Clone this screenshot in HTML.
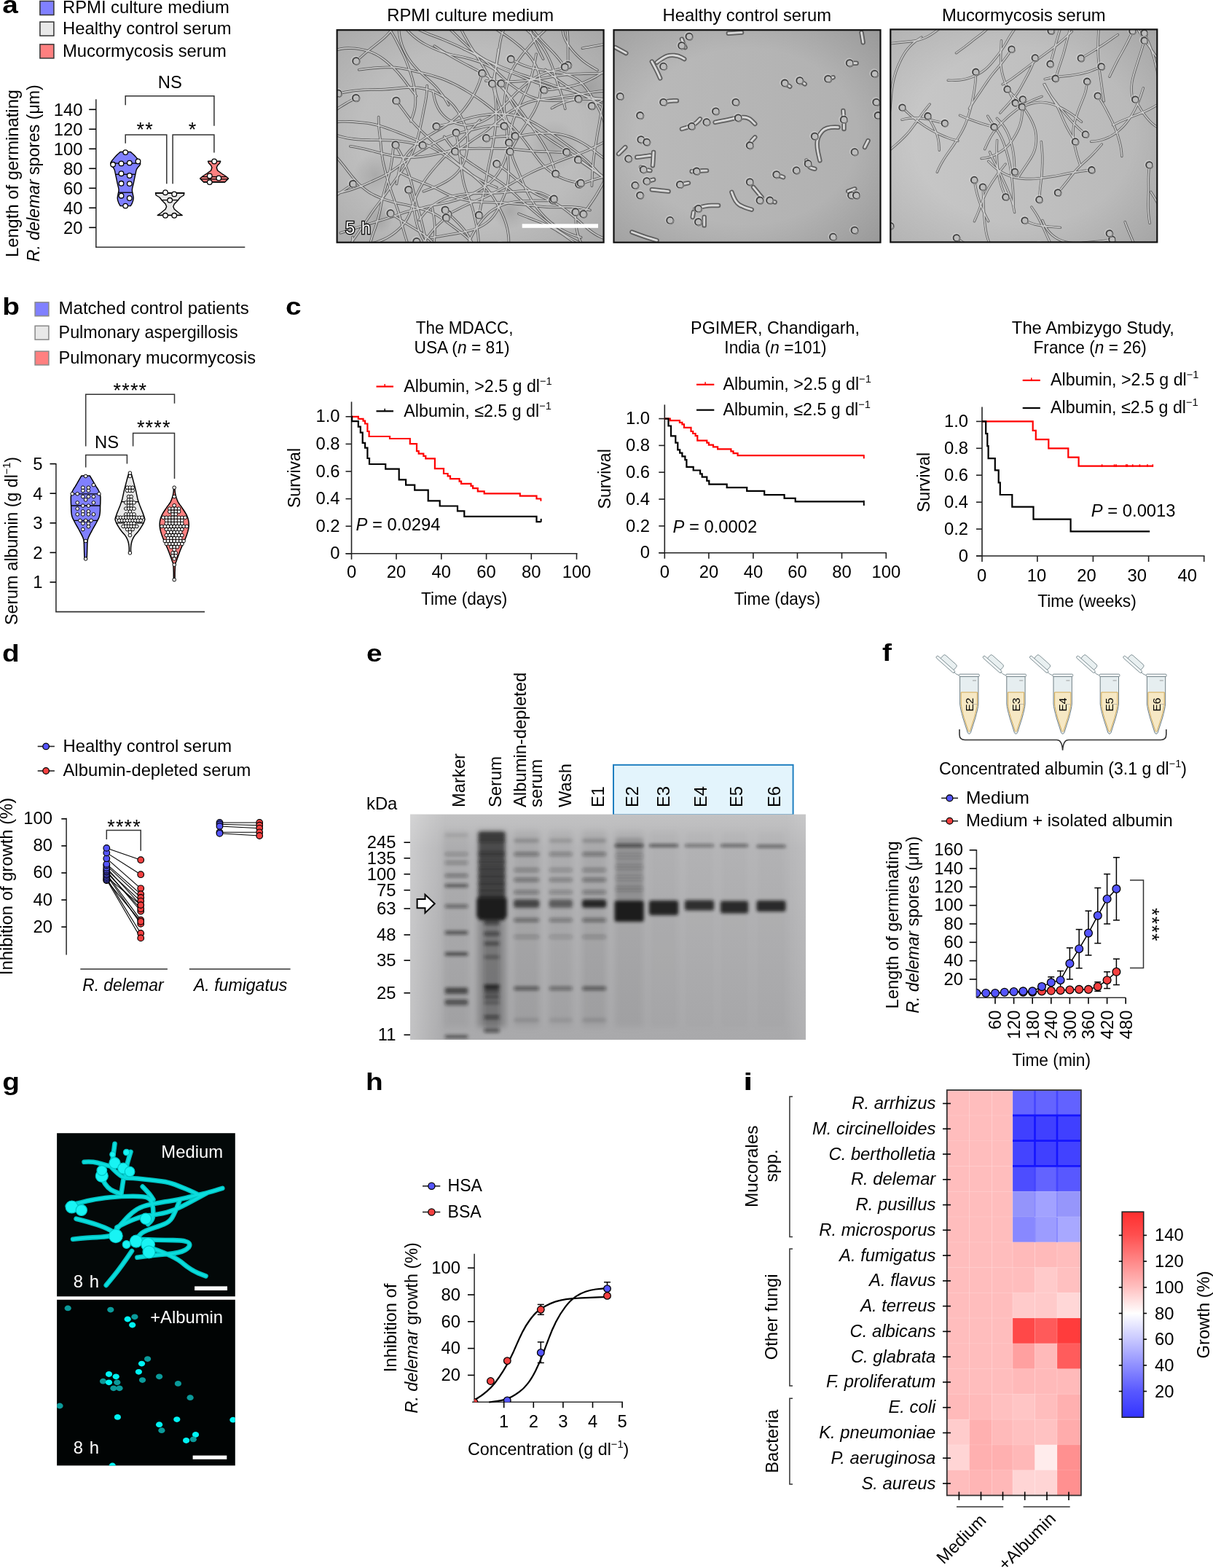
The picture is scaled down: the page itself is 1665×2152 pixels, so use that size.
<!DOCTYPE html>
<html><head><meta charset="utf-8"><title>Figure</title>
<style>
html,body{margin:0;padding:0;background:#fff;}
svg{display:block;}
</style></head><body>
<svg width="1665" height="2152" viewBox="0 0 1665 2152" font-family='"Liberation Sans", Arial, Helvetica, sans-serif' font-size="23.8">
<rect width="1665" height="2152" fill="#fff"/>
<text transform="translate(3.2 17.8) scale(1.14 1)" font-size="34" font-weight="bold">a</text>
<rect x="54.9" y="1.5" width="19.0" height="19.0" fill="#8080ff" stroke="#333" stroke-width="1.5"/>
<text x="86.0" y="17.9">RPMI culture medium</text>
<rect x="54.9" y="30.1" width="19.0" height="19.0" fill="#e8e8e8" stroke="#333" stroke-width="1.5"/>
<text x="86.0" y="47.2">Healthy control serum</text>
<rect x="54.9" y="60.9" width="19.0" height="19.0" fill="#ff8080" stroke="#333" stroke-width="1.5"/>
<text x="86.0" y="77.6">Mucormycosis serum</text>
<line x1="131.8" y1="136.2" x2="131.8" y2="339.3" stroke="#333" stroke-width="1.6"/>
<line x1="131.0" y1="339.3" x2="336.3" y2="339.3" stroke="#333" stroke-width="1.6"/>
<line x1="122.2" y1="150.3" x2="131.8" y2="150.3" stroke="#000" stroke-width="1.6"/>
<text x="113.5" y="158.6" text-anchor="end">140</text>
<line x1="122.2" y1="177.3" x2="131.8" y2="177.3" stroke="#000" stroke-width="1.6"/>
<text x="113.5" y="185.6" text-anchor="end">120</text>
<line x1="122.2" y1="204.3" x2="131.8" y2="204.3" stroke="#000" stroke-width="1.6"/>
<text x="113.5" y="212.6" text-anchor="end">100</text>
<line x1="122.2" y1="231.3" x2="131.8" y2="231.3" stroke="#000" stroke-width="1.6"/>
<text x="113.5" y="239.6" text-anchor="end">80</text>
<line x1="122.2" y1="258.3" x2="131.8" y2="258.3" stroke="#000" stroke-width="1.6"/>
<text x="113.5" y="266.6" text-anchor="end">60</text>
<line x1="122.2" y1="285.3" x2="131.8" y2="285.3" stroke="#000" stroke-width="1.6"/>
<text x="113.5" y="293.6" text-anchor="end">40</text>
<line x1="122.2" y1="312.3" x2="131.8" y2="312.3" stroke="#000" stroke-width="1.6"/>
<text x="113.5" y="320.6" text-anchor="end">20</text>
<text transform="translate(24.8 238.0) rotate(-90)" text-anchor="middle">Length of germinating</text>
<text transform="translate(53.5 237.8) rotate(-90) scale(0.971 1)" text-anchor="middle"><tspan font-style="italic">R. delemar</tspan> spores (μm)</text>
<path d="M179.2,208.5 L180.3,209.4 L181.8,210.8 L183.5,212.3 L185.2,214.0 L186.9,215.9 L188.8,218.1 L190.5,220.2 L191.7,222.0 L192.4,223.2 L192.6,224.1 L192.6,225.0 L192.2,226.0 L191.4,227.3 L190.1,228.8 L188.8,230.3 L187.7,232.0 L187.0,233.8 L186.6,235.6 L186.2,237.7 L185.7,240.0 L185.1,242.8 L184.4,246.0 L183.8,249.2 L183.2,252.0 L182.6,254.3 L182.1,256.4 L181.7,258.2 L181.4,260.0 L181.4,261.6 L181.6,263.1 L181.9,264.5 L182.2,266.0 L182.5,267.5 L182.8,269.0 L183.1,270.5 L183.2,272.0 L183.0,273.5 L182.7,275.1 L182.2,276.6 L181.7,278.0 L181.1,279.4 L180.4,280.7 L179.7,281.8 L179.2,282.6 L165.2,282.6 L164.7,281.8 L164.0,280.7 L163.3,279.4 L162.7,278.0 L162.2,276.6 L161.7,275.1 L161.4,273.5 L161.2,272.0 L161.3,270.5 L161.6,269.0 L161.9,267.5 L162.2,266.0 L162.5,264.5 L162.8,263.1 L163.0,261.6 L163.0,260.0 L162.7,258.2 L162.3,256.4 L161.8,254.3 L161.2,252.0 L160.6,249.2 L160.0,246.0 L159.3,242.8 L158.7,240.0 L158.2,237.7 L157.8,235.6 L157.4,233.8 L156.7,232.0 L155.6,230.3 L154.3,228.8 L153.0,227.3 L152.2,226.0 L151.8,225.0 L151.8,224.1 L152.0,223.2 L152.7,222.0 L153.9,220.2 L155.6,218.1 L157.5,215.9 L159.2,214.0 L160.9,212.3 L162.6,210.8 L164.1,209.4 L165.2,208.5Z" fill="#8080ff" stroke="#000" stroke-width="1.4" stroke-linejoin="round"/>
<line x1="151.8" y1="224.2" x2="192.6" y2="224.2" stroke="#000" stroke-width="1.3"/>
<line x1="158.6" y1="239.3" x2="185.8" y2="239.3" stroke="#000" stroke-width="1.3"/>
<line x1="162.5" y1="264.2" x2="181.9" y2="264.2" stroke="#000" stroke-width="1.3"/>
<path d="M252.9,264.7 L252.2,268.0 L247.2,271.0 L244.2,275.0 L239.2,280.0 L237.8,283.6 L239.2,287.0 L245.2,292.0 L250.2,295.5 L216.2,295.5 L221.2,292.0 L227.2,287.0 L228.6,283.6 L227.2,280.0 L222.2,275.0 L219.2,271.0 L214.2,268.0 L213.5,264.7Z" fill="#e8e8e8" stroke="#000" stroke-width="1.4" stroke-linejoin="round"/>
<line x1="213.6" y1="265.2" x2="252.8" y2="265.2" stroke="#000" stroke-width="1.3"/>
<line x1="221.9" y1="274.6" x2="244.5" y2="274.6" stroke="#000" stroke-width="1.3"/>
<line x1="216.5" y1="295.3" x2="249.9" y2="295.3" stroke="#000" stroke-width="1.3"/>
<path d="M302.7,221.3 L301.6,224.0 L298.6,227.0 L297.3,230.0 L298.6,234.0 L304.1,238.0 L310.1,242.0 L313.6,245.0 L311.1,247.5 L308.6,250.1 L279.6,250.1 L277.1,247.5 L274.6,245.0 L278.1,242.0 L284.1,238.0 L289.6,234.0 L290.9,230.0 L289.6,227.0 L286.6,224.0 L285.5,221.3Z" fill="#ff8080" stroke="#000" stroke-width="1.4" stroke-linejoin="round"/>
<line x1="277.4" y1="242.6" x2="310.8" y2="242.6" stroke="#000" stroke-width="1.3"/>
<line x1="275.4" y1="245.8" x2="312.8" y2="245.8" stroke="#000" stroke-width="1.3"/>
<line x1="279.1" y1="249.6" x2="309.1" y2="249.6" stroke="#000" stroke-width="1.3"/>
<circle cx="172.2" cy="209.1" r="3.3" fill="#fff" stroke="#000" stroke-width="1.3"/>
<circle cx="155.1" cy="225.8" r="3.3" fill="#fff" stroke="#000" stroke-width="1.3"/>
<circle cx="166.5" cy="224.4" r="3.3" fill="#fff" stroke="#000" stroke-width="1.3"/>
<circle cx="177.8" cy="223.6" r="3.3" fill="#fff" stroke="#000" stroke-width="1.3"/>
<circle cx="189.5" cy="221.5" r="3.3" fill="#fff" stroke="#000" stroke-width="1.3"/>
<circle cx="166.5" cy="238.2" r="3.3" fill="#fff" stroke="#000" stroke-width="1.3"/>
<circle cx="177.8" cy="241.0" r="3.3" fill="#fff" stroke="#000" stroke-width="1.3"/>
<circle cx="166.5" cy="251.8" r="3.3" fill="#fff" stroke="#000" stroke-width="1.3"/>
<circle cx="177.8" cy="252.1" r="3.3" fill="#fff" stroke="#000" stroke-width="1.3"/>
<circle cx="166.5" cy="268.7" r="3.3" fill="#fff" stroke="#000" stroke-width="1.3"/>
<circle cx="177.8" cy="272.0" r="3.3" fill="#fff" stroke="#000" stroke-width="1.3"/>
<circle cx="172.2" cy="282.6" r="3.3" fill="#fff" stroke="#000" stroke-width="1.3"/>
<circle cx="227.0" cy="264.2" r="3.3" fill="#fff" stroke="#000" stroke-width="1.3"/>
<circle cx="239.2" cy="266.4" r="3.3" fill="#fff" stroke="#000" stroke-width="1.3"/>
<circle cx="233.2" cy="274.8" r="3.3" fill="#fff" stroke="#000" stroke-width="1.3"/>
<circle cx="227.0" cy="295.8" r="3.3" fill="#fff" stroke="#000" stroke-width="1.3"/>
<circle cx="239.2" cy="295.8" r="3.3" fill="#fff" stroke="#000" stroke-width="1.3"/>
<circle cx="294.1" cy="221.5" r="3.3" fill="#fff" stroke="#000" stroke-width="1.3"/>
<circle cx="287.8" cy="241.5" r="3.3" fill="#fff" stroke="#000" stroke-width="1.3"/>
<circle cx="300.3" cy="244.4" r="3.3" fill="#fff" stroke="#000" stroke-width="1.3"/>
<circle cx="287.8" cy="250.1" r="3.3" fill="#fff" stroke="#000" stroke-width="1.3"/>
<polyline points="172.2,144.3 172.2,131.7 293.9,131.7 293.9,172.8" fill="none" stroke="#333" stroke-width="1.5"/>
<text x="233.3" y="120.6" text-anchor="middle">NS</text>
<polyline points="172.2,196.8 172.2,184.9 228.8,184.9 228.8,252.3" fill="none" stroke="#333" stroke-width="1.5"/>
<text x="199.3" y="186.5" font-size="27" text-anchor="middle" letter-spacing="1.2">**</text>
<polyline points="237.1,252.3 237.1,184.9 293.9,184.9 293.9,209.4" fill="none" stroke="#333" stroke-width="1.5"/>
<text x="263.9" y="186.5" font-size="27" text-anchor="middle">*</text>
<text x="645.6" y="29.0" text-anchor="middle">RPMI culture medium</text>
<text x="1025.3" y="29.0" text-anchor="middle">Healthy control serum</text>
<text x="1405.3" y="29.0" text-anchor="middle">Mucormycosis serum</text>
<defs><clipPath id="m1"><rect x="462.6" y="41.2" width="366" height="291.5"/></clipPath><linearGradient id="m1g" x1="0" y1="1" x2="1" y2="0"><stop offset="0" stop-color="#c0c0c0"/><stop offset="1" stop-color="#bababa"/></linearGradient><radialGradient id="m1v" cx="0.5" cy="0.5" r="0.75"><stop offset="0.55" stop-color="#000" stop-opacity="0"/><stop offset="1" stop-color="#000" stop-opacity="0.12"/></radialGradient></defs>
<g clip-path="url(#m1)">
<rect x="462.6" y="41.2" width="366.0" height="291.5" fill="url(#m1g)"/>
<rect x="462.6" y="41.2" width="366.0" height="291.5" fill="url(#m1v)"/>
<defs><radialGradient id="m1b"><stop offset="0" stop-color="#000" stop-opacity="0.11"/><stop offset="1" stop-color="#000" stop-opacity="0"/></radialGradient></defs>
<circle cx="515" cy="240" r="30" fill="url(#m1b)"/>
<circle cx="760" cy="200" r="35" fill="url(#m1b)"/>
<circle cx="700" cy="290" r="25" fill="url(#m1b)"/>
<circle cx="520" cy="300" r="20" fill="url(#m1b)"/>
<circle cx="810" cy="120" r="30" fill="url(#m1b)"/>
<path d="M624.7,207.9Q633.3,202.8 637.4,200Q641.6,197.2 645.7,194.4Q649.8,191.5 654,188.8Q658.2,186.1 662.4,183.3Q666.5,180.5 670.4,177.3Q674.3,174.2 678.1,170.9Q681.8,167.7 685.6,164.4Q689.4,161.1 693.4,158.1Q697.3,155 701.6,152.4Q705.9,149.8 710.3,147.5Q714.7,145.1 719.2,143Q723.8,140.9 728.6,139.5Q733.4,138.1 738.3,137.2Q743.2,136.4 748.2,135.8Q753.2,135.2 758.1,134.5Q763.1,133.8 768,133.1Q773,132.5 777.9,131.8Q782.9,131.1 787.8,130.4Q792.8,129.7 797.7,128.9Q802.7,128.1 807.6,127.3Q812.5,126.6 817.5,126Q822.5,125.3 827.5,125.1Q832.4,124.9 837.4,125Q842.4,125.1 847.4,125.1L852.4,125.1 M707.2,186.9Q702.3,178.2 699.8,173.8Q697.3,169.5 695.5,164.8Q693.7,160.2 692.9,155.2Q692.1,150.3 692.1,145.3Q692.1,140.3 692.7,135.3Q693.4,130.4 694.3,125.5Q695.2,120.6 696.4,115.7Q697.5,110.8 699.1,106.1Q700.6,101.3 702.8,96.8Q704.9,92.3 707.7,88.1Q710.4,84 713.4,79.9Q716.3,75.8 719.5,72Q722.8,68.2 726,64.4Q729.1,60.5 732.5,56.9Q735.9,53.2 739.5,49.7Q743.1,46.2 746.8,42.8Q750.5,39.5 754.4,36.3Q758.2,33.1 762.5,30.6Q766.8,28 771,25.3Q775.3,22.7 779.5,20.1Q783.8,17.5 788.1,14.9Q792.4,12.3 796.7,9.7Q800.9,7.2 805.1,4.4Q809.3,1.6 813.2,-1.5L817,-4.7 M464.3,128.4Q474.1,126.4 479,125.6Q483.9,124.8 488.9,124.3Q493.9,123.7 498.9,123.4Q503.9,123.1 508.9,123Q513.9,122.9 518.9,122.9Q523.9,122.8 528.9,122.6Q533.9,122.3 538.8,121.9Q543.8,121.4 548.8,120.9Q553.8,120.3 558.7,120.1Q563.7,119.9 568.7,120.1Q573.7,120.3 578.7,121.1Q583.6,121.9 588.4,123.4Q593.2,124.8 597.7,126.9Q602.3,129 606.5,131.6Q610.8,134.2 614.7,137.3Q618.6,140.4 621.9,144.2Q625.1,148 627.9,152.2Q630.6,156.3 633.1,160.7Q635.5,165.1 637.3,169.8Q639,174.4 640.2,179.3Q641.3,184.2 641.7,189.2Q642.2,194.1 641.8,199.1Q641.4,204.1 640.7,209.1Q640,214 638.4,218.8Q636.9,223.5 634.3,227.8Q631.8,232.1 628.6,235.9Q625.3,239.7 621.4,242.9Q617.5,246 613.2,248.6Q608.9,251.1 604.4,253.3Q599.9,255.5 595.3,257.5Q590.7,259.4 586,261L581.3,262.7 M681.9,97.1Q673.3,92 668.8,89.7Q664.4,87.5 659.7,85.6Q655.1,83.8 650.3,82.4Q645.5,80.9 640.7,79.7Q635.8,78.4 630.9,77.4Q626,76.4 621.1,75.4Q616.3,74.3 611.5,72.8Q606.7,71.3 602.1,69.4Q597.5,67.5 592.9,65.4Q588.4,63.3 584,61Q579.5,58.7 575.4,55.8Q571.3,53 567.5,49.7Q563.8,46.4 560.3,42.8Q556.9,39.2 554,35.1Q551.2,31 548.7,26.6Q546.3,22.2 544,17.8Q541.7,13.3 539.5,8.9Q537.2,4.4 535,-0.1Q532.8,-4.6 530.7,-9.1Q528.6,-13.6 526.7,-18.2Q524.7,-22.9 523,-27.5Q521.2,-32.2 519.5,-36.9L517.8,-41.6 M688,114.7Q692.8,123.5 695.2,127.9Q697.6,132.2 699.9,136.7Q702.2,141.1 704.8,145.4Q707.5,149.6 710.4,153.6Q713.4,157.6 716.8,161.3Q720.2,165 723.9,168.4Q727.6,171.7 731.5,174.8Q735.4,178 739.5,180.9Q743.6,183.7 747.7,186.6Q751.8,189.4 755.9,192.3Q760,195.1 764.2,197.8Q768.4,200.5 772.6,203.2Q776.8,205.9 781,208.7Q785.2,211.4 789.3,214.3Q793.3,217.3 797.3,220.3Q801.3,223.3 805.3,226.3Q809.3,229.3 813.4,232.1Q817.6,234.8 821.7,237.7Q825.8,240.6 829.6,243.8Q833.5,247 837.1,250.4Q840.7,253.9 844.3,257.4Q847.8,260.9 851.5,264.3Q855.1,267.7 858.9,271.1Q862.6,274.4 866.3,277.7Q870.1,281 873.5,284.7Q876.9,288.3 880.1,292.2Q883.2,296.1 886.1,300.2Q889.1,304.2 892.4,307.9Q895.7,311.7 899,315.4Q902.3,319.2 905.6,323L908.9,326.7 M746.8,123.6Q756.8,122.9 761.7,122.1Q766.7,121.3 771.6,120.6Q776.6,119.8 781.5,118.8Q786.4,117.8 791.2,116.6Q796,115.3 800.7,113.4Q805.3,111.5 809.8,109.4Q814.3,107.2 818.7,104.8Q823,102.3 827.1,99.4Q831.2,96.6 834.8,93.1Q838.4,89.5 841.6,85.7Q844.7,81.9 847.5,77.7Q850.2,73.5 852.7,69.1Q855.1,64.8 856.9,60.1Q858.7,55.4 859.7,50.5Q860.7,45.6 860.9,40.6L861.1,35.6 M681.9,225Q690.2,230.6 694.1,233.7Q698,236.8 701.8,240.1Q705.6,243.4 709.4,246.7Q713.2,249.9 717,253.2Q720.8,256.4 724.8,259.4Q728.8,262.4 733.2,264.8Q737.6,267.2 742.1,269.3Q746.7,271.4 751.2,273.5Q755.7,275.6 760.2,277.8Q764.6,280.1 768.8,282.8Q773,285.5 777,288.6Q781,291.6 784.8,294.8Q788.7,298 792.4,301.3Q796.2,304.6 799.9,308Q803.6,311.3 807.5,314.5Q811.3,317.7 815.5,320.4Q819.7,323.2 824.2,325.2Q828.8,327.3 833.5,328.8Q838.3,330.3 843.2,331.3Q848.1,332.4 853.1,332.9Q858,333.5 863,334Q868,334.5 873,335Q877.9,335.5 882.9,336.2Q887.9,336.8 892.8,337.8Q897.6,338.8 902.5,339.9Q907.4,341 912.3,341.8Q917.3,342.6 922.2,343.2Q927.2,343.9 932.2,344.3L937.2,344.7 M615.2,294Q624.1,289.4 628.6,287.1Q633,284.8 637.5,282.7Q642.1,280.6 646.6,278.6Q651.2,276.5 655.9,274.7Q660.5,272.9 665.1,270.9Q669.7,268.8 674.1,266.6Q678.6,264.3 683.1,262.1Q687.6,259.9 692,257.5Q696.3,255.1 700.7,252.6Q705,250.2 709.4,247.7Q713.7,245.1 718,242.7Q722.4,240.2 726.8,238Q731.3,235.7 735.9,233.6Q740.4,231.6 745.1,229.8Q749.7,228 754.4,226.1Q759.1,224.3 763.8,222.6Q768.5,220.9 773.1,219.1Q777.8,217.4 782.5,215.5Q787.1,213.7 791.9,212.1Q796.6,210.6 801.3,208.7Q805.9,206.9 810.4,204.7Q814.9,202.6 819.3,200.2Q823.7,197.8 828.3,195.7Q832.8,193.6 837.4,191.7Q842,189.8 846.9,188.5Q851.7,187.2 856.6,186.4Q861.6,185.6 866.5,185.1Q871.5,184.6 876.5,184.2Q881.5,183.8 886.5,183.6Q891.5,183.3 896.5,183.1Q901.5,182.9 906.5,182.8Q911.5,182.8 916.5,183.2Q921.4,183.5 926.3,184.5Q931.2,185.6 936,187.2L940.7,188.8 M487.9,28.5Q480.7,21.5 476.8,18.4Q472.9,15.2 469,12.2Q465,9.1 460.7,6.6Q456.3,4.1 451.8,2.1Q447.2,0.1 442.4,-1.4Q437.6,-2.8 432.7,-3.7Q427.8,-4.6 422.8,-4.9Q417.8,-5.3 412.8,-5.6Q407.8,-5.9 402.8,-6.1Q397.8,-6.2 392.8,-6.3Q387.8,-6.4 382.8,-6.3Q377.8,-6.2 372.8,-5.8Q367.9,-5.5 362.9,-5.2Q357.9,-5 352.9,-4.6Q347.9,-4.3 342.9,-3.7Q338,-3 333.1,-1.9Q328.2,-0.7 323.6,1.1Q318.9,2.8 314.6,5.4Q310.3,7.9 306.2,10.8Q302.2,13.8 298.3,16.9Q294.3,20 290.6,23.3Q286.9,26.6 283.1,29.9Q279.3,33.1 275.5,36.4Q271.7,39.7 267.8,42.9L264,46 M825.7,143.9Q816.7,139.3 812.4,136.8Q808.1,134.3 803.6,132Q799.2,129.7 794.5,128Q789.9,126.2 785.1,124.7Q780.3,123.3 775.4,122Q770.6,120.7 765.8,119.3Q761,117.8 756.4,116.1Q751.7,114.3 747,112.7Q742.2,111 737.5,109.4Q732.8,107.8 728,106.4Q723.2,105 718.5,103.3Q713.8,101.5 709.1,99.9Q704.3,98.3 699.7,96.5Q695,94.7 690.4,92.8Q685.8,90.8 681.2,88.8Q676.6,86.8 672.1,84.8Q667.5,82.8 663,80.5Q658.5,78.3 654.1,76Q649.6,73.7 645.2,71.5Q640.7,69.3 636.2,67Q631.8,64.7 627.2,62.6Q622.7,60.6 618.1,58.6Q613.5,56.6 608.9,54.7Q604.3,52.7 599.6,51Q594.9,49.3 590.2,47.5Q585.6,45.6 581,43.6Q576.5,41.6 572.1,39Q567.8,36.5 563.8,33.5Q559.8,30.5 556.2,27Q552.6,23.6 549.4,19.7Q546.3,15.8 543.6,11.7Q540.8,7.5 538.4,3.1Q535.9,-1.2 533.8,-5.8Q531.7,-10.3 530.1,-15.1L528.5,-19.8 M794.9,253.2Q804.4,250 809.2,248.5Q813.9,246.9 818.7,245.5Q823.5,244 828.3,242.9Q833.2,241.7 838.1,240.7Q843,239.8 848,239.3Q853,238.8 858,238.6Q863,238.3 868,238Q872.9,237.7 877.9,237.6Q882.9,237.4 887.9,237.1Q892.9,236.8 897.9,236.4Q902.9,235.9 907.9,235.5Q912.8,235 917.8,234.9Q922.8,234.8 927.8,234.5Q932.8,234.3 937.8,234Q942.8,233.8 947.8,233.9Q952.8,234.1 957.7,234.8Q962.7,235.6 967.5,236.8Q972.4,237.9 977.2,239.3Q982,240.7 986.8,242.2Q991.6,243.6 996.4,244.9Q1001.2,246.2 1006.1,247.4Q1011,248.5 1015.9,249.4Q1020.8,250.3 1025.8,251Q1030.7,251.7 1035.6,252.5Q1040.6,253.3 1045.5,254.2L1050.4,255.1 M777.8,208.9Q767.8,209 762.8,208.7Q757.8,208.4 752.8,208.3Q747.8,208.3 742.9,208.1Q737.9,207.9 732.9,207.5Q727.9,207.1 722.9,206.6Q717.9,206.1 713,205.6Q708,205.1 703,204.6Q698,204.1 693,203.9Q688,203.8 683,203.8Q678,203.8 673,203.8Q668,203.7 663,203.7Q658,203.6 653,203.7Q648.1,203.8 643.1,203.9Q638.1,204 633.1,204.4Q628.1,204.8 623.2,205.8Q618.3,206.8 613.5,208.1Q608.6,209.3 603.7,210.5Q598.9,211.6 594,212.5Q589,213.5 584.1,214.2Q579.2,214.9 574.2,215.4Q569.2,215.9 564.2,215.9Q559.2,215.9 554.2,215.6Q549.2,215.3 544.3,214.6Q539.3,213.8 534.4,212.8Q529.5,211.8 524.7,210.7Q519.8,209.5 515,208.2Q510.1,207 505.3,205.7Q500.5,204.5 495.6,203.5Q490.7,202.4 485.7,201.5L480.8,200.7 M658.9,164.8Q652,172.1 648.6,175.8Q645.3,179.5 641.9,183.2Q638.6,186.9 635,190.4Q631.4,193.9 627.8,197.3Q624.2,200.8 620.7,204.4Q617.2,208 613.7,211.5Q610.2,215 606.8,218.7Q603.4,222.4 600.1,226.1Q596.8,229.9 593.6,233.7Q590.4,237.6 587.3,241.5Q584.3,245.5 581.6,249.7Q579,254 576.6,258.4Q574.3,262.8 572.2,267.3Q570.1,271.9 568.5,276.6Q566.8,281.3 565.1,286Q563.3,290.7 561.4,295.3Q559.4,299.9 556.6,304Q553.8,308.2 550.3,311.8Q546.8,315.3 542.9,318.5Q539,321.6 534.8,324.3Q530.6,327 526,329Q521.5,331 516.7,332.5Q511.9,333.9 507,334.8L502,335.6 M611.2,288.4Q618.2,295.5 621.8,299Q625.4,302.5 628.9,306Q632.4,309.6 635.6,313.4Q638.9,317.2 641.5,321.5Q644.1,325.7 646.4,330.2Q648.7,334.6 650.6,339.2Q652.5,343.9 653.8,348.7Q655.2,353.5 656.2,358.4Q657.1,363.3 657.9,368.2Q658.8,373.2 659.6,378.1Q660.4,383 661.3,387.9Q662.3,392.9 663.2,397.8Q664.2,402.7 665,407.6Q665.9,412.5 666.5,417.5Q667.1,422.4 667.4,427.4Q667.6,432.4 667.9,437.4Q668.2,442.4 668.6,447.4Q668.9,452.4 669.2,457.4Q669.6,462.4 669.7,467.4Q669.9,472.4 669.8,477.4Q669.7,482.4 669,487.3Q668.4,492.3 666.7,497Q665.1,501.7 662.7,506.1L660.4,510.5 M453.2,344.9Q443.5,347.5 438.7,348.6Q433.8,349.8 429,351.1Q424.2,352.4 419.4,353.8Q414.6,355.2 409.8,356.8Q405.1,358.3 400.4,360Q395.6,361.7 391,363.6Q386.4,365.5 382,367.9Q377.7,370.3 373.5,373.1Q369.3,375.8 365.2,378.7Q361,381.5 357,384.4Q352.9,387.2 349,390.4Q345,393.5 341.3,396.7Q337.5,400 333.7,403.3Q329.9,406.5 326.2,409.8Q322.4,413.2 318.7,416.5Q315,419.9 311.1,423Q307.2,426.2 303.4,429.3Q299.5,432.5 295.7,435.8Q291.9,439 288.5,442.7Q285.1,446.4 282.2,450.4Q279.3,454.5 276.9,458.9Q274.5,463.3 272.8,468Q271.1,472.7 270,477.6Q269,482.5 268.2,487.4Q267.4,492.3 266.7,497.3Q266.1,502.2 265.7,507.2Q265.2,512.2 264.4,517.1Q263.6,522.1 262.5,526.9Q261.5,531.8 260.6,536.8Q259.7,541.7 258.9,546.6Q258,551.5 257.4,556.5L256.8,561.5 M812.4,255.1Q812.9,245.1 813.1,240.1Q813.3,235.1 813.7,230.1Q814,225.1 814.6,220.2Q815.2,215.2 815.9,210.3Q816.6,205.3 817.4,200.4Q818.3,195.4 819,190.5Q819.7,185.5 820.6,180.6Q821.5,175.7 822.4,170.8Q823.3,165.9 824.1,160.9Q824.9,156 825.9,151.1Q827,146.2 828.1,141.3Q829.2,136.5 830.2,131.6Q831.2,126.7 832.4,121.8Q833.6,117 834.7,112.1Q835.7,107.2 836.6,102.3Q837.5,97.4 837.5,92.4Q837.5,87.4 837.4,82.4Q837.3,77.4 836.9,72.4Q836.5,67.4 835.6,62.5Q834.7,57.6 833.4,52.7Q832.2,47.9 830,43.4Q827.9,38.8 825.4,34.5Q822.9,30.2 820.1,26Q817.4,21.9 814.4,17.8Q811.4,13.8 808.2,10Q804.9,6.2 801.4,2.7Q797.9,-0.9 794.2,-4.3Q790.5,-7.6 786.7,-10.9Q782.9,-14.2 779.2,-17.6Q775.5,-20.9 772,-24.4Q768.5,-28 765.1,-31.7L761.8,-35.4 M667.6,189.7Q677.5,188.3 682.5,187.8Q687.4,187.3 692.4,187.1Q697.4,186.9 702.4,186.7Q707.4,186.6 712.4,186.2Q717.4,185.9 722.3,185.1Q727.3,184.3 732.2,183.8Q737.2,183.2 742.2,182.9Q747.2,182.6 752.2,182.6Q757.2,182.7 762.2,183.2Q767.1,183.8 772,184.9Q776.9,186 781.6,187.7Q786.3,189.4 790.8,191.6Q795.3,193.7 799.7,196.2Q804,198.6 808.1,201.5Q812.3,204.3 816.2,207.4Q820.1,210.5 824.1,213.5Q828.1,216.6 832.1,219.5Q836.1,222.5 840.2,225.3Q844.4,228.1 848.5,230.9Q852.7,233.7 856.9,236.3Q861.2,239 865.6,241.3Q870.1,243.6 874.7,245.5Q879.3,247.5 883.8,249.5Q888.4,251.5 893,253.5Q897.6,255.5 902.1,257.6Q906.7,259.7 911.2,261.8Q915.7,263.9 920.2,266.2L924.7,268.4 M757.4,148.5Q766.1,143.5 770.8,141.7Q775.5,139.9 780.3,138.7Q785.2,137.5 790.1,136.8Q795.1,136.1 800.1,136Q805.1,135.9 810.1,136.2Q815.1,136.4 820.1,136.3Q825.1,136.2 830.1,136Q835,135.7 840,135.3Q845,135 850,134.7Q855,134.5 860,134.8Q865,135 870,135.5Q874.9,136 879.9,136.1Q884.9,136.1 889.9,136Q894.9,135.9 899.9,135.7Q904.9,135.5 909.9,134.9Q914.9,134.4 919.9,133.9Q924.8,133.4 929.8,133Q934.8,132.7 939.8,132.4Q944.8,132.1 949.8,131.8Q954.8,131.5 959.8,131.5Q964.8,131.5 969.8,131.9Q974.7,132.2 979.7,133Q984.6,133.8 989.4,135.1Q994.3,136.4 999,138Q1003.8,139.5 1008.5,141.1Q1013.3,142.7 1018,144.3Q1022.7,145.9 1027.4,147.7Q1032,149.6 1036.7,151.4Q1041.4,153.1 1046,155Q1050.7,156.8 1055.5,158Q1060.4,159.2 1065.4,159.7L1070.3,160.2 M748.5,95.4Q756,102.1 759.9,105.2Q763.7,108.4 767.8,111.3Q771.9,114.1 776.1,116.9Q780.2,119.7 784.5,122.3Q788.7,125 793.2,127.2Q797.7,129.4 802.4,131.1Q807.1,132.8 812,133.8Q816.9,134.9 821.9,135.4Q826.8,135.9 831.8,135.8Q836.8,135.8 841.8,135.3Q846.8,134.8 851.8,134.5Q856.8,134.3 861.8,134.7Q866.7,135.1 871.7,135.7Q876.7,136.3 881.6,137.2Q886.5,138.2 891.4,139.3Q896.2,140.5 901,141.8Q905.9,143.1 910.6,144.8Q915.3,146.4 919.9,148.3Q924.6,150.2 929.2,152.1Q933.8,154.1 938.4,156Q943,158 947.6,159.9Q952.2,161.9 956.7,164.1Q961.2,166.3 965.5,168.8Q969.8,171.3 974.1,173.8Q978.4,176.4 982.8,178.8Q987.1,181.3 991.6,183.5Q996.1,185.8 1000.6,188Q1005,190.2 1009.5,192.5Q1014,194.7 1018.3,197.2Q1022.7,199.6 1027,202.2Q1031.2,204.8 1035.6,207.2Q1040.1,209.5 1044.5,211.7Q1049,213.9 1053.5,216.1Q1058,218.3 1062.5,220.5L1067,222.8 M519.6,160.5Q519.7,170.5 520.2,175.5Q520.7,180.4 521.3,185.4Q521.9,190.4 522.5,195.3Q523,200.3 523.4,205.3Q523.9,210.3 524.7,215.2Q525.4,220.2 526.5,225Q527.6,229.9 528.8,234.8Q530,239.6 531.3,244.4Q532.7,249.3 534.2,254Q535.8,258.8 537.4,263.5Q539,268.2 540.7,272.9Q542.3,277.7 544,282.4Q545.7,287.1 547.2,291.8Q548.8,296.6 550,301.4Q551.2,306.3 552.6,311.1Q553.9,315.9 555.3,320.7Q556.7,325.5 558.2,330.3Q559.7,335 561,339.9Q562.3,344.7 563.3,349.6Q564.2,354.5 564.9,359.5Q565.5,364.4 565.9,369.4Q566.3,374.4 566.6,379.4Q566.9,384.4 567.3,389.4Q567.6,394.4 567.7,399.4Q567.7,404.4 567.6,409.4Q567.4,414.4 567.3,419.4Q567.2,424.4 567,429.4Q566.7,434.3 566.3,439.3Q565.8,444.3 565.1,449.3Q564.5,454.2 563.9,459.2Q563.3,464.1 562.5,469.1Q561.8,474 560.6,478.9L559.4,483.7 M829.4,340.8Q838,335.8 842.3,333.1Q846.5,330.5 850.7,327.7Q854.8,324.8 859,322.1Q863.1,319.3 867.5,316.9Q871.9,314.6 876.4,312.4Q880.9,310.2 885.5,308.1Q890,306.1 894.7,304.3Q899.4,302.6 904.1,301Q908.9,299.3 913.7,298Q918.5,296.6 923.3,295.2Q928.1,293.9 933,292.7Q937.8,291.5 942.7,290.6Q947.6,289.6 952.6,289.1Q957.6,288.6 962.6,288.5Q967.6,288.4 972.6,288.5Q977.6,288.5 982.6,288.7Q987.6,289 992.6,289.1Q997.6,289.3 1002.6,289.6Q1007.5,289.9 1012.5,290.6Q1017.4,291.3 1022.3,292.5Q1027.2,293.6 1032,295.1Q1036.8,296.5 1041.4,298.4Q1046,300.2 1050.5,302.5Q1055,304.7 1059.4,307L1063.8,309.3 M712,293.4Q721.3,297.2 725.9,299Q730.6,300.9 735.3,302.6Q739.9,304.3 744.6,306.3Q749.2,308.2 753.6,310.5Q758.1,312.7 762.4,315.3Q766.7,317.9 770.8,320.6Q775,323.4 779.1,326.3Q783.2,329.1 787.3,332Q791.4,334.8 795.5,337.7Q799.6,340.5 803.9,343Q808.2,345.6 812.7,347.9Q817.1,350.2 821.6,352.5Q826,354.8 830.5,357Q834.9,359.3 839.5,361.2Q844.1,363.2 848.8,365Q853.5,366.8 858.2,368.3Q863,369.7 868,370.5Q872.9,371.4 877.8,372.2Q882.8,373 887.7,373.7Q892.7,374.4 897.6,374.8Q902.6,375.2 907.6,375Q912.6,374.8 917.6,374Q922.5,373.2 927.3,371.8Q932.1,370.4 936.6,368.2Q941,365.9 944.9,362.8Q948.7,359.6 952.1,355.9L955.5,352.2 M800.9,294Q806.4,285.6 809.3,281.6Q812.2,277.5 815,273.3Q817.7,269.1 820.2,264.8Q822.8,260.5 825.2,256.2Q827.7,251.8 829.8,247.3Q832,242.8 833.9,238.1Q835.7,233.5 837.3,228.8Q839,224 840.4,219.2Q841.8,214.5 842.4,209.5Q843,204.5 842.8,199.5Q842.6,194.5 841.8,189.6Q841.1,184.6 840,179.8Q838.9,174.9 837.7,170Q836.6,165.2 835.2,160.3Q833.9,155.5 832.9,150.6Q832,145.7 831.5,140.7Q831.1,135.7 831.1,130.7Q831.2,125.7 831.8,120.8Q832.5,115.8 833.8,111Q835.2,106.2 837.1,101.6Q839,97 841.2,92.5Q843.4,88 846.1,83.8Q848.8,79.5 851.8,75.6Q854.9,71.6 857.9,67.7Q861,63.7 863.8,59.6Q866.6,55.4 869.3,51.2Q872.1,47.1 874.7,42.8Q877.4,38.6 880.1,34.4Q882.8,30.2 885.6,26Q888.4,21.9 891.3,17.8Q894.2,13.8 897.5,10Q900.9,6.3 904.3,2.7Q907.8,-0.9 911.4,-4.4Q915,-7.9 918.7,-11.2L922.3,-14.6 M758.7,121.1Q749.3,117.8 744.5,116.2Q739.8,114.6 735.1,113Q730.3,111.3 725.7,109.4Q721.1,107.4 716.5,105.5Q711.9,103.6 707.2,101.8Q702.5,100.1 697.9,98.2Q693.2,96.3 688.7,94.2Q684.2,92 679.8,89.7Q675.4,87.4 671,84.9Q666.7,82.4 662.4,79.8Q658.2,77.1 654.3,74.1Q650.3,71 646.6,67.6Q642.9,64.3 639.2,61Q635.5,57.6 631.9,54.1Q628.3,50.6 624.8,47.1Q621.2,43.6 617.6,40.1Q614,36.6 610.7,32.9Q607.3,29.2 604.1,25.3Q600.9,21.5 597.9,17.5Q594.8,13.6 591.9,9.5Q589,5.4 586.1,1.4Q583.1,-2.6 580.1,-6.6Q577.1,-10.7 574.2,-14.7Q571.3,-18.8 568.2,-22.7Q565.1,-26.6 561.7,-30.3Q558.4,-34 554.8,-37.5Q551.2,-41 547.5,-44.3Q543.7,-47.7 540.1,-51Q536.4,-54.4 532.7,-57.8Q529,-61.2 525.6,-64.9Q522.3,-68.6 518.9,-72.3Q515.6,-76 512.3,-79.8L509,-83.5 M543.1,199Q548.2,207.6 550.5,212.1Q552.8,216.5 554.6,221.2Q556.4,225.8 558.1,230.5Q559.9,235.2 561.5,239.9Q563,244.7 564.4,249.5Q565.7,254.3 566.8,259.2Q568,264.1 569.1,268.9Q570.2,273.8 571.5,278.7Q572.8,283.5 574.3,288.3Q575.7,293 577,297.9Q578.3,302.7 579.5,307.6Q580.7,312.4 581.8,317.3Q582.8,322.2 583.9,327.1Q585,331.9 586,336.8Q587.1,341.7 588.3,346.6Q589.5,351.4 590.8,356.3Q592.1,361.1 593.5,365.9Q594.9,370.7 596.3,375.5Q597.7,380.3 599.2,385Q600.8,389.8 602.7,394.4Q604.6,399.1 606.8,403.5Q609.1,408 611.4,412.4Q613.7,416.9 615.7,421.4Q617.7,426 619.6,430.6Q621.5,435.3 623.1,440Q624.7,444.7 625.9,449.6Q627.1,454.4 627.8,459.4Q628.6,464.3 629.4,469.3Q630.2,474.2 630.9,479.2Q631.6,484.1 632.5,489Q633.4,493.9 634.1,498.9L634.8,503.8 M599.1,173.6Q608.9,171.5 613.8,170.4Q618.7,169.3 623.5,167.9Q628.3,166.5 633.1,165.2Q637.9,163.8 642.7,162.5Q647.6,161.1 652.5,160.1Q657.3,159.1 662.3,158.3Q667.2,157.5 672.2,156.9Q677.1,156.3 682.1,156.2Q687.1,156.1 692.1,156.5Q697.1,156.8 702.1,157.6Q707,158.4 711.8,159.7Q716.6,161.1 721.3,163Q725.9,164.8 730.3,167.1Q734.8,169.5 739,172Q743.3,174.6 747.5,177.3Q751.7,180.1 755.9,182.8Q760.1,185.6 764.1,188.5Q768.2,191.4 772.2,194.4Q776.2,197.4 780.3,200.3Q784.3,203.2 788.4,206.1Q792.4,209.1 796.2,212.3Q800,215.6 803.8,218.9Q807.5,222.2 810.9,225.8Q814.4,229.5 817.7,233.2Q821.1,236.9 824.5,240.6Q827.9,244.2 831.5,247.7Q835.1,251.1 838.6,254.7Q842.1,258.3 845.4,262Q848.7,265.8 851.9,269.6Q855,273.5 857.8,277.7Q860.5,281.9 862.8,286.3Q865.1,290.8 866.9,295.4Q868.8,300.1 870.5,304.8L872.2,309.5 M793.6,219.4Q801.9,224.9 806,227.7Q810.2,230.6 814.2,233.5Q818.3,236.4 822.3,239.3Q826.4,242.3 830.2,245.5Q834.1,248.7 837.9,251.9Q841.7,255.2 845.6,258.3Q849.5,261.3 853.6,264.2Q857.7,267.2 861.8,270Q865.9,272.8 870.4,275.1Q874.8,277.5 879.4,279.3Q884,281.2 888.8,282.7Q893.6,284.3 898.4,285.6Q903.2,286.8 908.1,287.9Q913,289 918,289.6Q922.9,290.2 927.9,290.7Q932.9,291.1 937.8,291.8Q942.8,292.6 947.7,293.5Q952.6,294.4 957.5,295.2Q962.5,296.1 967.4,296.7L972.4,297.3 M571.4,131.8Q565.2,123.9 562.2,119.9Q559.1,116 556.2,111.9Q553.2,107.9 550,104Q546.9,100.2 543.4,96.6Q540,92.9 536.3,89.6Q532.6,86.2 528.7,83Q524.8,79.9 520.6,77.2Q516.3,74.6 511.7,72.6Q507.2,70.6 502.3,69.3Q497.5,67.9 492.6,67.2Q487.6,66.5 482.6,66.3Q477.6,66 472.7,66.4Q467.7,66.8 462.9,68.2Q458.1,69.6 453.8,72.2Q449.5,74.7 445.8,78.1Q442.1,81.5 439,85.4L435.8,89.3 M701.4,81.3Q710.2,86 714.8,88.1Q719.4,90.1 724.1,91.6Q728.9,93.2 733.8,94.1Q738.7,95.1 743.6,96Q748.5,96.9 753.5,97.5Q758.4,98.2 763.4,98.9Q768.3,99.6 773.2,100.8Q778.1,102 782.7,103.9Q787.3,105.8 791.5,108.5Q795.7,111.3 799.1,114.9Q802.6,118.5 805.6,122.5Q808.5,126.5 811.2,130.8Q813.8,135 816.3,139.4Q818.8,143.7 821.2,148.1Q823.6,152.4 825.4,157.1Q827.3,161.7 829,166.5Q830.7,171.2 832.2,175.9Q833.6,180.7 835.2,185.5Q836.7,190.2 838.1,195L839.4,199.8 M820,96.3Q811.3,91.3 807.1,88.5Q803,85.8 799.1,82.6Q795.3,79.3 791.8,75.8Q788.3,72.2 785.1,68.4Q781.9,64.5 779.2,60.3Q776.5,56.1 774.7,51.4Q773,46.8 772.4,41.8Q771.8,36.8 772,31.8Q772.2,26.8 773,21.9Q773.8,17 775.2,12.2Q776.7,7.4 778.7,2.8Q780.7,-1.8 783,-6.2Q785.2,-10.7 787.3,-15.2Q789.4,-19.8 791.2,-24.4Q793,-29.1 794.7,-33.8Q796.4,-38.5 798,-43.3Q799.6,-48 801,-52.8Q802.4,-57.6 803.7,-62.4Q805,-67.2 806,-72.1Q807,-77 807.9,-82Q808.9,-86.9 809.8,-91.8Q810.8,-96.7 812.1,-101.5Q813.4,-106.3 814.9,-111.1Q816.4,-115.9 818.3,-120.5Q820.3,-125.1 822.4,-129.6Q824.5,-134.2 827,-138.5Q829.6,-142.8 832.6,-146.7Q835.7,-150.7 839.3,-154.2Q842.8,-157.7 846.9,-160.6Q851,-163.4 855.7,-165.3Q860.3,-167.2 865.2,-168.4Q870,-169.6 874.9,-170.4Q879.9,-171.2 884.8,-171.9L889.8,-172.7 M758.9,275Q748.9,275.6 743.9,275.5Q738.9,275.4 733.9,275.4Q728.9,275.4 724,275.7Q719,275.9 714,276.3Q709,276.6 704.1,277.5Q699.1,278.3 694.4,279.8Q689.6,281.3 685.1,283.4Q680.5,285.6 676.4,288.3Q672.2,291 668.6,294.5Q665,298 661.8,301.9Q658.6,305.7 655.9,309.9Q653.1,314 650.6,318.4Q648.1,322.7 645.9,327.2Q643.7,331.7 642.1,336.4Q640.6,341.2 639.7,346.1Q638.8,351 638.7,356Q638.5,361 639.1,366Q639.6,371 640.8,375.8Q642,380.6 643.9,385.3Q645.7,390 648,394.4Q650.3,398.8 652.9,403.1Q655.5,407.4 658.1,411.7Q660.7,415.9 663.5,420.1Q666.3,424.2 669.3,428.2Q672.3,432.2 675.2,436.3Q678,440.4 680.7,444.6Q683.4,448.8 686,453.1Q688.7,457.3 691.3,461.6Q694,465.8 696.7,470Q699.4,474.2 702,478.5Q704.6,482.7 707.1,487.1Q709.6,491.4 711.9,495.8Q714.3,500.3 716,504.9Q717.8,509.6 719.3,514.4Q720.9,519.1 722.5,523.9Q724.1,528.6 726.1,533.2L728.1,537.7 M779.7,89.6Q779.6,79.6 779.6,74.6Q779.6,69.6 779.6,64.6Q779.6,59.6 779.6,54.6Q779.5,49.6 778.9,44.7Q778.2,39.7 777,34.9Q775.7,30 774.1,25.3Q772.6,20.5 770.8,15.9Q769,11.2 766.9,6.7Q764.9,2.1 762.8,-2.5Q760.7,-7 759,-11.7Q757.4,-16.4 756.2,-21.3Q755,-26.1 754.3,-31.1Q753.6,-36.1 753.2,-41Q752.7,-46 752.2,-51Q751.7,-56 751.4,-60.9Q751.1,-65.9 751,-70.9Q750.9,-75.9 751,-80.9Q751.2,-85.9 751.6,-90.9Q752,-95.9 752.6,-100.9Q753.2,-105.8 753.3,-110.8Q753.5,-115.8 753.3,-120.8Q753.1,-125.8 753,-130.8Q752.8,-135.8 752.5,-140.8Q752.3,-145.8 752.1,-150.8Q751.9,-155.8 751.9,-160.8Q751.8,-165.8 752.4,-170.8Q753,-175.7 753.8,-180.7L754.5,-185.6 M794,135.9Q784,136.6 779.1,137Q774.1,137.4 769.1,137.8Q764.1,138.1 759.1,138.2Q754.1,138.2 749.1,137.8Q744.1,137.4 739.3,136.3Q734.4,135.1 729.8,133.3Q725.1,131.4 720.7,129Q716.3,126.6 712.2,123.8Q708,121 704,118.1Q699.9,115.2 696.2,111.8Q692.5,108.5 688.9,105.1Q685.2,101.6 681.6,98.1Q678.1,94.6 674.5,91.2Q670.8,87.7 667.1,84.4Q663.3,81.1 659.2,78.4Q655,75.6 650.5,73.4Q646,71.1 641.4,69.3L636.7,67.6 M560.9,260.6Q564.1,270.1 565.4,274.9Q566.7,279.7 567.7,284.6Q568.6,289.5 569.5,294.5Q570.4,299.4 571.5,304.3Q572.6,309.1 574.2,313.9Q575.8,318.6 578,323.1Q580.1,327.6 582.8,331.9Q585.4,336.1 588.5,340Q591.7,343.9 594.8,347.8Q597.9,351.7 601.1,355.6Q604.3,359.4 607.7,363.1Q611,366.8 614.6,370.3Q618.1,373.9 621.8,377.2Q625.5,380.5 629.3,383.9Q633,387.3 636.7,390.6Q640.4,394 644.3,397.1Q648.2,400.2 652.2,403.2Q656.3,406.1 660.3,409.1L664.3,412.1 M536.2,293Q544.6,298.4 548.8,301.1Q553,303.8 557.3,306.5Q561.5,309.1 565.8,311.7Q570.1,314.2 574.3,316.9Q578.6,319.5 582.6,322.5Q586.7,325.4 590.3,328.9Q593.9,332.4 597,336.2Q600.2,340.1 602.9,344.3Q605.6,348.5 608.4,352.7Q611.1,356.9 613.7,361.1Q616.4,365.4 619.2,369.5Q622.1,373.5 624.9,377.7Q627.7,381.8 630.6,386Q633.4,390.1 636.3,394.2Q639.2,398.2 642.3,402.1Q645.5,406 648.9,409.6Q652.3,413.3 656.1,416.5Q659.9,419.8 663.8,422.9Q667.7,426 671.7,429.1Q675.6,432.2 679.8,435L683.9,437.8 M797.3,251.4Q787.4,249.8 782.6,248.5Q777.8,247.2 773.1,245.3Q768.5,243.5 764.1,241.1Q759.8,238.6 755.7,235.6Q751.7,232.7 748.1,229.2Q744.5,225.7 741.4,221.8Q738.3,217.9 735.3,213.9Q732.3,209.9 729.3,205.9Q726.4,201.8 723.4,197.8Q720.5,193.8 717.3,189.9Q714.2,186 711,182.2Q707.7,178.4 704.2,174.8Q700.7,171.2 696.9,168Q693.1,164.7 689.3,161.5Q685.5,158.2 681.7,155Q677.9,151.7 674.1,148.4Q670.3,145.2 666.3,142.2Q662.3,139.2 658.3,136.3Q654.2,133.4 650,130.7Q645.7,128 641.5,125.5Q637.2,122.9 632.8,120.4Q628.5,117.9 624,115.7Q619.5,113.5 614.9,111.5Q610.4,109.5 605.7,107.8Q600.9,106.2 596.2,104.7Q591.4,103.2 586.5,101.9Q581.7,100.6 576.8,99.5Q572,98.4 567.1,97.2Q562.2,96 557.4,95Q552.5,93.9 547.5,93.2Q542.6,92.6 537.6,92.4Q532.6,92.3 527.6,92.5Q522.6,92.7 517.6,93.1Q512.6,93.4 507.6,94Q502.7,94.5 497.7,95.1L492.7,95.7 M698.8,195.9Q697.2,205.7 695.9,210.5Q694.6,215.4 692.8,220.1Q691.1,224.7 688.8,229.2Q686.5,233.7 683.8,237.8Q681,241.9 677.6,245.6Q674.2,249.3 670.2,252.3Q666.2,255.4 662.1,258.2Q658,261 653.6,263.4Q649.2,265.8 644.6,267.8Q640,269.8 635.4,271.6Q630.7,273.3 625.9,274.8Q621.1,276.2 616.2,277.4Q611.4,278.5 606.4,279.4Q601.5,280.3 596.6,281.3Q591.7,282.4 586.9,283.6Q582,284.8 577.2,285.9Q572.3,287.1 567.4,288.2Q562.6,289.3 557.8,290.8Q553,292.3 548.3,293.9Q543.6,295.6 538.8,297.2Q534.1,298.8 529.3,300.4Q524.6,301.9 519.8,303.3Q515,304.8 510.2,306.2Q505.4,307.6 500.6,309.1Q495.9,310.6 491.1,312.1Q486.3,313.5 481.6,315.1Q476.8,316.6 472.1,318.2L467.3,319.7 M863.5,279Q862.5,269.1 862.3,264.1Q862,259.1 862,254.1Q862.1,249.1 862.5,244.1Q863,239.1 864,234.2Q864.9,229.3 866.3,224.5Q867.6,219.7 868.9,214.9Q870.2,210 871.9,205.4Q873.7,200.7 875.8,196.1Q877.9,191.6 880.2,187.2Q882.5,182.7 884.7,178.2Q886.9,173.8 889.3,169.4Q891.6,164.9 894.2,160.7Q896.8,156.4 899.7,152.3Q902.6,148.2 905.5,144.2Q908.4,140.1 911.1,135.9Q913.7,131.6 915.8,127.1Q917.9,122.5 919.2,117.7Q920.5,112.9 921,107.9Q921.4,102.9 921.3,97.9L921.1,92.9 M593.4,285.4Q595.3,295.2 595.9,300.1Q596.6,305.1 596.8,310.1Q597.1,315.1 596.9,320.1Q596.8,325.1 596.2,330.1Q595.7,335 594.6,339.9Q593.5,344.8 592,349.6Q590.6,354.4 588.7,359Q586.7,363.6 584.1,367.8Q581.5,372.1 578.5,376.1Q575.4,380 571.9,383.6Q568.4,387.1 564.6,390.4Q560.9,393.8 557,396.9Q553.1,400.1 549.1,403.1Q545.1,406 541,408.9Q537,411.8 533,414.8Q528.9,417.8 525,420.9Q521.1,424 517.1,427.1Q513.2,430.2 509.3,433.3Q505.3,436.3 501.3,439.3Q497.2,442.2 493.3,445.3Q489.4,448.4 485.4,451.4L481.4,454.4 M544,138.4Q550.1,146.3 553,150.3Q556,154.3 559,158.4Q561.9,162.4 565.3,166.1Q568.6,169.8 572.1,173.4Q575.6,177 579.1,180.5Q582.7,184 586.4,187.4Q590.1,190.8 593.8,194.1Q597.6,197.4 601.3,200.8Q604.9,204.2 608.7,207.5Q612.4,210.8 616.1,214.2Q619.9,217.5 623.8,220.6Q627.7,223.7 631.6,226.8Q635.5,229.9 639.4,233Q643.3,236.2 647.2,239.4Q651,242.6 654.8,245.8Q658.6,249.1 662.2,252.6Q665.8,256 669,259.8Q672.3,263.6 675.1,267.7Q678,271.9 680.4,276.2Q682.8,280.6 685.1,285.1Q687.4,289.5 689.5,294Q691.6,298.6 693.3,303.3Q694.9,308 696.1,312.9Q697.2,317.8 697.8,322.7Q698.5,327.7 698.4,332.7Q698.3,337.7 697.8,342.6Q697.2,347.6 696.3,352.5Q695.4,357.4 694.2,362.3Q693.1,367.2 691.5,371.9Q689.9,376.6 688.1,381.3Q686.2,386 684.4,390.6Q682.6,395.3 681.1,400Q679.6,404.8 678,409.6Q676.5,414.3 675,419.1Q673.4,423.8 671.6,428.5L669.8,433.2 M520.8,26.3Q530.7,27.1 535.7,27Q540.7,26.9 545.7,26.7Q550.7,26.4 555.7,26Q560.7,25.6 565.6,24.8Q570.5,24 575.3,22.4Q580.1,20.9 584.6,18.9Q589.2,16.8 593.7,14.7Q598.3,12.6 602.6,10.2Q607,7.8 611,4.7Q614.9,1.7 618.6,-1.8Q622.2,-5.2 625.5,-9Q628.7,-12.8 631.6,-16.9Q634.5,-21 637,-25.3Q639.4,-29.6 641.4,-34.2Q643.4,-38.8 645.1,-43.5Q646.7,-48.3 648.3,-53Q649.9,-57.8 651.4,-62.5Q653,-67.2 654.5,-72Q656,-76.8 657.6,-81.5Q659.3,-86.2 661,-90.9Q662.7,-95.6 664.6,-100.3Q666.5,-104.9 668.3,-109.5Q670.2,-114.2 672.1,-118.8Q674.1,-123.4 676.3,-127.9Q678.5,-132.4 681.1,-136.6Q683.7,-140.9 686.7,-144.9Q689.6,-149 692.9,-152.7Q696.2,-156.5 699.6,-160.2L703,-163.8 M681.9,257.4Q672.6,253.7 668.1,251.6Q663.6,249.4 659.2,246.9Q654.9,244.5 650.6,241.8Q646.4,239.1 642.3,236.3Q638.2,233.4 634.2,230.5Q630.1,227.5 626.2,224.5Q622.2,221.4 618.2,218.5Q614.1,215.6 610,212.8Q605.8,210 601.5,207.4Q597.2,204.9 592.8,202.5Q588.4,200.1 583.9,197.9Q579.4,195.7 574.9,193.6Q570.4,191.4 565.8,189.6Q561.1,187.8 556.5,185.8Q551.9,183.9 547.2,182Q542.6,180.1 537.9,178.4Q533.3,176.6 528.5,175Q523.8,173.4 519,172.1Q514.1,170.7 509.2,169.9Q504.3,169 499.3,168.5Q494.3,168 489.4,167.6Q484.4,167.2 479.4,166.9Q474.4,166.6 469.4,166.8Q464.4,167.1 459.5,168.1Q454.6,169.1 449.8,170.5Q445.1,172 440.5,174.2Q436,176.3 431.9,179.2Q427.8,182 424.1,185.4Q420.4,188.8 417.3,192.7Q414.2,196.6 411.6,200.9L408.9,205.1 M812.4,145.6Q821,140.6 825.5,138.3Q829.9,136.1 834.5,134Q839,132 843.7,130.2Q848.4,128.5 853.2,127.2Q858.1,125.8 863,124.8Q867.8,123.7 872.8,123Q877.7,122.3 882.7,121.9Q887.7,121.6 892.7,121.5Q897.7,121.4 902.7,121.4Q907.7,121.3 912.7,121.6Q917.7,121.9 922.7,122.4Q927.6,122.9 932.6,123.5Q937.6,124.1 942.5,124.9Q947.4,125.7 952.4,126.3L957.4,126.8 M700.2,208.2Q705.1,199.5 707.5,195.1Q709.9,190.7 712.3,186.3Q714.8,182 717.4,177.7Q720.1,173.5 722.8,169.3Q725.5,165.1 728.2,160.9Q730.9,156.7 733.3,152.3Q735.6,147.9 737.5,143.2Q739.4,138.6 740.5,133.7Q741.5,128.8 741.8,123.8Q742.1,118.8 741.7,113.9Q741.4,108.9 740.3,104Q739.2,99.1 737.4,94.4Q735.6,89.8 733,85.5Q730.5,81.2 727.3,77.3Q724.2,73.4 720.6,70Q716.9,66.5 713.2,63.2Q709.4,59.9 705.5,56.8Q701.6,53.7 697.5,50.9Q693.4,48 689.1,45.4Q684.9,42.7 680.7,40Q676.5,37.3 672.4,34.5Q668.2,31.7 664.3,28.6Q660.4,25.5 656.7,22.1Q653,18.7 649.5,15.1Q646,11.5 642.8,7.7Q639.6,3.9 636.7,-0.2Q633.7,-4.2 631,-8.4Q628.2,-12.5 625.5,-16.8Q622.8,-21 619.9,-25Q616.9,-29.1 613.9,-33Q610.9,-37 607.6,-40.8Q604.4,-44.6 601.1,-48.4Q597.7,-52.1 594.5,-55.9Q591.3,-59.7 587.9,-63.4Q584.5,-67.1 581.1,-70.7Q577.7,-74.4 574.4,-78.1L571,-81.9 M775.8,149.3Q773.6,139.5 772.3,134.7Q770.9,129.9 769.3,125.2Q767.6,120.5 765.9,115.7Q764.3,111 762.8,106.2Q761.4,101.4 759.9,96.7Q758.3,91.9 756.5,87.3Q754.6,82.7 752.4,78.2Q750.2,73.7 747.7,69.4Q745.1,65 742.1,61.1Q739.1,57.1 735.8,53.3Q732.6,49.5 728.9,46.1Q725.2,42.7 721.3,39.5Q717.5,36.4 713.5,33.3Q709.6,30.2 705.6,27.2Q701.6,24.3 697.4,21.5Q693.2,18.8 688.9,16.2Q684.6,13.6 680.3,11.1Q675.9,8.7 671.4,6.7Q666.8,4.7 661.9,3.4L657.1,2.1 M484.7,252.6Q476.4,258.1 472.3,260.9Q468.1,263.7 464,266.5Q459.8,269.2 455.6,272Q451.4,274.7 447.2,277.4Q443,280.1 438.9,282.9Q434.7,285.7 430.5,288.4Q426.3,291.1 422.1,293.7Q417.8,296.4 413.5,299Q409.3,301.6 405.4,304.7Q401.5,307.9 397.9,311.4Q394.3,314.9 390.9,318.5Q387.4,322.1 383.9,325.6Q380.3,329.1 376.7,332.6Q373,336 369.5,339.5Q365.9,343 362.3,346.5Q358.8,350 355.4,353.7Q352,357.4 348.5,360.9Q344.9,364.4 341.1,367.7Q337.4,371 333.6,374.3Q329.8,377.5 326.2,380.9Q322.5,384.3 318.8,387.7Q315.1,391.1 311.4,394.4Q307.6,397.7 304.2,401.4Q300.9,405.1 298,409.2Q295.2,413.3 292.7,417.6Q290.2,422 288.3,426.6Q286.3,431.2 285,436Q283.7,440.8 282.8,445.8L281.9,450.7 M836,100Q826,100.5 821,100.7Q816,100.9 811,101Q806,101.1 801,101.2Q796,101.3 791,101.5Q786,101.7 781.1,102.1Q776.1,102.6 771.1,103.2Q766.2,103.9 761.3,104.8Q756.3,105.7 751.4,106.4Q746.4,107.2 741.5,108Q736.6,108.8 731.6,109.5Q726.7,110.2 721.7,110.7Q716.7,111.3 711.7,111.6Q706.8,112 701.8,112.1Q696.8,112.2 691.8,112.2Q686.8,112.3 681.8,112.1Q676.8,111.9 671.8,111.4L666.8,111 M864,82.8Q870.1,74.9 873.2,70.9Q876.2,67 879.1,62.9Q882.1,58.9 885,54.8Q887.9,50.7 890.5,46.5Q893.1,42.2 895.4,37.8Q897.6,33.3 899.5,28.7Q901.4,24 902.8,19.2Q904.2,14.4 905.7,9.7Q907.2,4.9 908.5,0.1Q909.8,-4.8 911.3,-9.5Q912.7,-14.3 914.3,-19.1Q915.8,-23.8 917.6,-28.5Q919.4,-33.2 921.1,-37.9Q922.8,-42.6 924.4,-47.3Q926.1,-52 927.7,-56.8Q929.3,-61.5 931,-66.2Q932.7,-70.9 934.5,-75.6Q936.3,-80.2 938.4,-84.8Q940.5,-89.3 942.9,-93.7Q945.3,-98.1 947.9,-102.3Q950.6,-106.6 953.2,-110.8Q955.9,-115.1 958.5,-119.3Q961.2,-123.5 963.8,-127.8Q966.4,-132 969.2,-136.2Q971.9,-140.4 975.2,-144.2L978.5,-148 M657.6,295.4Q659.6,285.6 660.5,280.7Q661.5,275.8 662.6,270.9Q663.8,266.1 664.7,261.2Q665.6,256.3 666.5,251.3Q667.4,246.4 668.2,241.5Q669,236.5 669.9,231.6Q670.9,226.7 671.9,221.8Q673,216.9 674,212.1Q675.1,207.2 675.9,202.2Q676.8,197.3 677.6,192.4Q678.4,187.4 679.1,182.5Q679.8,177.5 680.3,172.6Q680.8,167.6 681,162.6Q681.3,157.6 681.1,152.6Q681,147.6 680.7,142.6Q680.4,137.6 679.8,132.7Q679.2,127.7 677.9,122.9Q676.7,118 674.8,113.4Q672.8,108.8 670.6,104.3Q668.4,99.8 665.9,95.5Q663.3,91.2 660.7,87Q658,82.7 655.4,78.5Q652.7,74.2 650,70Q647.3,65.8 644.7,61.6Q642.1,57.3 639.7,52.9Q637.2,48.6 634.9,44.1Q632.6,39.7 630.3,35.3Q627.9,30.8 625.6,26.4Q623.2,22 620.6,17.8Q617.9,13.6 615,9.5L612.1,5.4 M488.8,134.6Q479.8,139 475.5,141.6Q471.2,144.1 467,146.8Q462.8,149.6 458.8,152.6Q454.8,155.6 450.9,158.6Q446.9,161.6 442.8,164.6Q438.8,167.5 434.7,170.4Q430.6,173.2 426.4,175.9Q422.2,178.7 418,181.4Q413.8,184.1 409.5,186.7Q405.3,189.4 401.2,192.2Q397,194.9 392.7,197.6Q388.5,200.2 384.2,202.7Q379.8,205.2 375.4,207.6Q371,209.9 366.5,212L362,214.2 M736.1,74.2Q734.3,84.1 733.3,89Q732.3,93.9 731.1,98.7Q730,103.6 728.5,108.4Q727,113.2 725.2,117.8Q723.4,122.5 721.3,127Q719.2,131.6 717,136.1Q714.9,140.6 712.8,145.1Q710.7,149.7 708.7,154.3Q706.8,158.9 705.1,163.6Q703.4,168.3 702.3,173.1Q701.1,178 700.7,183Q700.3,188 700.2,193Q700.2,198 700.8,202.9Q701.4,207.9 702.7,212.7Q704,217.6 705.9,222.2Q707.8,226.8 709.8,231.4Q711.9,236 713.8,240.6Q715.7,245.2 717.5,249.8Q719.4,254.5 721.5,259Q723.5,263.6 725.9,268Q728.2,272.4 730.9,276.6Q733.6,280.9 736.7,284.8Q739.7,288.7 743,292.5Q746.3,296.3 749.9,299.8Q753.5,303.2 757.4,306.3Q761.4,309.3 765.6,312Q769.9,314.7 774.3,317Q778.7,319.3 783.3,321.2Q788,323.1 792.8,324.5L797.6,325.8 M687.1,337.9Q692.3,346.5 694.6,350.9Q697,355.3 699.2,359.8Q701.5,364.2 703.4,368.9Q705.3,373.5 706.7,378.3Q708.1,383.1 709.1,388Q710,392.9 710.6,397.9Q711.1,402.8 711.4,407.8Q711.7,412.8 711.6,417.8Q711.4,422.8 710.9,427.8Q710.4,432.8 709.6,437.7Q708.8,442.6 707.3,447.4Q705.8,452.2 704.1,456.9Q702.4,461.6 700.9,466.3Q699.4,471.1 697.9,475.9Q696.4,480.7 695.2,485.5Q694.1,490.4 693.9,495.4Q693.7,500.4 694.4,505.3Q695.1,510.3 696,515.2Q697,520.1 697.9,525Q698.9,529.9 699.9,534.8Q700.9,539.7 702.2,544.6Q703.4,549.4 704.7,554.2Q706.1,559 707.7,563.8Q709.3,568.5 711.5,573L713.8,577.5 M548.8,237.2Q557.8,241.5 562.4,243.6Q566.9,245.7 571.5,247.6Q576.2,249.5 580.9,251.2Q585.6,252.8 590.2,254.8Q594.8,256.7 599.3,259Q603.7,261.3 608.1,263.6Q612.5,266 617.1,267.9Q621.7,269.9 626.5,271.4Q631.3,272.9 636.1,274Q641,275.2 646,275.9Q650.9,276.7 655.9,277Q660.9,277.4 665.9,277.5Q670.9,277.6 675.9,277.7Q680.9,277.8 685.9,278Q690.9,278.2 695.8,278.7Q700.8,279.2 705.8,279.6Q710.8,280 715.8,280.5Q720.7,281 725.7,281.7Q730.6,282.3 735.6,282.7Q740.6,283.1 745.6,283.7Q750.6,284.2 755.6,284.4Q760.5,284.7 765.5,284.4Q770.5,284.1 775.5,283.9Q780.5,283.8 785.5,284.1Q790.5,284.4 795.5,285.1Q800.4,285.8 805.2,287.2L810,288.5 M745.6,81Q741,72.1 738.9,67.5Q736.8,63 734.7,58.5Q732.6,53.9 730.8,49.3Q729,44.6 727.4,39.9Q725.8,35.1 724.6,30.3Q723.4,25.4 722.5,20.5Q721.6,15.6 720.8,10.7Q720.1,5.7 719.6,0.7Q719.2,-4.2 719.3,-9.2Q719.3,-14.2 719.7,-19.2Q720.1,-24.2 720.7,-29.2Q721.4,-34.1 722.6,-39Q723.8,-43.8 725.9,-48.4Q727.9,-53 730.4,-57.3Q732.9,-61.6 735.6,-65.8Q738.3,-70 741.4,-73.9Q744.5,-77.9 748.4,-81Q752.3,-84.2 756.5,-86.8Q760.8,-89.4 765.2,-91.8Q769.6,-94.2 774,-96.6Q778.4,-98.9 782.9,-101.1Q787.4,-103.3 791.9,-105.4Q796.4,-107.6 801,-109.6L805.6,-111.6 M612.5,298.9Q604.8,305.2 601.2,308.7Q597.6,312.2 594.4,316Q591.2,319.9 588.2,323.8Q585.1,327.8 582.1,331.8Q579.1,335.8 576,339.7Q572.8,343.6 569.6,347.4Q566.4,351.3 562.9,354.8Q559.3,358.3 555.5,361.6Q551.7,364.8 547.6,367.6Q543.4,370.3 539,372.7Q534.6,375.1 530.1,377.3Q525.7,379.6 521.1,381.6Q516.5,383.6 511.8,385.4Q507.2,387.3 502.5,389Q497.8,390.8 493.2,392.8Q488.6,394.7 484.1,396.9Q479.6,399.1 475.2,401.4Q470.8,403.8 466.6,406.4Q462.3,409 458.1,411.7Q453.9,414.5 450.1,417.7Q446.3,421 442.7,424.5Q439.1,427.9 435.8,431.7Q432.5,435.4 429.1,439.1Q425.7,442.7 422.3,446.4L418.9,450.1 M484,325.3Q484.2,335.2 484.7,340.2Q485.1,345.2 485.5,350.2Q485.9,355.2 486,360.2Q486.1,365.2 486.3,370.2Q486.5,375.2 486.8,380.2Q487.2,385.1 487.6,390.1Q488.1,395.1 488.6,400.1Q489.1,405.1 489.7,410Q490.3,415 491.1,419.9Q492,424.8 492.8,429.8Q493.6,434.7 494.5,439.6Q495.3,444.6 496.6,449.4Q497.8,454.2 499.6,458.9Q501.4,463.6 503.2,468.2Q505.1,472.9 506.9,477.5Q508.8,482.2 510.6,486.8Q512.5,491.5 514.5,496Q516.5,500.6 518.8,505Q521.2,509.5 523.9,513.7Q526.6,517.9 529.4,522Q532.2,526.2 535.2,530.1Q538.2,534.1 541.2,538.2Q544.1,542.2 547.4,546L550.6,549.8 M862,150.3Q866,141.1 867.6,136.4Q869.1,131.6 869.5,126.6Q869.9,121.7 869.6,116.7Q869.3,111.7 868.6,106.7Q867.8,101.8 866.4,97Q865,92.2 863.3,87.5Q861.6,82.8 859.8,78.1Q858,73.5 856.8,68.6Q855.5,63.8 854.7,58.8Q854,53.9 853.8,48.9Q853.7,43.9 854.2,38.9Q854.7,34 855.8,29.1Q857,24.2 858.7,19.5Q860.4,14.8 862.3,10.2Q864.3,5.6 866.7,1.3Q869.1,-3.1 872.1,-7.2Q875,-11.3 878.1,-15.2Q881.2,-19.1 884.3,-23Q887.3,-27 890.3,-31Q893.3,-35 896.6,-38.7Q899.9,-42.5 903.4,-46.1Q906.9,-49.7 910.2,-53.4Q913.5,-57.2 916.9,-60.9Q920.2,-64.6 923.7,-68.2Q927.2,-71.8 931.1,-74.9Q935,-78 939.2,-80.7Q943.4,-83.4 948,-85.4Q952.6,-87.3 957.4,-88.7L962.2,-90.2 M580.2,199.5Q570.4,197.3 565.5,196.4Q560.6,195.4 555.7,194.7Q550.7,194 545.8,193.4Q540.8,192.9 535.8,192.6Q530.8,192.4 525.8,192.4Q520.8,192.4 515.8,192.3Q510.8,192.3 505.8,192.1Q500.8,191.9 495.8,191.7Q490.8,191.5 485.9,190.9Q480.9,190.3 476,189.4Q471.1,188.4 466.3,187.1Q461.5,185.7 456.8,183.8Q452.2,181.9 447.8,179.5Q443.4,177.2 439,174.7Q434.6,172.3 430.4,169.7Q426.1,167.1 421.7,164.8L417.3,162.4 M799.4,66.2Q809.2,64.6 814.1,63.6Q819,62.6 823.9,61.7Q828.9,60.7 833.8,60.2Q838.8,59.6 843.8,59Q848.7,58.3 853.7,57.6Q858.6,56.8 863.5,55.9Q868.4,55.1 873.4,54.4Q878.4,53.8 883.4,53.6Q888.4,53.4 893.3,53.5Q898.3,53.7 903.3,53.8Q908.3,53.9 913.3,54.1Q918.3,54.2 923.3,54.7Q928.3,55.2 933.2,56.1Q938.1,56.9 943,58Q947.9,59.2 952.7,60.4Q957.6,61.6 962.3,63.3Q967,65.1 971.6,67.1Q976.2,69 980.8,70.8Q985.5,72.6 990.1,74.5Q994.8,76.4 999.3,78.4Q1003.9,80.4 1008.4,82.6Q1012.9,84.8 1017.2,87.3Q1021.5,89.8 1025.5,92.9Q1029.5,95.9 1032.9,99.5Q1036.4,103.1 1039.4,107.1Q1042.5,111 1045,115.4L1047.5,119.7 M815.4,343.1Q806.5,338.6 802,336.4Q797.6,334.1 793.1,332Q788.6,329.8 784.2,327.4Q779.8,325 775.5,322.4Q771.2,319.8 767.2,316.9Q763.1,314 759.1,311Q755.1,308 751.2,304.9Q747.2,301.8 743.3,298.7Q739.4,295.6 735.6,292.4Q731.7,289.2 728,285.9Q724.2,282.6 720.5,279.3Q716.8,275.9 713.1,272.5Q709.5,269.1 705.8,265.7Q702.2,262.2 698.4,259Q694.5,255.8 690.6,252.7Q686.6,249.7 682.4,247Q678.2,244.2 673.9,241.6Q669.7,239.1 665.4,236.4Q661.2,233.8 657,231.1Q652.8,228.3 648.6,225.5Q644.5,222.8 640.5,219.8Q636.4,216.8 632.6,213.6Q628.7,210.5 625.3,206.9Q621.8,203.3 618.6,199.4Q615.5,195.5 612.6,191.4L609.7,187.3 M850.4,14.5Q841.9,9.3 837.6,6.7Q833.4,4 829.1,1.4Q824.8,-1.2 820.6,-3.8Q816.3,-6.5 812,-9Q807.7,-11.5 803.2,-13.7Q798.7,-15.9 794.1,-17.8Q789.5,-19.7 784.8,-21.5Q780.2,-23.4 775.4,-24.8Q770.6,-26.3 765.7,-27.4Q760.9,-28.5 755.9,-29.4Q751,-30.3 746.1,-31Q741.1,-31.8 736.2,-32.4Q731.2,-33.1 726.3,-33.9Q721.3,-34.6 716.4,-35.5Q711.5,-36.4 706.6,-37.2Q701.6,-38 696.7,-38.8Q691.8,-39.6 686.8,-40.3Q681.9,-41.1 676.9,-41.6Q671.9,-42.1 667,-42.8Q662,-43.5 657.2,-44.9Q652.4,-46.3 647.9,-48.6Q643.5,-50.8 639.4,-53.7Q635.4,-56.6 631.6,-59.9Q627.9,-63.2 624.2,-66.7Q620.6,-70.2 617.4,-74Q614.2,-77.8 611.4,-82Q608.6,-86.1 605.9,-90.3Q603.2,-94.5 600.8,-98.9Q598.5,-103.3 596.6,-108Q594.7,-112.6 593.4,-117.4Q592.1,-122.3 591.5,-127.2Q590.9,-132.2 590.3,-137.1Q589.7,-142.1 589,-147Q588.2,-152 587.3,-156.9Q586.5,-161.8 585.4,-166.7Q584.4,-171.6 583.6,-176.6L582.8,-181.5 M428.5,269.8Q419.9,275 415.4,277.2Q411,279.5 406.4,281.5Q401.8,283.6 397.1,285.1Q392.3,286.6 387.4,287.5Q382.5,288.4 377.5,289.2Q372.6,289.9 367.6,290.5Q362.6,291 357.7,291.5Q352.7,292 347.7,292.3Q342.7,292.6 337.7,292.8Q332.7,293.1 327.7,293.2Q322.7,293.4 317.7,293.7Q312.7,293.9 307.7,293.9Q302.7,293.9 297.7,293.6Q292.7,293.3 287.8,292.7Q282.8,292.1 277.9,291.1Q273,290.1 268.1,289Q263.2,288 258.3,287Q253.4,286.1 248.5,285.2Q243.6,284.3 238.7,283.4Q233.8,282.5 228.9,281.4Q224,280.2 219.2,278.7Q214.5,277.2 209.8,275.4Q205.1,273.7 200.6,271.6Q196,269.5 191.6,267.2Q187.1,265 182.6,262.8Q178.1,260.6 173.7,258.3Q169.2,256 164.8,253.7Q160.4,251.3 156,248.9Q151.6,246.5 147.3,244L143,241.5 M615.7,144.1Q610.8,135.4 608,131.3Q605.1,127.2 601.9,123.3Q598.8,119.4 595.2,116Q591.6,112.5 587.8,109.2Q584,105.9 580.4,102.5Q576.7,99.1 573.2,95.5Q569.8,91.9 566.6,88.1Q563.4,84.2 560.7,80Q558.1,75.8 555.8,71.3Q553.6,66.8 551.9,62.1Q550.3,57.4 549.2,52.5Q548.1,47.6 547.7,42.6Q547.2,37.6 547.1,32.7Q547,27.7 546.9,22.7Q546.9,17.7 546.7,12.7Q546.5,7.7 546.4,2.7Q546.3,-2.3 546.3,-7.3Q546.4,-12.3 546.4,-17.3Q546.4,-22.3 546.1,-27.3Q545.9,-32.3 545.3,-37.3Q544.7,-42.3 544.1,-47.2Q543.4,-52.2 542.7,-57.1Q542,-62.1 541.1,-67Q540.3,-71.9 539.2,-76.8Q538.1,-81.7 536.8,-86.5Q535.5,-91.3 534.4,-96.2Q533.3,-101.1 532.2,-106Q531,-110.8 529.8,-115.7Q528.6,-120.5 527.7,-125.5Q526.8,-130.4 526.3,-135.3Q525.8,-140.3 525.4,-145.3Q525,-150.3 524.9,-155.3Q524.8,-160.3 524.7,-165.3Q524.6,-170.3 524.5,-175.3Q524.5,-180.3 524,-185.3L523.5,-190.2 M626.2,182.3Q627.8,192.2 628.6,197.1Q629.5,202.1 630.2,207Q630.9,212 631.6,216.9Q632.2,221.9 632.8,226.8Q633.4,231.8 634,236.8Q634.7,241.7 635.6,246.6Q636.6,251.5 638,256.3Q639.4,261.1 641.3,265.8Q643.1,270.4 644.9,275.1Q646.7,279.7 648.2,284.5Q649.6,289.3 650.6,294.2Q651.7,299.1 652.8,304Q654,308.8 654.9,313.8Q655.8,318.7 656.3,323.6Q656.8,328.6 656.9,333.6Q657,338.6 656.7,343.6Q656.4,348.6 656,353.6Q655.7,358.6 655.3,363.6Q655,368.6 654.4,373.5Q653.8,378.5 652.7,383.4Q651.7,388.3 650.7,393.2Q649.7,398 648.9,403Q648.2,407.9 647.3,412.9Q646.5,417.8 645.8,422.7Q645,427.7 644.7,432.7Q644.4,437.7 644,442.7Q643.6,447.6 643.2,452.6Q642.8,457.6 642.6,462.6Q642.4,467.6 642,472.6Q641.7,477.6 641.6,482.6Q641.5,487.6 641.6,492.6L641.6,497.6 M661.9,100.7Q658.9,110.3 657.2,115Q655.4,119.6 653.2,124.1Q651,128.6 648.5,132.9Q646,137.3 643.1,141.4Q640.3,145.5 637.2,149.4Q634.1,153.3 630.6,156.9Q627.1,160.5 623.3,163.7Q619.4,166.9 615.4,169.9Q611.4,172.9 607.1,175.4Q602.8,177.9 598.4,180.4Q594.1,182.9 589.8,185.5Q585.5,188.1 581.4,190.9Q577.3,193.8 573.4,196.8Q569.4,199.9 565.8,203.4Q562.2,206.8 559,210.7Q555.9,214.6 553.6,219Q551.2,223.4 549.6,228.1Q547.9,232.9 547,237.8Q546.1,242.7 545.2,247.6L544.4,252.5 M771.8,93.7Q762.1,96.3 757.3,97.5Q752.4,98.7 747.7,100.4Q743,102.1 738.6,104.4Q734.1,106.7 729.9,109.4Q725.8,112.2 721.9,115.4Q718.1,118.6 714.4,122Q710.8,125.4 707.2,128.9Q703.7,132.5 700.2,136.1Q696.8,139.7 693.2,143.1Q689.6,146.6 685.9,150.1Q682.3,153.5 678.4,156.6Q674.5,159.7 670.2,162.3Q665.9,164.9 661.3,166.9Q656.8,168.9 651.9,170.2Q647.1,171.5 642.1,171.8Q637.1,172 632.2,170.9Q627.4,169.9 622.7,167.9Q618.1,166 614.1,163.1Q610,160.2 606.8,156.4Q603.5,152.6 601.2,148.1Q598.9,143.7 597.4,138.9Q596,134.1 595.2,129.2L594.5,124.2 M857.7,251.7Q863.7,243.7 866.6,239.7Q869.5,235.6 872.3,231.4Q875,227.3 877.6,223Q880.3,218.7 882.5,214.3Q884.8,209.8 886.8,205.3Q888.8,200.7 890.4,195.9Q892,191.2 893.4,186.4Q894.7,181.6 895.6,176.7Q896.6,171.8 897.1,166.8Q897.6,161.8 897.7,156.8Q897.7,151.8 897.4,146.8Q897,141.8 896.1,136.9Q895.2,132 893.8,127.2Q892.4,122.4 891,117.6Q889.6,112.8 888.1,108Q886.5,103.3 885,98.5Q883.5,93.7 882.2,88.9Q880.9,84.1 879.5,79.3Q878.2,74.5 877.1,69.6Q876,64.7 875.6,59.7Q875.3,54.7 875.4,49.7Q875.5,44.7 876.3,39.8Q877.2,34.9 878.5,30.1Q879.9,25.3 881.9,20.7Q883.9,16.1 886.1,11.6Q888.3,7.1 890.8,2.8Q893.3,-1.5 896.2,-5.6Q899,-9.8 901.8,-13.9Q904.6,-18.1 907.2,-22.3Q909.9,-26.5 912.2,-31Q914.5,-35.4 916.3,-40.1Q918.2,-44.7 919.7,-49.5L921.3,-54.2 M847.4,23.2Q855.1,29.6 858.9,32.8Q862.8,36 866.6,39.2Q870.4,42.4 874,46Q877.5,49.5 880.8,53.3Q884,57.1 887.1,61Q890.1,65 893.3,68.9Q896.4,72.8 899.8,76.4Q903.2,80.1 907,83.4Q910.7,86.7 914.7,89.7Q918.7,92.7 922.9,95.4Q927.1,98.2 931.2,101Q935.4,103.8 939.3,106.8Q943.3,109.9 946.9,113.4Q950.5,116.9 953.7,120.7Q957,124.5 960.1,128.4Q963.2,132.3 966.1,136.3Q969,140.4 971.8,144.6Q974.6,148.7 977.2,153Q979.8,157.2 982.3,161.6Q984.8,165.9 987.3,170.2Q989.8,174.5 992.6,178.7Q995.3,182.9 998.4,186.9Q1001.4,190.8 1004.8,194.5Q1008.2,198.2 1011.7,201.8Q1015.1,205.4 1018.7,208.9Q1022.3,212.3 1026,215.7Q1029.7,219.1 1033.4,222.4Q1037.1,225.8 1040.9,229.1Q1044.6,232.4 1048.4,235.7Q1052.1,239 1055.7,242.5Q1059.4,245.9 1063.2,249.2Q1067,252.4 1070.9,255.5Q1074.8,258.6 1078.8,261.6L1082.9,264.5 M540.3,194.9Q539.7,204.9 539.2,209.9Q538.7,214.8 538,219.8Q537.2,224.7 536.3,229.6Q535.3,234.5 534.1,239.4Q532.8,244.2 531.3,249Q529.9,253.8 528.6,258.6Q527.3,263.4 526,268.3Q524.8,273.1 523.8,278Q522.9,282.9 521.9,287.8Q520.9,292.7 519.6,297.6Q518.3,302.4 516.9,307.2Q515.4,312 513.7,316.7Q511.9,321.4 510.5,326.1Q509.1,330.9 507.5,335.7Q506,340.5 504.6,345.2Q503.1,350 501.6,354.8Q500,359.5 497.9,364.1Q495.8,368.6 493.5,373Q491.2,377.5 488.9,381.9Q486.5,386.3 484.1,390.7Q481.7,395.1 479.1,399.4Q476.6,403.7 474.2,408.1Q471.8,412.5 469.8,417Q467.8,421.6 465.8,426.2Q463.7,430.7 461.8,435.4Q459.9,440 457.9,444.6Q456,449.2 454.3,453.9Q452.6,458.6 451.3,463.4Q450,468.3 449.5,473.2Q448.9,478.2 448.9,483.2Q448.9,488.2 449.1,493.2Q449.3,498.2 449.6,503.2Q449.9,508.2 450.3,513.2Q450.7,518.1 451.2,523.1L451.7,528.1 M489,84Q496.5,77.3 500.2,74Q504,70.7 507.9,67.6Q511.8,64.4 515.7,61.3Q519.6,58.3 523.5,55.1Q527.4,52 530.9,48.4Q534.4,44.8 537.6,41Q540.8,37.2 543.9,33.2Q546.9,29.2 549.6,25Q552.3,20.8 554.4,16.3Q556.5,11.7 557.9,6.9Q559.4,2.1 559.8,-2.8Q560.2,-7.8 559.6,-12.8Q558.9,-17.7 557.5,-22.5Q556.1,-27.3 554.2,-32Q552.3,-36.6 550.2,-41.1Q548.1,-45.6 545.8,-50.1Q543.5,-54.5 541.1,-58.9Q538.7,-63.3 536.3,-67.7Q533.9,-72.1 531.6,-76.5Q529.3,-80.9 527.3,-85.5Q525.3,-90.1 523.6,-94.8Q521.9,-99.5 520.5,-104.3Q519,-109.1 517.9,-114Q516.8,-118.8 515.7,-123.7Q514.6,-128.6 513.5,-133.5Q512.3,-138.3 510.8,-143.1Q509.3,-147.9 507.3,-152.5Q505.3,-157.1 502.6,-161.2Q499.8,-165.4 496.4,-169Q493,-172.7 489.2,-176Q485.5,-179.3 481.5,-182.3Q477.5,-185.3 473.5,-188.3Q469.4,-191.2 465.4,-194.2Q461.4,-197.1 457.4,-200.1Q453.4,-203.1 449.1,-205.7Q444.8,-208.3 440.3,-210.5L435.8,-212.6 M675.7,115Q678.3,105.4 679.3,100.5Q680.4,95.6 681.3,90.7Q682.1,85.8 683,80.8Q683.9,75.9 684.6,71Q685.3,66 686,61.1Q686.8,56.1 688,51.3Q689.3,46.5 691,41.8Q692.7,37.1 694.7,32.5Q696.8,27.9 699.2,23.5Q701.5,19.1 703.9,14.7Q706.2,10.3 708.7,6Q711.2,1.6 713.9,-2.6Q716.5,-6.9 719.4,-10.9Q722.3,-15 725.6,-18.7Q728.9,-22.5 732.6,-25.9Q736.3,-29.3 740.2,-32.4Q744.1,-35.5 748.3,-38.2Q752.5,-41 757,-43.1Q761.5,-45.3 766.1,-47.2Q770.7,-49.1 775.4,-50.8Q780.1,-52.5 784.8,-54.2Q789.5,-55.9 794.3,-57.5Q799,-59.2 803.8,-60.6Q808.6,-62 813.4,-63.3Q818.3,-64.5 823.2,-65.4Q828.1,-66.3 833.1,-66.9Q838,-67.5 843,-68.1Q848,-68.6 852.9,-69.2Q857.9,-69.8 862.8,-70.7Q867.7,-71.7 872.6,-72.9Q877.4,-74.1 882.2,-75.5Q887,-77 891.7,-78.5Q896.5,-80 901.3,-81.3Q906.2,-82.6 911,-84Q915.8,-85.3 920.5,-86.9Q925.3,-88.6 930,-90.2L934.7,-91.9 M572,331.7Q572.5,341.7 572.9,346.6Q573.3,351.6 573.6,356.6Q574,361.6 574.1,366.6Q574.2,371.6 574,376.6Q573.7,381.6 573.2,386.5Q572.6,391.5 571.7,396.4Q570.7,401.3 569.2,406.1Q567.6,410.8 565.5,415.4Q563.5,419.9 560.8,424.1Q558.1,428.4 554.7,432Q551.3,435.7 547.1,438.5Q543,441.3 538.4,443.2Q533.8,445.2 528.9,446.4Q524.1,447.6 519.1,448.3Q514.2,448.9 509.2,449.3Q504.2,449.6 499.2,450Q494.2,450.4 489.2,450.9Q484.3,451.4 479.3,451.8Q474.3,452.2 469.3,452.6Q464.3,452.9 459.3,453.3Q454.3,453.7 449.4,454.1Q444.4,454.5 439.4,455.1Q434.4,455.7 429.5,456.4Q424.6,457.1 419.7,458.2Q414.8,459.3 410.1,460.9Q405.3,462.5 400.7,464.5Q396.1,466.4 391.7,468.7Q387.3,471.1 383.1,473.8Q378.9,476.6 375,479.7Q371.1,482.8 367.7,486.4Q364.2,490.1 361.6,494.4Q359,498.6 357.2,503.3Q355.4,507.9 354,512.7Q352.6,517.5 351.2,522.3Q349.8,527.1 348.3,531.9L346.7,536.7 M790.1,291.2Q790.3,301.2 790.6,306.2Q790.9,311.2 791.8,316.1Q792.8,321 794.4,325.7Q796.1,330.4 798.5,334.8Q800.9,339.2 803.8,343.2Q806.8,347.3 810.2,350.9Q813.6,354.5 817.1,358.1Q820.6,361.7 824.3,365.1Q828,368.4 831.8,371.7Q835.7,374.9 839.6,378Q843.5,381.1 847.4,384.2Q851.2,387.4 855,390.7Q858.7,394.1 862.5,397.3Q866.4,400.5 869.9,404Q873.5,407.5 876.9,411.1Q880.3,414.8 883.7,418.4Q887.1,422.1 890.8,425.5Q894.4,429 898.3,432.1Q902.2,435.2 906.5,437.8Q910.8,440.4 915.3,442.5Q919.9,444.6 924.6,446.2Q929.3,447.8 934.2,449Q939,450.3 944,451.1Q948.9,451.9 953.9,452.4Q958.8,452.8 963.8,453.5Q968.8,454.2 973.6,455.3Q978.5,456.4 983.3,457.9Q988,459.4 992.8,461Q997.5,462.6 1002.1,464.5Q1006.7,466.5 1011.3,468.4Q1016,470.3 1020.7,471.9Q1025.4,473.5 1030.2,475.1Q1034.9,476.7 1039.7,478.1Q1044.5,479.6 1049.2,481.3L1053.9,482.9 M857.4,316.8Q853.4,326 851.5,330.6Q849.5,335.2 847.9,340Q846.3,344.7 844.7,349.4Q843,354.2 841.5,358.9Q839.9,363.6 838,368.3Q836.2,372.9 834,377.4Q831.7,381.9 828.8,386Q825.9,390 822.4,393.6Q818.9,397.2 815,400.2Q811,403.3 807,406.2Q802.9,409.2 798.7,411.8Q794.5,414.5 790.2,417.1Q786,419.8 781.5,422.1Q777.1,424.4 772.6,426.6Q768.1,428.8 763.7,431.1Q759.2,433.4 754.8,435.7Q750.4,438 746,440.4Q741.6,442.8 737.2,445.2L732.8,447.6 M775.5,92.1Q769.6,83.9 766.4,80.1Q763.2,76.2 759.8,72.6Q756.4,69 752.9,65.4Q749.4,61.8 745.9,58.2Q742.4,54.6 739.2,50.8Q735.9,47 732.8,43.2Q729.6,39.3 726,35.8Q722.5,32.2 718.6,29.1Q714.7,26 710.7,22.9Q706.8,19.9 702.9,16.7Q699,13.5 695.2,10.4Q691.3,7.2 687.7,3.8Q684,0.4 680.4,-3.1Q676.9,-6.6 673.7,-10.5Q670.5,-14.3 667.5,-18.3Q664.6,-22.4 661.7,-26.5Q658.9,-30.6 656.3,-34.9Q653.7,-39.2 651.1,-43.4Q648.5,-47.7 645.8,-51.9Q643.1,-56.1 640.8,-60.6Q638.5,-65 636.5,-69.6Q634.5,-74.2 632.6,-78.8Q630.7,-83.4 628.8,-88.1Q626.9,-92.7 625,-97.3Q623.1,-101.9 621.1,-106.5Q619,-111.1 616.9,-115.6Q614.9,-120.1 613,-124.8Q611.1,-129.4 609.5,-134.1Q607.8,-138.8 606.5,-143.7Q605.2,-148.5 604.2,-153.4Q603.2,-158.3 602.6,-163.3L601.9,-168.2 M657.4,344Q650.8,336.5 647.5,332.7Q644.2,329 640.5,325.6Q636.7,322.3 632.8,319.3Q628.8,316.2 624.8,313.2Q620.8,310.3 616.8,307.3Q612.8,304.3 608.7,301.3Q604.7,298.4 600.4,295.8Q596.1,293.2 591.5,291.2Q587,289.2 582.2,287.8Q577.4,286.4 572.6,285Q567.8,283.6 562.9,282.5Q558,281.3 553.1,280.3Q548.2,279.4 543.3,278.2Q538.5,277.1 533.7,275.6Q528.9,274.2 524.2,272.4Q519.6,270.6 515,268.5Q510.5,266.4 506.3,263.7Q502.1,261 498.3,257.7Q494.5,254.5 491,250.9Q487.6,247.2 484.4,243.4Q481.2,239.6 478.1,235.6Q475,231.7 472,227.7Q468.9,223.8 465.7,220L462.4,216.2 M762.8,238.6Q759.9,229.1 758.4,224.3Q756.9,219.5 754.9,214.9Q752.9,210.4 750.5,206Q748.1,201.6 745.6,197.3Q743,193 740.2,188.9Q737.4,184.7 734.6,180.6Q731.8,176.4 729,172.3Q726.2,168.1 723.4,164Q720.6,159.8 717.6,155.9Q714.6,151.9 711.5,147.9Q708.5,144 705.5,139.9Q702.6,135.9 699.4,132Q696.3,128.1 692.9,124.4Q689.5,120.7 685.8,117.4Q682,114.1 678.1,111Q674.2,107.9 670,105.1Q665.9,102.3 661.5,99.9Q657.1,97.5 652.7,95.3Q648.2,93 643.8,90.7Q639.4,88.4 634.9,86Q630.5,83.6 626.2,81.2Q621.8,78.7 617.5,76.2Q613.2,73.7 608.9,71.1Q604.6,68.6 600.4,65.8L596.2,63.1 M472.4,345.7Q478.5,337.8 481.5,333.8Q484.5,329.8 487.4,325.7Q490.3,321.6 493.1,317.5Q495.9,313.3 498.7,309.2Q501.6,305.1 504.3,300.9Q507.1,296.7 509.9,292.6Q512.7,288.5 515.7,284.5Q518.7,280.5 521.8,276.5Q524.8,272.5 527.7,268.4Q530.5,264.3 533.4,260.2Q536.2,256.1 539.1,252Q542,248 544.9,243.9Q547.8,239.8 550.8,235.8Q553.7,231.8 556.5,227.6Q559.2,223.4 561.5,219Q563.9,214.5 565.9,210Q568,205.5 569.7,200.7Q571.4,196 572.8,191.2Q574.2,186.4 575.3,181.6Q576.4,176.7 577.5,171.8Q578.7,166.9 579.6,162Q580.6,157.1 581.5,152.2Q582.5,147.3 583.5,142.4Q584.4,137.5 585.2,132.6Q585.9,127.6 586,122.6L586.2,117.6 M591.1,326.2Q601,324.8 606,324Q610.9,323.1 615.8,322.2Q620.8,321.4 625.7,320.6Q630.6,319.7 635.5,318.7Q640.4,317.7 645.2,316.4Q650.1,315.2 654.7,313.3Q659.3,311.3 663.6,308.7Q667.8,306.1 671.5,302.8Q675.3,299.4 678.2,295.4Q681.2,291.4 683.6,287Q686,282.6 688,278Q689.9,273.4 691.9,268.8Q693.8,264.2 695.2,259.4Q696.6,254.6 697.3,249.6Q698,244.7 698.1,239.7Q698.1,234.7 697.9,229.7Q697.6,224.7 697.4,219.7Q697.2,214.7 697,209.7Q696.8,204.7 696.6,199.7Q696.5,194.7 696.2,189.7Q695.9,184.7 695.4,179.8Q694.9,174.8 694.1,169.8Q693.3,164.9 691.8,160.2Q690.2,155.4 688.4,150.7Q686.6,146.1 684.8,141.4Q683,136.7 681.7,131.9Q680.4,127.1 679.6,122.2Q678.9,117.2 678.8,112.2Q678.7,107.2 679.3,102.2Q679.9,97.3 680.7,92.3Q681.4,87.4 682.1,82.4Q682.7,77.5 683.5,72.5L684.2,67.6 M760.5,273.2Q751.7,268.6 747.1,266.6Q742.5,264.6 737.6,263.5Q732.8,262.3 727.8,262.1Q722.8,261.9 717.8,262.1Q712.8,262.3 707.8,262.7Q702.8,263 697.8,263.5Q692.9,264.1 687.9,264.5Q682.9,264.9 677.9,265Q672.9,265.2 667.9,265.1Q662.9,265.1 657.9,265.1Q652.9,265.2 647.9,265.5Q642.9,265.8 638,266.3Q633,266.9 628.1,267.7Q623.1,268.5 618.3,269.8Q613.5,271.1 608.9,273.2Q604.3,275.2 600.1,277.9Q595.9,280.5 592,283.7Q588.2,287 584.7,290.6Q581.3,294.2 578.3,298.2L575.3,302.1 M692.1,173.1Q682.1,172.2 677.1,172.4Q672.1,172.6 667.2,173.6Q662.3,174.5 657.5,175.7Q652.6,177 647.8,178.3Q643,179.5 638.1,180.8Q633.3,182 628.4,183.4Q623.6,184.7 618.9,186.4Q614.2,188.1 609.6,190Q605,192 600.5,194.2Q596.1,196.4 591.7,199Q587.4,201.5 583.1,204.1Q578.9,206.6 574.6,209.3Q570.4,211.9 566.2,214.6Q562,217.3 557.9,220.3Q553.9,223.3 549.9,226.2Q545.8,229.2 541.7,232Q537.6,234.9 533.4,237.6Q529.2,240.2 524.7,242.4Q520.2,244.6 515.6,246.7Q511.1,248.8 506.5,250.8Q502,252.9 497.4,254.8Q492.7,256.7 488,258.3Q483.3,260 478.5,261.5Q473.7,262.9 468.9,264.1Q464,265.2 459.2,266.5Q454.3,267.8 449.5,269.2Q444.7,270.6 439.9,271.8Q435,273 430.2,274.2Q425.3,275.3 420.4,276.4Q415.5,277.5 410.6,278.3Q405.7,279.2 400.8,280.3Q395.9,281.4 391.1,282.6Q386.2,283.8 381.3,284.7Q376.4,285.7 371.5,286.5Q366.5,287.3 361.6,288.1Q356.7,289 351.7,289.8L346.8,290.6 M563.8,166.6Q567.4,157.3 568.6,152.4Q569.9,147.6 570.2,142.6Q570.6,137.6 570.2,132.6Q569.9,127.6 569.1,122.7Q568.4,117.8 567.2,112.9Q566.1,108 564.5,103.3Q563,98.5 561.3,93.8Q559.6,89.1 557.8,84.4Q556,79.8 553.9,75.3Q551.7,70.7 549.4,66.3Q547.1,61.9 544.9,57.4Q542.7,52.9 540.1,48.6Q537.6,44.3 534.7,40.2Q531.9,36.1 528.7,32.2Q525.5,28.4 521.9,24.9Q518.3,21.4 514.6,18Q510.9,14.7 507.2,11.3Q503.5,8 500.1,4.3Q496.7,0.7 493.6,-3.3Q490.6,-7.2 487.7,-11.3Q484.9,-15.4 482.1,-19.6Q479.3,-23.7 476.7,-28Q474.1,-32.3 471.6,-36.6Q469.1,-40.9 466.6,-45.3Q464.2,-49.7 461.7,-54Q459.3,-58.4 456.8,-62.7Q454.3,-67 451.9,-71.4L449.4,-75.8" fill="none" stroke-linecap="round" stroke-linejoin="round" stroke="#404040" stroke-width="3.60" opacity="0.75"/>
<path d="M624.7,207.9Q633.3,202.8 637.4,200Q641.6,197.2 645.7,194.4Q649.8,191.5 654,188.8Q658.2,186.1 662.4,183.3Q666.5,180.5 670.4,177.3Q674.3,174.2 678.1,170.9Q681.8,167.7 685.6,164.4Q689.4,161.1 693.4,158.1Q697.3,155 701.6,152.4Q705.9,149.8 710.3,147.5Q714.7,145.1 719.2,143Q723.8,140.9 728.6,139.5Q733.4,138.1 738.3,137.2Q743.2,136.4 748.2,135.8Q753.2,135.2 758.1,134.5Q763.1,133.8 768,133.1Q773,132.5 777.9,131.8Q782.9,131.1 787.8,130.4Q792.8,129.7 797.7,128.9Q802.7,128.1 807.6,127.3Q812.5,126.6 817.5,126Q822.5,125.3 827.5,125.1Q832.4,124.9 837.4,125Q842.4,125.1 847.4,125.1L852.4,125.1 M707.2,186.9Q702.3,178.2 699.8,173.8Q697.3,169.5 695.5,164.8Q693.7,160.2 692.9,155.2Q692.1,150.3 692.1,145.3Q692.1,140.3 692.7,135.3Q693.4,130.4 694.3,125.5Q695.2,120.6 696.4,115.7Q697.5,110.8 699.1,106.1Q700.6,101.3 702.8,96.8Q704.9,92.3 707.7,88.1Q710.4,84 713.4,79.9Q716.3,75.8 719.5,72Q722.8,68.2 726,64.4Q729.1,60.5 732.5,56.9Q735.9,53.2 739.5,49.7Q743.1,46.2 746.8,42.8Q750.5,39.5 754.4,36.3Q758.2,33.1 762.5,30.6Q766.8,28 771,25.3Q775.3,22.7 779.5,20.1Q783.8,17.5 788.1,14.9Q792.4,12.3 796.7,9.7Q800.9,7.2 805.1,4.4Q809.3,1.6 813.2,-1.5L817,-4.7 M464.3,128.4Q474.1,126.4 479,125.6Q483.9,124.8 488.9,124.3Q493.9,123.7 498.9,123.4Q503.9,123.1 508.9,123Q513.9,122.9 518.9,122.9Q523.9,122.8 528.9,122.6Q533.9,122.3 538.8,121.9Q543.8,121.4 548.8,120.9Q553.8,120.3 558.7,120.1Q563.7,119.9 568.7,120.1Q573.7,120.3 578.7,121.1Q583.6,121.9 588.4,123.4Q593.2,124.8 597.7,126.9Q602.3,129 606.5,131.6Q610.8,134.2 614.7,137.3Q618.6,140.4 621.9,144.2Q625.1,148 627.9,152.2Q630.6,156.3 633.1,160.7Q635.5,165.1 637.3,169.8Q639,174.4 640.2,179.3Q641.3,184.2 641.7,189.2Q642.2,194.1 641.8,199.1Q641.4,204.1 640.7,209.1Q640,214 638.4,218.8Q636.9,223.5 634.3,227.8Q631.8,232.1 628.6,235.9Q625.3,239.7 621.4,242.9Q617.5,246 613.2,248.6Q608.9,251.1 604.4,253.3Q599.9,255.5 595.3,257.5Q590.7,259.4 586,261L581.3,262.7 M681.9,97.1Q673.3,92 668.8,89.7Q664.4,87.5 659.7,85.6Q655.1,83.8 650.3,82.4Q645.5,80.9 640.7,79.7Q635.8,78.4 630.9,77.4Q626,76.4 621.1,75.4Q616.3,74.3 611.5,72.8Q606.7,71.3 602.1,69.4Q597.5,67.5 592.9,65.4Q588.4,63.3 584,61Q579.5,58.7 575.4,55.8Q571.3,53 567.5,49.7Q563.8,46.4 560.3,42.8Q556.9,39.2 554,35.1Q551.2,31 548.7,26.6Q546.3,22.2 544,17.8Q541.7,13.3 539.5,8.9Q537.2,4.4 535,-0.1Q532.8,-4.6 530.7,-9.1Q528.6,-13.6 526.7,-18.2Q524.7,-22.9 523,-27.5Q521.2,-32.2 519.5,-36.9L517.8,-41.6 M688,114.7Q692.8,123.5 695.2,127.9Q697.6,132.2 699.9,136.7Q702.2,141.1 704.8,145.4Q707.5,149.6 710.4,153.6Q713.4,157.6 716.8,161.3Q720.2,165 723.9,168.4Q727.6,171.7 731.5,174.8Q735.4,178 739.5,180.9Q743.6,183.7 747.7,186.6Q751.8,189.4 755.9,192.3Q760,195.1 764.2,197.8Q768.4,200.5 772.6,203.2Q776.8,205.9 781,208.7Q785.2,211.4 789.3,214.3Q793.3,217.3 797.3,220.3Q801.3,223.3 805.3,226.3Q809.3,229.3 813.4,232.1Q817.6,234.8 821.7,237.7Q825.8,240.6 829.6,243.8Q833.5,247 837.1,250.4Q840.7,253.9 844.3,257.4Q847.8,260.9 851.5,264.3Q855.1,267.7 858.9,271.1Q862.6,274.4 866.3,277.7Q870.1,281 873.5,284.7Q876.9,288.3 880.1,292.2Q883.2,296.1 886.1,300.2Q889.1,304.2 892.4,307.9Q895.7,311.7 899,315.4Q902.3,319.2 905.6,323L908.9,326.7 M746.8,123.6Q756.8,122.9 761.7,122.1Q766.7,121.3 771.6,120.6Q776.6,119.8 781.5,118.8Q786.4,117.8 791.2,116.6Q796,115.3 800.7,113.4Q805.3,111.5 809.8,109.4Q814.3,107.2 818.7,104.8Q823,102.3 827.1,99.4Q831.2,96.6 834.8,93.1Q838.4,89.5 841.6,85.7Q844.7,81.9 847.5,77.7Q850.2,73.5 852.7,69.1Q855.1,64.8 856.9,60.1Q858.7,55.4 859.7,50.5Q860.7,45.6 860.9,40.6L861.1,35.6 M681.9,225Q690.2,230.6 694.1,233.7Q698,236.8 701.8,240.1Q705.6,243.4 709.4,246.7Q713.2,249.9 717,253.2Q720.8,256.4 724.8,259.4Q728.8,262.4 733.2,264.8Q737.6,267.2 742.1,269.3Q746.7,271.4 751.2,273.5Q755.7,275.6 760.2,277.8Q764.6,280.1 768.8,282.8Q773,285.5 777,288.6Q781,291.6 784.8,294.8Q788.7,298 792.4,301.3Q796.2,304.6 799.9,308Q803.6,311.3 807.5,314.5Q811.3,317.7 815.5,320.4Q819.7,323.2 824.2,325.2Q828.8,327.3 833.5,328.8Q838.3,330.3 843.2,331.3Q848.1,332.4 853.1,332.9Q858,333.5 863,334Q868,334.5 873,335Q877.9,335.5 882.9,336.2Q887.9,336.8 892.8,337.8Q897.6,338.8 902.5,339.9Q907.4,341 912.3,341.8Q917.3,342.6 922.2,343.2Q927.2,343.9 932.2,344.3L937.2,344.7 M615.2,294Q624.1,289.4 628.6,287.1Q633,284.8 637.5,282.7Q642.1,280.6 646.6,278.6Q651.2,276.5 655.9,274.7Q660.5,272.9 665.1,270.9Q669.7,268.8 674.1,266.6Q678.6,264.3 683.1,262.1Q687.6,259.9 692,257.5Q696.3,255.1 700.7,252.6Q705,250.2 709.4,247.7Q713.7,245.1 718,242.7Q722.4,240.2 726.8,238Q731.3,235.7 735.9,233.6Q740.4,231.6 745.1,229.8Q749.7,228 754.4,226.1Q759.1,224.3 763.8,222.6Q768.5,220.9 773.1,219.1Q777.8,217.4 782.5,215.5Q787.1,213.7 791.9,212.1Q796.6,210.6 801.3,208.7Q805.9,206.9 810.4,204.7Q814.9,202.6 819.3,200.2Q823.7,197.8 828.3,195.7Q832.8,193.6 837.4,191.7Q842,189.8 846.9,188.5Q851.7,187.2 856.6,186.4Q861.6,185.6 866.5,185.1Q871.5,184.6 876.5,184.2Q881.5,183.8 886.5,183.6Q891.5,183.3 896.5,183.1Q901.5,182.9 906.5,182.8Q911.5,182.8 916.5,183.2Q921.4,183.5 926.3,184.5Q931.2,185.6 936,187.2L940.7,188.8 M487.9,28.5Q480.7,21.5 476.8,18.4Q472.9,15.2 469,12.2Q465,9.1 460.7,6.6Q456.3,4.1 451.8,2.1Q447.2,0.1 442.4,-1.4Q437.6,-2.8 432.7,-3.7Q427.8,-4.6 422.8,-4.9Q417.8,-5.3 412.8,-5.6Q407.8,-5.9 402.8,-6.1Q397.8,-6.2 392.8,-6.3Q387.8,-6.4 382.8,-6.3Q377.8,-6.2 372.8,-5.8Q367.9,-5.5 362.9,-5.2Q357.9,-5 352.9,-4.6Q347.9,-4.3 342.9,-3.7Q338,-3 333.1,-1.9Q328.2,-0.7 323.6,1.1Q318.9,2.8 314.6,5.4Q310.3,7.9 306.2,10.8Q302.2,13.8 298.3,16.9Q294.3,20 290.6,23.3Q286.9,26.6 283.1,29.9Q279.3,33.1 275.5,36.4Q271.7,39.7 267.8,42.9L264,46 M825.7,143.9Q816.7,139.3 812.4,136.8Q808.1,134.3 803.6,132Q799.2,129.7 794.5,128Q789.9,126.2 785.1,124.7Q780.3,123.3 775.4,122Q770.6,120.7 765.8,119.3Q761,117.8 756.4,116.1Q751.7,114.3 747,112.7Q742.2,111 737.5,109.4Q732.8,107.8 728,106.4Q723.2,105 718.5,103.3Q713.8,101.5 709.1,99.9Q704.3,98.3 699.7,96.5Q695,94.7 690.4,92.8Q685.8,90.8 681.2,88.8Q676.6,86.8 672.1,84.8Q667.5,82.8 663,80.5Q658.5,78.3 654.1,76Q649.6,73.7 645.2,71.5Q640.7,69.3 636.2,67Q631.8,64.7 627.2,62.6Q622.7,60.6 618.1,58.6Q613.5,56.6 608.9,54.7Q604.3,52.7 599.6,51Q594.9,49.3 590.2,47.5Q585.6,45.6 581,43.6Q576.5,41.6 572.1,39Q567.8,36.5 563.8,33.5Q559.8,30.5 556.2,27Q552.6,23.6 549.4,19.7Q546.3,15.8 543.6,11.7Q540.8,7.5 538.4,3.1Q535.9,-1.2 533.8,-5.8Q531.7,-10.3 530.1,-15.1L528.5,-19.8 M794.9,253.2Q804.4,250 809.2,248.5Q813.9,246.9 818.7,245.5Q823.5,244 828.3,242.9Q833.2,241.7 838.1,240.7Q843,239.8 848,239.3Q853,238.8 858,238.6Q863,238.3 868,238Q872.9,237.7 877.9,237.6Q882.9,237.4 887.9,237.1Q892.9,236.8 897.9,236.4Q902.9,235.9 907.9,235.5Q912.8,235 917.8,234.9Q922.8,234.8 927.8,234.5Q932.8,234.3 937.8,234Q942.8,233.8 947.8,233.9Q952.8,234.1 957.7,234.8Q962.7,235.6 967.5,236.8Q972.4,237.9 977.2,239.3Q982,240.7 986.8,242.2Q991.6,243.6 996.4,244.9Q1001.2,246.2 1006.1,247.4Q1011,248.5 1015.9,249.4Q1020.8,250.3 1025.8,251Q1030.7,251.7 1035.6,252.5Q1040.6,253.3 1045.5,254.2L1050.4,255.1 M777.8,208.9Q767.8,209 762.8,208.7Q757.8,208.4 752.8,208.3Q747.8,208.3 742.9,208.1Q737.9,207.9 732.9,207.5Q727.9,207.1 722.9,206.6Q717.9,206.1 713,205.6Q708,205.1 703,204.6Q698,204.1 693,203.9Q688,203.8 683,203.8Q678,203.8 673,203.8Q668,203.7 663,203.7Q658,203.6 653,203.7Q648.1,203.8 643.1,203.9Q638.1,204 633.1,204.4Q628.1,204.8 623.2,205.8Q618.3,206.8 613.5,208.1Q608.6,209.3 603.7,210.5Q598.9,211.6 594,212.5Q589,213.5 584.1,214.2Q579.2,214.9 574.2,215.4Q569.2,215.9 564.2,215.9Q559.2,215.9 554.2,215.6Q549.2,215.3 544.3,214.6Q539.3,213.8 534.4,212.8Q529.5,211.8 524.7,210.7Q519.8,209.5 515,208.2Q510.1,207 505.3,205.7Q500.5,204.5 495.6,203.5Q490.7,202.4 485.7,201.5L480.8,200.7 M658.9,164.8Q652,172.1 648.6,175.8Q645.3,179.5 641.9,183.2Q638.6,186.9 635,190.4Q631.4,193.9 627.8,197.3Q624.2,200.8 620.7,204.4Q617.2,208 613.7,211.5Q610.2,215 606.8,218.7Q603.4,222.4 600.1,226.1Q596.8,229.9 593.6,233.7Q590.4,237.6 587.3,241.5Q584.3,245.5 581.6,249.7Q579,254 576.6,258.4Q574.3,262.8 572.2,267.3Q570.1,271.9 568.5,276.6Q566.8,281.3 565.1,286Q563.3,290.7 561.4,295.3Q559.4,299.9 556.6,304Q553.8,308.2 550.3,311.8Q546.8,315.3 542.9,318.5Q539,321.6 534.8,324.3Q530.6,327 526,329Q521.5,331 516.7,332.5Q511.9,333.9 507,334.8L502,335.6 M611.2,288.4Q618.2,295.5 621.8,299Q625.4,302.5 628.9,306Q632.4,309.6 635.6,313.4Q638.9,317.2 641.5,321.5Q644.1,325.7 646.4,330.2Q648.7,334.6 650.6,339.2Q652.5,343.9 653.8,348.7Q655.2,353.5 656.2,358.4Q657.1,363.3 657.9,368.2Q658.8,373.2 659.6,378.1Q660.4,383 661.3,387.9Q662.3,392.9 663.2,397.8Q664.2,402.7 665,407.6Q665.9,412.5 666.5,417.5Q667.1,422.4 667.4,427.4Q667.6,432.4 667.9,437.4Q668.2,442.4 668.6,447.4Q668.9,452.4 669.2,457.4Q669.6,462.4 669.7,467.4Q669.9,472.4 669.8,477.4Q669.7,482.4 669,487.3Q668.4,492.3 666.7,497Q665.1,501.7 662.7,506.1L660.4,510.5 M453.2,344.9Q443.5,347.5 438.7,348.6Q433.8,349.8 429,351.1Q424.2,352.4 419.4,353.8Q414.6,355.2 409.8,356.8Q405.1,358.3 400.4,360Q395.6,361.7 391,363.6Q386.4,365.5 382,367.9Q377.7,370.3 373.5,373.1Q369.3,375.8 365.2,378.7Q361,381.5 357,384.4Q352.9,387.2 349,390.4Q345,393.5 341.3,396.7Q337.5,400 333.7,403.3Q329.9,406.5 326.2,409.8Q322.4,413.2 318.7,416.5Q315,419.9 311.1,423Q307.2,426.2 303.4,429.3Q299.5,432.5 295.7,435.8Q291.9,439 288.5,442.7Q285.1,446.4 282.2,450.4Q279.3,454.5 276.9,458.9Q274.5,463.3 272.8,468Q271.1,472.7 270,477.6Q269,482.5 268.2,487.4Q267.4,492.3 266.7,497.3Q266.1,502.2 265.7,507.2Q265.2,512.2 264.4,517.1Q263.6,522.1 262.5,526.9Q261.5,531.8 260.6,536.8Q259.7,541.7 258.9,546.6Q258,551.5 257.4,556.5L256.8,561.5 M812.4,255.1Q812.9,245.1 813.1,240.1Q813.3,235.1 813.7,230.1Q814,225.1 814.6,220.2Q815.2,215.2 815.9,210.3Q816.6,205.3 817.4,200.4Q818.3,195.4 819,190.5Q819.7,185.5 820.6,180.6Q821.5,175.7 822.4,170.8Q823.3,165.9 824.1,160.9Q824.9,156 825.9,151.1Q827,146.2 828.1,141.3Q829.2,136.5 830.2,131.6Q831.2,126.7 832.4,121.8Q833.6,117 834.7,112.1Q835.7,107.2 836.6,102.3Q837.5,97.4 837.5,92.4Q837.5,87.4 837.4,82.4Q837.3,77.4 836.9,72.4Q836.5,67.4 835.6,62.5Q834.7,57.6 833.4,52.7Q832.2,47.9 830,43.4Q827.9,38.8 825.4,34.5Q822.9,30.2 820.1,26Q817.4,21.9 814.4,17.8Q811.4,13.8 808.2,10Q804.9,6.2 801.4,2.7Q797.9,-0.9 794.2,-4.3Q790.5,-7.6 786.7,-10.9Q782.9,-14.2 779.2,-17.6Q775.5,-20.9 772,-24.4Q768.5,-28 765.1,-31.7L761.8,-35.4 M667.6,189.7Q677.5,188.3 682.5,187.8Q687.4,187.3 692.4,187.1Q697.4,186.9 702.4,186.7Q707.4,186.6 712.4,186.2Q717.4,185.9 722.3,185.1Q727.3,184.3 732.2,183.8Q737.2,183.2 742.2,182.9Q747.2,182.6 752.2,182.6Q757.2,182.7 762.2,183.2Q767.1,183.8 772,184.9Q776.9,186 781.6,187.7Q786.3,189.4 790.8,191.6Q795.3,193.7 799.7,196.2Q804,198.6 808.1,201.5Q812.3,204.3 816.2,207.4Q820.1,210.5 824.1,213.5Q828.1,216.6 832.1,219.5Q836.1,222.5 840.2,225.3Q844.4,228.1 848.5,230.9Q852.7,233.7 856.9,236.3Q861.2,239 865.6,241.3Q870.1,243.6 874.7,245.5Q879.3,247.5 883.8,249.5Q888.4,251.5 893,253.5Q897.6,255.5 902.1,257.6Q906.7,259.7 911.2,261.8Q915.7,263.9 920.2,266.2L924.7,268.4 M757.4,148.5Q766.1,143.5 770.8,141.7Q775.5,139.9 780.3,138.7Q785.2,137.5 790.1,136.8Q795.1,136.1 800.1,136Q805.1,135.9 810.1,136.2Q815.1,136.4 820.1,136.3Q825.1,136.2 830.1,136Q835,135.7 840,135.3Q845,135 850,134.7Q855,134.5 860,134.8Q865,135 870,135.5Q874.9,136 879.9,136.1Q884.9,136.1 889.9,136Q894.9,135.9 899.9,135.7Q904.9,135.5 909.9,134.9Q914.9,134.4 919.9,133.9Q924.8,133.4 929.8,133Q934.8,132.7 939.8,132.4Q944.8,132.1 949.8,131.8Q954.8,131.5 959.8,131.5Q964.8,131.5 969.8,131.9Q974.7,132.2 979.7,133Q984.6,133.8 989.4,135.1Q994.3,136.4 999,138Q1003.8,139.5 1008.5,141.1Q1013.3,142.7 1018,144.3Q1022.7,145.9 1027.4,147.7Q1032,149.6 1036.7,151.4Q1041.4,153.1 1046,155Q1050.7,156.8 1055.5,158Q1060.4,159.2 1065.4,159.7L1070.3,160.2 M748.5,95.4Q756,102.1 759.9,105.2Q763.7,108.4 767.8,111.3Q771.9,114.1 776.1,116.9Q780.2,119.7 784.5,122.3Q788.7,125 793.2,127.2Q797.7,129.4 802.4,131.1Q807.1,132.8 812,133.8Q816.9,134.9 821.9,135.4Q826.8,135.9 831.8,135.8Q836.8,135.8 841.8,135.3Q846.8,134.8 851.8,134.5Q856.8,134.3 861.8,134.7Q866.7,135.1 871.7,135.7Q876.7,136.3 881.6,137.2Q886.5,138.2 891.4,139.3Q896.2,140.5 901,141.8Q905.9,143.1 910.6,144.8Q915.3,146.4 919.9,148.3Q924.6,150.2 929.2,152.1Q933.8,154.1 938.4,156Q943,158 947.6,159.9Q952.2,161.9 956.7,164.1Q961.2,166.3 965.5,168.8Q969.8,171.3 974.1,173.8Q978.4,176.4 982.8,178.8Q987.1,181.3 991.6,183.5Q996.1,185.8 1000.6,188Q1005,190.2 1009.5,192.5Q1014,194.7 1018.3,197.2Q1022.7,199.6 1027,202.2Q1031.2,204.8 1035.6,207.2Q1040.1,209.5 1044.5,211.7Q1049,213.9 1053.5,216.1Q1058,218.3 1062.5,220.5L1067,222.8 M519.6,160.5Q519.7,170.5 520.2,175.5Q520.7,180.4 521.3,185.4Q521.9,190.4 522.5,195.3Q523,200.3 523.4,205.3Q523.9,210.3 524.7,215.2Q525.4,220.2 526.5,225Q527.6,229.9 528.8,234.8Q530,239.6 531.3,244.4Q532.7,249.3 534.2,254Q535.8,258.8 537.4,263.5Q539,268.2 540.7,272.9Q542.3,277.7 544,282.4Q545.7,287.1 547.2,291.8Q548.8,296.6 550,301.4Q551.2,306.3 552.6,311.1Q553.9,315.9 555.3,320.7Q556.7,325.5 558.2,330.3Q559.7,335 561,339.9Q562.3,344.7 563.3,349.6Q564.2,354.5 564.9,359.5Q565.5,364.4 565.9,369.4Q566.3,374.4 566.6,379.4Q566.9,384.4 567.3,389.4Q567.6,394.4 567.7,399.4Q567.7,404.4 567.6,409.4Q567.4,414.4 567.3,419.4Q567.2,424.4 567,429.4Q566.7,434.3 566.3,439.3Q565.8,444.3 565.1,449.3Q564.5,454.2 563.9,459.2Q563.3,464.1 562.5,469.1Q561.8,474 560.6,478.9L559.4,483.7 M829.4,340.8Q838,335.8 842.3,333.1Q846.5,330.5 850.7,327.7Q854.8,324.8 859,322.1Q863.1,319.3 867.5,316.9Q871.9,314.6 876.4,312.4Q880.9,310.2 885.5,308.1Q890,306.1 894.7,304.3Q899.4,302.6 904.1,301Q908.9,299.3 913.7,298Q918.5,296.6 923.3,295.2Q928.1,293.9 933,292.7Q937.8,291.5 942.7,290.6Q947.6,289.6 952.6,289.1Q957.6,288.6 962.6,288.5Q967.6,288.4 972.6,288.5Q977.6,288.5 982.6,288.7Q987.6,289 992.6,289.1Q997.6,289.3 1002.6,289.6Q1007.5,289.9 1012.5,290.6Q1017.4,291.3 1022.3,292.5Q1027.2,293.6 1032,295.1Q1036.8,296.5 1041.4,298.4Q1046,300.2 1050.5,302.5Q1055,304.7 1059.4,307L1063.8,309.3 M712,293.4Q721.3,297.2 725.9,299Q730.6,300.9 735.3,302.6Q739.9,304.3 744.6,306.3Q749.2,308.2 753.6,310.5Q758.1,312.7 762.4,315.3Q766.7,317.9 770.8,320.6Q775,323.4 779.1,326.3Q783.2,329.1 787.3,332Q791.4,334.8 795.5,337.7Q799.6,340.5 803.9,343Q808.2,345.6 812.7,347.9Q817.1,350.2 821.6,352.5Q826,354.8 830.5,357Q834.9,359.3 839.5,361.2Q844.1,363.2 848.8,365Q853.5,366.8 858.2,368.3Q863,369.7 868,370.5Q872.9,371.4 877.8,372.2Q882.8,373 887.7,373.7Q892.7,374.4 897.6,374.8Q902.6,375.2 907.6,375Q912.6,374.8 917.6,374Q922.5,373.2 927.3,371.8Q932.1,370.4 936.6,368.2Q941,365.9 944.9,362.8Q948.7,359.6 952.1,355.9L955.5,352.2 M800.9,294Q806.4,285.6 809.3,281.6Q812.2,277.5 815,273.3Q817.7,269.1 820.2,264.8Q822.8,260.5 825.2,256.2Q827.7,251.8 829.8,247.3Q832,242.8 833.9,238.1Q835.7,233.5 837.3,228.8Q839,224 840.4,219.2Q841.8,214.5 842.4,209.5Q843,204.5 842.8,199.5Q842.6,194.5 841.8,189.6Q841.1,184.6 840,179.8Q838.9,174.9 837.7,170Q836.6,165.2 835.2,160.3Q833.9,155.5 832.9,150.6Q832,145.7 831.5,140.7Q831.1,135.7 831.1,130.7Q831.2,125.7 831.8,120.8Q832.5,115.8 833.8,111Q835.2,106.2 837.1,101.6Q839,97 841.2,92.5Q843.4,88 846.1,83.8Q848.8,79.5 851.8,75.6Q854.9,71.6 857.9,67.7Q861,63.7 863.8,59.6Q866.6,55.4 869.3,51.2Q872.1,47.1 874.7,42.8Q877.4,38.6 880.1,34.4Q882.8,30.2 885.6,26Q888.4,21.9 891.3,17.8Q894.2,13.8 897.5,10Q900.9,6.3 904.3,2.7Q907.8,-0.9 911.4,-4.4Q915,-7.9 918.7,-11.2L922.3,-14.6 M758.7,121.1Q749.3,117.8 744.5,116.2Q739.8,114.6 735.1,113Q730.3,111.3 725.7,109.4Q721.1,107.4 716.5,105.5Q711.9,103.6 707.2,101.8Q702.5,100.1 697.9,98.2Q693.2,96.3 688.7,94.2Q684.2,92 679.8,89.7Q675.4,87.4 671,84.9Q666.7,82.4 662.4,79.8Q658.2,77.1 654.3,74.1Q650.3,71 646.6,67.6Q642.9,64.3 639.2,61Q635.5,57.6 631.9,54.1Q628.3,50.6 624.8,47.1Q621.2,43.6 617.6,40.1Q614,36.6 610.7,32.9Q607.3,29.2 604.1,25.3Q600.9,21.5 597.9,17.5Q594.8,13.6 591.9,9.5Q589,5.4 586.1,1.4Q583.1,-2.6 580.1,-6.6Q577.1,-10.7 574.2,-14.7Q571.3,-18.8 568.2,-22.7Q565.1,-26.6 561.7,-30.3Q558.4,-34 554.8,-37.5Q551.2,-41 547.5,-44.3Q543.7,-47.7 540.1,-51Q536.4,-54.4 532.7,-57.8Q529,-61.2 525.6,-64.9Q522.3,-68.6 518.9,-72.3Q515.6,-76 512.3,-79.8L509,-83.5 M543.1,199Q548.2,207.6 550.5,212.1Q552.8,216.5 554.6,221.2Q556.4,225.8 558.1,230.5Q559.9,235.2 561.5,239.9Q563,244.7 564.4,249.5Q565.7,254.3 566.8,259.2Q568,264.1 569.1,268.9Q570.2,273.8 571.5,278.7Q572.8,283.5 574.3,288.3Q575.7,293 577,297.9Q578.3,302.7 579.5,307.6Q580.7,312.4 581.8,317.3Q582.8,322.2 583.9,327.1Q585,331.9 586,336.8Q587.1,341.7 588.3,346.6Q589.5,351.4 590.8,356.3Q592.1,361.1 593.5,365.9Q594.9,370.7 596.3,375.5Q597.7,380.3 599.2,385Q600.8,389.8 602.7,394.4Q604.6,399.1 606.8,403.5Q609.1,408 611.4,412.4Q613.7,416.9 615.7,421.4Q617.7,426 619.6,430.6Q621.5,435.3 623.1,440Q624.7,444.7 625.9,449.6Q627.1,454.4 627.8,459.4Q628.6,464.3 629.4,469.3Q630.2,474.2 630.9,479.2Q631.6,484.1 632.5,489Q633.4,493.9 634.1,498.9L634.8,503.8 M599.1,173.6Q608.9,171.5 613.8,170.4Q618.7,169.3 623.5,167.9Q628.3,166.5 633.1,165.2Q637.9,163.8 642.7,162.5Q647.6,161.1 652.5,160.1Q657.3,159.1 662.3,158.3Q667.2,157.5 672.2,156.9Q677.1,156.3 682.1,156.2Q687.1,156.1 692.1,156.5Q697.1,156.8 702.1,157.6Q707,158.4 711.8,159.7Q716.6,161.1 721.3,163Q725.9,164.8 730.3,167.1Q734.8,169.5 739,172Q743.3,174.6 747.5,177.3Q751.7,180.1 755.9,182.8Q760.1,185.6 764.1,188.5Q768.2,191.4 772.2,194.4Q776.2,197.4 780.3,200.3Q784.3,203.2 788.4,206.1Q792.4,209.1 796.2,212.3Q800,215.6 803.8,218.9Q807.5,222.2 810.9,225.8Q814.4,229.5 817.7,233.2Q821.1,236.9 824.5,240.6Q827.9,244.2 831.5,247.7Q835.1,251.1 838.6,254.7Q842.1,258.3 845.4,262Q848.7,265.8 851.9,269.6Q855,273.5 857.8,277.7Q860.5,281.9 862.8,286.3Q865.1,290.8 866.9,295.4Q868.8,300.1 870.5,304.8L872.2,309.5 M793.6,219.4Q801.9,224.9 806,227.7Q810.2,230.6 814.2,233.5Q818.3,236.4 822.3,239.3Q826.4,242.3 830.2,245.5Q834.1,248.7 837.9,251.9Q841.7,255.2 845.6,258.3Q849.5,261.3 853.6,264.2Q857.7,267.2 861.8,270Q865.9,272.8 870.4,275.1Q874.8,277.5 879.4,279.3Q884,281.2 888.8,282.7Q893.6,284.3 898.4,285.6Q903.2,286.8 908.1,287.9Q913,289 918,289.6Q922.9,290.2 927.9,290.7Q932.9,291.1 937.8,291.8Q942.8,292.6 947.7,293.5Q952.6,294.4 957.5,295.2Q962.5,296.1 967.4,296.7L972.4,297.3 M571.4,131.8Q565.2,123.9 562.2,119.9Q559.1,116 556.2,111.9Q553.2,107.9 550,104Q546.9,100.2 543.4,96.6Q540,92.9 536.3,89.6Q532.6,86.2 528.7,83Q524.8,79.9 520.6,77.2Q516.3,74.6 511.7,72.6Q507.2,70.6 502.3,69.3Q497.5,67.9 492.6,67.2Q487.6,66.5 482.6,66.3Q477.6,66 472.7,66.4Q467.7,66.8 462.9,68.2Q458.1,69.6 453.8,72.2Q449.5,74.7 445.8,78.1Q442.1,81.5 439,85.4L435.8,89.3 M701.4,81.3Q710.2,86 714.8,88.1Q719.4,90.1 724.1,91.6Q728.9,93.2 733.8,94.1Q738.7,95.1 743.6,96Q748.5,96.9 753.5,97.5Q758.4,98.2 763.4,98.9Q768.3,99.6 773.2,100.8Q778.1,102 782.7,103.9Q787.3,105.8 791.5,108.5Q795.7,111.3 799.1,114.9Q802.6,118.5 805.6,122.5Q808.5,126.5 811.2,130.8Q813.8,135 816.3,139.4Q818.8,143.7 821.2,148.1Q823.6,152.4 825.4,157.1Q827.3,161.7 829,166.5Q830.7,171.2 832.2,175.9Q833.6,180.7 835.2,185.5Q836.7,190.2 838.1,195L839.4,199.8 M820,96.3Q811.3,91.3 807.1,88.5Q803,85.8 799.1,82.6Q795.3,79.3 791.8,75.8Q788.3,72.2 785.1,68.4Q781.9,64.5 779.2,60.3Q776.5,56.1 774.7,51.4Q773,46.8 772.4,41.8Q771.8,36.8 772,31.8Q772.2,26.8 773,21.9Q773.8,17 775.2,12.2Q776.7,7.4 778.7,2.8Q780.7,-1.8 783,-6.2Q785.2,-10.7 787.3,-15.2Q789.4,-19.8 791.2,-24.4Q793,-29.1 794.7,-33.8Q796.4,-38.5 798,-43.3Q799.6,-48 801,-52.8Q802.4,-57.6 803.7,-62.4Q805,-67.2 806,-72.1Q807,-77 807.9,-82Q808.9,-86.9 809.8,-91.8Q810.8,-96.7 812.1,-101.5Q813.4,-106.3 814.9,-111.1Q816.4,-115.9 818.3,-120.5Q820.3,-125.1 822.4,-129.6Q824.5,-134.2 827,-138.5Q829.6,-142.8 832.6,-146.7Q835.7,-150.7 839.3,-154.2Q842.8,-157.7 846.9,-160.6Q851,-163.4 855.7,-165.3Q860.3,-167.2 865.2,-168.4Q870,-169.6 874.9,-170.4Q879.9,-171.2 884.8,-171.9L889.8,-172.7 M758.9,275Q748.9,275.6 743.9,275.5Q738.9,275.4 733.9,275.4Q728.9,275.4 724,275.7Q719,275.9 714,276.3Q709,276.6 704.1,277.5Q699.1,278.3 694.4,279.8Q689.6,281.3 685.1,283.4Q680.5,285.6 676.4,288.3Q672.2,291 668.6,294.5Q665,298 661.8,301.9Q658.6,305.7 655.9,309.9Q653.1,314 650.6,318.4Q648.1,322.7 645.9,327.2Q643.7,331.7 642.1,336.4Q640.6,341.2 639.7,346.1Q638.8,351 638.7,356Q638.5,361 639.1,366Q639.6,371 640.8,375.8Q642,380.6 643.9,385.3Q645.7,390 648,394.4Q650.3,398.8 652.9,403.1Q655.5,407.4 658.1,411.7Q660.7,415.9 663.5,420.1Q666.3,424.2 669.3,428.2Q672.3,432.2 675.2,436.3Q678,440.4 680.7,444.6Q683.4,448.8 686,453.1Q688.7,457.3 691.3,461.6Q694,465.8 696.7,470Q699.4,474.2 702,478.5Q704.6,482.7 707.1,487.1Q709.6,491.4 711.9,495.8Q714.3,500.3 716,504.9Q717.8,509.6 719.3,514.4Q720.9,519.1 722.5,523.9Q724.1,528.6 726.1,533.2L728.1,537.7 M779.7,89.6Q779.6,79.6 779.6,74.6Q779.6,69.6 779.6,64.6Q779.6,59.6 779.6,54.6Q779.5,49.6 778.9,44.7Q778.2,39.7 777,34.9Q775.7,30 774.1,25.3Q772.6,20.5 770.8,15.9Q769,11.2 766.9,6.7Q764.9,2.1 762.8,-2.5Q760.7,-7 759,-11.7Q757.4,-16.4 756.2,-21.3Q755,-26.1 754.3,-31.1Q753.6,-36.1 753.2,-41Q752.7,-46 752.2,-51Q751.7,-56 751.4,-60.9Q751.1,-65.9 751,-70.9Q750.9,-75.9 751,-80.9Q751.2,-85.9 751.6,-90.9Q752,-95.9 752.6,-100.9Q753.2,-105.8 753.3,-110.8Q753.5,-115.8 753.3,-120.8Q753.1,-125.8 753,-130.8Q752.8,-135.8 752.5,-140.8Q752.3,-145.8 752.1,-150.8Q751.9,-155.8 751.9,-160.8Q751.8,-165.8 752.4,-170.8Q753,-175.7 753.8,-180.7L754.5,-185.6 M794,135.9Q784,136.6 779.1,137Q774.1,137.4 769.1,137.8Q764.1,138.1 759.1,138.2Q754.1,138.2 749.1,137.8Q744.1,137.4 739.3,136.3Q734.4,135.1 729.8,133.3Q725.1,131.4 720.7,129Q716.3,126.6 712.2,123.8Q708,121 704,118.1Q699.9,115.2 696.2,111.8Q692.5,108.5 688.9,105.1Q685.2,101.6 681.6,98.1Q678.1,94.6 674.5,91.2Q670.8,87.7 667.1,84.4Q663.3,81.1 659.2,78.4Q655,75.6 650.5,73.4Q646,71.1 641.4,69.3L636.7,67.6 M560.9,260.6Q564.1,270.1 565.4,274.9Q566.7,279.7 567.7,284.6Q568.6,289.5 569.5,294.5Q570.4,299.4 571.5,304.3Q572.6,309.1 574.2,313.9Q575.8,318.6 578,323.1Q580.1,327.6 582.8,331.9Q585.4,336.1 588.5,340Q591.7,343.9 594.8,347.8Q597.9,351.7 601.1,355.6Q604.3,359.4 607.7,363.1Q611,366.8 614.6,370.3Q618.1,373.9 621.8,377.2Q625.5,380.5 629.3,383.9Q633,387.3 636.7,390.6Q640.4,394 644.3,397.1Q648.2,400.2 652.2,403.2Q656.3,406.1 660.3,409.1L664.3,412.1 M536.2,293Q544.6,298.4 548.8,301.1Q553,303.8 557.3,306.5Q561.5,309.1 565.8,311.7Q570.1,314.2 574.3,316.9Q578.6,319.5 582.6,322.5Q586.7,325.4 590.3,328.9Q593.9,332.4 597,336.2Q600.2,340.1 602.9,344.3Q605.6,348.5 608.4,352.7Q611.1,356.9 613.7,361.1Q616.4,365.4 619.2,369.5Q622.1,373.5 624.9,377.7Q627.7,381.8 630.6,386Q633.4,390.1 636.3,394.2Q639.2,398.2 642.3,402.1Q645.5,406 648.9,409.6Q652.3,413.3 656.1,416.5Q659.9,419.8 663.8,422.9Q667.7,426 671.7,429.1Q675.6,432.2 679.8,435L683.9,437.8 M797.3,251.4Q787.4,249.8 782.6,248.5Q777.8,247.2 773.1,245.3Q768.5,243.5 764.1,241.1Q759.8,238.6 755.7,235.6Q751.7,232.7 748.1,229.2Q744.5,225.7 741.4,221.8Q738.3,217.9 735.3,213.9Q732.3,209.9 729.3,205.9Q726.4,201.8 723.4,197.8Q720.5,193.8 717.3,189.9Q714.2,186 711,182.2Q707.7,178.4 704.2,174.8Q700.7,171.2 696.9,168Q693.1,164.7 689.3,161.5Q685.5,158.2 681.7,155Q677.9,151.7 674.1,148.4Q670.3,145.2 666.3,142.2Q662.3,139.2 658.3,136.3Q654.2,133.4 650,130.7Q645.7,128 641.5,125.5Q637.2,122.9 632.8,120.4Q628.5,117.9 624,115.7Q619.5,113.5 614.9,111.5Q610.4,109.5 605.7,107.8Q600.9,106.2 596.2,104.7Q591.4,103.2 586.5,101.9Q581.7,100.6 576.8,99.5Q572,98.4 567.1,97.2Q562.2,96 557.4,95Q552.5,93.9 547.5,93.2Q542.6,92.6 537.6,92.4Q532.6,92.3 527.6,92.5Q522.6,92.7 517.6,93.1Q512.6,93.4 507.6,94Q502.7,94.5 497.7,95.1L492.7,95.7 M698.8,195.9Q697.2,205.7 695.9,210.5Q694.6,215.4 692.8,220.1Q691.1,224.7 688.8,229.2Q686.5,233.7 683.8,237.8Q681,241.9 677.6,245.6Q674.2,249.3 670.2,252.3Q666.2,255.4 662.1,258.2Q658,261 653.6,263.4Q649.2,265.8 644.6,267.8Q640,269.8 635.4,271.6Q630.7,273.3 625.9,274.8Q621.1,276.2 616.2,277.4Q611.4,278.5 606.4,279.4Q601.5,280.3 596.6,281.3Q591.7,282.4 586.9,283.6Q582,284.8 577.2,285.9Q572.3,287.1 567.4,288.2Q562.6,289.3 557.8,290.8Q553,292.3 548.3,293.9Q543.6,295.6 538.8,297.2Q534.1,298.8 529.3,300.4Q524.6,301.9 519.8,303.3Q515,304.8 510.2,306.2Q505.4,307.6 500.6,309.1Q495.9,310.6 491.1,312.1Q486.3,313.5 481.6,315.1Q476.8,316.6 472.1,318.2L467.3,319.7 M863.5,279Q862.5,269.1 862.3,264.1Q862,259.1 862,254.1Q862.1,249.1 862.5,244.1Q863,239.1 864,234.2Q864.9,229.3 866.3,224.5Q867.6,219.7 868.9,214.9Q870.2,210 871.9,205.4Q873.7,200.7 875.8,196.1Q877.9,191.6 880.2,187.2Q882.5,182.7 884.7,178.2Q886.9,173.8 889.3,169.4Q891.6,164.9 894.2,160.7Q896.8,156.4 899.7,152.3Q902.6,148.2 905.5,144.2Q908.4,140.1 911.1,135.9Q913.7,131.6 915.8,127.1Q917.9,122.5 919.2,117.7Q920.5,112.9 921,107.9Q921.4,102.9 921.3,97.9L921.1,92.9 M593.4,285.4Q595.3,295.2 595.9,300.1Q596.6,305.1 596.8,310.1Q597.1,315.1 596.9,320.1Q596.8,325.1 596.2,330.1Q595.7,335 594.6,339.9Q593.5,344.8 592,349.6Q590.6,354.4 588.7,359Q586.7,363.6 584.1,367.8Q581.5,372.1 578.5,376.1Q575.4,380 571.9,383.6Q568.4,387.1 564.6,390.4Q560.9,393.8 557,396.9Q553.1,400.1 549.1,403.1Q545.1,406 541,408.9Q537,411.8 533,414.8Q528.9,417.8 525,420.9Q521.1,424 517.1,427.1Q513.2,430.2 509.3,433.3Q505.3,436.3 501.3,439.3Q497.2,442.2 493.3,445.3Q489.4,448.4 485.4,451.4L481.4,454.4 M544,138.4Q550.1,146.3 553,150.3Q556,154.3 559,158.4Q561.9,162.4 565.3,166.1Q568.6,169.8 572.1,173.4Q575.6,177 579.1,180.5Q582.7,184 586.4,187.4Q590.1,190.8 593.8,194.1Q597.6,197.4 601.3,200.8Q604.9,204.2 608.7,207.5Q612.4,210.8 616.1,214.2Q619.9,217.5 623.8,220.6Q627.7,223.7 631.6,226.8Q635.5,229.9 639.4,233Q643.3,236.2 647.2,239.4Q651,242.6 654.8,245.8Q658.6,249.1 662.2,252.6Q665.8,256 669,259.8Q672.3,263.6 675.1,267.7Q678,271.9 680.4,276.2Q682.8,280.6 685.1,285.1Q687.4,289.5 689.5,294Q691.6,298.6 693.3,303.3Q694.9,308 696.1,312.9Q697.2,317.8 697.8,322.7Q698.5,327.7 698.4,332.7Q698.3,337.7 697.8,342.6Q697.2,347.6 696.3,352.5Q695.4,357.4 694.2,362.3Q693.1,367.2 691.5,371.9Q689.9,376.6 688.1,381.3Q686.2,386 684.4,390.6Q682.6,395.3 681.1,400Q679.6,404.8 678,409.6Q676.5,414.3 675,419.1Q673.4,423.8 671.6,428.5L669.8,433.2 M520.8,26.3Q530.7,27.1 535.7,27Q540.7,26.9 545.7,26.7Q550.7,26.4 555.7,26Q560.7,25.6 565.6,24.8Q570.5,24 575.3,22.4Q580.1,20.9 584.6,18.9Q589.2,16.8 593.7,14.7Q598.3,12.6 602.6,10.2Q607,7.8 611,4.7Q614.9,1.7 618.6,-1.8Q622.2,-5.2 625.5,-9Q628.7,-12.8 631.6,-16.9Q634.5,-21 637,-25.3Q639.4,-29.6 641.4,-34.2Q643.4,-38.8 645.1,-43.5Q646.7,-48.3 648.3,-53Q649.9,-57.8 651.4,-62.5Q653,-67.2 654.5,-72Q656,-76.8 657.6,-81.5Q659.3,-86.2 661,-90.9Q662.7,-95.6 664.6,-100.3Q666.5,-104.9 668.3,-109.5Q670.2,-114.2 672.1,-118.8Q674.1,-123.4 676.3,-127.9Q678.5,-132.4 681.1,-136.6Q683.7,-140.9 686.7,-144.9Q689.6,-149 692.9,-152.7Q696.2,-156.5 699.6,-160.2L703,-163.8 M681.9,257.4Q672.6,253.7 668.1,251.6Q663.6,249.4 659.2,246.9Q654.9,244.5 650.6,241.8Q646.4,239.1 642.3,236.3Q638.2,233.4 634.2,230.5Q630.1,227.5 626.2,224.5Q622.2,221.4 618.2,218.5Q614.1,215.6 610,212.8Q605.8,210 601.5,207.4Q597.2,204.9 592.8,202.5Q588.4,200.1 583.9,197.9Q579.4,195.7 574.9,193.6Q570.4,191.4 565.8,189.6Q561.1,187.8 556.5,185.8Q551.9,183.9 547.2,182Q542.6,180.1 537.9,178.4Q533.3,176.6 528.5,175Q523.8,173.4 519,172.1Q514.1,170.7 509.2,169.9Q504.3,169 499.3,168.5Q494.3,168 489.4,167.6Q484.4,167.2 479.4,166.9Q474.4,166.6 469.4,166.8Q464.4,167.1 459.5,168.1Q454.6,169.1 449.8,170.5Q445.1,172 440.5,174.2Q436,176.3 431.9,179.2Q427.8,182 424.1,185.4Q420.4,188.8 417.3,192.7Q414.2,196.6 411.6,200.9L408.9,205.1 M812.4,145.6Q821,140.6 825.5,138.3Q829.9,136.1 834.5,134Q839,132 843.7,130.2Q848.4,128.5 853.2,127.2Q858.1,125.8 863,124.8Q867.8,123.7 872.8,123Q877.7,122.3 882.7,121.9Q887.7,121.6 892.7,121.5Q897.7,121.4 902.7,121.4Q907.7,121.3 912.7,121.6Q917.7,121.9 922.7,122.4Q927.6,122.9 932.6,123.5Q937.6,124.1 942.5,124.9Q947.4,125.7 952.4,126.3L957.4,126.8 M700.2,208.2Q705.1,199.5 707.5,195.1Q709.9,190.7 712.3,186.3Q714.8,182 717.4,177.7Q720.1,173.5 722.8,169.3Q725.5,165.1 728.2,160.9Q730.9,156.7 733.3,152.3Q735.6,147.9 737.5,143.2Q739.4,138.6 740.5,133.7Q741.5,128.8 741.8,123.8Q742.1,118.8 741.7,113.9Q741.4,108.9 740.3,104Q739.2,99.1 737.4,94.4Q735.6,89.8 733,85.5Q730.5,81.2 727.3,77.3Q724.2,73.4 720.6,70Q716.9,66.5 713.2,63.2Q709.4,59.9 705.5,56.8Q701.6,53.7 697.5,50.9Q693.4,48 689.1,45.4Q684.9,42.7 680.7,40Q676.5,37.3 672.4,34.5Q668.2,31.7 664.3,28.6Q660.4,25.5 656.7,22.1Q653,18.7 649.5,15.1Q646,11.5 642.8,7.7Q639.6,3.9 636.7,-0.2Q633.7,-4.2 631,-8.4Q628.2,-12.5 625.5,-16.8Q622.8,-21 619.9,-25Q616.9,-29.1 613.9,-33Q610.9,-37 607.6,-40.8Q604.4,-44.6 601.1,-48.4Q597.7,-52.1 594.5,-55.9Q591.3,-59.7 587.9,-63.4Q584.5,-67.1 581.1,-70.7Q577.7,-74.4 574.4,-78.1L571,-81.9 M775.8,149.3Q773.6,139.5 772.3,134.7Q770.9,129.9 769.3,125.2Q767.6,120.5 765.9,115.7Q764.3,111 762.8,106.2Q761.4,101.4 759.9,96.7Q758.3,91.9 756.5,87.3Q754.6,82.7 752.4,78.2Q750.2,73.7 747.7,69.4Q745.1,65 742.1,61.1Q739.1,57.1 735.8,53.3Q732.6,49.5 728.9,46.1Q725.2,42.7 721.3,39.5Q717.5,36.4 713.5,33.3Q709.6,30.2 705.6,27.2Q701.6,24.3 697.4,21.5Q693.2,18.8 688.9,16.2Q684.6,13.6 680.3,11.1Q675.9,8.7 671.4,6.7Q666.8,4.7 661.9,3.4L657.1,2.1 M484.7,252.6Q476.4,258.1 472.3,260.9Q468.1,263.7 464,266.5Q459.8,269.2 455.6,272Q451.4,274.7 447.2,277.4Q443,280.1 438.9,282.9Q434.7,285.7 430.5,288.4Q426.3,291.1 422.1,293.7Q417.8,296.4 413.5,299Q409.3,301.6 405.4,304.7Q401.5,307.9 397.9,311.4Q394.3,314.9 390.9,318.5Q387.4,322.1 383.9,325.6Q380.3,329.1 376.7,332.6Q373,336 369.5,339.5Q365.9,343 362.3,346.5Q358.8,350 355.4,353.7Q352,357.4 348.5,360.9Q344.9,364.4 341.1,367.7Q337.4,371 333.6,374.3Q329.8,377.5 326.2,380.9Q322.5,384.3 318.8,387.7Q315.1,391.1 311.4,394.4Q307.6,397.7 304.2,401.4Q300.9,405.1 298,409.2Q295.2,413.3 292.7,417.6Q290.2,422 288.3,426.6Q286.3,431.2 285,436Q283.7,440.8 282.8,445.8L281.9,450.7 M836,100Q826,100.5 821,100.7Q816,100.9 811,101Q806,101.1 801,101.2Q796,101.3 791,101.5Q786,101.7 781.1,102.1Q776.1,102.6 771.1,103.2Q766.2,103.9 761.3,104.8Q756.3,105.7 751.4,106.4Q746.4,107.2 741.5,108Q736.6,108.8 731.6,109.5Q726.7,110.2 721.7,110.7Q716.7,111.3 711.7,111.6Q706.8,112 701.8,112.1Q696.8,112.2 691.8,112.2Q686.8,112.3 681.8,112.1Q676.8,111.9 671.8,111.4L666.8,111 M864,82.8Q870.1,74.9 873.2,70.9Q876.2,67 879.1,62.9Q882.1,58.9 885,54.8Q887.9,50.7 890.5,46.5Q893.1,42.2 895.4,37.8Q897.6,33.3 899.5,28.7Q901.4,24 902.8,19.2Q904.2,14.4 905.7,9.7Q907.2,4.9 908.5,0.1Q909.8,-4.8 911.3,-9.5Q912.7,-14.3 914.3,-19.1Q915.8,-23.8 917.6,-28.5Q919.4,-33.2 921.1,-37.9Q922.8,-42.6 924.4,-47.3Q926.1,-52 927.7,-56.8Q929.3,-61.5 931,-66.2Q932.7,-70.9 934.5,-75.6Q936.3,-80.2 938.4,-84.8Q940.5,-89.3 942.9,-93.7Q945.3,-98.1 947.9,-102.3Q950.6,-106.6 953.2,-110.8Q955.9,-115.1 958.5,-119.3Q961.2,-123.5 963.8,-127.8Q966.4,-132 969.2,-136.2Q971.9,-140.4 975.2,-144.2L978.5,-148 M657.6,295.4Q659.6,285.6 660.5,280.7Q661.5,275.8 662.6,270.9Q663.8,266.1 664.7,261.2Q665.6,256.3 666.5,251.3Q667.4,246.4 668.2,241.5Q669,236.5 669.9,231.6Q670.9,226.7 671.9,221.8Q673,216.9 674,212.1Q675.1,207.2 675.9,202.2Q676.8,197.3 677.6,192.4Q678.4,187.4 679.1,182.5Q679.8,177.5 680.3,172.6Q680.8,167.6 681,162.6Q681.3,157.6 681.1,152.6Q681,147.6 680.7,142.6Q680.4,137.6 679.8,132.7Q679.2,127.7 677.9,122.9Q676.7,118 674.8,113.4Q672.8,108.8 670.6,104.3Q668.4,99.8 665.9,95.5Q663.3,91.2 660.7,87Q658,82.7 655.4,78.5Q652.7,74.2 650,70Q647.3,65.8 644.7,61.6Q642.1,57.3 639.7,52.9Q637.2,48.6 634.9,44.1Q632.6,39.7 630.3,35.3Q627.9,30.8 625.6,26.4Q623.2,22 620.6,17.8Q617.9,13.6 615,9.5L612.1,5.4 M488.8,134.6Q479.8,139 475.5,141.6Q471.2,144.1 467,146.8Q462.8,149.6 458.8,152.6Q454.8,155.6 450.9,158.6Q446.9,161.6 442.8,164.6Q438.8,167.5 434.7,170.4Q430.6,173.2 426.4,175.9Q422.2,178.7 418,181.4Q413.8,184.1 409.5,186.7Q405.3,189.4 401.2,192.2Q397,194.9 392.7,197.6Q388.5,200.2 384.2,202.7Q379.8,205.2 375.4,207.6Q371,209.9 366.5,212L362,214.2 M736.1,74.2Q734.3,84.1 733.3,89Q732.3,93.9 731.1,98.7Q730,103.6 728.5,108.4Q727,113.2 725.2,117.8Q723.4,122.5 721.3,127Q719.2,131.6 717,136.1Q714.9,140.6 712.8,145.1Q710.7,149.7 708.7,154.3Q706.8,158.9 705.1,163.6Q703.4,168.3 702.3,173.1Q701.1,178 700.7,183Q700.3,188 700.2,193Q700.2,198 700.8,202.9Q701.4,207.9 702.7,212.7Q704,217.6 705.9,222.2Q707.8,226.8 709.8,231.4Q711.9,236 713.8,240.6Q715.7,245.2 717.5,249.8Q719.4,254.5 721.5,259Q723.5,263.6 725.9,268Q728.2,272.4 730.9,276.6Q733.6,280.9 736.7,284.8Q739.7,288.7 743,292.5Q746.3,296.3 749.9,299.8Q753.5,303.2 757.4,306.3Q761.4,309.3 765.6,312Q769.9,314.7 774.3,317Q778.7,319.3 783.3,321.2Q788,323.1 792.8,324.5L797.6,325.8 M687.1,337.9Q692.3,346.5 694.6,350.9Q697,355.3 699.2,359.8Q701.5,364.2 703.4,368.9Q705.3,373.5 706.7,378.3Q708.1,383.1 709.1,388Q710,392.9 710.6,397.9Q711.1,402.8 711.4,407.8Q711.7,412.8 711.6,417.8Q711.4,422.8 710.9,427.8Q710.4,432.8 709.6,437.7Q708.8,442.6 707.3,447.4Q705.8,452.2 704.1,456.9Q702.4,461.6 700.9,466.3Q699.4,471.1 697.9,475.9Q696.4,480.7 695.2,485.5Q694.1,490.4 693.9,495.4Q693.7,500.4 694.4,505.3Q695.1,510.3 696,515.2Q697,520.1 697.9,525Q698.9,529.9 699.9,534.8Q700.9,539.7 702.2,544.6Q703.4,549.4 704.7,554.2Q706.1,559 707.7,563.8Q709.3,568.5 711.5,573L713.8,577.5 M548.8,237.2Q557.8,241.5 562.4,243.6Q566.9,245.7 571.5,247.6Q576.2,249.5 580.9,251.2Q585.6,252.8 590.2,254.8Q594.8,256.7 599.3,259Q603.7,261.3 608.1,263.6Q612.5,266 617.1,267.9Q621.7,269.9 626.5,271.4Q631.3,272.9 636.1,274Q641,275.2 646,275.9Q650.9,276.7 655.9,277Q660.9,277.4 665.9,277.5Q670.9,277.6 675.9,277.7Q680.9,277.8 685.9,278Q690.9,278.2 695.8,278.7Q700.8,279.2 705.8,279.6Q710.8,280 715.8,280.5Q720.7,281 725.7,281.7Q730.6,282.3 735.6,282.7Q740.6,283.1 745.6,283.7Q750.6,284.2 755.6,284.4Q760.5,284.7 765.5,284.4Q770.5,284.1 775.5,283.9Q780.5,283.8 785.5,284.1Q790.5,284.4 795.5,285.1Q800.4,285.8 805.2,287.2L810,288.5 M745.6,81Q741,72.1 738.9,67.5Q736.8,63 734.7,58.5Q732.6,53.9 730.8,49.3Q729,44.6 727.4,39.9Q725.8,35.1 724.6,30.3Q723.4,25.4 722.5,20.5Q721.6,15.6 720.8,10.7Q720.1,5.7 719.6,0.7Q719.2,-4.2 719.3,-9.2Q719.3,-14.2 719.7,-19.2Q720.1,-24.2 720.7,-29.2Q721.4,-34.1 722.6,-39Q723.8,-43.8 725.9,-48.4Q727.9,-53 730.4,-57.3Q732.9,-61.6 735.6,-65.8Q738.3,-70 741.4,-73.9Q744.5,-77.9 748.4,-81Q752.3,-84.2 756.5,-86.8Q760.8,-89.4 765.2,-91.8Q769.6,-94.2 774,-96.6Q778.4,-98.9 782.9,-101.1Q787.4,-103.3 791.9,-105.4Q796.4,-107.6 801,-109.6L805.6,-111.6 M612.5,298.9Q604.8,305.2 601.2,308.7Q597.6,312.2 594.4,316Q591.2,319.9 588.2,323.8Q585.1,327.8 582.1,331.8Q579.1,335.8 576,339.7Q572.8,343.6 569.6,347.4Q566.4,351.3 562.9,354.8Q559.3,358.3 555.5,361.6Q551.7,364.8 547.6,367.6Q543.4,370.3 539,372.7Q534.6,375.1 530.1,377.3Q525.7,379.6 521.1,381.6Q516.5,383.6 511.8,385.4Q507.2,387.3 502.5,389Q497.8,390.8 493.2,392.8Q488.6,394.7 484.1,396.9Q479.6,399.1 475.2,401.4Q470.8,403.8 466.6,406.4Q462.3,409 458.1,411.7Q453.9,414.5 450.1,417.7Q446.3,421 442.7,424.5Q439.1,427.9 435.8,431.7Q432.5,435.4 429.1,439.1Q425.7,442.7 422.3,446.4L418.9,450.1 M484,325.3Q484.2,335.2 484.7,340.2Q485.1,345.2 485.5,350.2Q485.9,355.2 486,360.2Q486.1,365.2 486.3,370.2Q486.5,375.2 486.8,380.2Q487.2,385.1 487.6,390.1Q488.1,395.1 488.6,400.1Q489.1,405.1 489.7,410Q490.3,415 491.1,419.9Q492,424.8 492.8,429.8Q493.6,434.7 494.5,439.6Q495.3,444.6 496.6,449.4Q497.8,454.2 499.6,458.9Q501.4,463.6 503.2,468.2Q505.1,472.9 506.9,477.5Q508.8,482.2 510.6,486.8Q512.5,491.5 514.5,496Q516.5,500.6 518.8,505Q521.2,509.5 523.9,513.7Q526.6,517.9 529.4,522Q532.2,526.2 535.2,530.1Q538.2,534.1 541.2,538.2Q544.1,542.2 547.4,546L550.6,549.8 M862,150.3Q866,141.1 867.6,136.4Q869.1,131.6 869.5,126.6Q869.9,121.7 869.6,116.7Q869.3,111.7 868.6,106.7Q867.8,101.8 866.4,97Q865,92.2 863.3,87.5Q861.6,82.8 859.8,78.1Q858,73.5 856.8,68.6Q855.5,63.8 854.7,58.8Q854,53.9 853.8,48.9Q853.7,43.9 854.2,38.9Q854.7,34 855.8,29.1Q857,24.2 858.7,19.5Q860.4,14.8 862.3,10.2Q864.3,5.6 866.7,1.3Q869.1,-3.1 872.1,-7.2Q875,-11.3 878.1,-15.2Q881.2,-19.1 884.3,-23Q887.3,-27 890.3,-31Q893.3,-35 896.6,-38.7Q899.9,-42.5 903.4,-46.1Q906.9,-49.7 910.2,-53.4Q913.5,-57.2 916.9,-60.9Q920.2,-64.6 923.7,-68.2Q927.2,-71.8 931.1,-74.9Q935,-78 939.2,-80.7Q943.4,-83.4 948,-85.4Q952.6,-87.3 957.4,-88.7L962.2,-90.2 M580.2,199.5Q570.4,197.3 565.5,196.4Q560.6,195.4 555.7,194.7Q550.7,194 545.8,193.4Q540.8,192.9 535.8,192.6Q530.8,192.4 525.8,192.4Q520.8,192.4 515.8,192.3Q510.8,192.3 505.8,192.1Q500.8,191.9 495.8,191.7Q490.8,191.5 485.9,190.9Q480.9,190.3 476,189.4Q471.1,188.4 466.3,187.1Q461.5,185.7 456.8,183.8Q452.2,181.9 447.8,179.5Q443.4,177.2 439,174.7Q434.6,172.3 430.4,169.7Q426.1,167.1 421.7,164.8L417.3,162.4 M799.4,66.2Q809.2,64.6 814.1,63.6Q819,62.6 823.9,61.7Q828.9,60.7 833.8,60.2Q838.8,59.6 843.8,59Q848.7,58.3 853.7,57.6Q858.6,56.8 863.5,55.9Q868.4,55.1 873.4,54.4Q878.4,53.8 883.4,53.6Q888.4,53.4 893.3,53.5Q898.3,53.7 903.3,53.8Q908.3,53.9 913.3,54.1Q918.3,54.2 923.3,54.7Q928.3,55.2 933.2,56.1Q938.1,56.9 943,58Q947.9,59.2 952.7,60.4Q957.6,61.6 962.3,63.3Q967,65.1 971.6,67.1Q976.2,69 980.8,70.8Q985.5,72.6 990.1,74.5Q994.8,76.4 999.3,78.4Q1003.9,80.4 1008.4,82.6Q1012.9,84.8 1017.2,87.3Q1021.5,89.8 1025.5,92.9Q1029.5,95.9 1032.9,99.5Q1036.4,103.1 1039.4,107.1Q1042.5,111 1045,115.4L1047.5,119.7 M815.4,343.1Q806.5,338.6 802,336.4Q797.6,334.1 793.1,332Q788.6,329.8 784.2,327.4Q779.8,325 775.5,322.4Q771.2,319.8 767.2,316.9Q763.1,314 759.1,311Q755.1,308 751.2,304.9Q747.2,301.8 743.3,298.7Q739.4,295.6 735.6,292.4Q731.7,289.2 728,285.9Q724.2,282.6 720.5,279.3Q716.8,275.9 713.1,272.5Q709.5,269.1 705.8,265.7Q702.2,262.2 698.4,259Q694.5,255.8 690.6,252.7Q686.6,249.7 682.4,247Q678.2,244.2 673.9,241.6Q669.7,239.1 665.4,236.4Q661.2,233.8 657,231.1Q652.8,228.3 648.6,225.5Q644.5,222.8 640.5,219.8Q636.4,216.8 632.6,213.6Q628.7,210.5 625.3,206.9Q621.8,203.3 618.6,199.4Q615.5,195.5 612.6,191.4L609.7,187.3 M850.4,14.5Q841.9,9.3 837.6,6.7Q833.4,4 829.1,1.4Q824.8,-1.2 820.6,-3.8Q816.3,-6.5 812,-9Q807.7,-11.5 803.2,-13.7Q798.7,-15.9 794.1,-17.8Q789.5,-19.7 784.8,-21.5Q780.2,-23.4 775.4,-24.8Q770.6,-26.3 765.7,-27.4Q760.9,-28.5 755.9,-29.4Q751,-30.3 746.1,-31Q741.1,-31.8 736.2,-32.4Q731.2,-33.1 726.3,-33.9Q721.3,-34.6 716.4,-35.5Q711.5,-36.4 706.6,-37.2Q701.6,-38 696.7,-38.8Q691.8,-39.6 686.8,-40.3Q681.9,-41.1 676.9,-41.6Q671.9,-42.1 667,-42.8Q662,-43.5 657.2,-44.9Q652.4,-46.3 647.9,-48.6Q643.5,-50.8 639.4,-53.7Q635.4,-56.6 631.6,-59.9Q627.9,-63.2 624.2,-66.7Q620.6,-70.2 617.4,-74Q614.2,-77.8 611.4,-82Q608.6,-86.1 605.9,-90.3Q603.2,-94.5 600.8,-98.9Q598.5,-103.3 596.6,-108Q594.7,-112.6 593.4,-117.4Q592.1,-122.3 591.5,-127.2Q590.9,-132.2 590.3,-137.1Q589.7,-142.1 589,-147Q588.2,-152 587.3,-156.9Q586.5,-161.8 585.4,-166.7Q584.4,-171.6 583.6,-176.6L582.8,-181.5 M428.5,269.8Q419.9,275 415.4,277.2Q411,279.5 406.4,281.5Q401.8,283.6 397.1,285.1Q392.3,286.6 387.4,287.5Q382.5,288.4 377.5,289.2Q372.6,289.9 367.6,290.5Q362.6,291 357.7,291.5Q352.7,292 347.7,292.3Q342.7,292.6 337.7,292.8Q332.7,293.1 327.7,293.2Q322.7,293.4 317.7,293.7Q312.7,293.9 307.7,293.9Q302.7,293.9 297.7,293.6Q292.7,293.3 287.8,292.7Q282.8,292.1 277.9,291.1Q273,290.1 268.1,289Q263.2,288 258.3,287Q253.4,286.1 248.5,285.2Q243.6,284.3 238.7,283.4Q233.8,282.5 228.9,281.4Q224,280.2 219.2,278.7Q214.5,277.2 209.8,275.4Q205.1,273.7 200.6,271.6Q196,269.5 191.6,267.2Q187.1,265 182.6,262.8Q178.1,260.6 173.7,258.3Q169.2,256 164.8,253.7Q160.4,251.3 156,248.9Q151.6,246.5 147.3,244L143,241.5 M615.7,144.1Q610.8,135.4 608,131.3Q605.1,127.2 601.9,123.3Q598.8,119.4 595.2,116Q591.6,112.5 587.8,109.2Q584,105.9 580.4,102.5Q576.7,99.1 573.2,95.5Q569.8,91.9 566.6,88.1Q563.4,84.2 560.7,80Q558.1,75.8 555.8,71.3Q553.6,66.8 551.9,62.1Q550.3,57.4 549.2,52.5Q548.1,47.6 547.7,42.6Q547.2,37.6 547.1,32.7Q547,27.7 546.9,22.7Q546.9,17.7 546.7,12.7Q546.5,7.7 546.4,2.7Q546.3,-2.3 546.3,-7.3Q546.4,-12.3 546.4,-17.3Q546.4,-22.3 546.1,-27.3Q545.9,-32.3 545.3,-37.3Q544.7,-42.3 544.1,-47.2Q543.4,-52.2 542.7,-57.1Q542,-62.1 541.1,-67Q540.3,-71.9 539.2,-76.8Q538.1,-81.7 536.8,-86.5Q535.5,-91.3 534.4,-96.2Q533.3,-101.1 532.2,-106Q531,-110.8 529.8,-115.7Q528.6,-120.5 527.7,-125.5Q526.8,-130.4 526.3,-135.3Q525.8,-140.3 525.4,-145.3Q525,-150.3 524.9,-155.3Q524.8,-160.3 524.7,-165.3Q524.6,-170.3 524.5,-175.3Q524.5,-180.3 524,-185.3L523.5,-190.2 M626.2,182.3Q627.8,192.2 628.6,197.1Q629.5,202.1 630.2,207Q630.9,212 631.6,216.9Q632.2,221.9 632.8,226.8Q633.4,231.8 634,236.8Q634.7,241.7 635.6,246.6Q636.6,251.5 638,256.3Q639.4,261.1 641.3,265.8Q643.1,270.4 644.9,275.1Q646.7,279.7 648.2,284.5Q649.6,289.3 650.6,294.2Q651.7,299.1 652.8,304Q654,308.8 654.9,313.8Q655.8,318.7 656.3,323.6Q656.8,328.6 656.9,333.6Q657,338.6 656.7,343.6Q656.4,348.6 656,353.6Q655.7,358.6 655.3,363.6Q655,368.6 654.4,373.5Q653.8,378.5 652.7,383.4Q651.7,388.3 650.7,393.2Q649.7,398 648.9,403Q648.2,407.9 647.3,412.9Q646.5,417.8 645.8,422.7Q645,427.7 644.7,432.7Q644.4,437.7 644,442.7Q643.6,447.6 643.2,452.6Q642.8,457.6 642.6,462.6Q642.4,467.6 642,472.6Q641.7,477.6 641.6,482.6Q641.5,487.6 641.6,492.6L641.6,497.6 M661.9,100.7Q658.9,110.3 657.2,115Q655.4,119.6 653.2,124.1Q651,128.6 648.5,132.9Q646,137.3 643.1,141.4Q640.3,145.5 637.2,149.4Q634.1,153.3 630.6,156.9Q627.1,160.5 623.3,163.7Q619.4,166.9 615.4,169.9Q611.4,172.9 607.1,175.4Q602.8,177.9 598.4,180.4Q594.1,182.9 589.8,185.5Q585.5,188.1 581.4,190.9Q577.3,193.8 573.4,196.8Q569.4,199.9 565.8,203.4Q562.2,206.8 559,210.7Q555.9,214.6 553.6,219Q551.2,223.4 549.6,228.1Q547.9,232.9 547,237.8Q546.1,242.7 545.2,247.6L544.4,252.5 M771.8,93.7Q762.1,96.3 757.3,97.5Q752.4,98.7 747.7,100.4Q743,102.1 738.6,104.4Q734.1,106.7 729.9,109.4Q725.8,112.2 721.9,115.4Q718.1,118.6 714.4,122Q710.8,125.4 707.2,128.9Q703.7,132.5 700.2,136.1Q696.8,139.7 693.2,143.1Q689.6,146.6 685.9,150.1Q682.3,153.5 678.4,156.6Q674.5,159.7 670.2,162.3Q665.9,164.9 661.3,166.9Q656.8,168.9 651.9,170.2Q647.1,171.5 642.1,171.8Q637.1,172 632.2,170.9Q627.4,169.9 622.7,167.9Q618.1,166 614.1,163.1Q610,160.2 606.8,156.4Q603.5,152.6 601.2,148.1Q598.9,143.7 597.4,138.9Q596,134.1 595.2,129.2L594.5,124.2 M857.7,251.7Q863.7,243.7 866.6,239.7Q869.5,235.6 872.3,231.4Q875,227.3 877.6,223Q880.3,218.7 882.5,214.3Q884.8,209.8 886.8,205.3Q888.8,200.7 890.4,195.9Q892,191.2 893.4,186.4Q894.7,181.6 895.6,176.7Q896.6,171.8 897.1,166.8Q897.6,161.8 897.7,156.8Q897.7,151.8 897.4,146.8Q897,141.8 896.1,136.9Q895.2,132 893.8,127.2Q892.4,122.4 891,117.6Q889.6,112.8 888.1,108Q886.5,103.3 885,98.5Q883.5,93.7 882.2,88.9Q880.9,84.1 879.5,79.3Q878.2,74.5 877.1,69.6Q876,64.7 875.6,59.7Q875.3,54.7 875.4,49.7Q875.5,44.7 876.3,39.8Q877.2,34.9 878.5,30.1Q879.9,25.3 881.9,20.7Q883.9,16.1 886.1,11.6Q888.3,7.1 890.8,2.8Q893.3,-1.5 896.2,-5.6Q899,-9.8 901.8,-13.9Q904.6,-18.1 907.2,-22.3Q909.9,-26.5 912.2,-31Q914.5,-35.4 916.3,-40.1Q918.2,-44.7 919.7,-49.5L921.3,-54.2 M847.4,23.2Q855.1,29.6 858.9,32.8Q862.8,36 866.6,39.2Q870.4,42.4 874,46Q877.5,49.5 880.8,53.3Q884,57.1 887.1,61Q890.1,65 893.3,68.9Q896.4,72.8 899.8,76.4Q903.2,80.1 907,83.4Q910.7,86.7 914.7,89.7Q918.7,92.7 922.9,95.4Q927.1,98.2 931.2,101Q935.4,103.8 939.3,106.8Q943.3,109.9 946.9,113.4Q950.5,116.9 953.7,120.7Q957,124.5 960.1,128.4Q963.2,132.3 966.1,136.3Q969,140.4 971.8,144.6Q974.6,148.7 977.2,153Q979.8,157.2 982.3,161.6Q984.8,165.9 987.3,170.2Q989.8,174.5 992.6,178.7Q995.3,182.9 998.4,186.9Q1001.4,190.8 1004.8,194.5Q1008.2,198.2 1011.7,201.8Q1015.1,205.4 1018.7,208.9Q1022.3,212.3 1026,215.7Q1029.7,219.1 1033.4,222.4Q1037.1,225.8 1040.9,229.1Q1044.6,232.4 1048.4,235.7Q1052.1,239 1055.7,242.5Q1059.4,245.9 1063.2,249.2Q1067,252.4 1070.9,255.5Q1074.8,258.6 1078.8,261.6L1082.9,264.5 M540.3,194.9Q539.7,204.9 539.2,209.9Q538.7,214.8 538,219.8Q537.2,224.7 536.3,229.6Q535.3,234.5 534.1,239.4Q532.8,244.2 531.3,249Q529.9,253.8 528.6,258.6Q527.3,263.4 526,268.3Q524.8,273.1 523.8,278Q522.9,282.9 521.9,287.8Q520.9,292.7 519.6,297.6Q518.3,302.4 516.9,307.2Q515.4,312 513.7,316.7Q511.9,321.4 510.5,326.1Q509.1,330.9 507.5,335.7Q506,340.5 504.6,345.2Q503.1,350 501.6,354.8Q500,359.5 497.9,364.1Q495.8,368.6 493.5,373Q491.2,377.5 488.9,381.9Q486.5,386.3 484.1,390.7Q481.7,395.1 479.1,399.4Q476.6,403.7 474.2,408.1Q471.8,412.5 469.8,417Q467.8,421.6 465.8,426.2Q463.7,430.7 461.8,435.4Q459.9,440 457.9,444.6Q456,449.2 454.3,453.9Q452.6,458.6 451.3,463.4Q450,468.3 449.5,473.2Q448.9,478.2 448.9,483.2Q448.9,488.2 449.1,493.2Q449.3,498.2 449.6,503.2Q449.9,508.2 450.3,513.2Q450.7,518.1 451.2,523.1L451.7,528.1 M489,84Q496.5,77.3 500.2,74Q504,70.7 507.9,67.6Q511.8,64.4 515.7,61.3Q519.6,58.3 523.5,55.1Q527.4,52 530.9,48.4Q534.4,44.8 537.6,41Q540.8,37.2 543.9,33.2Q546.9,29.2 549.6,25Q552.3,20.8 554.4,16.3Q556.5,11.7 557.9,6.9Q559.4,2.1 559.8,-2.8Q560.2,-7.8 559.6,-12.8Q558.9,-17.7 557.5,-22.5Q556.1,-27.3 554.2,-32Q552.3,-36.6 550.2,-41.1Q548.1,-45.6 545.8,-50.1Q543.5,-54.5 541.1,-58.9Q538.7,-63.3 536.3,-67.7Q533.9,-72.1 531.6,-76.5Q529.3,-80.9 527.3,-85.5Q525.3,-90.1 523.6,-94.8Q521.9,-99.5 520.5,-104.3Q519,-109.1 517.9,-114Q516.8,-118.8 515.7,-123.7Q514.6,-128.6 513.5,-133.5Q512.3,-138.3 510.8,-143.1Q509.3,-147.9 507.3,-152.5Q505.3,-157.1 502.6,-161.2Q499.8,-165.4 496.4,-169Q493,-172.7 489.2,-176Q485.5,-179.3 481.5,-182.3Q477.5,-185.3 473.5,-188.3Q469.4,-191.2 465.4,-194.2Q461.4,-197.1 457.4,-200.1Q453.4,-203.1 449.1,-205.7Q444.8,-208.3 440.3,-210.5L435.8,-212.6 M675.7,115Q678.3,105.4 679.3,100.5Q680.4,95.6 681.3,90.7Q682.1,85.8 683,80.8Q683.9,75.9 684.6,71Q685.3,66 686,61.1Q686.8,56.1 688,51.3Q689.3,46.5 691,41.8Q692.7,37.1 694.7,32.5Q696.8,27.9 699.2,23.5Q701.5,19.1 703.9,14.7Q706.2,10.3 708.7,6Q711.2,1.6 713.9,-2.6Q716.5,-6.9 719.4,-10.9Q722.3,-15 725.6,-18.7Q728.9,-22.5 732.6,-25.9Q736.3,-29.3 740.2,-32.4Q744.1,-35.5 748.3,-38.2Q752.5,-41 757,-43.1Q761.5,-45.3 766.1,-47.2Q770.7,-49.1 775.4,-50.8Q780.1,-52.5 784.8,-54.2Q789.5,-55.9 794.3,-57.5Q799,-59.2 803.8,-60.6Q808.6,-62 813.4,-63.3Q818.3,-64.5 823.2,-65.4Q828.1,-66.3 833.1,-66.9Q838,-67.5 843,-68.1Q848,-68.6 852.9,-69.2Q857.9,-69.8 862.8,-70.7Q867.7,-71.7 872.6,-72.9Q877.4,-74.1 882.2,-75.5Q887,-77 891.7,-78.5Q896.5,-80 901.3,-81.3Q906.2,-82.6 911,-84Q915.8,-85.3 920.5,-86.9Q925.3,-88.6 930,-90.2L934.7,-91.9 M572,331.7Q572.5,341.7 572.9,346.6Q573.3,351.6 573.6,356.6Q574,361.6 574.1,366.6Q574.2,371.6 574,376.6Q573.7,381.6 573.2,386.5Q572.6,391.5 571.7,396.4Q570.7,401.3 569.2,406.1Q567.6,410.8 565.5,415.4Q563.5,419.9 560.8,424.1Q558.1,428.4 554.7,432Q551.3,435.7 547.1,438.5Q543,441.3 538.4,443.2Q533.8,445.2 528.9,446.4Q524.1,447.6 519.1,448.3Q514.2,448.9 509.2,449.3Q504.2,449.6 499.2,450Q494.2,450.4 489.2,450.9Q484.3,451.4 479.3,451.8Q474.3,452.2 469.3,452.6Q464.3,452.9 459.3,453.3Q454.3,453.7 449.4,454.1Q444.4,454.5 439.4,455.1Q434.4,455.7 429.5,456.4Q424.6,457.1 419.7,458.2Q414.8,459.3 410.1,460.9Q405.3,462.5 400.7,464.5Q396.1,466.4 391.7,468.7Q387.3,471.1 383.1,473.8Q378.9,476.6 375,479.7Q371.1,482.8 367.7,486.4Q364.2,490.1 361.6,494.4Q359,498.6 357.2,503.3Q355.4,507.9 354,512.7Q352.6,517.5 351.2,522.3Q349.8,527.1 348.3,531.9L346.7,536.7 M790.1,291.2Q790.3,301.2 790.6,306.2Q790.9,311.2 791.8,316.1Q792.8,321 794.4,325.7Q796.1,330.4 798.5,334.8Q800.9,339.2 803.8,343.2Q806.8,347.3 810.2,350.9Q813.6,354.5 817.1,358.1Q820.6,361.7 824.3,365.1Q828,368.4 831.8,371.7Q835.7,374.9 839.6,378Q843.5,381.1 847.4,384.2Q851.2,387.4 855,390.7Q858.7,394.1 862.5,397.3Q866.4,400.5 869.9,404Q873.5,407.5 876.9,411.1Q880.3,414.8 883.7,418.4Q887.1,422.1 890.8,425.5Q894.4,429 898.3,432.1Q902.2,435.2 906.5,437.8Q910.8,440.4 915.3,442.5Q919.9,444.6 924.6,446.2Q929.3,447.8 934.2,449Q939,450.3 944,451.1Q948.9,451.9 953.9,452.4Q958.8,452.8 963.8,453.5Q968.8,454.2 973.6,455.3Q978.5,456.4 983.3,457.9Q988,459.4 992.8,461Q997.5,462.6 1002.1,464.5Q1006.7,466.5 1011.3,468.4Q1016,470.3 1020.7,471.9Q1025.4,473.5 1030.2,475.1Q1034.9,476.7 1039.7,478.1Q1044.5,479.6 1049.2,481.3L1053.9,482.9 M857.4,316.8Q853.4,326 851.5,330.6Q849.5,335.2 847.9,340Q846.3,344.7 844.7,349.4Q843,354.2 841.5,358.9Q839.9,363.6 838,368.3Q836.2,372.9 834,377.4Q831.7,381.9 828.8,386Q825.9,390 822.4,393.6Q818.9,397.2 815,400.2Q811,403.3 807,406.2Q802.9,409.2 798.7,411.8Q794.5,414.5 790.2,417.1Q786,419.8 781.5,422.1Q777.1,424.4 772.6,426.6Q768.1,428.8 763.7,431.1Q759.2,433.4 754.8,435.7Q750.4,438 746,440.4Q741.6,442.8 737.2,445.2L732.8,447.6 M775.5,92.1Q769.6,83.9 766.4,80.1Q763.2,76.2 759.8,72.6Q756.4,69 752.9,65.4Q749.4,61.8 745.9,58.2Q742.4,54.6 739.2,50.8Q735.9,47 732.8,43.2Q729.6,39.3 726,35.8Q722.5,32.2 718.6,29.1Q714.7,26 710.7,22.9Q706.8,19.9 702.9,16.7Q699,13.5 695.2,10.4Q691.3,7.2 687.7,3.8Q684,0.4 680.4,-3.1Q676.9,-6.6 673.7,-10.5Q670.5,-14.3 667.5,-18.3Q664.6,-22.4 661.7,-26.5Q658.9,-30.6 656.3,-34.9Q653.7,-39.2 651.1,-43.4Q648.5,-47.7 645.8,-51.9Q643.1,-56.1 640.8,-60.6Q638.5,-65 636.5,-69.6Q634.5,-74.2 632.6,-78.8Q630.7,-83.4 628.8,-88.1Q626.9,-92.7 625,-97.3Q623.1,-101.9 621.1,-106.5Q619,-111.1 616.9,-115.6Q614.9,-120.1 613,-124.8Q611.1,-129.4 609.5,-134.1Q607.8,-138.8 606.5,-143.7Q605.2,-148.5 604.2,-153.4Q603.2,-158.3 602.6,-163.3L601.9,-168.2 M657.4,344Q650.8,336.5 647.5,332.7Q644.2,329 640.5,325.6Q636.7,322.3 632.8,319.3Q628.8,316.2 624.8,313.2Q620.8,310.3 616.8,307.3Q612.8,304.3 608.7,301.3Q604.7,298.4 600.4,295.8Q596.1,293.2 591.5,291.2Q587,289.2 582.2,287.8Q577.4,286.4 572.6,285Q567.8,283.6 562.9,282.5Q558,281.3 553.1,280.3Q548.2,279.4 543.3,278.2Q538.5,277.1 533.7,275.6Q528.9,274.2 524.2,272.4Q519.6,270.6 515,268.5Q510.5,266.4 506.3,263.7Q502.1,261 498.3,257.7Q494.5,254.5 491,250.9Q487.6,247.2 484.4,243.4Q481.2,239.6 478.1,235.6Q475,231.7 472,227.7Q468.9,223.8 465.7,220L462.4,216.2 M762.8,238.6Q759.9,229.1 758.4,224.3Q756.9,219.5 754.9,214.9Q752.9,210.4 750.5,206Q748.1,201.6 745.6,197.3Q743,193 740.2,188.9Q737.4,184.7 734.6,180.6Q731.8,176.4 729,172.3Q726.2,168.1 723.4,164Q720.6,159.8 717.6,155.9Q714.6,151.9 711.5,147.9Q708.5,144 705.5,139.9Q702.6,135.9 699.4,132Q696.3,128.1 692.9,124.4Q689.5,120.7 685.8,117.4Q682,114.1 678.1,111Q674.2,107.9 670,105.1Q665.9,102.3 661.5,99.9Q657.1,97.5 652.7,95.3Q648.2,93 643.8,90.7Q639.4,88.4 634.9,86Q630.5,83.6 626.2,81.2Q621.8,78.7 617.5,76.2Q613.2,73.7 608.9,71.1Q604.6,68.6 600.4,65.8L596.2,63.1 M472.4,345.7Q478.5,337.8 481.5,333.8Q484.5,329.8 487.4,325.7Q490.3,321.6 493.1,317.5Q495.9,313.3 498.7,309.2Q501.6,305.1 504.3,300.9Q507.1,296.7 509.9,292.6Q512.7,288.5 515.7,284.5Q518.7,280.5 521.8,276.5Q524.8,272.5 527.7,268.4Q530.5,264.3 533.4,260.2Q536.2,256.1 539.1,252Q542,248 544.9,243.9Q547.8,239.8 550.8,235.8Q553.7,231.8 556.5,227.6Q559.2,223.4 561.5,219Q563.9,214.5 565.9,210Q568,205.5 569.7,200.7Q571.4,196 572.8,191.2Q574.2,186.4 575.3,181.6Q576.4,176.7 577.5,171.8Q578.7,166.9 579.6,162Q580.6,157.1 581.5,152.2Q582.5,147.3 583.5,142.4Q584.4,137.5 585.2,132.6Q585.9,127.6 586,122.6L586.2,117.6 M591.1,326.2Q601,324.8 606,324Q610.9,323.1 615.8,322.2Q620.8,321.4 625.7,320.6Q630.6,319.7 635.5,318.7Q640.4,317.7 645.2,316.4Q650.1,315.2 654.7,313.3Q659.3,311.3 663.6,308.7Q667.8,306.1 671.5,302.8Q675.3,299.4 678.2,295.4Q681.2,291.4 683.6,287Q686,282.6 688,278Q689.9,273.4 691.9,268.8Q693.8,264.2 695.2,259.4Q696.6,254.6 697.3,249.6Q698,244.7 698.1,239.7Q698.1,234.7 697.9,229.7Q697.6,224.7 697.4,219.7Q697.2,214.7 697,209.7Q696.8,204.7 696.6,199.7Q696.5,194.7 696.2,189.7Q695.9,184.7 695.4,179.8Q694.9,174.8 694.1,169.8Q693.3,164.9 691.8,160.2Q690.2,155.4 688.4,150.7Q686.6,146.1 684.8,141.4Q683,136.7 681.7,131.9Q680.4,127.1 679.6,122.2Q678.9,117.2 678.8,112.2Q678.7,107.2 679.3,102.2Q679.9,97.3 680.7,92.3Q681.4,87.4 682.1,82.4Q682.7,77.5 683.5,72.5L684.2,67.6 M760.5,273.2Q751.7,268.6 747.1,266.6Q742.5,264.6 737.6,263.5Q732.8,262.3 727.8,262.1Q722.8,261.9 717.8,262.1Q712.8,262.3 707.8,262.7Q702.8,263 697.8,263.5Q692.9,264.1 687.9,264.5Q682.9,264.9 677.9,265Q672.9,265.2 667.9,265.1Q662.9,265.1 657.9,265.1Q652.9,265.2 647.9,265.5Q642.9,265.8 638,266.3Q633,266.9 628.1,267.7Q623.1,268.5 618.3,269.8Q613.5,271.1 608.9,273.2Q604.3,275.2 600.1,277.9Q595.9,280.5 592,283.7Q588.2,287 584.7,290.6Q581.3,294.2 578.3,298.2L575.3,302.1 M692.1,173.1Q682.1,172.2 677.1,172.4Q672.1,172.6 667.2,173.6Q662.3,174.5 657.5,175.7Q652.6,177 647.8,178.3Q643,179.5 638.1,180.8Q633.3,182 628.4,183.4Q623.6,184.7 618.9,186.4Q614.2,188.1 609.6,190Q605,192 600.5,194.2Q596.1,196.4 591.7,199Q587.4,201.5 583.1,204.1Q578.9,206.6 574.6,209.3Q570.4,211.9 566.2,214.6Q562,217.3 557.9,220.3Q553.9,223.3 549.9,226.2Q545.8,229.2 541.7,232Q537.6,234.9 533.4,237.6Q529.2,240.2 524.7,242.4Q520.2,244.6 515.6,246.7Q511.1,248.8 506.5,250.8Q502,252.9 497.4,254.8Q492.7,256.7 488,258.3Q483.3,260 478.5,261.5Q473.7,262.9 468.9,264.1Q464,265.2 459.2,266.5Q454.3,267.8 449.5,269.2Q444.7,270.6 439.9,271.8Q435,273 430.2,274.2Q425.3,275.3 420.4,276.4Q415.5,277.5 410.6,278.3Q405.7,279.2 400.8,280.3Q395.9,281.4 391.1,282.6Q386.2,283.8 381.3,284.7Q376.4,285.7 371.5,286.5Q366.5,287.3 361.6,288.1Q356.7,289 351.7,289.8L346.8,290.6 M563.8,166.6Q567.4,157.3 568.6,152.4Q569.9,147.6 570.2,142.6Q570.6,137.6 570.2,132.6Q569.9,127.6 569.1,122.7Q568.4,117.8 567.2,112.9Q566.1,108 564.5,103.3Q563,98.5 561.3,93.8Q559.6,89.1 557.8,84.4Q556,79.8 553.9,75.3Q551.7,70.7 549.4,66.3Q547.1,61.9 544.9,57.4Q542.7,52.9 540.1,48.6Q537.6,44.3 534.7,40.2Q531.9,36.1 528.7,32.2Q525.5,28.4 521.9,24.9Q518.3,21.4 514.6,18Q510.9,14.7 507.2,11.3Q503.5,8 500.1,4.3Q496.7,0.7 493.6,-3.3Q490.6,-7.2 487.7,-11.3Q484.9,-15.4 482.1,-19.6Q479.3,-23.7 476.7,-28Q474.1,-32.3 471.6,-36.6Q469.1,-40.9 466.6,-45.3Q464.2,-49.7 461.7,-54Q459.3,-58.4 456.8,-62.7Q454.3,-67 451.9,-71.4L449.4,-75.8" fill="none" stroke-linecap="round" stroke-linejoin="round" stroke="#c2c2c2" stroke-width="1.62" opacity="0.95"/>
<path d="M624.7,207.9Q633.3,202.8 637.4,200Q641.6,197.2 645.7,194.4Q649.8,191.5 654,188.8Q658.2,186.1 662.4,183.3Q666.5,180.5 670.4,177.3Q674.3,174.2 678.1,170.9Q681.8,167.7 685.6,164.4Q689.4,161.1 693.4,158.1Q697.3,155 701.6,152.4Q705.9,149.8 710.3,147.5Q714.7,145.1 719.2,143Q723.8,140.9 728.6,139.5Q733.4,138.1 738.3,137.2Q743.2,136.4 748.2,135.8Q753.2,135.2 758.1,134.5Q763.1,133.8 768,133.1Q773,132.5 777.9,131.8Q782.9,131.1 787.8,130.4Q792.8,129.7 797.7,128.9Q802.7,128.1 807.6,127.3Q812.5,126.6 817.5,126Q822.5,125.3 827.5,125.1Q832.4,124.9 837.4,125Q842.4,125.1 847.4,125.1L852.4,125.1 M707.2,186.9Q702.3,178.2 699.8,173.8Q697.3,169.5 695.5,164.8Q693.7,160.2 692.9,155.2Q692.1,150.3 692.1,145.3Q692.1,140.3 692.7,135.3Q693.4,130.4 694.3,125.5Q695.2,120.6 696.4,115.7Q697.5,110.8 699.1,106.1Q700.6,101.3 702.8,96.8Q704.9,92.3 707.7,88.1Q710.4,84 713.4,79.9Q716.3,75.8 719.5,72Q722.8,68.2 726,64.4Q729.1,60.5 732.5,56.9Q735.9,53.2 739.5,49.7Q743.1,46.2 746.8,42.8Q750.5,39.5 754.4,36.3Q758.2,33.1 762.5,30.6Q766.8,28 771,25.3Q775.3,22.7 779.5,20.1Q783.8,17.5 788.1,14.9Q792.4,12.3 796.7,9.7Q800.9,7.2 805.1,4.4Q809.3,1.6 813.2,-1.5L817,-4.7 M464.3,128.4Q474.1,126.4 479,125.6Q483.9,124.8 488.9,124.3Q493.9,123.7 498.9,123.4Q503.9,123.1 508.9,123Q513.9,122.9 518.9,122.9Q523.9,122.8 528.9,122.6Q533.9,122.3 538.8,121.9Q543.8,121.4 548.8,120.9Q553.8,120.3 558.7,120.1Q563.7,119.9 568.7,120.1Q573.7,120.3 578.7,121.1Q583.6,121.9 588.4,123.4Q593.2,124.8 597.7,126.9Q602.3,129 606.5,131.6Q610.8,134.2 614.7,137.3Q618.6,140.4 621.9,144.2Q625.1,148 627.9,152.2Q630.6,156.3 633.1,160.7Q635.5,165.1 637.3,169.8Q639,174.4 640.2,179.3Q641.3,184.2 641.7,189.2Q642.2,194.1 641.8,199.1Q641.4,204.1 640.7,209.1Q640,214 638.4,218.8Q636.9,223.5 634.3,227.8Q631.8,232.1 628.6,235.9Q625.3,239.7 621.4,242.9Q617.5,246 613.2,248.6Q608.9,251.1 604.4,253.3Q599.9,255.5 595.3,257.5Q590.7,259.4 586,261L581.3,262.7 M681.9,97.1Q673.3,92 668.8,89.7Q664.4,87.5 659.7,85.6Q655.1,83.8 650.3,82.4Q645.5,80.9 640.7,79.7Q635.8,78.4 630.9,77.4Q626,76.4 621.1,75.4Q616.3,74.3 611.5,72.8Q606.7,71.3 602.1,69.4Q597.5,67.5 592.9,65.4Q588.4,63.3 584,61Q579.5,58.7 575.4,55.8Q571.3,53 567.5,49.7Q563.8,46.4 560.3,42.8Q556.9,39.2 554,35.1Q551.2,31 548.7,26.6Q546.3,22.2 544,17.8Q541.7,13.3 539.5,8.9Q537.2,4.4 535,-0.1Q532.8,-4.6 530.7,-9.1Q528.6,-13.6 526.7,-18.2Q524.7,-22.9 523,-27.5Q521.2,-32.2 519.5,-36.9L517.8,-41.6 M688,114.7Q692.8,123.5 695.2,127.9Q697.6,132.2 699.9,136.7Q702.2,141.1 704.8,145.4Q707.5,149.6 710.4,153.6Q713.4,157.6 716.8,161.3Q720.2,165 723.9,168.4Q727.6,171.7 731.5,174.8Q735.4,178 739.5,180.9Q743.6,183.7 747.7,186.6Q751.8,189.4 755.9,192.3Q760,195.1 764.2,197.8Q768.4,200.5 772.6,203.2Q776.8,205.9 781,208.7Q785.2,211.4 789.3,214.3Q793.3,217.3 797.3,220.3Q801.3,223.3 805.3,226.3Q809.3,229.3 813.4,232.1Q817.6,234.8 821.7,237.7Q825.8,240.6 829.6,243.8Q833.5,247 837.1,250.4Q840.7,253.9 844.3,257.4Q847.8,260.9 851.5,264.3Q855.1,267.7 858.9,271.1Q862.6,274.4 866.3,277.7Q870.1,281 873.5,284.7Q876.9,288.3 880.1,292.2Q883.2,296.1 886.1,300.2Q889.1,304.2 892.4,307.9Q895.7,311.7 899,315.4Q902.3,319.2 905.6,323L908.9,326.7 M746.8,123.6Q756.8,122.9 761.7,122.1Q766.7,121.3 771.6,120.6Q776.6,119.8 781.5,118.8Q786.4,117.8 791.2,116.6Q796,115.3 800.7,113.4Q805.3,111.5 809.8,109.4Q814.3,107.2 818.7,104.8Q823,102.3 827.1,99.4Q831.2,96.6 834.8,93.1Q838.4,89.5 841.6,85.7Q844.7,81.9 847.5,77.7Q850.2,73.5 852.7,69.1Q855.1,64.8 856.9,60.1Q858.7,55.4 859.7,50.5Q860.7,45.6 860.9,40.6L861.1,35.6 M681.9,225Q690.2,230.6 694.1,233.7Q698,236.8 701.8,240.1Q705.6,243.4 709.4,246.7Q713.2,249.9 717,253.2Q720.8,256.4 724.8,259.4Q728.8,262.4 733.2,264.8Q737.6,267.2 742.1,269.3Q746.7,271.4 751.2,273.5Q755.7,275.6 760.2,277.8Q764.6,280.1 768.8,282.8Q773,285.5 777,288.6Q781,291.6 784.8,294.8Q788.7,298 792.4,301.3Q796.2,304.6 799.9,308Q803.6,311.3 807.5,314.5Q811.3,317.7 815.5,320.4Q819.7,323.2 824.2,325.2Q828.8,327.3 833.5,328.8Q838.3,330.3 843.2,331.3Q848.1,332.4 853.1,332.9Q858,333.5 863,334Q868,334.5 873,335Q877.9,335.5 882.9,336.2Q887.9,336.8 892.8,337.8Q897.6,338.8 902.5,339.9Q907.4,341 912.3,341.8Q917.3,342.6 922.2,343.2Q927.2,343.9 932.2,344.3L937.2,344.7 M615.2,294Q624.1,289.4 628.6,287.1Q633,284.8 637.5,282.7Q642.1,280.6 646.6,278.6Q651.2,276.5 655.9,274.7Q660.5,272.9 665.1,270.9Q669.7,268.8 674.1,266.6Q678.6,264.3 683.1,262.1Q687.6,259.9 692,257.5Q696.3,255.1 700.7,252.6Q705,250.2 709.4,247.7Q713.7,245.1 718,242.7Q722.4,240.2 726.8,238Q731.3,235.7 735.9,233.6Q740.4,231.6 745.1,229.8Q749.7,228 754.4,226.1Q759.1,224.3 763.8,222.6Q768.5,220.9 773.1,219.1Q777.8,217.4 782.5,215.5Q787.1,213.7 791.9,212.1Q796.6,210.6 801.3,208.7Q805.9,206.9 810.4,204.7Q814.9,202.6 819.3,200.2Q823.7,197.8 828.3,195.7Q832.8,193.6 837.4,191.7Q842,189.8 846.9,188.5Q851.7,187.2 856.6,186.4Q861.6,185.6 866.5,185.1Q871.5,184.6 876.5,184.2Q881.5,183.8 886.5,183.6Q891.5,183.3 896.5,183.1Q901.5,182.9 906.5,182.8Q911.5,182.8 916.5,183.2Q921.4,183.5 926.3,184.5Q931.2,185.6 936,187.2L940.7,188.8 M487.9,28.5Q480.7,21.5 476.8,18.4Q472.9,15.2 469,12.2Q465,9.1 460.7,6.6Q456.3,4.1 451.8,2.1Q447.2,0.1 442.4,-1.4Q437.6,-2.8 432.7,-3.7Q427.8,-4.6 422.8,-4.9Q417.8,-5.3 412.8,-5.6Q407.8,-5.9 402.8,-6.1Q397.8,-6.2 392.8,-6.3Q387.8,-6.4 382.8,-6.3Q377.8,-6.2 372.8,-5.8Q367.9,-5.5 362.9,-5.2Q357.9,-5 352.9,-4.6Q347.9,-4.3 342.9,-3.7Q338,-3 333.1,-1.9Q328.2,-0.7 323.6,1.1Q318.9,2.8 314.6,5.4Q310.3,7.9 306.2,10.8Q302.2,13.8 298.3,16.9Q294.3,20 290.6,23.3Q286.9,26.6 283.1,29.9Q279.3,33.1 275.5,36.4Q271.7,39.7 267.8,42.9L264,46 M825.7,143.9Q816.7,139.3 812.4,136.8Q808.1,134.3 803.6,132Q799.2,129.7 794.5,128Q789.9,126.2 785.1,124.7Q780.3,123.3 775.4,122Q770.6,120.7 765.8,119.3Q761,117.8 756.4,116.1Q751.7,114.3 747,112.7Q742.2,111 737.5,109.4Q732.8,107.8 728,106.4Q723.2,105 718.5,103.3Q713.8,101.5 709.1,99.9Q704.3,98.3 699.7,96.5Q695,94.7 690.4,92.8Q685.8,90.8 681.2,88.8Q676.6,86.8 672.1,84.8Q667.5,82.8 663,80.5Q658.5,78.3 654.1,76Q649.6,73.7 645.2,71.5Q640.7,69.3 636.2,67Q631.8,64.7 627.2,62.6Q622.7,60.6 618.1,58.6Q613.5,56.6 608.9,54.7Q604.3,52.7 599.6,51Q594.9,49.3 590.2,47.5Q585.6,45.6 581,43.6Q576.5,41.6 572.1,39Q567.8,36.5 563.8,33.5Q559.8,30.5 556.2,27Q552.6,23.6 549.4,19.7Q546.3,15.8 543.6,11.7Q540.8,7.5 538.4,3.1Q535.9,-1.2 533.8,-5.8Q531.7,-10.3 530.1,-15.1L528.5,-19.8 M794.9,253.2Q804.4,250 809.2,248.5Q813.9,246.9 818.7,245.5Q823.5,244 828.3,242.9Q833.2,241.7 838.1,240.7Q843,239.8 848,239.3Q853,238.8 858,238.6Q863,238.3 868,238Q872.9,237.7 877.9,237.6Q882.9,237.4 887.9,237.1Q892.9,236.8 897.9,236.4Q902.9,235.9 907.9,235.5Q912.8,235 917.8,234.9Q922.8,234.8 927.8,234.5Q932.8,234.3 937.8,234Q942.8,233.8 947.8,233.9Q952.8,234.1 957.7,234.8Q962.7,235.6 967.5,236.8Q972.4,237.9 977.2,239.3Q982,240.7 986.8,242.2Q991.6,243.6 996.4,244.9Q1001.2,246.2 1006.1,247.4Q1011,248.5 1015.9,249.4Q1020.8,250.3 1025.8,251Q1030.7,251.7 1035.6,252.5Q1040.6,253.3 1045.5,254.2L1050.4,255.1 M777.8,208.9Q767.8,209 762.8,208.7Q757.8,208.4 752.8,208.3Q747.8,208.3 742.9,208.1Q737.9,207.9 732.9,207.5Q727.9,207.1 722.9,206.6Q717.9,206.1 713,205.6Q708,205.1 703,204.6Q698,204.1 693,203.9Q688,203.8 683,203.8Q678,203.8 673,203.8Q668,203.7 663,203.7Q658,203.6 653,203.7Q648.1,203.8 643.1,203.9Q638.1,204 633.1,204.4Q628.1,204.8 623.2,205.8Q618.3,206.8 613.5,208.1Q608.6,209.3 603.7,210.5Q598.9,211.6 594,212.5Q589,213.5 584.1,214.2Q579.2,214.9 574.2,215.4Q569.2,215.9 564.2,215.9Q559.2,215.9 554.2,215.6Q549.2,215.3 544.3,214.6Q539.3,213.8 534.4,212.8Q529.5,211.8 524.7,210.7Q519.8,209.5 515,208.2Q510.1,207 505.3,205.7Q500.5,204.5 495.6,203.5Q490.7,202.4 485.7,201.5L480.8,200.7 M658.9,164.8Q652,172.1 648.6,175.8Q645.3,179.5 641.9,183.2Q638.6,186.9 635,190.4Q631.4,193.9 627.8,197.3Q624.2,200.8 620.7,204.4Q617.2,208 613.7,211.5Q610.2,215 606.8,218.7Q603.4,222.4 600.1,226.1Q596.8,229.9 593.6,233.7Q590.4,237.6 587.3,241.5Q584.3,245.5 581.6,249.7Q579,254 576.6,258.4Q574.3,262.8 572.2,267.3Q570.1,271.9 568.5,276.6Q566.8,281.3 565.1,286Q563.3,290.7 561.4,295.3Q559.4,299.9 556.6,304Q553.8,308.2 550.3,311.8Q546.8,315.3 542.9,318.5Q539,321.6 534.8,324.3Q530.6,327 526,329Q521.5,331 516.7,332.5Q511.9,333.9 507,334.8L502,335.6 M611.2,288.4Q618.2,295.5 621.8,299Q625.4,302.5 628.9,306Q632.4,309.6 635.6,313.4Q638.9,317.2 641.5,321.5Q644.1,325.7 646.4,330.2Q648.7,334.6 650.6,339.2Q652.5,343.9 653.8,348.7Q655.2,353.5 656.2,358.4Q657.1,363.3 657.9,368.2Q658.8,373.2 659.6,378.1Q660.4,383 661.3,387.9Q662.3,392.9 663.2,397.8Q664.2,402.7 665,407.6Q665.9,412.5 666.5,417.5Q667.1,422.4 667.4,427.4Q667.6,432.4 667.9,437.4Q668.2,442.4 668.6,447.4Q668.9,452.4 669.2,457.4Q669.6,462.4 669.7,467.4Q669.9,472.4 669.8,477.4Q669.7,482.4 669,487.3Q668.4,492.3 666.7,497Q665.1,501.7 662.7,506.1L660.4,510.5 M453.2,344.9Q443.5,347.5 438.7,348.6Q433.8,349.8 429,351.1Q424.2,352.4 419.4,353.8Q414.6,355.2 409.8,356.8Q405.1,358.3 400.4,360Q395.6,361.7 391,363.6Q386.4,365.5 382,367.9Q377.7,370.3 373.5,373.1Q369.3,375.8 365.2,378.7Q361,381.5 357,384.4Q352.9,387.2 349,390.4Q345,393.5 341.3,396.7Q337.5,400 333.7,403.3Q329.9,406.5 326.2,409.8Q322.4,413.2 318.7,416.5Q315,419.9 311.1,423Q307.2,426.2 303.4,429.3Q299.5,432.5 295.7,435.8Q291.9,439 288.5,442.7Q285.1,446.4 282.2,450.4Q279.3,454.5 276.9,458.9Q274.5,463.3 272.8,468Q271.1,472.7 270,477.6Q269,482.5 268.2,487.4Q267.4,492.3 266.7,497.3Q266.1,502.2 265.7,507.2Q265.2,512.2 264.4,517.1Q263.6,522.1 262.5,526.9Q261.5,531.8 260.6,536.8Q259.7,541.7 258.9,546.6Q258,551.5 257.4,556.5L256.8,561.5 M812.4,255.1Q812.9,245.1 813.1,240.1Q813.3,235.1 813.7,230.1Q814,225.1 814.6,220.2Q815.2,215.2 815.9,210.3Q816.6,205.3 817.4,200.4Q818.3,195.4 819,190.5Q819.7,185.5 820.6,180.6Q821.5,175.7 822.4,170.8Q823.3,165.9 824.1,160.9Q824.9,156 825.9,151.1Q827,146.2 828.1,141.3Q829.2,136.5 830.2,131.6Q831.2,126.7 832.4,121.8Q833.6,117 834.7,112.1Q835.7,107.2 836.6,102.3Q837.5,97.4 837.5,92.4Q837.5,87.4 837.4,82.4Q837.3,77.4 836.9,72.4Q836.5,67.4 835.6,62.5Q834.7,57.6 833.4,52.7Q832.2,47.9 830,43.4Q827.9,38.8 825.4,34.5Q822.9,30.2 820.1,26Q817.4,21.9 814.4,17.8Q811.4,13.8 808.2,10Q804.9,6.2 801.4,2.7Q797.9,-0.9 794.2,-4.3Q790.5,-7.6 786.7,-10.9Q782.9,-14.2 779.2,-17.6Q775.5,-20.9 772,-24.4Q768.5,-28 765.1,-31.7L761.8,-35.4 M667.6,189.7Q677.5,188.3 682.5,187.8Q687.4,187.3 692.4,187.1Q697.4,186.9 702.4,186.7Q707.4,186.6 712.4,186.2Q717.4,185.9 722.3,185.1Q727.3,184.3 732.2,183.8Q737.2,183.2 742.2,182.9Q747.2,182.6 752.2,182.6Q757.2,182.7 762.2,183.2Q767.1,183.8 772,184.9Q776.9,186 781.6,187.7Q786.3,189.4 790.8,191.6Q795.3,193.7 799.7,196.2Q804,198.6 808.1,201.5Q812.3,204.3 816.2,207.4Q820.1,210.5 824.1,213.5Q828.1,216.6 832.1,219.5Q836.1,222.5 840.2,225.3Q844.4,228.1 848.5,230.9Q852.7,233.7 856.9,236.3Q861.2,239 865.6,241.3Q870.1,243.6 874.7,245.5Q879.3,247.5 883.8,249.5Q888.4,251.5 893,253.5Q897.6,255.5 902.1,257.6Q906.7,259.7 911.2,261.8Q915.7,263.9 920.2,266.2L924.7,268.4 M757.4,148.5Q766.1,143.5 770.8,141.7Q775.5,139.9 780.3,138.7Q785.2,137.5 790.1,136.8Q795.1,136.1 800.1,136Q805.1,135.9 810.1,136.2Q815.1,136.4 820.1,136.3Q825.1,136.2 830.1,136Q835,135.7 840,135.3Q845,135 850,134.7Q855,134.5 860,134.8Q865,135 870,135.5Q874.9,136 879.9,136.1Q884.9,136.1 889.9,136Q894.9,135.9 899.9,135.7Q904.9,135.5 909.9,134.9Q914.9,134.4 919.9,133.9Q924.8,133.4 929.8,133Q934.8,132.7 939.8,132.4Q944.8,132.1 949.8,131.8Q954.8,131.5 959.8,131.5Q964.8,131.5 969.8,131.9Q974.7,132.2 979.7,133Q984.6,133.8 989.4,135.1Q994.3,136.4 999,138Q1003.8,139.5 1008.5,141.1Q1013.3,142.7 1018,144.3Q1022.7,145.9 1027.4,147.7Q1032,149.6 1036.7,151.4Q1041.4,153.1 1046,155Q1050.7,156.8 1055.5,158Q1060.4,159.2 1065.4,159.7L1070.3,160.2 M748.5,95.4Q756,102.1 759.9,105.2Q763.7,108.4 767.8,111.3Q771.9,114.1 776.1,116.9Q780.2,119.7 784.5,122.3Q788.7,125 793.2,127.2Q797.7,129.4 802.4,131.1Q807.1,132.8 812,133.8Q816.9,134.9 821.9,135.4Q826.8,135.9 831.8,135.8Q836.8,135.8 841.8,135.3Q846.8,134.8 851.8,134.5Q856.8,134.3 861.8,134.7Q866.7,135.1 871.7,135.7Q876.7,136.3 881.6,137.2Q886.5,138.2 891.4,139.3Q896.2,140.5 901,141.8Q905.9,143.1 910.6,144.8Q915.3,146.4 919.9,148.3Q924.6,150.2 929.2,152.1Q933.8,154.1 938.4,156Q943,158 947.6,159.9Q952.2,161.9 956.7,164.1Q961.2,166.3 965.5,168.8Q969.8,171.3 974.1,173.8Q978.4,176.4 982.8,178.8Q987.1,181.3 991.6,183.5Q996.1,185.8 1000.6,188Q1005,190.2 1009.5,192.5Q1014,194.7 1018.3,197.2Q1022.7,199.6 1027,202.2Q1031.2,204.8 1035.6,207.2Q1040.1,209.5 1044.5,211.7Q1049,213.9 1053.5,216.1Q1058,218.3 1062.5,220.5L1067,222.8 M519.6,160.5Q519.7,170.5 520.2,175.5Q520.7,180.4 521.3,185.4Q521.9,190.4 522.5,195.3Q523,200.3 523.4,205.3Q523.9,210.3 524.7,215.2Q525.4,220.2 526.5,225Q527.6,229.9 528.8,234.8Q530,239.6 531.3,244.4Q532.7,249.3 534.2,254Q535.8,258.8 537.4,263.5Q539,268.2 540.7,272.9Q542.3,277.7 544,282.4Q545.7,287.1 547.2,291.8Q548.8,296.6 550,301.4Q551.2,306.3 552.6,311.1Q553.9,315.9 555.3,320.7Q556.7,325.5 558.2,330.3Q559.7,335 561,339.9Q562.3,344.7 563.3,349.6Q564.2,354.5 564.9,359.5Q565.5,364.4 565.9,369.4Q566.3,374.4 566.6,379.4Q566.9,384.4 567.3,389.4Q567.6,394.4 567.7,399.4Q567.7,404.4 567.6,409.4Q567.4,414.4 567.3,419.4Q567.2,424.4 567,429.4Q566.7,434.3 566.3,439.3Q565.8,444.3 565.1,449.3Q564.5,454.2 563.9,459.2Q563.3,464.1 562.5,469.1Q561.8,474 560.6,478.9L559.4,483.7 M829.4,340.8Q838,335.8 842.3,333.1Q846.5,330.5 850.7,327.7Q854.8,324.8 859,322.1Q863.1,319.3 867.5,316.9Q871.9,314.6 876.4,312.4Q880.9,310.2 885.5,308.1Q890,306.1 894.7,304.3Q899.4,302.6 904.1,301Q908.9,299.3 913.7,298Q918.5,296.6 923.3,295.2Q928.1,293.9 933,292.7Q937.8,291.5 942.7,290.6Q947.6,289.6 952.6,289.1Q957.6,288.6 962.6,288.5Q967.6,288.4 972.6,288.5Q977.6,288.5 982.6,288.7Q987.6,289 992.6,289.1Q997.6,289.3 1002.6,289.6Q1007.5,289.9 1012.5,290.6Q1017.4,291.3 1022.3,292.5Q1027.2,293.6 1032,295.1Q1036.8,296.5 1041.4,298.4Q1046,300.2 1050.5,302.5Q1055,304.7 1059.4,307L1063.8,309.3 M712,293.4Q721.3,297.2 725.9,299Q730.6,300.9 735.3,302.6Q739.9,304.3 744.6,306.3Q749.2,308.2 753.6,310.5Q758.1,312.7 762.4,315.3Q766.7,317.9 770.8,320.6Q775,323.4 779.1,326.3Q783.2,329.1 787.3,332Q791.4,334.8 795.5,337.7Q799.6,340.5 803.9,343Q808.2,345.6 812.7,347.9Q817.1,350.2 821.6,352.5Q826,354.8 830.5,357Q834.9,359.3 839.5,361.2Q844.1,363.2 848.8,365Q853.5,366.8 858.2,368.3Q863,369.7 868,370.5Q872.9,371.4 877.8,372.2Q882.8,373 887.7,373.7Q892.7,374.4 897.6,374.8Q902.6,375.2 907.6,375Q912.6,374.8 917.6,374Q922.5,373.2 927.3,371.8Q932.1,370.4 936.6,368.2Q941,365.9 944.9,362.8Q948.7,359.6 952.1,355.9L955.5,352.2 M800.9,294Q806.4,285.6 809.3,281.6Q812.2,277.5 815,273.3Q817.7,269.1 820.2,264.8Q822.8,260.5 825.2,256.2Q827.7,251.8 829.8,247.3Q832,242.8 833.9,238.1Q835.7,233.5 837.3,228.8Q839,224 840.4,219.2Q841.8,214.5 842.4,209.5Q843,204.5 842.8,199.5Q842.6,194.5 841.8,189.6Q841.1,184.6 840,179.8Q838.9,174.9 837.7,170Q836.6,165.2 835.2,160.3Q833.9,155.5 832.9,150.6Q832,145.7 831.5,140.7Q831.1,135.7 831.1,130.7Q831.2,125.7 831.8,120.8Q832.5,115.8 833.8,111Q835.2,106.2 837.1,101.6Q839,97 841.2,92.5Q843.4,88 846.1,83.8Q848.8,79.5 851.8,75.6Q854.9,71.6 857.9,67.7Q861,63.7 863.8,59.6Q866.6,55.4 869.3,51.2Q872.1,47.1 874.7,42.8Q877.4,38.6 880.1,34.4Q882.8,30.2 885.6,26Q888.4,21.9 891.3,17.8Q894.2,13.8 897.5,10Q900.9,6.3 904.3,2.7Q907.8,-0.9 911.4,-4.4Q915,-7.9 918.7,-11.2L922.3,-14.6 M758.7,121.1Q749.3,117.8 744.5,116.2Q739.8,114.6 735.1,113Q730.3,111.3 725.7,109.4Q721.1,107.4 716.5,105.5Q711.9,103.6 707.2,101.8Q702.5,100.1 697.9,98.2Q693.2,96.3 688.7,94.2Q684.2,92 679.8,89.7Q675.4,87.4 671,84.9Q666.7,82.4 662.4,79.8Q658.2,77.1 654.3,74.1Q650.3,71 646.6,67.6Q642.9,64.3 639.2,61Q635.5,57.6 631.9,54.1Q628.3,50.6 624.8,47.1Q621.2,43.6 617.6,40.1Q614,36.6 610.7,32.9Q607.3,29.2 604.1,25.3Q600.9,21.5 597.9,17.5Q594.8,13.6 591.9,9.5Q589,5.4 586.1,1.4Q583.1,-2.6 580.1,-6.6Q577.1,-10.7 574.2,-14.7Q571.3,-18.8 568.2,-22.7Q565.1,-26.6 561.7,-30.3Q558.4,-34 554.8,-37.5Q551.2,-41 547.5,-44.3Q543.7,-47.7 540.1,-51Q536.4,-54.4 532.7,-57.8Q529,-61.2 525.6,-64.9Q522.3,-68.6 518.9,-72.3Q515.6,-76 512.3,-79.8L509,-83.5 M543.1,199Q548.2,207.6 550.5,212.1Q552.8,216.5 554.6,221.2Q556.4,225.8 558.1,230.5Q559.9,235.2 561.5,239.9Q563,244.7 564.4,249.5Q565.7,254.3 566.8,259.2Q568,264.1 569.1,268.9Q570.2,273.8 571.5,278.7Q572.8,283.5 574.3,288.3Q575.7,293 577,297.9Q578.3,302.7 579.5,307.6Q580.7,312.4 581.8,317.3Q582.8,322.2 583.9,327.1Q585,331.9 586,336.8Q587.1,341.7 588.3,346.6Q589.5,351.4 590.8,356.3Q592.1,361.1 593.5,365.9Q594.9,370.7 596.3,375.5Q597.7,380.3 599.2,385Q600.8,389.8 602.7,394.4Q604.6,399.1 606.8,403.5Q609.1,408 611.4,412.4Q613.7,416.9 615.7,421.4Q617.7,426 619.6,430.6Q621.5,435.3 623.1,440Q624.7,444.7 625.9,449.6Q627.1,454.4 627.8,459.4Q628.6,464.3 629.4,469.3Q630.2,474.2 630.9,479.2Q631.6,484.1 632.5,489Q633.4,493.9 634.1,498.9L634.8,503.8 M599.1,173.6Q608.9,171.5 613.8,170.4Q618.7,169.3 623.5,167.9Q628.3,166.5 633.1,165.2Q637.9,163.8 642.7,162.5Q647.6,161.1 652.5,160.1Q657.3,159.1 662.3,158.3Q667.2,157.5 672.2,156.9Q677.1,156.3 682.1,156.2Q687.1,156.1 692.1,156.5Q697.1,156.8 702.1,157.6Q707,158.4 711.8,159.7Q716.6,161.1 721.3,163Q725.9,164.8 730.3,167.1Q734.8,169.5 739,172Q743.3,174.6 747.5,177.3Q751.7,180.1 755.9,182.8Q760.1,185.6 764.1,188.5Q768.2,191.4 772.2,194.4Q776.2,197.4 780.3,200.3Q784.3,203.2 788.4,206.1Q792.4,209.1 796.2,212.3Q800,215.6 803.8,218.9Q807.5,222.2 810.9,225.8Q814.4,229.5 817.7,233.2Q821.1,236.9 824.5,240.6Q827.9,244.2 831.5,247.7Q835.1,251.1 838.6,254.7Q842.1,258.3 845.4,262Q848.7,265.8 851.9,269.6Q855,273.5 857.8,277.7Q860.5,281.9 862.8,286.3Q865.1,290.8 866.9,295.4Q868.8,300.1 870.5,304.8L872.2,309.5 M793.6,219.4Q801.9,224.9 806,227.7Q810.2,230.6 814.2,233.5Q818.3,236.4 822.3,239.3Q826.4,242.3 830.2,245.5Q834.1,248.7 837.9,251.9Q841.7,255.2 845.6,258.3Q849.5,261.3 853.6,264.2Q857.7,267.2 861.8,270Q865.9,272.8 870.4,275.1Q874.8,277.5 879.4,279.3Q884,281.2 888.8,282.7Q893.6,284.3 898.4,285.6Q903.2,286.8 908.1,287.9Q913,289 918,289.6Q922.9,290.2 927.9,290.7Q932.9,291.1 937.8,291.8Q942.8,292.6 947.7,293.5Q952.6,294.4 957.5,295.2Q962.5,296.1 967.4,296.7L972.4,297.3 M571.4,131.8Q565.2,123.9 562.2,119.9Q559.1,116 556.2,111.9Q553.2,107.9 550,104Q546.9,100.2 543.4,96.6Q540,92.9 536.3,89.6Q532.6,86.2 528.7,83Q524.8,79.9 520.6,77.2Q516.3,74.6 511.7,72.6Q507.2,70.6 502.3,69.3Q497.5,67.9 492.6,67.2Q487.6,66.5 482.6,66.3Q477.6,66 472.7,66.4Q467.7,66.8 462.9,68.2Q458.1,69.6 453.8,72.2Q449.5,74.7 445.8,78.1Q442.1,81.5 439,85.4L435.8,89.3 M701.4,81.3Q710.2,86 714.8,88.1Q719.4,90.1 724.1,91.6Q728.9,93.2 733.8,94.1Q738.7,95.1 743.6,96Q748.5,96.9 753.5,97.5Q758.4,98.2 763.4,98.9Q768.3,99.6 773.2,100.8Q778.1,102 782.7,103.9Q787.3,105.8 791.5,108.5Q795.7,111.3 799.1,114.9Q802.6,118.5 805.6,122.5Q808.5,126.5 811.2,130.8Q813.8,135 816.3,139.4Q818.8,143.7 821.2,148.1Q823.6,152.4 825.4,157.1Q827.3,161.7 829,166.5Q830.7,171.2 832.2,175.9Q833.6,180.7 835.2,185.5Q836.7,190.2 838.1,195L839.4,199.8 M820,96.3Q811.3,91.3 807.1,88.5Q803,85.8 799.1,82.6Q795.3,79.3 791.8,75.8Q788.3,72.2 785.1,68.4Q781.9,64.5 779.2,60.3Q776.5,56.1 774.7,51.4Q773,46.8 772.4,41.8Q771.8,36.8 772,31.8Q772.2,26.8 773,21.9Q773.8,17 775.2,12.2Q776.7,7.4 778.7,2.8Q780.7,-1.8 783,-6.2Q785.2,-10.7 787.3,-15.2Q789.4,-19.8 791.2,-24.4Q793,-29.1 794.7,-33.8Q796.4,-38.5 798,-43.3Q799.6,-48 801,-52.8Q802.4,-57.6 803.7,-62.4Q805,-67.2 806,-72.1Q807,-77 807.9,-82Q808.9,-86.9 809.8,-91.8Q810.8,-96.7 812.1,-101.5Q813.4,-106.3 814.9,-111.1Q816.4,-115.9 818.3,-120.5Q820.3,-125.1 822.4,-129.6Q824.5,-134.2 827,-138.5Q829.6,-142.8 832.6,-146.7Q835.7,-150.7 839.3,-154.2Q842.8,-157.7 846.9,-160.6Q851,-163.4 855.7,-165.3Q860.3,-167.2 865.2,-168.4Q870,-169.6 874.9,-170.4Q879.9,-171.2 884.8,-171.9L889.8,-172.7 M758.9,275Q748.9,275.6 743.9,275.5Q738.9,275.4 733.9,275.4Q728.9,275.4 724,275.7Q719,275.9 714,276.3Q709,276.6 704.1,277.5Q699.1,278.3 694.4,279.8Q689.6,281.3 685.1,283.4Q680.5,285.6 676.4,288.3Q672.2,291 668.6,294.5Q665,298 661.8,301.9Q658.6,305.7 655.9,309.9Q653.1,314 650.6,318.4Q648.1,322.7 645.9,327.2Q643.7,331.7 642.1,336.4Q640.6,341.2 639.7,346.1Q638.8,351 638.7,356Q638.5,361 639.1,366Q639.6,371 640.8,375.8Q642,380.6 643.9,385.3Q645.7,390 648,394.4Q650.3,398.8 652.9,403.1Q655.5,407.4 658.1,411.7Q660.7,415.9 663.5,420.1Q666.3,424.2 669.3,428.2Q672.3,432.2 675.2,436.3Q678,440.4 680.7,444.6Q683.4,448.8 686,453.1Q688.7,457.3 691.3,461.6Q694,465.8 696.7,470Q699.4,474.2 702,478.5Q704.6,482.7 707.1,487.1Q709.6,491.4 711.9,495.8Q714.3,500.3 716,504.9Q717.8,509.6 719.3,514.4Q720.9,519.1 722.5,523.9Q724.1,528.6 726.1,533.2L728.1,537.7 M779.7,89.6Q779.6,79.6 779.6,74.6Q779.6,69.6 779.6,64.6Q779.6,59.6 779.6,54.6Q779.5,49.6 778.9,44.7Q778.2,39.7 777,34.9Q775.7,30 774.1,25.3Q772.6,20.5 770.8,15.9Q769,11.2 766.9,6.7Q764.9,2.1 762.8,-2.5Q760.7,-7 759,-11.7Q757.4,-16.4 756.2,-21.3Q755,-26.1 754.3,-31.1Q753.6,-36.1 753.2,-41Q752.7,-46 752.2,-51Q751.7,-56 751.4,-60.9Q751.1,-65.9 751,-70.9Q750.9,-75.9 751,-80.9Q751.2,-85.9 751.6,-90.9Q752,-95.9 752.6,-100.9Q753.2,-105.8 753.3,-110.8Q753.5,-115.8 753.3,-120.8Q753.1,-125.8 753,-130.8Q752.8,-135.8 752.5,-140.8Q752.3,-145.8 752.1,-150.8Q751.9,-155.8 751.9,-160.8Q751.8,-165.8 752.4,-170.8Q753,-175.7 753.8,-180.7L754.5,-185.6 M794,135.9Q784,136.6 779.1,137Q774.1,137.4 769.1,137.8Q764.1,138.1 759.1,138.2Q754.1,138.2 749.1,137.8Q744.1,137.4 739.3,136.3Q734.4,135.1 729.8,133.3Q725.1,131.4 720.7,129Q716.3,126.6 712.2,123.8Q708,121 704,118.1Q699.9,115.2 696.2,111.8Q692.5,108.5 688.9,105.1Q685.2,101.6 681.6,98.1Q678.1,94.6 674.5,91.2Q670.8,87.7 667.1,84.4Q663.3,81.1 659.2,78.4Q655,75.6 650.5,73.4Q646,71.1 641.4,69.3L636.7,67.6 M560.9,260.6Q564.1,270.1 565.4,274.9Q566.7,279.7 567.7,284.6Q568.6,289.5 569.5,294.5Q570.4,299.4 571.5,304.3Q572.6,309.1 574.2,313.9Q575.8,318.6 578,323.1Q580.1,327.6 582.8,331.9Q585.4,336.1 588.5,340Q591.7,343.9 594.8,347.8Q597.9,351.7 601.1,355.6Q604.3,359.4 607.7,363.1Q611,366.8 614.6,370.3Q618.1,373.9 621.8,377.2Q625.5,380.5 629.3,383.9Q633,387.3 636.7,390.6Q640.4,394 644.3,397.1Q648.2,400.2 652.2,403.2Q656.3,406.1 660.3,409.1L664.3,412.1 M536.2,293Q544.6,298.4 548.8,301.1Q553,303.8 557.3,306.5Q561.5,309.1 565.8,311.7Q570.1,314.2 574.3,316.9Q578.6,319.5 582.6,322.5Q586.7,325.4 590.3,328.9Q593.9,332.4 597,336.2Q600.2,340.1 602.9,344.3Q605.6,348.5 608.4,352.7Q611.1,356.9 613.7,361.1Q616.4,365.4 619.2,369.5Q622.1,373.5 624.9,377.7Q627.7,381.8 630.6,386Q633.4,390.1 636.3,394.2Q639.2,398.2 642.3,402.1Q645.5,406 648.9,409.6Q652.3,413.3 656.1,416.5Q659.9,419.8 663.8,422.9Q667.7,426 671.7,429.1Q675.6,432.2 679.8,435L683.9,437.8 M797.3,251.4Q787.4,249.8 782.6,248.5Q777.8,247.2 773.1,245.3Q768.5,243.5 764.1,241.1Q759.8,238.6 755.7,235.6Q751.7,232.7 748.1,229.2Q744.5,225.7 741.4,221.8Q738.3,217.9 735.3,213.9Q732.3,209.9 729.3,205.9Q726.4,201.8 723.4,197.8Q720.5,193.8 717.3,189.9Q714.2,186 711,182.2Q707.7,178.4 704.2,174.8Q700.7,171.2 696.9,168Q693.1,164.7 689.3,161.5Q685.5,158.2 681.7,155Q677.9,151.7 674.1,148.4Q670.3,145.2 666.3,142.2Q662.3,139.2 658.3,136.3Q654.2,133.4 650,130.7Q645.7,128 641.5,125.5Q637.2,122.9 632.8,120.4Q628.5,117.9 624,115.7Q619.5,113.5 614.9,111.5Q610.4,109.5 605.7,107.8Q600.9,106.2 596.2,104.7Q591.4,103.2 586.5,101.9Q581.7,100.6 576.8,99.5Q572,98.4 567.1,97.2Q562.2,96 557.4,95Q552.5,93.9 547.5,93.2Q542.6,92.6 537.6,92.4Q532.6,92.3 527.6,92.5Q522.6,92.7 517.6,93.1Q512.6,93.4 507.6,94Q502.7,94.5 497.7,95.1L492.7,95.7 M698.8,195.9Q697.2,205.7 695.9,210.5Q694.6,215.4 692.8,220.1Q691.1,224.7 688.8,229.2Q686.5,233.7 683.8,237.8Q681,241.9 677.6,245.6Q674.2,249.3 670.2,252.3Q666.2,255.4 662.1,258.2Q658,261 653.6,263.4Q649.2,265.8 644.6,267.8Q640,269.8 635.4,271.6Q630.7,273.3 625.9,274.8Q621.1,276.2 616.2,277.4Q611.4,278.5 606.4,279.4Q601.5,280.3 596.6,281.3Q591.7,282.4 586.9,283.6Q582,284.8 577.2,285.9Q572.3,287.1 567.4,288.2Q562.6,289.3 557.8,290.8Q553,292.3 548.3,293.9Q543.6,295.6 538.8,297.2Q534.1,298.8 529.3,300.4Q524.6,301.9 519.8,303.3Q515,304.8 510.2,306.2Q505.4,307.6 500.6,309.1Q495.9,310.6 491.1,312.1Q486.3,313.5 481.6,315.1Q476.8,316.6 472.1,318.2L467.3,319.7 M863.5,279Q862.5,269.1 862.3,264.1Q862,259.1 862,254.1Q862.1,249.1 862.5,244.1Q863,239.1 864,234.2Q864.9,229.3 866.3,224.5Q867.6,219.7 868.9,214.9Q870.2,210 871.9,205.4Q873.7,200.7 875.8,196.1Q877.9,191.6 880.2,187.2Q882.5,182.7 884.7,178.2Q886.9,173.8 889.3,169.4Q891.6,164.9 894.2,160.7Q896.8,156.4 899.7,152.3Q902.6,148.2 905.5,144.2Q908.4,140.1 911.1,135.9Q913.7,131.6 915.8,127.1Q917.9,122.5 919.2,117.7Q920.5,112.9 921,107.9Q921.4,102.9 921.3,97.9L921.1,92.9 M593.4,285.4Q595.3,295.2 595.9,300.1Q596.6,305.1 596.8,310.1Q597.1,315.1 596.9,320.1Q596.8,325.1 596.2,330.1Q595.7,335 594.6,339.9Q593.5,344.8 592,349.6Q590.6,354.4 588.7,359Q586.7,363.6 584.1,367.8Q581.5,372.1 578.5,376.1Q575.4,380 571.9,383.6Q568.4,387.1 564.6,390.4Q560.9,393.8 557,396.9Q553.1,400.1 549.1,403.1Q545.1,406 541,408.9Q537,411.8 533,414.8Q528.9,417.8 525,420.9Q521.1,424 517.1,427.1Q513.2,430.2 509.3,433.3Q505.3,436.3 501.3,439.3Q497.2,442.2 493.3,445.3Q489.4,448.4 485.4,451.4L481.4,454.4 M544,138.4Q550.1,146.3 553,150.3Q556,154.3 559,158.4Q561.9,162.4 565.3,166.1Q568.6,169.8 572.1,173.4Q575.6,177 579.1,180.5Q582.7,184 586.4,187.4Q590.1,190.8 593.8,194.1Q597.6,197.4 601.3,200.8Q604.9,204.2 608.7,207.5Q612.4,210.8 616.1,214.2Q619.9,217.5 623.8,220.6Q627.7,223.7 631.6,226.8Q635.5,229.9 639.4,233Q643.3,236.2 647.2,239.4Q651,242.6 654.8,245.8Q658.6,249.1 662.2,252.6Q665.8,256 669,259.8Q672.3,263.6 675.1,267.7Q678,271.9 680.4,276.2Q682.8,280.6 685.1,285.1Q687.4,289.5 689.5,294Q691.6,298.6 693.3,303.3Q694.9,308 696.1,312.9Q697.2,317.8 697.8,322.7Q698.5,327.7 698.4,332.7Q698.3,337.7 697.8,342.6Q697.2,347.6 696.3,352.5Q695.4,357.4 694.2,362.3Q693.1,367.2 691.5,371.9Q689.9,376.6 688.1,381.3Q686.2,386 684.4,390.6Q682.6,395.3 681.1,400Q679.6,404.8 678,409.6Q676.5,414.3 675,419.1Q673.4,423.8 671.6,428.5L669.8,433.2 M520.8,26.3Q530.7,27.1 535.7,27Q540.7,26.9 545.7,26.7Q550.7,26.4 555.7,26Q560.7,25.6 565.6,24.8Q570.5,24 575.3,22.4Q580.1,20.9 584.6,18.9Q589.2,16.8 593.7,14.7Q598.3,12.6 602.6,10.2Q607,7.8 611,4.7Q614.9,1.7 618.6,-1.8Q622.2,-5.2 625.5,-9Q628.7,-12.8 631.6,-16.9Q634.5,-21 637,-25.3Q639.4,-29.6 641.4,-34.2Q643.4,-38.8 645.1,-43.5Q646.7,-48.3 648.3,-53Q649.9,-57.8 651.4,-62.5Q653,-67.2 654.5,-72Q656,-76.8 657.6,-81.5Q659.3,-86.2 661,-90.9Q662.7,-95.6 664.6,-100.3Q666.5,-104.9 668.3,-109.5Q670.2,-114.2 672.1,-118.8Q674.1,-123.4 676.3,-127.9Q678.5,-132.4 681.1,-136.6Q683.7,-140.9 686.7,-144.9Q689.6,-149 692.9,-152.7Q696.2,-156.5 699.6,-160.2L703,-163.8 M681.9,257.4Q672.6,253.7 668.1,251.6Q663.6,249.4 659.2,246.9Q654.9,244.5 650.6,241.8Q646.4,239.1 642.3,236.3Q638.2,233.4 634.2,230.5Q630.1,227.5 626.2,224.5Q622.2,221.4 618.2,218.5Q614.1,215.6 610,212.8Q605.8,210 601.5,207.4Q597.2,204.9 592.8,202.5Q588.4,200.1 583.9,197.9Q579.4,195.7 574.9,193.6Q570.4,191.4 565.8,189.6Q561.1,187.8 556.5,185.8Q551.9,183.9 547.2,182Q542.6,180.1 537.9,178.4Q533.3,176.6 528.5,175Q523.8,173.4 519,172.1Q514.1,170.7 509.2,169.9Q504.3,169 499.3,168.5Q494.3,168 489.4,167.6Q484.4,167.2 479.4,166.9Q474.4,166.6 469.4,166.8Q464.4,167.1 459.5,168.1Q454.6,169.1 449.8,170.5Q445.1,172 440.5,174.2Q436,176.3 431.9,179.2Q427.8,182 424.1,185.4Q420.4,188.8 417.3,192.7Q414.2,196.6 411.6,200.9L408.9,205.1 M812.4,145.6Q821,140.6 825.5,138.3Q829.9,136.1 834.5,134Q839,132 843.7,130.2Q848.4,128.5 853.2,127.2Q858.1,125.8 863,124.8Q867.8,123.7 872.8,123Q877.7,122.3 882.7,121.9Q887.7,121.6 892.7,121.5Q897.7,121.4 902.7,121.4Q907.7,121.3 912.7,121.6Q917.7,121.9 922.7,122.4Q927.6,122.9 932.6,123.5Q937.6,124.1 942.5,124.9Q947.4,125.7 952.4,126.3L957.4,126.8 M700.2,208.2Q705.1,199.5 707.5,195.1Q709.9,190.7 712.3,186.3Q714.8,182 717.4,177.7Q720.1,173.5 722.8,169.3Q725.5,165.1 728.2,160.9Q730.9,156.7 733.3,152.3Q735.6,147.9 737.5,143.2Q739.4,138.6 740.5,133.7Q741.5,128.8 741.8,123.8Q742.1,118.8 741.7,113.9Q741.4,108.9 740.3,104Q739.2,99.1 737.4,94.4Q735.6,89.8 733,85.5Q730.5,81.2 727.3,77.3Q724.2,73.4 720.6,70Q716.9,66.5 713.2,63.2Q709.4,59.9 705.5,56.8Q701.6,53.7 697.5,50.9Q693.4,48 689.1,45.4Q684.9,42.7 680.7,40Q676.5,37.3 672.4,34.5Q668.2,31.7 664.3,28.6Q660.4,25.5 656.7,22.1Q653,18.7 649.5,15.1Q646,11.5 642.8,7.7Q639.6,3.9 636.7,-0.2Q633.7,-4.2 631,-8.4Q628.2,-12.5 625.5,-16.8Q622.8,-21 619.9,-25Q616.9,-29.1 613.9,-33Q610.9,-37 607.6,-40.8Q604.4,-44.6 601.1,-48.4Q597.7,-52.1 594.5,-55.9Q591.3,-59.7 587.9,-63.4Q584.5,-67.1 581.1,-70.7Q577.7,-74.4 574.4,-78.1L571,-81.9 M775.8,149.3Q773.6,139.5 772.3,134.7Q770.9,129.9 769.3,125.2Q767.6,120.5 765.9,115.7Q764.3,111 762.8,106.2Q761.4,101.4 759.9,96.7Q758.3,91.9 756.5,87.3Q754.6,82.7 752.4,78.2Q750.2,73.7 747.7,69.4Q745.1,65 742.1,61.1Q739.1,57.1 735.8,53.3Q732.6,49.5 728.9,46.1Q725.2,42.7 721.3,39.5Q717.5,36.4 713.5,33.3Q709.6,30.2 705.6,27.2Q701.6,24.3 697.4,21.5Q693.2,18.8 688.9,16.2Q684.6,13.6 680.3,11.1Q675.9,8.7 671.4,6.7Q666.8,4.7 661.9,3.4L657.1,2.1 M484.7,252.6Q476.4,258.1 472.3,260.9Q468.1,263.7 464,266.5Q459.8,269.2 455.6,272Q451.4,274.7 447.2,277.4Q443,280.1 438.9,282.9Q434.7,285.7 430.5,288.4Q426.3,291.1 422.1,293.7Q417.8,296.4 413.5,299Q409.3,301.6 405.4,304.7Q401.5,307.9 397.9,311.4Q394.3,314.9 390.9,318.5Q387.4,322.1 383.9,325.6Q380.3,329.1 376.7,332.6Q373,336 369.5,339.5Q365.9,343 362.3,346.5Q358.8,350 355.4,353.7Q352,357.4 348.5,360.9Q344.9,364.4 341.1,367.7Q337.4,371 333.6,374.3Q329.8,377.5 326.2,380.9Q322.5,384.3 318.8,387.7Q315.1,391.1 311.4,394.4Q307.6,397.7 304.2,401.4Q300.9,405.1 298,409.2Q295.2,413.3 292.7,417.6Q290.2,422 288.3,426.6Q286.3,431.2 285,436Q283.7,440.8 282.8,445.8L281.9,450.7 M836,100Q826,100.5 821,100.7Q816,100.9 811,101Q806,101.1 801,101.2Q796,101.3 791,101.5Q786,101.7 781.1,102.1Q776.1,102.6 771.1,103.2Q766.2,103.9 761.3,104.8Q756.3,105.7 751.4,106.4Q746.4,107.2 741.5,108Q736.6,108.8 731.6,109.5Q726.7,110.2 721.7,110.7Q716.7,111.3 711.7,111.6Q706.8,112 701.8,112.1Q696.8,112.2 691.8,112.2Q686.8,112.3 681.8,112.1Q676.8,111.9 671.8,111.4L666.8,111 M864,82.8Q870.1,74.9 873.2,70.9Q876.2,67 879.1,62.9Q882.1,58.9 885,54.8Q887.9,50.7 890.5,46.5Q893.1,42.2 895.4,37.8Q897.6,33.3 899.5,28.7Q901.4,24 902.8,19.2Q904.2,14.4 905.7,9.7Q907.2,4.9 908.5,0.1Q909.8,-4.8 911.3,-9.5Q912.7,-14.3 914.3,-19.1Q915.8,-23.8 917.6,-28.5Q919.4,-33.2 921.1,-37.9Q922.8,-42.6 924.4,-47.3Q926.1,-52 927.7,-56.8Q929.3,-61.5 931,-66.2Q932.7,-70.9 934.5,-75.6Q936.3,-80.2 938.4,-84.8Q940.5,-89.3 942.9,-93.7Q945.3,-98.1 947.9,-102.3Q950.6,-106.6 953.2,-110.8Q955.9,-115.1 958.5,-119.3Q961.2,-123.5 963.8,-127.8Q966.4,-132 969.2,-136.2Q971.9,-140.4 975.2,-144.2L978.5,-148 M657.6,295.4Q659.6,285.6 660.5,280.7Q661.5,275.8 662.6,270.9Q663.8,266.1 664.7,261.2Q665.6,256.3 666.5,251.3Q667.4,246.4 668.2,241.5Q669,236.5 669.9,231.6Q670.9,226.7 671.9,221.8Q673,216.9 674,212.1Q675.1,207.2 675.9,202.2Q676.8,197.3 677.6,192.4Q678.4,187.4 679.1,182.5Q679.8,177.5 680.3,172.6Q680.8,167.6 681,162.6Q681.3,157.6 681.1,152.6Q681,147.6 680.7,142.6Q680.4,137.6 679.8,132.7Q679.2,127.7 677.9,122.9Q676.7,118 674.8,113.4Q672.8,108.8 670.6,104.3Q668.4,99.8 665.9,95.5Q663.3,91.2 660.7,87Q658,82.7 655.4,78.5Q652.7,74.2 650,70Q647.3,65.8 644.7,61.6Q642.1,57.3 639.7,52.9Q637.2,48.6 634.9,44.1Q632.6,39.7 630.3,35.3Q627.9,30.8 625.6,26.4Q623.2,22 620.6,17.8Q617.9,13.6 615,9.5L612.1,5.4 M488.8,134.6Q479.8,139 475.5,141.6Q471.2,144.1 467,146.8Q462.8,149.6 458.8,152.6Q454.8,155.6 450.9,158.6Q446.9,161.6 442.8,164.6Q438.8,167.5 434.7,170.4Q430.6,173.2 426.4,175.9Q422.2,178.7 418,181.4Q413.8,184.1 409.5,186.7Q405.3,189.4 401.2,192.2Q397,194.9 392.7,197.6Q388.5,200.2 384.2,202.7Q379.8,205.2 375.4,207.6Q371,209.9 366.5,212L362,214.2 M736.1,74.2Q734.3,84.1 733.3,89Q732.3,93.9 731.1,98.7Q730,103.6 728.5,108.4Q727,113.2 725.2,117.8Q723.4,122.5 721.3,127Q719.2,131.6 717,136.1Q714.9,140.6 712.8,145.1Q710.7,149.7 708.7,154.3Q706.8,158.9 705.1,163.6Q703.4,168.3 702.3,173.1Q701.1,178 700.7,183Q700.3,188 700.2,193Q700.2,198 700.8,202.9Q701.4,207.9 702.7,212.7Q704,217.6 705.9,222.2Q707.8,226.8 709.8,231.4Q711.9,236 713.8,240.6Q715.7,245.2 717.5,249.8Q719.4,254.5 721.5,259Q723.5,263.6 725.9,268Q728.2,272.4 730.9,276.6Q733.6,280.9 736.7,284.8Q739.7,288.7 743,292.5Q746.3,296.3 749.9,299.8Q753.5,303.2 757.4,306.3Q761.4,309.3 765.6,312Q769.9,314.7 774.3,317Q778.7,319.3 783.3,321.2Q788,323.1 792.8,324.5L797.6,325.8 M687.1,337.9Q692.3,346.5 694.6,350.9Q697,355.3 699.2,359.8Q701.5,364.2 703.4,368.9Q705.3,373.5 706.7,378.3Q708.1,383.1 709.1,388Q710,392.9 710.6,397.9Q711.1,402.8 711.4,407.8Q711.7,412.8 711.6,417.8Q711.4,422.8 710.9,427.8Q710.4,432.8 709.6,437.7Q708.8,442.6 707.3,447.4Q705.8,452.2 704.1,456.9Q702.4,461.6 700.9,466.3Q699.4,471.1 697.9,475.9Q696.4,480.7 695.2,485.5Q694.1,490.4 693.9,495.4Q693.7,500.4 694.4,505.3Q695.1,510.3 696,515.2Q697,520.1 697.9,525Q698.9,529.9 699.9,534.8Q700.9,539.7 702.2,544.6Q703.4,549.4 704.7,554.2Q706.1,559 707.7,563.8Q709.3,568.5 711.5,573L713.8,577.5 M548.8,237.2Q557.8,241.5 562.4,243.6Q566.9,245.7 571.5,247.6Q576.2,249.5 580.9,251.2Q585.6,252.8 590.2,254.8Q594.8,256.7 599.3,259Q603.7,261.3 608.1,263.6Q612.5,266 617.1,267.9Q621.7,269.9 626.5,271.4Q631.3,272.9 636.1,274Q641,275.2 646,275.9Q650.9,276.7 655.9,277Q660.9,277.4 665.9,277.5Q670.9,277.6 675.9,277.7Q680.9,277.8 685.9,278Q690.9,278.2 695.8,278.7Q700.8,279.2 705.8,279.6Q710.8,280 715.8,280.5Q720.7,281 725.7,281.7Q730.6,282.3 735.6,282.7Q740.6,283.1 745.6,283.7Q750.6,284.2 755.6,284.4Q760.5,284.7 765.5,284.4Q770.5,284.1 775.5,283.9Q780.5,283.8 785.5,284.1Q790.5,284.4 795.5,285.1Q800.4,285.8 805.2,287.2L810,288.5 M745.6,81Q741,72.1 738.9,67.5Q736.8,63 734.7,58.5Q732.6,53.9 730.8,49.3Q729,44.6 727.4,39.9Q725.8,35.1 724.6,30.3Q723.4,25.4 722.5,20.5Q721.6,15.6 720.8,10.7Q720.1,5.7 719.6,0.7Q719.2,-4.2 719.3,-9.2Q719.3,-14.2 719.7,-19.2Q720.1,-24.2 720.7,-29.2Q721.4,-34.1 722.6,-39Q723.8,-43.8 725.9,-48.4Q727.9,-53 730.4,-57.3Q732.9,-61.6 735.6,-65.8Q738.3,-70 741.4,-73.9Q744.5,-77.9 748.4,-81Q752.3,-84.2 756.5,-86.8Q760.8,-89.4 765.2,-91.8Q769.6,-94.2 774,-96.6Q778.4,-98.9 782.9,-101.1Q787.4,-103.3 791.9,-105.4Q796.4,-107.6 801,-109.6L805.6,-111.6 M612.5,298.9Q604.8,305.2 601.2,308.7Q597.6,312.2 594.4,316Q591.2,319.9 588.2,323.8Q585.1,327.8 582.1,331.8Q579.1,335.8 576,339.7Q572.8,343.6 569.6,347.4Q566.4,351.3 562.9,354.8Q559.3,358.3 555.5,361.6Q551.7,364.8 547.6,367.6Q543.4,370.3 539,372.7Q534.6,375.1 530.1,377.3Q525.7,379.6 521.1,381.6Q516.5,383.6 511.8,385.4Q507.2,387.3 502.5,389Q497.8,390.8 493.2,392.8Q488.6,394.7 484.1,396.9Q479.6,399.1 475.2,401.4Q470.8,403.8 466.6,406.4Q462.3,409 458.1,411.7Q453.9,414.5 450.1,417.7Q446.3,421 442.7,424.5Q439.1,427.9 435.8,431.7Q432.5,435.4 429.1,439.1Q425.7,442.7 422.3,446.4L418.9,450.1 M484,325.3Q484.2,335.2 484.7,340.2Q485.1,345.2 485.5,350.2Q485.9,355.2 486,360.2Q486.1,365.2 486.3,370.2Q486.5,375.2 486.8,380.2Q487.2,385.1 487.6,390.1Q488.1,395.1 488.6,400.1Q489.1,405.1 489.7,410Q490.3,415 491.1,419.9Q492,424.8 492.8,429.8Q493.6,434.7 494.5,439.6Q495.3,444.6 496.6,449.4Q497.8,454.2 499.6,458.9Q501.4,463.6 503.2,468.2Q505.1,472.9 506.9,477.5Q508.8,482.2 510.6,486.8Q512.5,491.5 514.5,496Q516.5,500.6 518.8,505Q521.2,509.5 523.9,513.7Q526.6,517.9 529.4,522Q532.2,526.2 535.2,530.1Q538.2,534.1 541.2,538.2Q544.1,542.2 547.4,546L550.6,549.8 M862,150.3Q866,141.1 867.6,136.4Q869.1,131.6 869.5,126.6Q869.9,121.7 869.6,116.7Q869.3,111.7 868.6,106.7Q867.8,101.8 866.4,97Q865,92.2 863.3,87.5Q861.6,82.8 859.8,78.1Q858,73.5 856.8,68.6Q855.5,63.8 854.7,58.8Q854,53.9 853.8,48.9Q853.7,43.9 854.2,38.9Q854.7,34 855.8,29.1Q857,24.2 858.7,19.5Q860.4,14.8 862.3,10.2Q864.3,5.6 866.7,1.3Q869.1,-3.1 872.1,-7.2Q875,-11.3 878.1,-15.2Q881.2,-19.1 884.3,-23Q887.3,-27 890.3,-31Q893.3,-35 896.6,-38.7Q899.9,-42.5 903.4,-46.1Q906.9,-49.7 910.2,-53.4Q913.5,-57.2 916.9,-60.9Q920.2,-64.6 923.7,-68.2Q927.2,-71.8 931.1,-74.9Q935,-78 939.2,-80.7Q943.4,-83.4 948,-85.4Q952.6,-87.3 957.4,-88.7L962.2,-90.2 M580.2,199.5Q570.4,197.3 565.5,196.4Q560.6,195.4 555.7,194.7Q550.7,194 545.8,193.4Q540.8,192.9 535.8,192.6Q530.8,192.4 525.8,192.4Q520.8,192.4 515.8,192.3Q510.8,192.3 505.8,192.1Q500.8,191.9 495.8,191.7Q490.8,191.5 485.9,190.9Q480.9,190.3 476,189.4Q471.1,188.4 466.3,187.1Q461.5,185.7 456.8,183.8Q452.2,181.9 447.8,179.5Q443.4,177.2 439,174.7Q434.6,172.3 430.4,169.7Q426.1,167.1 421.7,164.8L417.3,162.4 M799.4,66.2Q809.2,64.6 814.1,63.6Q819,62.6 823.9,61.7Q828.9,60.7 833.8,60.2Q838.8,59.6 843.8,59Q848.7,58.3 853.7,57.6Q858.6,56.8 863.5,55.9Q868.4,55.1 873.4,54.4Q878.4,53.8 883.4,53.6Q888.4,53.4 893.3,53.5Q898.3,53.7 903.3,53.8Q908.3,53.9 913.3,54.1Q918.3,54.2 923.3,54.7Q928.3,55.2 933.2,56.1Q938.1,56.9 943,58Q947.9,59.2 952.7,60.4Q957.6,61.6 962.3,63.3Q967,65.1 971.6,67.1Q976.2,69 980.8,70.8Q985.5,72.6 990.1,74.5Q994.8,76.4 999.3,78.4Q1003.9,80.4 1008.4,82.6Q1012.9,84.8 1017.2,87.3Q1021.5,89.8 1025.5,92.9Q1029.5,95.9 1032.9,99.5Q1036.4,103.1 1039.4,107.1Q1042.5,111 1045,115.4L1047.5,119.7 M815.4,343.1Q806.5,338.6 802,336.4Q797.6,334.1 793.1,332Q788.6,329.8 784.2,327.4Q779.8,325 775.5,322.4Q771.2,319.8 767.2,316.9Q763.1,314 759.1,311Q755.1,308 751.2,304.9Q747.2,301.8 743.3,298.7Q739.4,295.6 735.6,292.4Q731.7,289.2 728,285.9Q724.2,282.6 720.5,279.3Q716.8,275.9 713.1,272.5Q709.5,269.1 705.8,265.7Q702.2,262.2 698.4,259Q694.5,255.8 690.6,252.7Q686.6,249.7 682.4,247Q678.2,244.2 673.9,241.6Q669.7,239.1 665.4,236.4Q661.2,233.8 657,231.1Q652.8,228.3 648.6,225.5Q644.5,222.8 640.5,219.8Q636.4,216.8 632.6,213.6Q628.7,210.5 625.3,206.9Q621.8,203.3 618.6,199.4Q615.5,195.5 612.6,191.4L609.7,187.3 M850.4,14.5Q841.9,9.3 837.6,6.7Q833.4,4 829.1,1.4Q824.8,-1.2 820.6,-3.8Q816.3,-6.5 812,-9Q807.7,-11.5 803.2,-13.7Q798.7,-15.9 794.1,-17.8Q789.5,-19.7 784.8,-21.5Q780.2,-23.4 775.4,-24.8Q770.6,-26.3 765.7,-27.4Q760.9,-28.5 755.9,-29.4Q751,-30.3 746.1,-31Q741.1,-31.8 736.2,-32.4Q731.2,-33.1 726.3,-33.9Q721.3,-34.6 716.4,-35.5Q711.5,-36.4 706.6,-37.2Q701.6,-38 696.7,-38.8Q691.8,-39.6 686.8,-40.3Q681.9,-41.1 676.9,-41.6Q671.9,-42.1 667,-42.8Q662,-43.5 657.2,-44.9Q652.4,-46.3 647.9,-48.6Q643.5,-50.8 639.4,-53.7Q635.4,-56.6 631.6,-59.9Q627.9,-63.2 624.2,-66.7Q620.6,-70.2 617.4,-74Q614.2,-77.8 611.4,-82Q608.6,-86.1 605.9,-90.3Q603.2,-94.5 600.8,-98.9Q598.5,-103.3 596.6,-108Q594.7,-112.6 593.4,-117.4Q592.1,-122.3 591.5,-127.2Q590.9,-132.2 590.3,-137.1Q589.7,-142.1 589,-147Q588.2,-152 587.3,-156.9Q586.5,-161.8 585.4,-166.7Q584.4,-171.6 583.6,-176.6L582.8,-181.5 M428.5,269.8Q419.9,275 415.4,277.2Q411,279.5 406.4,281.5Q401.8,283.6 397.1,285.1Q392.3,286.6 387.4,287.5Q382.5,288.4 377.5,289.2Q372.6,289.9 367.6,290.5Q362.6,291 357.7,291.5Q352.7,292 347.7,292.3Q342.7,292.6 337.7,292.8Q332.7,293.1 327.7,293.2Q322.7,293.4 317.7,293.7Q312.7,293.9 307.7,293.9Q302.7,293.9 297.7,293.6Q292.7,293.3 287.8,292.7Q282.8,292.1 277.9,291.1Q273,290.1 268.1,289Q263.2,288 258.3,287Q253.4,286.1 248.5,285.2Q243.6,284.3 238.7,283.4Q233.8,282.5 228.9,281.4Q224,280.2 219.2,278.7Q214.5,277.2 209.8,275.4Q205.1,273.7 200.6,271.6Q196,269.5 191.6,267.2Q187.1,265 182.6,262.8Q178.1,260.6 173.7,258.3Q169.2,256 164.8,253.7Q160.4,251.3 156,248.9Q151.6,246.5 147.3,244L143,241.5 M615.7,144.1Q610.8,135.4 608,131.3Q605.1,127.2 601.9,123.3Q598.8,119.4 595.2,116Q591.6,112.5 587.8,109.2Q584,105.9 580.4,102.5Q576.7,99.1 573.2,95.5Q569.8,91.9 566.6,88.1Q563.4,84.2 560.7,80Q558.1,75.8 555.8,71.3Q553.6,66.8 551.9,62.1Q550.3,57.4 549.2,52.5Q548.1,47.6 547.7,42.6Q547.2,37.6 547.1,32.7Q547,27.7 546.9,22.7Q546.9,17.7 546.7,12.7Q546.5,7.7 546.4,2.7Q546.3,-2.3 546.3,-7.3Q546.4,-12.3 546.4,-17.3Q546.4,-22.3 546.1,-27.3Q545.9,-32.3 545.3,-37.3Q544.7,-42.3 544.1,-47.2Q543.4,-52.2 542.7,-57.1Q542,-62.1 541.1,-67Q540.3,-71.9 539.2,-76.8Q538.1,-81.7 536.8,-86.5Q535.5,-91.3 534.4,-96.2Q533.3,-101.1 532.2,-106Q531,-110.8 529.8,-115.7Q528.6,-120.5 527.7,-125.5Q526.8,-130.4 526.3,-135.3Q525.8,-140.3 525.4,-145.3Q525,-150.3 524.9,-155.3Q524.8,-160.3 524.7,-165.3Q524.6,-170.3 524.5,-175.3Q524.5,-180.3 524,-185.3L523.5,-190.2 M626.2,182.3Q627.8,192.2 628.6,197.1Q629.5,202.1 630.2,207Q630.9,212 631.6,216.9Q632.2,221.9 632.8,226.8Q633.4,231.8 634,236.8Q634.7,241.7 635.6,246.6Q636.6,251.5 638,256.3Q639.4,261.1 641.3,265.8Q643.1,270.4 644.9,275.1Q646.7,279.7 648.2,284.5Q649.6,289.3 650.6,294.2Q651.7,299.1 652.8,304Q654,308.8 654.9,313.8Q655.8,318.7 656.3,323.6Q656.8,328.6 656.9,333.6Q657,338.6 656.7,343.6Q656.4,348.6 656,353.6Q655.7,358.6 655.3,363.6Q655,368.6 654.4,373.5Q653.8,378.5 652.7,383.4Q651.7,388.3 650.7,393.2Q649.7,398 648.9,403Q648.2,407.9 647.3,412.9Q646.5,417.8 645.8,422.7Q645,427.7 644.7,432.7Q644.4,437.7 644,442.7Q643.6,447.6 643.2,452.6Q642.8,457.6 642.6,462.6Q642.4,467.6 642,472.6Q641.7,477.6 641.6,482.6Q641.5,487.6 641.6,492.6L641.6,497.6 M661.9,100.7Q658.9,110.3 657.2,115Q655.4,119.6 653.2,124.1Q651,128.6 648.5,132.9Q646,137.3 643.1,141.4Q640.3,145.5 637.2,149.4Q634.1,153.3 630.6,156.9Q627.1,160.5 623.3,163.7Q619.4,166.9 615.4,169.9Q611.4,172.9 607.1,175.4Q602.8,177.9 598.4,180.4Q594.1,182.9 589.8,185.5Q585.5,188.1 581.4,190.9Q577.3,193.8 573.4,196.8Q569.4,199.9 565.8,203.4Q562.2,206.8 559,210.7Q555.9,214.6 553.6,219Q551.2,223.4 549.6,228.1Q547.9,232.9 547,237.8Q546.1,242.7 545.2,247.6L544.4,252.5 M771.8,93.7Q762.1,96.3 757.3,97.5Q752.4,98.7 747.7,100.4Q743,102.1 738.6,104.4Q734.1,106.7 729.9,109.4Q725.8,112.2 721.9,115.4Q718.1,118.6 714.4,122Q710.8,125.4 707.2,128.9Q703.7,132.5 700.2,136.1Q696.8,139.7 693.2,143.1Q689.6,146.6 685.9,150.1Q682.3,153.5 678.4,156.6Q674.5,159.7 670.2,162.3Q665.9,164.9 661.3,166.9Q656.8,168.9 651.9,170.2Q647.1,171.5 642.1,171.8Q637.1,172 632.2,170.9Q627.4,169.9 622.7,167.9Q618.1,166 614.1,163.1Q610,160.2 606.8,156.4Q603.5,152.6 601.2,148.1Q598.9,143.7 597.4,138.9Q596,134.1 595.2,129.2L594.5,124.2 M857.7,251.7Q863.7,243.7 866.6,239.7Q869.5,235.6 872.3,231.4Q875,227.3 877.6,223Q880.3,218.7 882.5,214.3Q884.8,209.8 886.8,205.3Q888.8,200.7 890.4,195.9Q892,191.2 893.4,186.4Q894.7,181.6 895.6,176.7Q896.6,171.8 897.1,166.8Q897.6,161.8 897.7,156.8Q897.7,151.8 897.4,146.8Q897,141.8 896.1,136.9Q895.2,132 893.8,127.2Q892.4,122.4 891,117.6Q889.6,112.8 888.1,108Q886.5,103.3 885,98.5Q883.5,93.7 882.2,88.9Q880.9,84.1 879.5,79.3Q878.2,74.5 877.1,69.6Q876,64.7 875.6,59.7Q875.3,54.7 875.4,49.7Q875.5,44.7 876.3,39.8Q877.2,34.9 878.5,30.1Q879.9,25.3 881.9,20.7Q883.9,16.1 886.1,11.6Q888.3,7.1 890.8,2.8Q893.3,-1.5 896.2,-5.6Q899,-9.8 901.8,-13.9Q904.6,-18.1 907.2,-22.3Q909.9,-26.5 912.2,-31Q914.5,-35.4 916.3,-40.1Q918.2,-44.7 919.7,-49.5L921.3,-54.2 M847.4,23.2Q855.1,29.6 858.9,32.8Q862.8,36 866.6,39.2Q870.4,42.4 874,46Q877.5,49.5 880.8,53.3Q884,57.1 887.1,61Q890.1,65 893.3,68.9Q896.4,72.8 899.8,76.4Q903.2,80.1 907,83.4Q910.7,86.7 914.7,89.7Q918.7,92.7 922.9,95.4Q927.1,98.2 931.2,101Q935.4,103.8 939.3,106.8Q943.3,109.9 946.9,113.4Q950.5,116.9 953.7,120.7Q957,124.5 960.1,128.4Q963.2,132.3 966.1,136.3Q969,140.4 971.8,144.6Q974.6,148.7 977.2,153Q979.8,157.2 982.3,161.6Q984.8,165.9 987.3,170.2Q989.8,174.5 992.6,178.7Q995.3,182.9 998.4,186.9Q1001.4,190.8 1004.8,194.5Q1008.2,198.2 1011.7,201.8Q1015.1,205.4 1018.7,208.9Q1022.3,212.3 1026,215.7Q1029.7,219.1 1033.4,222.4Q1037.1,225.8 1040.9,229.1Q1044.6,232.4 1048.4,235.7Q1052.1,239 1055.7,242.5Q1059.4,245.9 1063.2,249.2Q1067,252.4 1070.9,255.5Q1074.8,258.6 1078.8,261.6L1082.9,264.5 M540.3,194.9Q539.7,204.9 539.2,209.9Q538.7,214.8 538,219.8Q537.2,224.7 536.3,229.6Q535.3,234.5 534.1,239.4Q532.8,244.2 531.3,249Q529.9,253.8 528.6,258.6Q527.3,263.4 526,268.3Q524.8,273.1 523.8,278Q522.9,282.9 521.9,287.8Q520.9,292.7 519.6,297.6Q518.3,302.4 516.9,307.2Q515.4,312 513.7,316.7Q511.9,321.4 510.5,326.1Q509.1,330.9 507.5,335.7Q506,340.5 504.6,345.2Q503.1,350 501.6,354.8Q500,359.5 497.9,364.1Q495.8,368.6 493.5,373Q491.2,377.5 488.9,381.9Q486.5,386.3 484.1,390.7Q481.7,395.1 479.1,399.4Q476.6,403.7 474.2,408.1Q471.8,412.5 469.8,417Q467.8,421.6 465.8,426.2Q463.7,430.7 461.8,435.4Q459.9,440 457.9,444.6Q456,449.2 454.3,453.9Q452.6,458.6 451.3,463.4Q450,468.3 449.5,473.2Q448.9,478.2 448.9,483.2Q448.9,488.2 449.1,493.2Q449.3,498.2 449.6,503.2Q449.9,508.2 450.3,513.2Q450.7,518.1 451.2,523.1L451.7,528.1 M489,84Q496.5,77.3 500.2,74Q504,70.7 507.9,67.6Q511.8,64.4 515.7,61.3Q519.6,58.3 523.5,55.1Q527.4,52 530.9,48.4Q534.4,44.8 537.6,41Q540.8,37.2 543.9,33.2Q546.9,29.2 549.6,25Q552.3,20.8 554.4,16.3Q556.5,11.7 557.9,6.9Q559.4,2.1 559.8,-2.8Q560.2,-7.8 559.6,-12.8Q558.9,-17.7 557.5,-22.5Q556.1,-27.3 554.2,-32Q552.3,-36.6 550.2,-41.1Q548.1,-45.6 545.8,-50.1Q543.5,-54.5 541.1,-58.9Q538.7,-63.3 536.3,-67.7Q533.9,-72.1 531.6,-76.5Q529.3,-80.9 527.3,-85.5Q525.3,-90.1 523.6,-94.8Q521.9,-99.5 520.5,-104.3Q519,-109.1 517.9,-114Q516.8,-118.8 515.7,-123.7Q514.6,-128.6 513.5,-133.5Q512.3,-138.3 510.8,-143.1Q509.3,-147.9 507.3,-152.5Q505.3,-157.1 502.6,-161.2Q499.8,-165.4 496.4,-169Q493,-172.7 489.2,-176Q485.5,-179.3 481.5,-182.3Q477.5,-185.3 473.5,-188.3Q469.4,-191.2 465.4,-194.2Q461.4,-197.1 457.4,-200.1Q453.4,-203.1 449.1,-205.7Q444.8,-208.3 440.3,-210.5L435.8,-212.6 M675.7,115Q678.3,105.4 679.3,100.5Q680.4,95.6 681.3,90.7Q682.1,85.8 683,80.8Q683.9,75.9 684.6,71Q685.3,66 686,61.1Q686.8,56.1 688,51.3Q689.3,46.5 691,41.8Q692.7,37.1 694.7,32.5Q696.8,27.9 699.2,23.5Q701.5,19.1 703.9,14.7Q706.2,10.3 708.7,6Q711.2,1.6 713.9,-2.6Q716.5,-6.9 719.4,-10.9Q722.3,-15 725.6,-18.7Q728.9,-22.5 732.6,-25.9Q736.3,-29.3 740.2,-32.4Q744.1,-35.5 748.3,-38.2Q752.5,-41 757,-43.1Q761.5,-45.3 766.1,-47.2Q770.7,-49.1 775.4,-50.8Q780.1,-52.5 784.8,-54.2Q789.5,-55.9 794.3,-57.5Q799,-59.2 803.8,-60.6Q808.6,-62 813.4,-63.3Q818.3,-64.5 823.2,-65.4Q828.1,-66.3 833.1,-66.9Q838,-67.5 843,-68.1Q848,-68.6 852.9,-69.2Q857.9,-69.8 862.8,-70.7Q867.7,-71.7 872.6,-72.9Q877.4,-74.1 882.2,-75.5Q887,-77 891.7,-78.5Q896.5,-80 901.3,-81.3Q906.2,-82.6 911,-84Q915.8,-85.3 920.5,-86.9Q925.3,-88.6 930,-90.2L934.7,-91.9 M572,331.7Q572.5,341.7 572.9,346.6Q573.3,351.6 573.6,356.6Q574,361.6 574.1,366.6Q574.2,371.6 574,376.6Q573.7,381.6 573.2,386.5Q572.6,391.5 571.7,396.4Q570.7,401.3 569.2,406.1Q567.6,410.8 565.5,415.4Q563.5,419.9 560.8,424.1Q558.1,428.4 554.7,432Q551.3,435.7 547.1,438.5Q543,441.3 538.4,443.2Q533.8,445.2 528.9,446.4Q524.1,447.6 519.1,448.3Q514.2,448.9 509.2,449.3Q504.2,449.6 499.2,450Q494.2,450.4 489.2,450.9Q484.3,451.4 479.3,451.8Q474.3,452.2 469.3,452.6Q464.3,452.9 459.3,453.3Q454.3,453.7 449.4,454.1Q444.4,454.5 439.4,455.1Q434.4,455.7 429.5,456.4Q424.6,457.1 419.7,458.2Q414.8,459.3 410.1,460.9Q405.3,462.5 400.7,464.5Q396.1,466.4 391.7,468.7Q387.3,471.1 383.1,473.8Q378.9,476.6 375,479.7Q371.1,482.8 367.7,486.4Q364.2,490.1 361.6,494.4Q359,498.6 357.2,503.3Q355.4,507.9 354,512.7Q352.6,517.5 351.2,522.3Q349.8,527.1 348.3,531.9L346.7,536.7 M790.1,291.2Q790.3,301.2 790.6,306.2Q790.9,311.2 791.8,316.1Q792.8,321 794.4,325.7Q796.1,330.4 798.5,334.8Q800.9,339.2 803.8,343.2Q806.8,347.3 810.2,350.9Q813.6,354.5 817.1,358.1Q820.6,361.7 824.3,365.1Q828,368.4 831.8,371.7Q835.7,374.9 839.6,378Q843.5,381.1 847.4,384.2Q851.2,387.4 855,390.7Q858.7,394.1 862.5,397.3Q866.4,400.5 869.9,404Q873.5,407.5 876.9,411.1Q880.3,414.8 883.7,418.4Q887.1,422.1 890.8,425.5Q894.4,429 898.3,432.1Q902.2,435.2 906.5,437.8Q910.8,440.4 915.3,442.5Q919.9,444.6 924.6,446.2Q929.3,447.8 934.2,449Q939,450.3 944,451.1Q948.9,451.9 953.9,452.4Q958.8,452.8 963.8,453.5Q968.8,454.2 973.6,455.3Q978.5,456.4 983.3,457.9Q988,459.4 992.8,461Q997.5,462.6 1002.1,464.5Q1006.7,466.5 1011.3,468.4Q1016,470.3 1020.7,471.9Q1025.4,473.5 1030.2,475.1Q1034.9,476.7 1039.7,478.1Q1044.5,479.6 1049.2,481.3L1053.9,482.9 M857.4,316.8Q853.4,326 851.5,330.6Q849.5,335.2 847.9,340Q846.3,344.7 844.7,349.4Q843,354.2 841.5,358.9Q839.9,363.6 838,368.3Q836.2,372.9 834,377.4Q831.7,381.9 828.8,386Q825.9,390 822.4,393.6Q818.9,397.2 815,400.2Q811,403.3 807,406.2Q802.9,409.2 798.7,411.8Q794.5,414.5 790.2,417.1Q786,419.8 781.5,422.1Q777.1,424.4 772.6,426.6Q768.1,428.8 763.7,431.1Q759.2,433.4 754.8,435.7Q750.4,438 746,440.4Q741.6,442.8 737.2,445.2L732.8,447.6 M775.5,92.1Q769.6,83.9 766.4,80.1Q763.2,76.2 759.8,72.6Q756.4,69 752.9,65.4Q749.4,61.8 745.9,58.2Q742.4,54.6 739.2,50.8Q735.9,47 732.8,43.2Q729.6,39.3 726,35.8Q722.5,32.2 718.6,29.1Q714.7,26 710.7,22.9Q706.8,19.9 702.9,16.7Q699,13.5 695.2,10.4Q691.3,7.2 687.7,3.8Q684,0.4 680.4,-3.1Q676.9,-6.6 673.7,-10.5Q670.5,-14.3 667.5,-18.3Q664.6,-22.4 661.7,-26.5Q658.9,-30.6 656.3,-34.9Q653.7,-39.2 651.1,-43.4Q648.5,-47.7 645.8,-51.9Q643.1,-56.1 640.8,-60.6Q638.5,-65 636.5,-69.6Q634.5,-74.2 632.6,-78.8Q630.7,-83.4 628.8,-88.1Q626.9,-92.7 625,-97.3Q623.1,-101.9 621.1,-106.5Q619,-111.1 616.9,-115.6Q614.9,-120.1 613,-124.8Q611.1,-129.4 609.5,-134.1Q607.8,-138.8 606.5,-143.7Q605.2,-148.5 604.2,-153.4Q603.2,-158.3 602.6,-163.3L601.9,-168.2 M657.4,344Q650.8,336.5 647.5,332.7Q644.2,329 640.5,325.6Q636.7,322.3 632.8,319.3Q628.8,316.2 624.8,313.2Q620.8,310.3 616.8,307.3Q612.8,304.3 608.7,301.3Q604.7,298.4 600.4,295.8Q596.1,293.2 591.5,291.2Q587,289.2 582.2,287.8Q577.4,286.4 572.6,285Q567.8,283.6 562.9,282.5Q558,281.3 553.1,280.3Q548.2,279.4 543.3,278.2Q538.5,277.1 533.7,275.6Q528.9,274.2 524.2,272.4Q519.6,270.6 515,268.5Q510.5,266.4 506.3,263.7Q502.1,261 498.3,257.7Q494.5,254.5 491,250.9Q487.6,247.2 484.4,243.4Q481.2,239.6 478.1,235.6Q475,231.7 472,227.7Q468.9,223.8 465.7,220L462.4,216.2 M762.8,238.6Q759.9,229.1 758.4,224.3Q756.9,219.5 754.9,214.9Q752.9,210.4 750.5,206Q748.1,201.6 745.6,197.3Q743,193 740.2,188.9Q737.4,184.7 734.6,180.6Q731.8,176.4 729,172.3Q726.2,168.1 723.4,164Q720.6,159.8 717.6,155.9Q714.6,151.9 711.5,147.9Q708.5,144 705.5,139.9Q702.6,135.9 699.4,132Q696.3,128.1 692.9,124.4Q689.5,120.7 685.8,117.4Q682,114.1 678.1,111Q674.2,107.9 670,105.1Q665.9,102.3 661.5,99.9Q657.1,97.5 652.7,95.3Q648.2,93 643.8,90.7Q639.4,88.4 634.9,86Q630.5,83.6 626.2,81.2Q621.8,78.7 617.5,76.2Q613.2,73.7 608.9,71.1Q604.6,68.6 600.4,65.8L596.2,63.1 M472.4,345.7Q478.5,337.8 481.5,333.8Q484.5,329.8 487.4,325.7Q490.3,321.6 493.1,317.5Q495.9,313.3 498.7,309.2Q501.6,305.1 504.3,300.9Q507.1,296.7 509.9,292.6Q512.7,288.5 515.7,284.5Q518.7,280.5 521.8,276.5Q524.8,272.5 527.7,268.4Q530.5,264.3 533.4,260.2Q536.2,256.1 539.1,252Q542,248 544.9,243.9Q547.8,239.8 550.8,235.8Q553.7,231.8 556.5,227.6Q559.2,223.4 561.5,219Q563.9,214.5 565.9,210Q568,205.5 569.7,200.7Q571.4,196 572.8,191.2Q574.2,186.4 575.3,181.6Q576.4,176.7 577.5,171.8Q578.7,166.9 579.6,162Q580.6,157.1 581.5,152.2Q582.5,147.3 583.5,142.4Q584.4,137.5 585.2,132.6Q585.9,127.6 586,122.6L586.2,117.6 M591.1,326.2Q601,324.8 606,324Q610.9,323.1 615.8,322.2Q620.8,321.4 625.7,320.6Q630.6,319.7 635.5,318.7Q640.4,317.7 645.2,316.4Q650.1,315.2 654.7,313.3Q659.3,311.3 663.6,308.7Q667.8,306.1 671.5,302.8Q675.3,299.4 678.2,295.4Q681.2,291.4 683.6,287Q686,282.6 688,278Q689.9,273.4 691.9,268.8Q693.8,264.2 695.2,259.4Q696.6,254.6 697.3,249.6Q698,244.7 698.1,239.7Q698.1,234.7 697.9,229.7Q697.6,224.7 697.4,219.7Q697.2,214.7 697,209.7Q696.8,204.7 696.6,199.7Q696.5,194.7 696.2,189.7Q695.9,184.7 695.4,179.8Q694.9,174.8 694.1,169.8Q693.3,164.9 691.8,160.2Q690.2,155.4 688.4,150.7Q686.6,146.1 684.8,141.4Q683,136.7 681.7,131.9Q680.4,127.1 679.6,122.2Q678.9,117.2 678.8,112.2Q678.7,107.2 679.3,102.2Q679.9,97.3 680.7,92.3Q681.4,87.4 682.1,82.4Q682.7,77.5 683.5,72.5L684.2,67.6 M760.5,273.2Q751.7,268.6 747.1,266.6Q742.5,264.6 737.6,263.5Q732.8,262.3 727.8,262.1Q722.8,261.9 717.8,262.1Q712.8,262.3 707.8,262.7Q702.8,263 697.8,263.5Q692.9,264.1 687.9,264.5Q682.9,264.9 677.9,265Q672.9,265.2 667.9,265.1Q662.9,265.1 657.9,265.1Q652.9,265.2 647.9,265.5Q642.9,265.8 638,266.3Q633,266.9 628.1,267.7Q623.1,268.5 618.3,269.8Q613.5,271.1 608.9,273.2Q604.3,275.2 600.1,277.9Q595.9,280.5 592,283.7Q588.2,287 584.7,290.6Q581.3,294.2 578.3,298.2L575.3,302.1 M692.1,173.1Q682.1,172.2 677.1,172.4Q672.1,172.6 667.2,173.6Q662.3,174.5 657.5,175.7Q652.6,177 647.8,178.3Q643,179.5 638.1,180.8Q633.3,182 628.4,183.4Q623.6,184.7 618.9,186.4Q614.2,188.1 609.6,190Q605,192 600.5,194.2Q596.1,196.4 591.7,199Q587.4,201.5 583.1,204.1Q578.9,206.6 574.6,209.3Q570.4,211.9 566.2,214.6Q562,217.3 557.9,220.3Q553.9,223.3 549.9,226.2Q545.8,229.2 541.7,232Q537.6,234.9 533.4,237.6Q529.2,240.2 524.7,242.4Q520.2,244.6 515.6,246.7Q511.1,248.8 506.5,250.8Q502,252.9 497.4,254.8Q492.7,256.7 488,258.3Q483.3,260 478.5,261.5Q473.7,262.9 468.9,264.1Q464,265.2 459.2,266.5Q454.3,267.8 449.5,269.2Q444.7,270.6 439.9,271.8Q435,273 430.2,274.2Q425.3,275.3 420.4,276.4Q415.5,277.5 410.6,278.3Q405.7,279.2 400.8,280.3Q395.9,281.4 391.1,282.6Q386.2,283.8 381.3,284.7Q376.4,285.7 371.5,286.5Q366.5,287.3 361.6,288.1Q356.7,289 351.7,289.8L346.8,290.6 M563.8,166.6Q567.4,157.3 568.6,152.4Q569.9,147.6 570.2,142.6Q570.6,137.6 570.2,132.6Q569.9,127.6 569.1,122.7Q568.4,117.8 567.2,112.9Q566.1,108 564.5,103.3Q563,98.5 561.3,93.8Q559.6,89.1 557.8,84.4Q556,79.8 553.9,75.3Q551.7,70.7 549.4,66.3Q547.1,61.9 544.9,57.4Q542.7,52.9 540.1,48.6Q537.6,44.3 534.7,40.2Q531.9,36.1 528.7,32.2Q525.5,28.4 521.9,24.9Q518.3,21.4 514.6,18Q510.9,14.7 507.2,11.3Q503.5,8 500.1,4.3Q496.7,0.7 493.6,-3.3Q490.6,-7.2 487.7,-11.3Q484.9,-15.4 482.1,-19.6Q479.3,-23.7 476.7,-28Q474.1,-32.3 471.6,-36.6Q469.1,-40.9 466.6,-45.3Q464.2,-49.7 461.7,-54Q459.3,-58.4 456.8,-62.7Q454.3,-67 451.9,-71.4L449.4,-75.8" fill="none" stroke-linecap="round" stroke-linejoin="round" stroke="#e6e6e6" stroke-width="0.72" opacity="0.6" transform="translate(-0.5 -0.5)"/>
<circle cx="624.7" cy="207.9" r="4.8" fill="#bcbcbc" stroke="#3e3e3e" stroke-width="1.8"/>
<circle cx="623.9" cy="207.1" r="6.0" fill="none" stroke="#e4e4e4" stroke-width="0.8" opacity="0.7"/>
<circle cx="707.2" cy="186.9" r="4.8" fill="#bcbcbc" stroke="#3e3e3e" stroke-width="1.8"/>
<circle cx="706.4" cy="186.1" r="6.0" fill="none" stroke="#e4e4e4" stroke-width="0.8" opacity="0.7"/>
<circle cx="464.3" cy="128.4" r="4.8" fill="#bcbcbc" stroke="#3e3e3e" stroke-width="1.8"/>
<circle cx="463.5" cy="127.6" r="6.0" fill="none" stroke="#e4e4e4" stroke-width="0.8" opacity="0.7"/>
<circle cx="688.0" cy="114.7" r="4.8" fill="#bcbcbc" stroke="#3e3e3e" stroke-width="1.8"/>
<circle cx="687.2" cy="113.9" r="6.0" fill="none" stroke="#e4e4e4" stroke-width="0.8" opacity="0.7"/>
<circle cx="746.8" cy="123.6" r="4.8" fill="#bcbcbc" stroke="#3e3e3e" stroke-width="1.8"/>
<circle cx="746.0" cy="122.8" r="6.0" fill="none" stroke="#e4e4e4" stroke-width="0.8" opacity="0.7"/>
<circle cx="681.9" cy="225.0" r="4.8" fill="#bcbcbc" stroke="#3e3e3e" stroke-width="1.8"/>
<circle cx="681.1" cy="224.2" r="6.0" fill="none" stroke="#e4e4e4" stroke-width="0.8" opacity="0.7"/>
<circle cx="615.2" cy="294.0" r="4.8" fill="#bcbcbc" stroke="#3e3e3e" stroke-width="1.8"/>
<circle cx="614.4" cy="293.2" r="6.0" fill="none" stroke="#e4e4e4" stroke-width="0.8" opacity="0.7"/>
<circle cx="794.9" cy="253.2" r="4.8" fill="#bcbcbc" stroke="#3e3e3e" stroke-width="1.8"/>
<circle cx="794.1" cy="252.4" r="6.0" fill="none" stroke="#e4e4e4" stroke-width="0.8" opacity="0.7"/>
<circle cx="777.8" cy="208.9" r="4.8" fill="#bcbcbc" stroke="#3e3e3e" stroke-width="1.8"/>
<circle cx="777.0" cy="208.1" r="6.0" fill="none" stroke="#e4e4e4" stroke-width="0.8" opacity="0.7"/>
<circle cx="611.2" cy="288.4" r="4.8" fill="#bcbcbc" stroke="#3e3e3e" stroke-width="1.8"/>
<circle cx="610.4" cy="287.6" r="6.0" fill="none" stroke="#e4e4e4" stroke-width="0.8" opacity="0.7"/>
<circle cx="667.6" cy="189.7" r="4.8" fill="#bcbcbc" stroke="#3e3e3e" stroke-width="1.8"/>
<circle cx="666.8" cy="188.9" r="6.0" fill="none" stroke="#e4e4e4" stroke-width="0.8" opacity="0.7"/>
<circle cx="800.9" cy="294.0" r="4.8" fill="#bcbcbc" stroke="#3e3e3e" stroke-width="1.8"/>
<circle cx="800.1" cy="293.2" r="6.0" fill="none" stroke="#e4e4e4" stroke-width="0.8" opacity="0.7"/>
<circle cx="543.1" cy="199.0" r="4.8" fill="#bcbcbc" stroke="#3e3e3e" stroke-width="1.8"/>
<circle cx="542.3" cy="198.2" r="6.0" fill="none" stroke="#e4e4e4" stroke-width="0.8" opacity="0.7"/>
<circle cx="599.1" cy="173.6" r="4.8" fill="#bcbcbc" stroke="#3e3e3e" stroke-width="1.8"/>
<circle cx="598.3" cy="172.8" r="6.0" fill="none" stroke="#e4e4e4" stroke-width="0.8" opacity="0.7"/>
<circle cx="793.6" cy="219.4" r="4.8" fill="#bcbcbc" stroke="#3e3e3e" stroke-width="1.8"/>
<circle cx="792.8" cy="218.6" r="6.0" fill="none" stroke="#e4e4e4" stroke-width="0.8" opacity="0.7"/>
<circle cx="701.4" cy="81.3" r="4.8" fill="#bcbcbc" stroke="#3e3e3e" stroke-width="1.8"/>
<circle cx="700.6" cy="80.5" r="6.0" fill="none" stroke="#e4e4e4" stroke-width="0.8" opacity="0.7"/>
<circle cx="758.9" cy="275.0" r="4.8" fill="#bcbcbc" stroke="#3e3e3e" stroke-width="1.8"/>
<circle cx="758.1" cy="274.2" r="6.0" fill="none" stroke="#e4e4e4" stroke-width="0.8" opacity="0.7"/>
<circle cx="779.7" cy="89.6" r="4.8" fill="#bcbcbc" stroke="#3e3e3e" stroke-width="1.8"/>
<circle cx="778.9" cy="88.8" r="6.0" fill="none" stroke="#e4e4e4" stroke-width="0.8" opacity="0.7"/>
<circle cx="794.0" cy="135.9" r="4.8" fill="#bcbcbc" stroke="#3e3e3e" stroke-width="1.8"/>
<circle cx="793.2" cy="135.1" r="6.0" fill="none" stroke="#e4e4e4" stroke-width="0.8" opacity="0.7"/>
<circle cx="560.9" cy="260.6" r="4.8" fill="#bcbcbc" stroke="#3e3e3e" stroke-width="1.8"/>
<circle cx="560.1" cy="259.8" r="6.0" fill="none" stroke="#e4e4e4" stroke-width="0.8" opacity="0.7"/>
<circle cx="536.2" cy="293.0" r="4.8" fill="#bcbcbc" stroke="#3e3e3e" stroke-width="1.8"/>
<circle cx="535.4" cy="292.2" r="6.0" fill="none" stroke="#e4e4e4" stroke-width="0.8" opacity="0.7"/>
<circle cx="797.3" cy="251.4" r="4.8" fill="#bcbcbc" stroke="#3e3e3e" stroke-width="1.8"/>
<circle cx="796.5" cy="250.6" r="6.0" fill="none" stroke="#e4e4e4" stroke-width="0.8" opacity="0.7"/>
<circle cx="698.8" cy="195.9" r="4.8" fill="#bcbcbc" stroke="#3e3e3e" stroke-width="1.8"/>
<circle cx="698.0" cy="195.1" r="6.0" fill="none" stroke="#e4e4e4" stroke-width="0.8" opacity="0.7"/>
<circle cx="544.0" cy="138.4" r="4.8" fill="#bcbcbc" stroke="#3e3e3e" stroke-width="1.8"/>
<circle cx="543.2" cy="137.6" r="6.0" fill="none" stroke="#e4e4e4" stroke-width="0.8" opacity="0.7"/>
<circle cx="520.8" cy="26.3" r="4.8" fill="#bcbcbc" stroke="#3e3e3e" stroke-width="1.8"/>
<circle cx="520.0" cy="25.5" r="6.0" fill="none" stroke="#e4e4e4" stroke-width="0.8" opacity="0.7"/>
<circle cx="812.4" cy="145.6" r="4.8" fill="#bcbcbc" stroke="#3e3e3e" stroke-width="1.8"/>
<circle cx="811.6" cy="144.8" r="6.0" fill="none" stroke="#e4e4e4" stroke-width="0.8" opacity="0.7"/>
<circle cx="700.2" cy="208.2" r="4.8" fill="#bcbcbc" stroke="#3e3e3e" stroke-width="1.8"/>
<circle cx="699.4" cy="207.4" r="6.0" fill="none" stroke="#e4e4e4" stroke-width="0.8" opacity="0.7"/>
<circle cx="484.7" cy="252.6" r="4.8" fill="#bcbcbc" stroke="#3e3e3e" stroke-width="1.8"/>
<circle cx="483.9" cy="251.8" r="6.0" fill="none" stroke="#e4e4e4" stroke-width="0.8" opacity="0.7"/>
<circle cx="836.0" cy="100.0" r="4.8" fill="#bcbcbc" stroke="#3e3e3e" stroke-width="1.8"/>
<circle cx="835.2" cy="99.2" r="6.0" fill="none" stroke="#e4e4e4" stroke-width="0.8" opacity="0.7"/>
<circle cx="864.0" cy="82.8" r="4.8" fill="#bcbcbc" stroke="#3e3e3e" stroke-width="1.8"/>
<circle cx="863.2" cy="82.0" r="6.0" fill="none" stroke="#e4e4e4" stroke-width="0.8" opacity="0.7"/>
<circle cx="657.6" cy="295.4" r="4.8" fill="#bcbcbc" stroke="#3e3e3e" stroke-width="1.8"/>
<circle cx="656.8" cy="294.6" r="6.0" fill="none" stroke="#e4e4e4" stroke-width="0.8" opacity="0.7"/>
<circle cx="488.8" cy="134.6" r="4.8" fill="#bcbcbc" stroke="#3e3e3e" stroke-width="1.8"/>
<circle cx="488.0" cy="133.8" r="6.0" fill="none" stroke="#e4e4e4" stroke-width="0.8" opacity="0.7"/>
<circle cx="687.1" cy="337.9" r="4.8" fill="#bcbcbc" stroke="#3e3e3e" stroke-width="1.8"/>
<circle cx="686.3" cy="337.1" r="6.0" fill="none" stroke="#e4e4e4" stroke-width="0.8" opacity="0.7"/>
<circle cx="612.5" cy="298.9" r="4.8" fill="#bcbcbc" stroke="#3e3e3e" stroke-width="1.8"/>
<circle cx="611.7" cy="298.1" r="6.0" fill="none" stroke="#e4e4e4" stroke-width="0.8" opacity="0.7"/>
<circle cx="862.0" cy="150.3" r="4.8" fill="#bcbcbc" stroke="#3e3e3e" stroke-width="1.8"/>
<circle cx="861.2" cy="149.5" r="6.0" fill="none" stroke="#e4e4e4" stroke-width="0.8" opacity="0.7"/>
<circle cx="580.2" cy="199.5" r="4.8" fill="#bcbcbc" stroke="#3e3e3e" stroke-width="1.8"/>
<circle cx="579.4" cy="198.7" r="6.0" fill="none" stroke="#e4e4e4" stroke-width="0.8" opacity="0.7"/>
<circle cx="815.4" cy="343.1" r="4.8" fill="#bcbcbc" stroke="#3e3e3e" stroke-width="1.8"/>
<circle cx="814.6" cy="342.3" r="6.0" fill="none" stroke="#e4e4e4" stroke-width="0.8" opacity="0.7"/>
<circle cx="428.5" cy="269.8" r="4.8" fill="#bcbcbc" stroke="#3e3e3e" stroke-width="1.8"/>
<circle cx="427.7" cy="269.0" r="6.0" fill="none" stroke="#e4e4e4" stroke-width="0.8" opacity="0.7"/>
<circle cx="626.2" cy="182.3" r="4.8" fill="#bcbcbc" stroke="#3e3e3e" stroke-width="1.8"/>
<circle cx="625.4" cy="181.5" r="6.0" fill="none" stroke="#e4e4e4" stroke-width="0.8" opacity="0.7"/>
<circle cx="661.9" cy="100.7" r="4.8" fill="#bcbcbc" stroke="#3e3e3e" stroke-width="1.8"/>
<circle cx="661.1" cy="99.9" r="6.0" fill="none" stroke="#e4e4e4" stroke-width="0.8" opacity="0.7"/>
<circle cx="857.7" cy="251.7" r="4.8" fill="#bcbcbc" stroke="#3e3e3e" stroke-width="1.8"/>
<circle cx="856.9" cy="250.9" r="6.0" fill="none" stroke="#e4e4e4" stroke-width="0.8" opacity="0.7"/>
<circle cx="489.0" cy="84.0" r="4.8" fill="#bcbcbc" stroke="#3e3e3e" stroke-width="1.8"/>
<circle cx="488.2" cy="83.2" r="6.0" fill="none" stroke="#e4e4e4" stroke-width="0.8" opacity="0.7"/>
<circle cx="675.7" cy="115.0" r="4.8" fill="#bcbcbc" stroke="#3e3e3e" stroke-width="1.8"/>
<circle cx="674.9" cy="114.2" r="6.0" fill="none" stroke="#e4e4e4" stroke-width="0.8" opacity="0.7"/>
<circle cx="572.0" cy="331.7" r="4.8" fill="#bcbcbc" stroke="#3e3e3e" stroke-width="1.8"/>
<circle cx="571.2" cy="330.9" r="6.0" fill="none" stroke="#e4e4e4" stroke-width="0.8" opacity="0.7"/>
<circle cx="790.1" cy="291.2" r="4.8" fill="#bcbcbc" stroke="#3e3e3e" stroke-width="1.8"/>
<circle cx="789.3" cy="290.4" r="6.0" fill="none" stroke="#e4e4e4" stroke-width="0.8" opacity="0.7"/>
<circle cx="857.4" cy="316.8" r="4.8" fill="#bcbcbc" stroke="#3e3e3e" stroke-width="1.8"/>
<circle cx="856.6" cy="316.0" r="6.0" fill="none" stroke="#e4e4e4" stroke-width="0.8" opacity="0.7"/>
<circle cx="775.5" cy="92.1" r="4.8" fill="#bcbcbc" stroke="#3e3e3e" stroke-width="1.8"/>
<circle cx="774.7" cy="91.3" r="6.0" fill="none" stroke="#e4e4e4" stroke-width="0.8" opacity="0.7"/>
<circle cx="657.4" cy="344.0" r="4.8" fill="#bcbcbc" stroke="#3e3e3e" stroke-width="1.8"/>
<circle cx="656.6" cy="343.2" r="6.0" fill="none" stroke="#e4e4e4" stroke-width="0.8" opacity="0.7"/>
<circle cx="762.8" cy="238.6" r="4.8" fill="#bcbcbc" stroke="#3e3e3e" stroke-width="1.8"/>
<circle cx="762.0" cy="237.8" r="6.0" fill="none" stroke="#e4e4e4" stroke-width="0.8" opacity="0.7"/>
<circle cx="472.4" cy="345.7" r="4.8" fill="#bcbcbc" stroke="#3e3e3e" stroke-width="1.8"/>
<circle cx="471.6" cy="344.9" r="6.0" fill="none" stroke="#e4e4e4" stroke-width="0.8" opacity="0.7"/>
<circle cx="760.5" cy="273.2" r="4.8" fill="#bcbcbc" stroke="#3e3e3e" stroke-width="1.8"/>
<circle cx="759.7" cy="272.4" r="6.0" fill="none" stroke="#e4e4e4" stroke-width="0.8" opacity="0.7"/>
<circle cx="692.1" cy="173.1" r="4.8" fill="#bcbcbc" stroke="#3e3e3e" stroke-width="1.8"/>
<circle cx="691.3" cy="172.3" r="6.0" fill="none" stroke="#e4e4e4" stroke-width="0.8" opacity="0.7"/>
</g>
<rect x="462.6" y="41.2" width="366.0" height="291.5" fill="none" stroke="#111" stroke-width="2.2"/>
<defs><clipPath id="m2"><rect x="842.5" y="41.2" width="366" height="291.5"/></clipPath><linearGradient id="m2g" x1="0" y1="0" x2="1" y2="0"><stop offset="0" stop-color="#bababa"/><stop offset="1" stop-color="#b0b0b0"/></linearGradient><radialGradient id="m2v" cx="0.5" cy="0.5" r="0.75"><stop offset="0.55" stop-color="#000" stop-opacity="0"/><stop offset="1" stop-color="#000" stop-opacity="0.15"/></radialGradient></defs>
<g clip-path="url(#m2)">
<rect x="842.5" y="41.2" width="366.0" height="291.5" fill="url(#m2g)"/>
<rect x="842.5" y="41.2" width="366.0" height="291.5" fill="url(#m2v)"/>
<path d="M844.6,65.1L859.4,73.1 M894.8,84.5Q900.5,94.8 903.4,101.1L906.2,107.4 M901.6,85.7Q910.8,78.8 915.3,77.1Q919.9,75.4 925.6,76Q931.3,76.5 935.3,78.8L939.3,81.1 M935.9,53.7Q938.2,60.5 939.3,62.8L940.5,65.1 M999.8,45.7L1018.1,44.6 M1182.5,44.6Q1183.6,51.4 1184.2,54.8L1184.7,58.3 M1166.5,86.8L1175.6,86.8 M1098,110.8L1104.8,115.3 M1136.8,108.5L1143.7,106.2 M910.8,140.5Q919.9,138.2 924.5,138.2L929,138.2 M935.9,177Q951.9,172.4 956.4,167.9L961,163.3 M981.6,167.9Q999.8,164.4 1006.7,162.7Q1013.5,161 1020.4,161Q1027.2,161 1031.8,165.6L1036.3,170.1 M1157.4,151.9Q1158.5,164.4 1158.5,170.7L1158.5,177 M1150.5,174.7Q1134.5,173.6 1128.8,179.8Q1123.1,186.1 1122,193Q1120.8,199.8 1123.1,210.1L1125.4,220.4 M1107.1,220.4Q1109.4,229.5 1114,230.6L1118.5,231.8 M1191.6,193L1187,202.1 M1027.2,199.8Q1031.8,193 1034.1,190.7L1036.3,188.4 M849.1,211.2L858.3,202.1 M874.2,215.8Q883.4,214.7 887.9,214.1L892.5,213.5 M897.1,208.9Q896.6,218.1 896.3,222.6L895.9,227.2 M880,229.5Q885.7,232.9 889.1,233.5L892.5,234.1 M887.9,248.9L897.1,246.6 M894.8,260.3Q906.2,261.5 911.9,262L917.6,262.6 M933.6,253.5L945,251.2 M949.6,235.2Q959.9,234.5 965,234.3L970.1,234.1 M1034.1,256.9Q1039.8,263.7 1042.6,267.2L1045.5,270.6 M1004.4,263.7Q1008.9,277.4 1014.7,280.9Q1020.4,284.3 1026.1,286L1031.8,287.7 M954.2,286.6Q967.9,282 977,282L986.1,282 M951.9,291.1L950.7,298 M966.7,298L966.7,309.4 M1066,239.8L1075.2,243.2 M1164.2,262.6L1173.3,259.2 M867.4,318.5Q885.7,325.4 893.7,327.7L901.6,330 M1056.9,275.2L1063.7,277.4 M1077.4,114.2L1084.3,118.8" fill="none" stroke-linecap="round" stroke-linejoin="round" stroke="#4a4a4a" stroke-width="6.40" opacity="0.8"/>
<path d="M844.6,65.1L859.4,73.1 M894.8,84.5Q900.5,94.8 903.4,101.1L906.2,107.4 M901.6,85.7Q910.8,78.8 915.3,77.1Q919.9,75.4 925.6,76Q931.3,76.5 935.3,78.8L939.3,81.1 M935.9,53.7Q938.2,60.5 939.3,62.8L940.5,65.1 M999.8,45.7L1018.1,44.6 M1182.5,44.6Q1183.6,51.4 1184.2,54.8L1184.7,58.3 M1166.5,86.8L1175.6,86.8 M1098,110.8L1104.8,115.3 M1136.8,108.5L1143.7,106.2 M910.8,140.5Q919.9,138.2 924.5,138.2L929,138.2 M935.9,177Q951.9,172.4 956.4,167.9L961,163.3 M981.6,167.9Q999.8,164.4 1006.7,162.7Q1013.5,161 1020.4,161Q1027.2,161 1031.8,165.6L1036.3,170.1 M1157.4,151.9Q1158.5,164.4 1158.5,170.7L1158.5,177 M1150.5,174.7Q1134.5,173.6 1128.8,179.8Q1123.1,186.1 1122,193Q1120.8,199.8 1123.1,210.1L1125.4,220.4 M1107.1,220.4Q1109.4,229.5 1114,230.6L1118.5,231.8 M1191.6,193L1187,202.1 M1027.2,199.8Q1031.8,193 1034.1,190.7L1036.3,188.4 M849.1,211.2L858.3,202.1 M874.2,215.8Q883.4,214.7 887.9,214.1L892.5,213.5 M897.1,208.9Q896.6,218.1 896.3,222.6L895.9,227.2 M880,229.5Q885.7,232.9 889.1,233.5L892.5,234.1 M887.9,248.9L897.1,246.6 M894.8,260.3Q906.2,261.5 911.9,262L917.6,262.6 M933.6,253.5L945,251.2 M949.6,235.2Q959.9,234.5 965,234.3L970.1,234.1 M1034.1,256.9Q1039.8,263.7 1042.6,267.2L1045.5,270.6 M1004.4,263.7Q1008.9,277.4 1014.7,280.9Q1020.4,284.3 1026.1,286L1031.8,287.7 M954.2,286.6Q967.9,282 977,282L986.1,282 M951.9,291.1L950.7,298 M966.7,298L966.7,309.4 M1066,239.8L1075.2,243.2 M1164.2,262.6L1173.3,259.2 M867.4,318.5Q885.7,325.4 893.7,327.7L901.6,330 M1056.9,275.2L1063.7,277.4 M1077.4,114.2L1084.3,118.8" fill="none" stroke-linecap="round" stroke-linejoin="round" stroke="#d2d2d2" stroke-width="2.88" opacity="0.95"/>
<path d="M844.6,65.1L859.4,73.1 M894.8,84.5Q900.5,94.8 903.4,101.1L906.2,107.4 M901.6,85.7Q910.8,78.8 915.3,77.1Q919.9,75.4 925.6,76Q931.3,76.5 935.3,78.8L939.3,81.1 M935.9,53.7Q938.2,60.5 939.3,62.8L940.5,65.1 M999.8,45.7L1018.1,44.6 M1182.5,44.6Q1183.6,51.4 1184.2,54.8L1184.7,58.3 M1166.5,86.8L1175.6,86.8 M1098,110.8L1104.8,115.3 M1136.8,108.5L1143.7,106.2 M910.8,140.5Q919.9,138.2 924.5,138.2L929,138.2 M935.9,177Q951.9,172.4 956.4,167.9L961,163.3 M981.6,167.9Q999.8,164.4 1006.7,162.7Q1013.5,161 1020.4,161Q1027.2,161 1031.8,165.6L1036.3,170.1 M1157.4,151.9Q1158.5,164.4 1158.5,170.7L1158.5,177 M1150.5,174.7Q1134.5,173.6 1128.8,179.8Q1123.1,186.1 1122,193Q1120.8,199.8 1123.1,210.1L1125.4,220.4 M1107.1,220.4Q1109.4,229.5 1114,230.6L1118.5,231.8 M1191.6,193L1187,202.1 M1027.2,199.8Q1031.8,193 1034.1,190.7L1036.3,188.4 M849.1,211.2L858.3,202.1 M874.2,215.8Q883.4,214.7 887.9,214.1L892.5,213.5 M897.1,208.9Q896.6,218.1 896.3,222.6L895.9,227.2 M880,229.5Q885.7,232.9 889.1,233.5L892.5,234.1 M887.9,248.9L897.1,246.6 M894.8,260.3Q906.2,261.5 911.9,262L917.6,262.6 M933.6,253.5L945,251.2 M949.6,235.2Q959.9,234.5 965,234.3L970.1,234.1 M1034.1,256.9Q1039.8,263.7 1042.6,267.2L1045.5,270.6 M1004.4,263.7Q1008.9,277.4 1014.7,280.9Q1020.4,284.3 1026.1,286L1031.8,287.7 M954.2,286.6Q967.9,282 977,282L986.1,282 M951.9,291.1L950.7,298 M966.7,298L966.7,309.4 M1066,239.8L1075.2,243.2 M1164.2,262.6L1173.3,259.2 M867.4,318.5Q885.7,325.4 893.7,327.7L901.6,330 M1056.9,275.2L1063.7,277.4 M1077.4,114.2L1084.3,118.8" fill="none" stroke-linecap="round" stroke-linejoin="round" stroke="#f0f0f0" stroke-width="1.28" opacity="0.6" transform="translate(-0.5 -0.5)"/>
<circle cx="935.9" cy="62.8" r="4.7" fill="#bcbcbc" stroke="#3e3e3e" stroke-width="1.8"/>
<circle cx="935.1" cy="62.0" r="5.9" fill="none" stroke="#e4e4e4" stroke-width="0.8" opacity="0.7"/>
<circle cx="946.2" cy="50.3" r="4.7" fill="#bcbcbc" stroke="#3e3e3e" stroke-width="1.8"/>
<circle cx="945.4" cy="49.5" r="5.9" fill="none" stroke="#e4e4e4" stroke-width="0.8" opacity="0.7"/>
<circle cx="910.8" cy="91.4" r="4.7" fill="#bcbcbc" stroke="#3e3e3e" stroke-width="1.8"/>
<circle cx="910.0" cy="90.6" r="5.9" fill="none" stroke="#e4e4e4" stroke-width="0.8" opacity="0.7"/>
<circle cx="1166.5" cy="86.8" r="4.7" fill="#bcbcbc" stroke="#3e3e3e" stroke-width="1.8"/>
<circle cx="1165.7" cy="86.0" r="5.9" fill="none" stroke="#e4e4e4" stroke-width="0.8" opacity="0.7"/>
<circle cx="1200.7" cy="101.6" r="4.7" fill="#bcbcbc" stroke="#3e3e3e" stroke-width="1.8"/>
<circle cx="1199.9" cy="100.8" r="5.9" fill="none" stroke="#e4e4e4" stroke-width="0.8" opacity="0.7"/>
<circle cx="1077.4" cy="114.2" r="4.7" fill="#bcbcbc" stroke="#3e3e3e" stroke-width="1.8"/>
<circle cx="1076.6" cy="113.4" r="5.9" fill="none" stroke="#e4e4e4" stroke-width="0.8" opacity="0.7"/>
<circle cx="1098.0" cy="110.8" r="4.7" fill="#bcbcbc" stroke="#3e3e3e" stroke-width="1.8"/>
<circle cx="1097.2" cy="110.0" r="5.9" fill="none" stroke="#e4e4e4" stroke-width="0.8" opacity="0.7"/>
<circle cx="1136.8" cy="108.5" r="4.7" fill="#bcbcbc" stroke="#3e3e3e" stroke-width="1.8"/>
<circle cx="1136.0" cy="107.7" r="5.9" fill="none" stroke="#e4e4e4" stroke-width="0.8" opacity="0.7"/>
<circle cx="851.4" cy="132.5" r="4.7" fill="#bcbcbc" stroke="#3e3e3e" stroke-width="1.8"/>
<circle cx="850.6" cy="131.7" r="5.9" fill="none" stroke="#e4e4e4" stroke-width="0.8" opacity="0.7"/>
<circle cx="910.8" cy="140.5" r="4.7" fill="#bcbcbc" stroke="#3e3e3e" stroke-width="1.8"/>
<circle cx="910.0" cy="139.7" r="5.9" fill="none" stroke="#e4e4e4" stroke-width="0.8" opacity="0.7"/>
<circle cx="1010.1" cy="140.5" r="4.7" fill="#bcbcbc" stroke="#3e3e3e" stroke-width="1.8"/>
<circle cx="1009.3" cy="139.7" r="5.9" fill="none" stroke="#e4e4e4" stroke-width="0.8" opacity="0.7"/>
<circle cx="982.7" cy="153.0" r="4.7" fill="#bcbcbc" stroke="#3e3e3e" stroke-width="1.8"/>
<circle cx="981.9" cy="152.2" r="5.9" fill="none" stroke="#e4e4e4" stroke-width="0.8" opacity="0.7"/>
<circle cx="878.8" cy="158.7" r="4.7" fill="#bcbcbc" stroke="#3e3e3e" stroke-width="1.8"/>
<circle cx="878.0" cy="157.9" r="5.9" fill="none" stroke="#e4e4e4" stroke-width="0.8" opacity="0.7"/>
<circle cx="970.1" cy="167.9" r="4.7" fill="#bcbcbc" stroke="#3e3e3e" stroke-width="1.8"/>
<circle cx="969.3" cy="167.1" r="5.9" fill="none" stroke="#e4e4e4" stroke-width="0.8" opacity="0.7"/>
<circle cx="949.6" cy="173.6" r="4.7" fill="#bcbcbc" stroke="#3e3e3e" stroke-width="1.8"/>
<circle cx="948.8" cy="172.8" r="5.9" fill="none" stroke="#e4e4e4" stroke-width="0.8" opacity="0.7"/>
<circle cx="1013.5" cy="162.1" r="4.7" fill="#bcbcbc" stroke="#3e3e3e" stroke-width="1.8"/>
<circle cx="1012.7" cy="161.3" r="5.9" fill="none" stroke="#e4e4e4" stroke-width="0.8" opacity="0.7"/>
<circle cx="1158.5" cy="164.4" r="4.7" fill="#bcbcbc" stroke="#3e3e3e" stroke-width="1.8"/>
<circle cx="1157.7" cy="163.6" r="5.9" fill="none" stroke="#e4e4e4" stroke-width="0.8" opacity="0.7"/>
<circle cx="1118.5" cy="187.3" r="4.7" fill="#bcbcbc" stroke="#3e3e3e" stroke-width="1.8"/>
<circle cx="1117.7" cy="186.5" r="5.9" fill="none" stroke="#e4e4e4" stroke-width="0.8" opacity="0.7"/>
<circle cx="1109.4" cy="224.9" r="4.7" fill="#bcbcbc" stroke="#3e3e3e" stroke-width="1.8"/>
<circle cx="1108.6" cy="224.1" r="5.9" fill="none" stroke="#e4e4e4" stroke-width="0.8" opacity="0.7"/>
<circle cx="1093.4" cy="234.1" r="4.7" fill="#bcbcbc" stroke="#3e3e3e" stroke-width="1.8"/>
<circle cx="1092.6" cy="233.3" r="5.9" fill="none" stroke="#e4e4e4" stroke-width="0.8" opacity="0.7"/>
<circle cx="1173.3" cy="208.9" r="4.7" fill="#bcbcbc" stroke="#3e3e3e" stroke-width="1.8"/>
<circle cx="1172.5" cy="208.1" r="5.9" fill="none" stroke="#e4e4e4" stroke-width="0.8" opacity="0.7"/>
<circle cx="1029.5" cy="199.8" r="4.7" fill="#bcbcbc" stroke="#3e3e3e" stroke-width="1.8"/>
<circle cx="1028.7" cy="199.0" r="5.9" fill="none" stroke="#e4e4e4" stroke-width="0.8" opacity="0.7"/>
<circle cx="880.0" cy="191.8" r="4.7" fill="#bcbcbc" stroke="#3e3e3e" stroke-width="1.8"/>
<circle cx="879.2" cy="191.0" r="5.9" fill="none" stroke="#e4e4e4" stroke-width="0.8" opacity="0.7"/>
<circle cx="887.9" cy="195.3" r="4.7" fill="#bcbcbc" stroke="#3e3e3e" stroke-width="1.8"/>
<circle cx="887.1" cy="194.5" r="5.9" fill="none" stroke="#e4e4e4" stroke-width="0.8" opacity="0.7"/>
<circle cx="862.8" cy="218.1" r="4.7" fill="#bcbcbc" stroke="#3e3e3e" stroke-width="1.8"/>
<circle cx="862.0" cy="217.3" r="5.9" fill="none" stroke="#e4e4e4" stroke-width="0.8" opacity="0.7"/>
<circle cx="883.4" cy="232.9" r="4.7" fill="#bcbcbc" stroke="#3e3e3e" stroke-width="1.8"/>
<circle cx="882.6" cy="232.1" r="5.9" fill="none" stroke="#e4e4e4" stroke-width="0.8" opacity="0.7"/>
<circle cx="872.0" cy="254.6" r="4.7" fill="#bcbcbc" stroke="#3e3e3e" stroke-width="1.8"/>
<circle cx="871.2" cy="253.8" r="5.9" fill="none" stroke="#e4e4e4" stroke-width="0.8" opacity="0.7"/>
<circle cx="878.8" cy="268.3" r="4.7" fill="#bcbcbc" stroke="#3e3e3e" stroke-width="1.8"/>
<circle cx="878.0" cy="267.5" r="5.9" fill="none" stroke="#e4e4e4" stroke-width="0.8" opacity="0.7"/>
<circle cx="887.9" cy="248.9" r="4.7" fill="#bcbcbc" stroke="#3e3e3e" stroke-width="1.8"/>
<circle cx="887.1" cy="248.1" r="5.9" fill="none" stroke="#e4e4e4" stroke-width="0.8" opacity="0.7"/>
<circle cx="933.6" cy="253.5" r="4.7" fill="#bcbcbc" stroke="#3e3e3e" stroke-width="1.8"/>
<circle cx="932.8" cy="252.7" r="5.9" fill="none" stroke="#e4e4e4" stroke-width="0.8" opacity="0.7"/>
<circle cx="956.4" cy="235.2" r="4.7" fill="#bcbcbc" stroke="#3e3e3e" stroke-width="1.8"/>
<circle cx="955.6" cy="234.4" r="5.9" fill="none" stroke="#e4e4e4" stroke-width="0.8" opacity="0.7"/>
<circle cx="1029.5" cy="250.0" r="4.7" fill="#bcbcbc" stroke="#3e3e3e" stroke-width="1.8"/>
<circle cx="1028.7" cy="249.2" r="5.9" fill="none" stroke="#e4e4e4" stroke-width="0.8" opacity="0.7"/>
<circle cx="1043.2" cy="275.2" r="4.7" fill="#bcbcbc" stroke="#3e3e3e" stroke-width="1.8"/>
<circle cx="1042.4" cy="274.4" r="5.9" fill="none" stroke="#e4e4e4" stroke-width="0.8" opacity="0.7"/>
<circle cx="1056.9" cy="275.2" r="4.7" fill="#bcbcbc" stroke="#3e3e3e" stroke-width="1.8"/>
<circle cx="1056.1" cy="274.4" r="5.9" fill="none" stroke="#e4e4e4" stroke-width="0.8" opacity="0.7"/>
<circle cx="958.7" cy="286.6" r="4.7" fill="#bcbcbc" stroke="#3e3e3e" stroke-width="1.8"/>
<circle cx="957.9" cy="285.8" r="5.9" fill="none" stroke="#e4e4e4" stroke-width="0.8" opacity="0.7"/>
<circle cx="958.7" cy="304.8" r="4.7" fill="#bcbcbc" stroke="#3e3e3e" stroke-width="1.8"/>
<circle cx="957.9" cy="304.0" r="5.9" fill="none" stroke="#e4e4e4" stroke-width="0.8" opacity="0.7"/>
<circle cx="919.9" cy="302.6" r="4.7" fill="#bcbcbc" stroke="#3e3e3e" stroke-width="1.8"/>
<circle cx="919.1" cy="301.8" r="5.9" fill="none" stroke="#e4e4e4" stroke-width="0.8" opacity="0.7"/>
<circle cx="1066.0" cy="239.8" r="4.7" fill="#bcbcbc" stroke="#3e3e3e" stroke-width="1.8"/>
<circle cx="1065.2" cy="239.0" r="5.9" fill="none" stroke="#e4e4e4" stroke-width="0.8" opacity="0.7"/>
<circle cx="1168.8" cy="268.3" r="4.7" fill="#bcbcbc" stroke="#3e3e3e" stroke-width="1.8"/>
<circle cx="1168.0" cy="267.5" r="5.9" fill="none" stroke="#e4e4e4" stroke-width="0.8" opacity="0.7"/>
<circle cx="1175.6" cy="268.3" r="4.7" fill="#bcbcbc" stroke="#3e3e3e" stroke-width="1.8"/>
<circle cx="1174.8" cy="267.5" r="5.9" fill="none" stroke="#e4e4e4" stroke-width="0.8" opacity="0.7"/>
<circle cx="1173.3" cy="316.3" r="4.7" fill="#bcbcbc" stroke="#3e3e3e" stroke-width="1.8"/>
<circle cx="1172.5" cy="315.5" r="5.9" fill="none" stroke="#e4e4e4" stroke-width="0.8" opacity="0.7"/>
<circle cx="1143.7" cy="325.4" r="4.7" fill="#bcbcbc" stroke="#3e3e3e" stroke-width="1.8"/>
<circle cx="1142.9" cy="324.6" r="5.9" fill="none" stroke="#e4e4e4" stroke-width="0.8" opacity="0.7"/>
<circle cx="1203.0" cy="140.5" r="4.7" fill="#bcbcbc" stroke="#3e3e3e" stroke-width="1.8"/>
<circle cx="1202.2" cy="139.7" r="5.9" fill="none" stroke="#e4e4e4" stroke-width="0.8" opacity="0.7"/>
<circle cx="1205.3" cy="158.7" r="4.7" fill="#bcbcbc" stroke="#3e3e3e" stroke-width="1.8"/>
<circle cx="1204.5" cy="157.9" r="5.9" fill="none" stroke="#e4e4e4" stroke-width="0.8" opacity="0.7"/>
</g>
<rect x="842.5" y="41.2" width="366.0" height="291.5" fill="none" stroke="#111" stroke-width="2.2"/>
<defs><clipPath id="m3"><rect x="1222.3" y="40.4" width="366" height="292"/></clipPath><linearGradient id="m3g" x1="0" y1="0" x2="1" y2="0"><stop offset="0" stop-color="#c8c8c8"/><stop offset="1" stop-color="#b8b8b8"/></linearGradient><radialGradient id="m3v" cx="0.5" cy="0.5" r="0.75"><stop offset="0.55" stop-color="#000" stop-opacity="0"/><stop offset="1" stop-color="#000" stop-opacity="0.12"/></radialGradient></defs>
<g clip-path="url(#m3)">
<rect x="1222.3" y="40.4" width="366.0" height="292.0" fill="url(#m3g)"/>
<rect x="1222.3" y="40.4" width="366.0" height="292.0" fill="url(#m3v)"/>
<path d="M1426.7,274.2Q1427.3,264.2 1427.8,259.2Q1428.3,254.3 1429,249.3Q1429.7,244.4 1430,239.4Q1430.3,234.4 1430.5,229.4Q1430.8,224.4 1430.8,219.4Q1430.9,214.4 1430.5,209.4Q1430.1,204.4 1429.7,199.4L1429.3,194.4 M1515.3,138.8Q1513.8,129 1513.1,124Q1512.4,119.1 1511.7,114.1Q1511,109.2 1510.3,104.2Q1509.5,99.3 1508.9,94.3Q1508.4,89.3 1507.9,84.3Q1507.5,79.4 1507.3,74.4Q1507.1,69.4 1507.1,64.4Q1507.2,59.4 1507.3,54.4Q1507.5,49.4 1507.8,44.4Q1508.1,39.4 1508.6,34.4Q1509.1,29.5 1510.1,24.6L1511.1,19.7 M1612.8,184.7Q1615.5,194.4 1616.6,199.2Q1617.7,204.1 1618.7,209Q1619.7,213.9 1621.1,218.7Q1622.5,223.5 1624.1,228.3Q1625.6,233 1627.7,237.6Q1629.8,242.1 1632.3,246.4Q1634.9,250.7 1637.8,254.8Q1640.8,258.8 1644.3,262.3Q1647.9,265.8 1651.6,269.2Q1655.3,272.5 1659.4,275.3L1663.5,278.2 M1441.8,88Q1444.3,78.3 1445.7,73.5Q1447,68.7 1448.3,63.9Q1449.5,59 1450.9,54.2Q1452.3,49.4 1453.7,44.6L1455.2,39.8 M1577.7,226.6Q1576.6,236.5 1576.5,241.5Q1576.3,246.5 1576.4,251.5Q1576.5,256.5 1576.5,261.5Q1576.4,266.5 1576.2,271.5Q1576,276.5 1576,281.5Q1576.1,286.5 1576.4,291.5Q1576.7,296.5 1577.4,301.4L1578.2,306.4 M1313.1,326.6Q1321.3,332.3 1325.5,334.9Q1329.8,337.5 1334.2,339.8Q1338.7,342.1 1343.4,343.8Q1348.1,345.4 1353,346.7L1357.8,347.9 M1187.3,321Q1191.2,330.1 1193.4,334.6Q1195.6,339.1 1197.7,343.7Q1199.8,348.2 1201.8,352.8Q1203.9,357.4 1205.3,362.2Q1206.7,367 1207.7,371.8Q1208.7,376.7 1209.1,381.7Q1209.6,386.7 1209.3,391.7Q1209,396.7 1208.1,401.6Q1207.2,406.5 1206.2,411.4Q1205.3,416.3 1204.3,421.2Q1203.2,426.1 1201.8,430.9Q1200.4,435.7 1198.4,440.3Q1196.3,444.8 1193.7,449.1L1191.2,453.5 M1570.8,45.6Q1575.1,54.6 1577,59.3Q1578.9,63.9 1580.6,68.6Q1582.2,73.3 1583.6,78.1Q1584.9,83 1586.1,87.8Q1587.4,92.6 1588.4,97.5Q1589.5,102.4 1590.3,107.4Q1591.1,112.3 1591.4,117.3Q1591.7,122.3 1591.8,127.3Q1592,132.3 1592,137.3Q1592.1,142.3 1592,147.3Q1591.9,152.3 1592,157.3L1592,162.3 M1380,225.2Q1373.8,233 1370.8,237.1Q1367.8,241.1 1365.1,245.3Q1362.3,249.4 1359.6,253.6Q1357,257.9 1354.6,262.3Q1352.3,266.7 1350.4,271.3Q1348.5,276 1346.8,280.7Q1345.1,285.4 1343.3,290Q1341.4,294.7 1339.4,299.2L1337.4,303.8 M1238.7,147.8Q1245.8,154.8 1249.6,158Q1253.4,161.3 1257.4,164.3Q1261.3,167.4 1265.4,170.3Q1269.4,173.2 1273.7,175.9Q1277.9,178.5 1282.4,180.8Q1286.8,183.1 1291.4,185.1Q1295.9,187.2 1300.6,189Q1305.2,190.8 1310.1,192.1L1314.9,193.4 M1442.9,42.6Q1442.5,32.6 1441.4,27.7Q1440.4,22.8 1438.8,18Q1437.3,13.3 1435.1,8.8Q1432.9,4.3 1430.6,-0.1Q1428.2,-4.6 1425.9,-9Q1423.6,-13.4 1421.4,-17.9Q1419.1,-22.4 1417,-26.9L1414.8,-31.4 M1273.7,159.5Q1278.5,168.3 1280.9,172.7Q1283.2,177.2 1285.1,181.8Q1287,186.4 1287.9,191.3Q1288.9,196.2 1289.1,201.2L1289.3,206.2 M1217,176.9Q1219.3,167.1 1220.1,162.2Q1221,157.3 1221.5,152.3Q1222.1,147.3 1222.5,142.4Q1222.9,137.4 1223.3,132.4Q1223.6,127.4 1224.3,122.4Q1224.9,117.5 1226,112.6Q1227,107.7 1228.4,102.9Q1229.8,98.1 1231.6,93.4Q1233.4,88.8 1235.6,84.3Q1237.7,79.7 1240.2,75.4Q1242.7,71.1 1245.9,67.2Q1249.1,63.4 1252.7,60Q1256.4,56.6 1260.6,53.8L1264.8,51.1 M1403.3,27.3Q1396.8,34.9 1393.7,38.8Q1390.7,42.8 1388,47Q1385.2,51.2 1382.8,55.6Q1380.4,60 1377.8,64.2Q1375.1,68.4 1372.2,72.5Q1369.2,76.5 1366.1,80.4Q1363,84.3 1359.7,88.1Q1356.4,91.9 1352.6,95.1Q1348.7,98.3 1344.4,100.8Q1340.1,103.4 1335.5,105.2Q1330.9,107.1 1326,108.3Q1321.2,109.5 1316.2,110Q1311.2,110.4 1306.2,110.4L1301.2,110.3 M1618.2,177.8Q1617.8,187.7 1617.6,192.7Q1617.5,197.7 1617.5,202.7Q1617.5,207.7 1617.9,212.7Q1618.2,217.7 1618.8,222.7Q1619.3,227.7 1620,232.6Q1620.8,237.6 1622.1,242.4Q1623.5,247.2 1625.5,251.7Q1627.6,256.3 1630.6,260.3Q1633.6,264.3 1637.7,267.2Q1641.7,270.2 1646.1,272.6L1650.5,274.9 M1594.4,186.9Q1593.9,176.9 1594,171.9Q1594,166.9 1594.3,161.9Q1594.6,156.9 1594.9,151.9Q1595.3,146.9 1595.7,141.9Q1596,136.9 1596.8,132Q1597.6,127.1 1599.1,122.3L1600.6,117.5 M1388.7,67.8Q1383,76 1380,80Q1377,84 1373.9,87.9Q1370.7,91.8 1367.5,95.6Q1364.2,99.4 1361.2,103.3Q1358.2,107.3 1355.3,111.4Q1352.5,115.5 1349.8,119.7Q1347.1,124 1344.2,128.1Q1341.3,132.2 1338.6,136.3Q1335.8,140.5 1333.2,144.7L1330.5,149 M1430.1,132.4Q1420.7,135.9 1416.2,138Q1411.7,140.1 1407.3,142.6Q1403,145.1 1399,148.1Q1394.9,151 1391,154.1Q1387,157.2 1383.4,160.5Q1379.7,163.9 1376.1,167.4Q1372.6,171 1369.4,174.8Q1366.1,178.6 1363.2,182.6Q1360.3,186.7 1358,191.2Q1355.7,195.6 1353.7,200.2L1351.7,204.8 M1426.9,337.5Q1433.1,345.3 1435.9,349.4Q1438.8,353.5 1441.4,357.8Q1443.9,362.1 1446.5,366.4Q1449.2,370.6 1452,374.7Q1454.9,378.8 1458,382.8Q1461.1,386.7 1464.8,390.1Q1468.5,393.4 1472.7,396.2L1476.8,399 M1391.2,281.5Q1391.1,271.5 1390.8,266.5Q1390.6,261.5 1390.1,256.5Q1389.7,251.6 1389.1,246.6Q1388.5,241.6 1387.8,236.7Q1387.2,231.7 1386.3,226.8Q1385.3,221.9 1384.1,217.1Q1382.8,212.2 1381.4,207.4Q1379.9,202.6 1378.3,197.9Q1376.7,193.2 1374.5,188.7Q1372.3,184.2 1369.5,180Q1366.8,175.8 1363.9,171.8Q1361,167.7 1358.3,163.5L1355.7,159.2 M1452.2,264.6Q1458.4,256.8 1461.6,252.9Q1464.8,249.1 1467.8,245.1Q1470.8,241.1 1474,237.2Q1477.1,233.3 1480.6,229.8Q1484.1,226.2 1487.9,222.9Q1491.6,219.6 1495.3,216.2Q1498.9,212.8 1502.3,209.1Q1505.8,205.5 1509.1,201.7L1512.3,198 M1544.2,304.6Q1547.7,313.9 1549.7,318.5Q1551.7,323.1 1553.7,327.7Q1555.8,332.3 1557.5,337Q1559.2,341.7 1560.6,346.4Q1562.1,351.2 1562.6,356.2L1563.1,361.2 M1596.2,358.4Q1598,348.5 1599.1,343.6Q1600.1,338.7 1600.8,333.8Q1601.4,328.8 1601.4,323.8Q1601.3,318.8 1600.4,313.9Q1599.5,309 1598.1,304.2Q1596.8,299.4 1595.3,294.6Q1593.8,289.8 1591.8,285.2Q1589.9,280.6 1587.5,276.2Q1585.2,271.8 1582.4,267.6L1579.7,263.4 M1197.2,232.6Q1203.1,224.6 1206.4,220.8Q1209.7,217.1 1213.2,213.5Q1216.8,210 1220.6,206.7Q1224.3,203.4 1228.1,200.2Q1231.9,196.9 1235.6,193.5Q1239.2,190.1 1242.7,186.5Q1246.2,183 1249.3,179Q1252.3,175 1255.3,171Q1258.2,166.9 1261.1,162.9Q1264,158.8 1266.9,154.7Q1269.9,150.7 1273.1,146.8L1276.2,143 M1297,169.3Q1287.3,166.9 1282.4,165.8Q1277.5,164.6 1272.6,163.7Q1267.7,162.7 1262.7,162.3Q1257.8,161.8 1252.8,162Q1247.8,162.1 1242.9,163.2L1238,164.3 M1476.2,194.7Q1471,186.2 1468.4,181.9Q1465.9,177.6 1463.7,173.2Q1461.4,168.7 1459.4,164.1Q1457.4,159.5 1455.5,154.9Q1453.6,150.3 1451.1,145.9Q1448.7,141.6 1446,137.3Q1443.3,133.1 1440.9,128.8Q1438.4,124.4 1436.2,119.9L1434,115.5 M1216.1,60.1Q1226.1,59.3 1231.1,58.7Q1236,58.1 1241,57.7Q1246,57.3 1251,56.8Q1255.9,56.2 1260.8,54.9Q1265.6,53.6 1270.2,51.7Q1274.8,49.7 1278.9,46.9Q1283.1,44.1 1287,41.1Q1291,38 1295.2,35.2Q1299.3,32.4 1303.7,30.1L1308.1,27.7 M1191,288.1Q1193.5,297.7 1194.8,302.6Q1196.1,307.4 1197.3,312.3Q1198.6,317.1 1199.8,322Q1200.9,326.8 1202.5,331.6Q1204,336.3 1205.9,341Q1207.8,345.6 1210.2,350Q1212.5,354.4 1215.2,358.6Q1217.9,362.8 1221.2,366.6Q1224.5,370.3 1228.2,373.7Q1231.9,377.1 1235.7,380.3L1239.5,383.6 M1408.7,350.1Q1409,360.1 1408.9,365.1Q1408.8,370.1 1408.7,375.1Q1408.6,380.1 1408.7,385.1Q1408.7,390.1 1408.5,395.1Q1408.4,400.1 1407.8,405Q1407.3,410 1406.3,414.9L1405.4,419.8 M1382.8,122.7Q1389.9,129.8 1393.3,133.5Q1396.6,137.2 1399.8,141.1Q1403,145 1405.9,149Q1408.8,153.1 1411.5,157.3Q1414.1,161.5 1416.3,166Q1418.5,170.5 1420.1,175.3Q1421.7,180 1422.1,185Q1422.6,190 1422.2,194.9Q1421.9,199.9 1420.5,204.8Q1419.2,209.6 1416.7,213.9Q1414.3,218.3 1411.5,222.4Q1408.7,226.6 1405.9,230.7Q1403,234.8 1400.4,239.1L1397.8,243.3 M1404,136.6Q1403.7,146.6 1403.4,151.6Q1403.2,156.5 1402.4,161.5Q1401.7,166.4 1400.2,171.2Q1398.7,176 1396.5,180.5Q1394.3,185 1391.7,189.2Q1389.1,193.5 1385.9,197.4Q1382.7,201.2 1378.8,204.3Q1374.9,207.4 1370.6,210Q1366.3,212.6 1361.7,214.4Q1357,216.3 1352.1,216.9L1347.1,217.5 M1406.8,302.8Q1415.9,306.9 1420.8,308.1Q1425.6,309.3 1430.6,310Q1435.5,310.7 1440.5,311.1Q1445.5,311.5 1450.5,311.9L1455.5,312.4 M1364.7,174.5Q1355,171.9 1350.3,170.4Q1345.5,169 1340.8,167.3Q1336,165.7 1331.3,163.9Q1326.7,162.2 1322.1,160.2L1317.5,158.2 M1526.7,328.8Q1516.8,330.4 1511.9,330.9Q1506.9,331.4 1501.9,331.8Q1496.9,332.2 1492,332.8Q1487,333.5 1482,333.9Q1477,334.3 1472.1,333.8Q1467.1,333.3 1462.3,332Q1457.4,330.6 1453,328.4Q1448.5,326.2 1444.7,322.9Q1441,319.6 1437.9,315.6Q1434.9,311.6 1432.9,307L1431,302.4 M1558.5,136.8Q1563.3,145.6 1565.9,149.8Q1568.5,154.1 1571.5,158.2Q1574.4,162.2 1577.8,165.8Q1581.2,169.5 1585.3,172.5Q1589.3,175.4 1593.8,177.6Q1598.2,179.9 1603.1,181Q1608,182.2 1612.9,182.6Q1617.9,183 1622.9,183.2Q1627.9,183.4 1632.9,183.5Q1637.9,183.5 1642.9,183.2Q1647.9,182.9 1652.9,182.9Q1657.9,182.9 1662.9,182.6Q1667.9,182.2 1672.8,181.6Q1677.8,181 1682.7,179.8L1687.5,178.7 M1623.2,83.2Q1622.8,93.2 1621.8,98.1Q1620.8,103 1618.9,107.6Q1616.9,112.2 1614.4,116.6Q1612,120.9 1609,124.9Q1606,128.9 1602.5,132.5Q1599,136.1 1595.1,139.2Q1591.2,142.3 1586.9,144.9Q1582.6,147.5 1578.2,149.8Q1573.7,152.1 1569.1,154Q1564.5,155.9 1559.9,157.7Q1555.2,159.5 1550.6,161.5Q1546,163.4 1541.3,165.3Q1536.7,167.2 1532.3,169.5L1527.8,171.7 M1312.5,72.8Q1320.6,67 1324.6,64Q1328.5,60.9 1332.5,57.8Q1336.4,54.7 1340.4,51.7Q1344.4,48.7 1348.3,45.6Q1352.2,42.5 1355.8,39Q1359.4,35.6 1362.6,31.7Q1365.8,27.8 1368.6,23.7L1371.3,19.5 M1421,79.7Q1417.3,88.9 1415.1,93.5Q1413,98 1410.7,102.4Q1408.3,106.8 1405.9,111.2Q1403.5,115.6 1401.1,120Q1398.8,124.4 1395.8,128.4Q1392.9,132.5 1389.6,136.3Q1386.3,140 1383,143.8Q1379.7,147.5 1376.3,151.2L1373,154.9 M1484,80.1Q1492.7,75 1496.9,72.4Q1501.2,69.8 1505.4,67.1Q1509.6,64.4 1513.8,61.8Q1518.1,59.1 1522.1,56.2Q1526.2,53.3 1530.3,50.4L1534.4,47.6 M1498.6,233.5Q1488.6,234.3 1483.7,235.1Q1478.8,235.9 1473.8,236.7Q1468.9,237.4 1464,238.5Q1459.1,239.5 1454.2,240.6Q1449.3,241.6 1444.4,242.3Q1439.4,243.1 1434.5,243.7Q1429.5,244.3 1424.5,244.9Q1419.6,245.4 1414.6,245.5Q1409.6,245.7 1404.6,245.3Q1399.6,244.9 1394.7,244Q1389.8,243 1385.1,241.2Q1380.4,239.5 1376.1,237Q1371.7,234.6 1367.8,231.5Q1363.8,228.4 1360.3,224.9L1356.7,221.4 M1554.7,42.8Q1550.4,51.9 1548.2,56.4Q1546,60.8 1543.6,65.3Q1541.3,69.7 1538.8,74Q1536.3,78.3 1534,82.7Q1531.7,87.2 1529.5,91.7Q1527.3,96.2 1525.1,100.7L1523,105.2 M1222.5,310.3Q1216.5,318.3 1213.5,322.4Q1210.6,326.4 1208.2,330.8Q1205.8,335.2 1203.4,339.6Q1201.1,344 1199.3,348.7Q1197.6,353.4 1197.2,358.4Q1196.7,363.4 1197.2,368.3Q1197.6,373.3 1199,378.1Q1200.5,382.9 1202.5,387.5Q1204.6,392 1207.1,396.3L1209.7,400.6 M1506.9,131.8Q1512.5,140.1 1515,144.5Q1517.5,148.8 1519.7,153.3Q1522,157.7 1524.3,162.2Q1526.6,166.6 1528.6,171.2Q1530.6,175.7 1532.4,180.4Q1534.1,185.1 1535.5,189.9Q1536.9,194.7 1538,199.6Q1539.1,204.5 1539.5,209.5L1539.9,214.5 M1471.4,43.1Q1464.2,50.1 1460.5,53.4Q1456.7,56.7 1452.8,59.9Q1449,63 1445,66.1Q1441.1,69.2 1437,72.1Q1433,75 1429,78Q1425,81 1420.9,84Q1416.9,86.9 1413,90Q1409,93.1 1405,96.1Q1401.1,99.2 1397.1,102.2Q1393.1,105.2 1389,108.1Q1384.9,111 1380.6,113.4L1376.2,115.8 M1615.4,15Q1614.2,5.1 1613.9,0.1Q1613.7,-4.9 1614.2,-9.8Q1614.7,-14.8 1615.4,-19.8Q1616.1,-24.7 1617.4,-29.5Q1618.7,-34.4 1620.7,-38.9Q1622.7,-43.5 1625.6,-47.6Q1628.5,-51.7 1632,-55.3L1635.5,-58.9 M1380.6,270.6Q1376.6,261.4 1375,256.7Q1373.4,251.9 1372.3,247Q1371.2,242.2 1370.5,237.2Q1369.7,232.3 1369.2,227.3Q1368.7,222.3 1368.4,217.3Q1368.2,212.3 1368.2,207.3Q1368.1,202.3 1368.4,197.3L1368.6,192.4 M1393.9,141.5Q1388.9,132.8 1386.6,128.4Q1384.2,124 1382.2,119.4Q1380.2,114.9 1378.5,110.1Q1376.9,105.4 1375.7,100.6Q1374.5,95.7 1374,90.7Q1373.5,85.8 1373.6,80.8Q1373.6,75.8 1373.9,70.8Q1374.1,65.8 1374.3,60.8L1374.5,55.8 M1392.6,291.5Q1390.9,281.7 1389.4,276.9Q1387.8,272.1 1385.9,267.5Q1384,262.9 1382.1,258.3Q1380.1,253.7 1378,249.2Q1375.9,244.6 1373.8,240.1Q1371.6,235.6 1369.4,231.1Q1367.2,226.6 1364.8,222.2Q1362.5,217.8 1360.5,213.2L1358.6,208.6 M1337.4,247.2Q1339.1,257 1340.2,261.9Q1341.3,266.8 1342.8,271.6Q1344.3,276.3 1346.1,281Q1347.9,285.7 1350,290.2Q1352.1,294.7 1354.4,299.2L1356.7,303.6 M1490.1,184.7Q1482.7,178 1479.1,174.6Q1475.5,171.1 1472.1,167.5Q1468.6,163.8 1465.4,160Q1462.2,156.2 1458.9,152.4Q1455.6,148.6 1452.6,144.7Q1449.5,140.7 1446.4,136.8Q1443.3,132.8 1440.6,128.6Q1437.9,124.4 1435.5,120.1L1433.1,115.7 M1290.3,342.7Q1280.3,342.2 1275.3,342.1Q1270.3,342 1265.4,342.8Q1260.4,343.6 1255.8,345.5Q1251.1,347.3 1247.1,350.2Q1243,353.1 1239.7,356.9Q1236.3,360.6 1233.8,364.9L1231.2,369.2 M1600.5,72.1Q1602.1,82 1603.4,86.8Q1604.8,91.7 1606.3,96.4Q1607.9,101.2 1609.6,105.9Q1611.3,110.6 1613.3,115.2Q1615.3,119.7 1618,123.9Q1620.8,128.1 1624.5,131.4Q1628.3,134.7 1632.3,137.6Q1636.4,140.5 1640.6,143.3Q1644.7,146.1 1649,148.7Q1653.2,151.4 1657.5,154Q1661.8,156.5 1666.2,158.9Q1670.6,161.3 1675,163.5Q1679.5,165.8 1684.1,167.8L1688.6,169.8 M1339.6,99Q1339.4,109 1338.7,113.9Q1338.1,118.9 1337.4,123.8Q1336.7,128.8 1335.7,133.7Q1334.7,138.6 1333.6,143.5Q1332.4,148.3 1331,153.1Q1329.7,157.9 1328,162.7Q1326.4,167.4 1324.5,172Q1322.5,176.6 1320.1,181Q1317.7,185.4 1315,189.6Q1312.3,193.8 1309.6,198Q1306.8,202.2 1303.9,206.2Q1300.9,210.2 1298.2,214.4Q1295.4,218.6 1292.9,222.9Q1290.4,227.2 1288.3,231.8L1286.3,236.3 M1569.3,120.9Q1566.2,130.5 1564.5,135.2Q1562.8,139.9 1560.7,144.4Q1558.6,148.9 1556.2,153.3Q1553.8,157.7 1551,161.9Q1548.2,166 1545,169.8Q1541.8,173.6 1538.1,177Q1534.4,180.4 1530.4,183.3Q1526.3,186.2 1521.8,188.4Q1517.2,190.5 1512.5,191.9Q1507.7,193.4 1502.7,193.9L1497.7,194.3 M1189.9,290.3Q1188.2,300.1 1186.9,305Q1185.6,309.8 1184,314.5Q1182.5,319.3 1180.3,323.8Q1178.2,328.3 1175.7,332.7Q1173.3,337.1 1171.1,341.6Q1168.9,346 1166.9,350.6Q1164.9,355.2 1162.9,359.8Q1161,364.4 1158.8,368.9Q1156.6,373.4 1154.1,377.7Q1151.6,382.1 1149.2,386.4Q1146.7,390.8 1144.3,395.2Q1142,399.6 1139.7,404Q1137.5,408.5 1135.9,413.2Q1134.2,418 1133.4,422.9L1132.5,427.8 M1415.9,284.1Q1421.6,292.3 1424.1,296.6Q1426.6,301 1428.7,305.5Q1430.9,310 1433,314.5Q1435.1,319 1437.1,323.6Q1439.1,328.2 1441.4,332.7Q1443.6,337.1 1445.8,341.7Q1447.9,346.2 1449.8,350.8Q1451.8,355.4 1453.4,360.1Q1455,364.9 1456.3,369.7L1457.5,374.5 M1492.3,112Q1491.3,121.9 1489.8,126.7Q1488.3,131.5 1486.4,136.1Q1484.5,140.7 1482.6,145.4Q1480.8,150 1479.1,154.7Q1477.5,159.5 1476,164.2Q1474.4,169 1473.6,173.9Q1472.9,178.8 1473.1,183.8Q1473.3,188.8 1474.1,193.8Q1474.9,198.7 1476.1,203.6Q1477.2,208.4 1478.5,213.3Q1479.9,218.1 1481.5,222.8L1483.1,227.5 M1609,271.5Q1617.4,277 1621.5,279.8Q1625.7,282.6 1630,285.1Q1634.3,287.6 1638.8,289.8Q1643.3,291.9 1648,293.6Q1652.7,295.3 1657.6,296.5Q1662.5,297.7 1667.4,298.5Q1672.3,299.3 1677.3,299.4L1682.3,299.5 M1511.9,91.6Q1502.6,95.4 1498,97.2Q1493.3,99 1488.5,100.1Q1483.6,101.3 1478.7,102.2Q1473.7,103.1 1468.8,103.7Q1463.8,104.4 1458.8,104.7Q1453.9,105.1 1448.9,105.7Q1443.9,106.2 1439.1,107.5L1434.2,108.7 M1403,146.9Q1412.2,143 1417.1,141.8Q1421.9,140.6 1426.9,140.4Q1431.9,140.2 1436.9,141.2Q1441.8,142.1 1446.5,143.7Q1451.2,145.3 1455.7,147.6Q1460.2,149.8 1464.4,152.4Q1468.7,155 1472.8,157.9Q1476.8,160.9 1480.6,164.1L1484.5,167.3 M1554.4,30.2Q1560.2,38.4 1563.1,42.5Q1565.9,46.6 1568.7,50.8Q1571.4,54.9 1574.2,59.1Q1577,63.2 1579.9,67.3Q1582.7,71.5 1585.6,75.6Q1588.4,79.7 1591.4,83.7Q1594.4,87.7 1597.8,91.4Q1601.1,95.1 1604.9,98.4Q1608.7,101.6 1612.7,104.6Q1616.7,107.6 1620.9,110.2Q1625.2,112.9 1629.5,115.4L1633.9,117.9 M1233.1,354.1Q1240,361.3 1243.1,365.3Q1246.1,369.3 1248.9,373.4Q1251.7,377.5 1254.4,381.8Q1257.1,386 1259.3,390.5Q1261.5,395 1263.7,399.5Q1265.9,404 1268,408.5Q1270.2,413 1272.2,417.6Q1274.1,422.2 1276.1,426.8Q1278.1,431.4 1280.5,435.7Q1283,440.1 1285.8,444.2Q1288.6,448.3 1291.8,452.1Q1295.1,456 1298.5,459.6Q1301.9,463.3 1305.5,466.7Q1309.2,470.1 1313.2,473.1L1317.2,476.1 M1197.4,353.9Q1191.4,361.9 1188.5,366Q1185.6,370.1 1183.3,374.5Q1180.9,378.9 1179.1,383.6Q1177.3,388.2 1176.1,393.1Q1174.8,397.9 1173.9,402.8Q1173,407.7 1172.1,412.7Q1171.2,417.6 1170.6,422.5Q1170.1,427.5 1170.4,432.5Q1170.8,437.5 1171.4,442.5Q1172,447.4 1172.7,452.4Q1173.4,457.3 1174,462.3L1174.5,467.3 M1570.9,55.9Q1567.9,65.4 1566.4,70.2Q1564.9,75 1563.3,79.7Q1561.8,84.5 1560.3,89.2Q1558.8,94 1557.3,98.8Q1555.9,103.6 1554.7,108.4Q1553.5,113.3 1553.3,118.3Q1553,123.3 1553.5,128.3L1554,133.2 M1393.1,236.1Q1392.4,226.1 1392.2,221.1Q1392,216.1 1391.2,211.2Q1390.5,206.2 1389.4,201.3Q1388.3,196.5 1386.7,191.7Q1385.1,187 1383,182.4Q1381,177.9 1378.1,173.7Q1375.3,169.6 1371.9,166L1368.4,162.4 M1448.9,108Q1451.7,98.4 1453.2,93.7Q1454.8,88.9 1456.4,84.2Q1458,79.5 1459.5,74.7Q1460.9,69.9 1462.1,65.1Q1463.4,60.2 1464.6,55.4Q1465.8,50.5 1467.2,45.7Q1468.6,40.9 1470.1,36.1Q1471.6,31.4 1472.9,26.5Q1474.1,21.7 1474.9,16.8Q1475.8,11.8 1475.9,6.8Q1476.1,1.8 1475.7,-3.1Q1475.2,-8.1 1474.1,-13L1473,-17.9 M1349.2,256.9Q1349.7,266.9 1349.8,271.9Q1349.9,276.9 1350.1,281.9Q1350.4,286.9 1350.7,291.9Q1350.9,296.9 1351.4,301.9Q1351.9,306.8 1352.5,311.8Q1353.1,316.8 1354.2,321.6Q1355.3,326.5 1357.1,331.2Q1358.8,335.9 1360.9,340.4Q1363,345 1365.4,349.4Q1367.7,353.8 1370,358.2Q1372.4,362.6 1375,366.9Q1377.7,371.1 1380.5,375.2L1383.3,379.3 M1523.1,320.6Q1522.2,330.5 1521.8,335.5Q1521.3,340.5 1520.4,345.4Q1519.5,350.3 1518,355.1Q1516.6,359.9 1514.4,364.4Q1512.3,368.9 1510.2,373.5Q1508.2,378 1506,382.6Q1503.9,387.1 1501.5,391.5Q1499,395.8 1496.4,400.1Q1493.7,404.3 1490.5,408.1Q1487.3,412 1483.7,415.4Q1480.1,418.9 1476.1,422Q1472.2,425 1468.2,428.1Q1464.3,431.1 1460.5,434.4L1456.8,437.8" fill="none" stroke-linecap="round" stroke-linejoin="round" stroke="#484848" stroke-width="3.40" opacity="0.75"/>
<path d="M1426.7,274.2Q1427.3,264.2 1427.8,259.2Q1428.3,254.3 1429,249.3Q1429.7,244.4 1430,239.4Q1430.3,234.4 1430.5,229.4Q1430.8,224.4 1430.8,219.4Q1430.9,214.4 1430.5,209.4Q1430.1,204.4 1429.7,199.4L1429.3,194.4 M1515.3,138.8Q1513.8,129 1513.1,124Q1512.4,119.1 1511.7,114.1Q1511,109.2 1510.3,104.2Q1509.5,99.3 1508.9,94.3Q1508.4,89.3 1507.9,84.3Q1507.5,79.4 1507.3,74.4Q1507.1,69.4 1507.1,64.4Q1507.2,59.4 1507.3,54.4Q1507.5,49.4 1507.8,44.4Q1508.1,39.4 1508.6,34.4Q1509.1,29.5 1510.1,24.6L1511.1,19.7 M1612.8,184.7Q1615.5,194.4 1616.6,199.2Q1617.7,204.1 1618.7,209Q1619.7,213.9 1621.1,218.7Q1622.5,223.5 1624.1,228.3Q1625.6,233 1627.7,237.6Q1629.8,242.1 1632.3,246.4Q1634.9,250.7 1637.8,254.8Q1640.8,258.8 1644.3,262.3Q1647.9,265.8 1651.6,269.2Q1655.3,272.5 1659.4,275.3L1663.5,278.2 M1441.8,88Q1444.3,78.3 1445.7,73.5Q1447,68.7 1448.3,63.9Q1449.5,59 1450.9,54.2Q1452.3,49.4 1453.7,44.6L1455.2,39.8 M1577.7,226.6Q1576.6,236.5 1576.5,241.5Q1576.3,246.5 1576.4,251.5Q1576.5,256.5 1576.5,261.5Q1576.4,266.5 1576.2,271.5Q1576,276.5 1576,281.5Q1576.1,286.5 1576.4,291.5Q1576.7,296.5 1577.4,301.4L1578.2,306.4 M1313.1,326.6Q1321.3,332.3 1325.5,334.9Q1329.8,337.5 1334.2,339.8Q1338.7,342.1 1343.4,343.8Q1348.1,345.4 1353,346.7L1357.8,347.9 M1187.3,321Q1191.2,330.1 1193.4,334.6Q1195.6,339.1 1197.7,343.7Q1199.8,348.2 1201.8,352.8Q1203.9,357.4 1205.3,362.2Q1206.7,367 1207.7,371.8Q1208.7,376.7 1209.1,381.7Q1209.6,386.7 1209.3,391.7Q1209,396.7 1208.1,401.6Q1207.2,406.5 1206.2,411.4Q1205.3,416.3 1204.3,421.2Q1203.2,426.1 1201.8,430.9Q1200.4,435.7 1198.4,440.3Q1196.3,444.8 1193.7,449.1L1191.2,453.5 M1570.8,45.6Q1575.1,54.6 1577,59.3Q1578.9,63.9 1580.6,68.6Q1582.2,73.3 1583.6,78.1Q1584.9,83 1586.1,87.8Q1587.4,92.6 1588.4,97.5Q1589.5,102.4 1590.3,107.4Q1591.1,112.3 1591.4,117.3Q1591.7,122.3 1591.8,127.3Q1592,132.3 1592,137.3Q1592.1,142.3 1592,147.3Q1591.9,152.3 1592,157.3L1592,162.3 M1380,225.2Q1373.8,233 1370.8,237.1Q1367.8,241.1 1365.1,245.3Q1362.3,249.4 1359.6,253.6Q1357,257.9 1354.6,262.3Q1352.3,266.7 1350.4,271.3Q1348.5,276 1346.8,280.7Q1345.1,285.4 1343.3,290Q1341.4,294.7 1339.4,299.2L1337.4,303.8 M1238.7,147.8Q1245.8,154.8 1249.6,158Q1253.4,161.3 1257.4,164.3Q1261.3,167.4 1265.4,170.3Q1269.4,173.2 1273.7,175.9Q1277.9,178.5 1282.4,180.8Q1286.8,183.1 1291.4,185.1Q1295.9,187.2 1300.6,189Q1305.2,190.8 1310.1,192.1L1314.9,193.4 M1442.9,42.6Q1442.5,32.6 1441.4,27.7Q1440.4,22.8 1438.8,18Q1437.3,13.3 1435.1,8.8Q1432.9,4.3 1430.6,-0.1Q1428.2,-4.6 1425.9,-9Q1423.6,-13.4 1421.4,-17.9Q1419.1,-22.4 1417,-26.9L1414.8,-31.4 M1273.7,159.5Q1278.5,168.3 1280.9,172.7Q1283.2,177.2 1285.1,181.8Q1287,186.4 1287.9,191.3Q1288.9,196.2 1289.1,201.2L1289.3,206.2 M1217,176.9Q1219.3,167.1 1220.1,162.2Q1221,157.3 1221.5,152.3Q1222.1,147.3 1222.5,142.4Q1222.9,137.4 1223.3,132.4Q1223.6,127.4 1224.3,122.4Q1224.9,117.5 1226,112.6Q1227,107.7 1228.4,102.9Q1229.8,98.1 1231.6,93.4Q1233.4,88.8 1235.6,84.3Q1237.7,79.7 1240.2,75.4Q1242.7,71.1 1245.9,67.2Q1249.1,63.4 1252.7,60Q1256.4,56.6 1260.6,53.8L1264.8,51.1 M1403.3,27.3Q1396.8,34.9 1393.7,38.8Q1390.7,42.8 1388,47Q1385.2,51.2 1382.8,55.6Q1380.4,60 1377.8,64.2Q1375.1,68.4 1372.2,72.5Q1369.2,76.5 1366.1,80.4Q1363,84.3 1359.7,88.1Q1356.4,91.9 1352.6,95.1Q1348.7,98.3 1344.4,100.8Q1340.1,103.4 1335.5,105.2Q1330.9,107.1 1326,108.3Q1321.2,109.5 1316.2,110Q1311.2,110.4 1306.2,110.4L1301.2,110.3 M1618.2,177.8Q1617.8,187.7 1617.6,192.7Q1617.5,197.7 1617.5,202.7Q1617.5,207.7 1617.9,212.7Q1618.2,217.7 1618.8,222.7Q1619.3,227.7 1620,232.6Q1620.8,237.6 1622.1,242.4Q1623.5,247.2 1625.5,251.7Q1627.6,256.3 1630.6,260.3Q1633.6,264.3 1637.7,267.2Q1641.7,270.2 1646.1,272.6L1650.5,274.9 M1594.4,186.9Q1593.9,176.9 1594,171.9Q1594,166.9 1594.3,161.9Q1594.6,156.9 1594.9,151.9Q1595.3,146.9 1595.7,141.9Q1596,136.9 1596.8,132Q1597.6,127.1 1599.1,122.3L1600.6,117.5 M1388.7,67.8Q1383,76 1380,80Q1377,84 1373.9,87.9Q1370.7,91.8 1367.5,95.6Q1364.2,99.4 1361.2,103.3Q1358.2,107.3 1355.3,111.4Q1352.5,115.5 1349.8,119.7Q1347.1,124 1344.2,128.1Q1341.3,132.2 1338.6,136.3Q1335.8,140.5 1333.2,144.7L1330.5,149 M1430.1,132.4Q1420.7,135.9 1416.2,138Q1411.7,140.1 1407.3,142.6Q1403,145.1 1399,148.1Q1394.9,151 1391,154.1Q1387,157.2 1383.4,160.5Q1379.7,163.9 1376.1,167.4Q1372.6,171 1369.4,174.8Q1366.1,178.6 1363.2,182.6Q1360.3,186.7 1358,191.2Q1355.7,195.6 1353.7,200.2L1351.7,204.8 M1426.9,337.5Q1433.1,345.3 1435.9,349.4Q1438.8,353.5 1441.4,357.8Q1443.9,362.1 1446.5,366.4Q1449.2,370.6 1452,374.7Q1454.9,378.8 1458,382.8Q1461.1,386.7 1464.8,390.1Q1468.5,393.4 1472.7,396.2L1476.8,399 M1391.2,281.5Q1391.1,271.5 1390.8,266.5Q1390.6,261.5 1390.1,256.5Q1389.7,251.6 1389.1,246.6Q1388.5,241.6 1387.8,236.7Q1387.2,231.7 1386.3,226.8Q1385.3,221.9 1384.1,217.1Q1382.8,212.2 1381.4,207.4Q1379.9,202.6 1378.3,197.9Q1376.7,193.2 1374.5,188.7Q1372.3,184.2 1369.5,180Q1366.8,175.8 1363.9,171.8Q1361,167.7 1358.3,163.5L1355.7,159.2 M1452.2,264.6Q1458.4,256.8 1461.6,252.9Q1464.8,249.1 1467.8,245.1Q1470.8,241.1 1474,237.2Q1477.1,233.3 1480.6,229.8Q1484.1,226.2 1487.9,222.9Q1491.6,219.6 1495.3,216.2Q1498.9,212.8 1502.3,209.1Q1505.8,205.5 1509.1,201.7L1512.3,198 M1544.2,304.6Q1547.7,313.9 1549.7,318.5Q1551.7,323.1 1553.7,327.7Q1555.8,332.3 1557.5,337Q1559.2,341.7 1560.6,346.4Q1562.1,351.2 1562.6,356.2L1563.1,361.2 M1596.2,358.4Q1598,348.5 1599.1,343.6Q1600.1,338.7 1600.8,333.8Q1601.4,328.8 1601.4,323.8Q1601.3,318.8 1600.4,313.9Q1599.5,309 1598.1,304.2Q1596.8,299.4 1595.3,294.6Q1593.8,289.8 1591.8,285.2Q1589.9,280.6 1587.5,276.2Q1585.2,271.8 1582.4,267.6L1579.7,263.4 M1197.2,232.6Q1203.1,224.6 1206.4,220.8Q1209.7,217.1 1213.2,213.5Q1216.8,210 1220.6,206.7Q1224.3,203.4 1228.1,200.2Q1231.9,196.9 1235.6,193.5Q1239.2,190.1 1242.7,186.5Q1246.2,183 1249.3,179Q1252.3,175 1255.3,171Q1258.2,166.9 1261.1,162.9Q1264,158.8 1266.9,154.7Q1269.9,150.7 1273.1,146.8L1276.2,143 M1297,169.3Q1287.3,166.9 1282.4,165.8Q1277.5,164.6 1272.6,163.7Q1267.7,162.7 1262.7,162.3Q1257.8,161.8 1252.8,162Q1247.8,162.1 1242.9,163.2L1238,164.3 M1476.2,194.7Q1471,186.2 1468.4,181.9Q1465.9,177.6 1463.7,173.2Q1461.4,168.7 1459.4,164.1Q1457.4,159.5 1455.5,154.9Q1453.6,150.3 1451.1,145.9Q1448.7,141.6 1446,137.3Q1443.3,133.1 1440.9,128.8Q1438.4,124.4 1436.2,119.9L1434,115.5 M1216.1,60.1Q1226.1,59.3 1231.1,58.7Q1236,58.1 1241,57.7Q1246,57.3 1251,56.8Q1255.9,56.2 1260.8,54.9Q1265.6,53.6 1270.2,51.7Q1274.8,49.7 1278.9,46.9Q1283.1,44.1 1287,41.1Q1291,38 1295.2,35.2Q1299.3,32.4 1303.7,30.1L1308.1,27.7 M1191,288.1Q1193.5,297.7 1194.8,302.6Q1196.1,307.4 1197.3,312.3Q1198.6,317.1 1199.8,322Q1200.9,326.8 1202.5,331.6Q1204,336.3 1205.9,341Q1207.8,345.6 1210.2,350Q1212.5,354.4 1215.2,358.6Q1217.9,362.8 1221.2,366.6Q1224.5,370.3 1228.2,373.7Q1231.9,377.1 1235.7,380.3L1239.5,383.6 M1408.7,350.1Q1409,360.1 1408.9,365.1Q1408.8,370.1 1408.7,375.1Q1408.6,380.1 1408.7,385.1Q1408.7,390.1 1408.5,395.1Q1408.4,400.1 1407.8,405Q1407.3,410 1406.3,414.9L1405.4,419.8 M1382.8,122.7Q1389.9,129.8 1393.3,133.5Q1396.6,137.2 1399.8,141.1Q1403,145 1405.9,149Q1408.8,153.1 1411.5,157.3Q1414.1,161.5 1416.3,166Q1418.5,170.5 1420.1,175.3Q1421.7,180 1422.1,185Q1422.6,190 1422.2,194.9Q1421.9,199.9 1420.5,204.8Q1419.2,209.6 1416.7,213.9Q1414.3,218.3 1411.5,222.4Q1408.7,226.6 1405.9,230.7Q1403,234.8 1400.4,239.1L1397.8,243.3 M1404,136.6Q1403.7,146.6 1403.4,151.6Q1403.2,156.5 1402.4,161.5Q1401.7,166.4 1400.2,171.2Q1398.7,176 1396.5,180.5Q1394.3,185 1391.7,189.2Q1389.1,193.5 1385.9,197.4Q1382.7,201.2 1378.8,204.3Q1374.9,207.4 1370.6,210Q1366.3,212.6 1361.7,214.4Q1357,216.3 1352.1,216.9L1347.1,217.5 M1406.8,302.8Q1415.9,306.9 1420.8,308.1Q1425.6,309.3 1430.6,310Q1435.5,310.7 1440.5,311.1Q1445.5,311.5 1450.5,311.9L1455.5,312.4 M1364.7,174.5Q1355,171.9 1350.3,170.4Q1345.5,169 1340.8,167.3Q1336,165.7 1331.3,163.9Q1326.7,162.2 1322.1,160.2L1317.5,158.2 M1526.7,328.8Q1516.8,330.4 1511.9,330.9Q1506.9,331.4 1501.9,331.8Q1496.9,332.2 1492,332.8Q1487,333.5 1482,333.9Q1477,334.3 1472.1,333.8Q1467.1,333.3 1462.3,332Q1457.4,330.6 1453,328.4Q1448.5,326.2 1444.7,322.9Q1441,319.6 1437.9,315.6Q1434.9,311.6 1432.9,307L1431,302.4 M1558.5,136.8Q1563.3,145.6 1565.9,149.8Q1568.5,154.1 1571.5,158.2Q1574.4,162.2 1577.8,165.8Q1581.2,169.5 1585.3,172.5Q1589.3,175.4 1593.8,177.6Q1598.2,179.9 1603.1,181Q1608,182.2 1612.9,182.6Q1617.9,183 1622.9,183.2Q1627.9,183.4 1632.9,183.5Q1637.9,183.5 1642.9,183.2Q1647.9,182.9 1652.9,182.9Q1657.9,182.9 1662.9,182.6Q1667.9,182.2 1672.8,181.6Q1677.8,181 1682.7,179.8L1687.5,178.7 M1623.2,83.2Q1622.8,93.2 1621.8,98.1Q1620.8,103 1618.9,107.6Q1616.9,112.2 1614.4,116.6Q1612,120.9 1609,124.9Q1606,128.9 1602.5,132.5Q1599,136.1 1595.1,139.2Q1591.2,142.3 1586.9,144.9Q1582.6,147.5 1578.2,149.8Q1573.7,152.1 1569.1,154Q1564.5,155.9 1559.9,157.7Q1555.2,159.5 1550.6,161.5Q1546,163.4 1541.3,165.3Q1536.7,167.2 1532.3,169.5L1527.8,171.7 M1312.5,72.8Q1320.6,67 1324.6,64Q1328.5,60.9 1332.5,57.8Q1336.4,54.7 1340.4,51.7Q1344.4,48.7 1348.3,45.6Q1352.2,42.5 1355.8,39Q1359.4,35.6 1362.6,31.7Q1365.8,27.8 1368.6,23.7L1371.3,19.5 M1421,79.7Q1417.3,88.9 1415.1,93.5Q1413,98 1410.7,102.4Q1408.3,106.8 1405.9,111.2Q1403.5,115.6 1401.1,120Q1398.8,124.4 1395.8,128.4Q1392.9,132.5 1389.6,136.3Q1386.3,140 1383,143.8Q1379.7,147.5 1376.3,151.2L1373,154.9 M1484,80.1Q1492.7,75 1496.9,72.4Q1501.2,69.8 1505.4,67.1Q1509.6,64.4 1513.8,61.8Q1518.1,59.1 1522.1,56.2Q1526.2,53.3 1530.3,50.4L1534.4,47.6 M1498.6,233.5Q1488.6,234.3 1483.7,235.1Q1478.8,235.9 1473.8,236.7Q1468.9,237.4 1464,238.5Q1459.1,239.5 1454.2,240.6Q1449.3,241.6 1444.4,242.3Q1439.4,243.1 1434.5,243.7Q1429.5,244.3 1424.5,244.9Q1419.6,245.4 1414.6,245.5Q1409.6,245.7 1404.6,245.3Q1399.6,244.9 1394.7,244Q1389.8,243 1385.1,241.2Q1380.4,239.5 1376.1,237Q1371.7,234.6 1367.8,231.5Q1363.8,228.4 1360.3,224.9L1356.7,221.4 M1554.7,42.8Q1550.4,51.9 1548.2,56.4Q1546,60.8 1543.6,65.3Q1541.3,69.7 1538.8,74Q1536.3,78.3 1534,82.7Q1531.7,87.2 1529.5,91.7Q1527.3,96.2 1525.1,100.7L1523,105.2 M1222.5,310.3Q1216.5,318.3 1213.5,322.4Q1210.6,326.4 1208.2,330.8Q1205.8,335.2 1203.4,339.6Q1201.1,344 1199.3,348.7Q1197.6,353.4 1197.2,358.4Q1196.7,363.4 1197.2,368.3Q1197.6,373.3 1199,378.1Q1200.5,382.9 1202.5,387.5Q1204.6,392 1207.1,396.3L1209.7,400.6 M1506.9,131.8Q1512.5,140.1 1515,144.5Q1517.5,148.8 1519.7,153.3Q1522,157.7 1524.3,162.2Q1526.6,166.6 1528.6,171.2Q1530.6,175.7 1532.4,180.4Q1534.1,185.1 1535.5,189.9Q1536.9,194.7 1538,199.6Q1539.1,204.5 1539.5,209.5L1539.9,214.5 M1471.4,43.1Q1464.2,50.1 1460.5,53.4Q1456.7,56.7 1452.8,59.9Q1449,63 1445,66.1Q1441.1,69.2 1437,72.1Q1433,75 1429,78Q1425,81 1420.9,84Q1416.9,86.9 1413,90Q1409,93.1 1405,96.1Q1401.1,99.2 1397.1,102.2Q1393.1,105.2 1389,108.1Q1384.9,111 1380.6,113.4L1376.2,115.8 M1615.4,15Q1614.2,5.1 1613.9,0.1Q1613.7,-4.9 1614.2,-9.8Q1614.7,-14.8 1615.4,-19.8Q1616.1,-24.7 1617.4,-29.5Q1618.7,-34.4 1620.7,-38.9Q1622.7,-43.5 1625.6,-47.6Q1628.5,-51.7 1632,-55.3L1635.5,-58.9 M1380.6,270.6Q1376.6,261.4 1375,256.7Q1373.4,251.9 1372.3,247Q1371.2,242.2 1370.5,237.2Q1369.7,232.3 1369.2,227.3Q1368.7,222.3 1368.4,217.3Q1368.2,212.3 1368.2,207.3Q1368.1,202.3 1368.4,197.3L1368.6,192.4 M1393.9,141.5Q1388.9,132.8 1386.6,128.4Q1384.2,124 1382.2,119.4Q1380.2,114.9 1378.5,110.1Q1376.9,105.4 1375.7,100.6Q1374.5,95.7 1374,90.7Q1373.5,85.8 1373.6,80.8Q1373.6,75.8 1373.9,70.8Q1374.1,65.8 1374.3,60.8L1374.5,55.8 M1392.6,291.5Q1390.9,281.7 1389.4,276.9Q1387.8,272.1 1385.9,267.5Q1384,262.9 1382.1,258.3Q1380.1,253.7 1378,249.2Q1375.9,244.6 1373.8,240.1Q1371.6,235.6 1369.4,231.1Q1367.2,226.6 1364.8,222.2Q1362.5,217.8 1360.5,213.2L1358.6,208.6 M1337.4,247.2Q1339.1,257 1340.2,261.9Q1341.3,266.8 1342.8,271.6Q1344.3,276.3 1346.1,281Q1347.9,285.7 1350,290.2Q1352.1,294.7 1354.4,299.2L1356.7,303.6 M1490.1,184.7Q1482.7,178 1479.1,174.6Q1475.5,171.1 1472.1,167.5Q1468.6,163.8 1465.4,160Q1462.2,156.2 1458.9,152.4Q1455.6,148.6 1452.6,144.7Q1449.5,140.7 1446.4,136.8Q1443.3,132.8 1440.6,128.6Q1437.9,124.4 1435.5,120.1L1433.1,115.7 M1290.3,342.7Q1280.3,342.2 1275.3,342.1Q1270.3,342 1265.4,342.8Q1260.4,343.6 1255.8,345.5Q1251.1,347.3 1247.1,350.2Q1243,353.1 1239.7,356.9Q1236.3,360.6 1233.8,364.9L1231.2,369.2 M1600.5,72.1Q1602.1,82 1603.4,86.8Q1604.8,91.7 1606.3,96.4Q1607.9,101.2 1609.6,105.9Q1611.3,110.6 1613.3,115.2Q1615.3,119.7 1618,123.9Q1620.8,128.1 1624.5,131.4Q1628.3,134.7 1632.3,137.6Q1636.4,140.5 1640.6,143.3Q1644.7,146.1 1649,148.7Q1653.2,151.4 1657.5,154Q1661.8,156.5 1666.2,158.9Q1670.6,161.3 1675,163.5Q1679.5,165.8 1684.1,167.8L1688.6,169.8 M1339.6,99Q1339.4,109 1338.7,113.9Q1338.1,118.9 1337.4,123.8Q1336.7,128.8 1335.7,133.7Q1334.7,138.6 1333.6,143.5Q1332.4,148.3 1331,153.1Q1329.7,157.9 1328,162.7Q1326.4,167.4 1324.5,172Q1322.5,176.6 1320.1,181Q1317.7,185.4 1315,189.6Q1312.3,193.8 1309.6,198Q1306.8,202.2 1303.9,206.2Q1300.9,210.2 1298.2,214.4Q1295.4,218.6 1292.9,222.9Q1290.4,227.2 1288.3,231.8L1286.3,236.3 M1569.3,120.9Q1566.2,130.5 1564.5,135.2Q1562.8,139.9 1560.7,144.4Q1558.6,148.9 1556.2,153.3Q1553.8,157.7 1551,161.9Q1548.2,166 1545,169.8Q1541.8,173.6 1538.1,177Q1534.4,180.4 1530.4,183.3Q1526.3,186.2 1521.8,188.4Q1517.2,190.5 1512.5,191.9Q1507.7,193.4 1502.7,193.9L1497.7,194.3 M1189.9,290.3Q1188.2,300.1 1186.9,305Q1185.6,309.8 1184,314.5Q1182.5,319.3 1180.3,323.8Q1178.2,328.3 1175.7,332.7Q1173.3,337.1 1171.1,341.6Q1168.9,346 1166.9,350.6Q1164.9,355.2 1162.9,359.8Q1161,364.4 1158.8,368.9Q1156.6,373.4 1154.1,377.7Q1151.6,382.1 1149.2,386.4Q1146.7,390.8 1144.3,395.2Q1142,399.6 1139.7,404Q1137.5,408.5 1135.9,413.2Q1134.2,418 1133.4,422.9L1132.5,427.8 M1415.9,284.1Q1421.6,292.3 1424.1,296.6Q1426.6,301 1428.7,305.5Q1430.9,310 1433,314.5Q1435.1,319 1437.1,323.6Q1439.1,328.2 1441.4,332.7Q1443.6,337.1 1445.8,341.7Q1447.9,346.2 1449.8,350.8Q1451.8,355.4 1453.4,360.1Q1455,364.9 1456.3,369.7L1457.5,374.5 M1492.3,112Q1491.3,121.9 1489.8,126.7Q1488.3,131.5 1486.4,136.1Q1484.5,140.7 1482.6,145.4Q1480.8,150 1479.1,154.7Q1477.5,159.5 1476,164.2Q1474.4,169 1473.6,173.9Q1472.9,178.8 1473.1,183.8Q1473.3,188.8 1474.1,193.8Q1474.9,198.7 1476.1,203.6Q1477.2,208.4 1478.5,213.3Q1479.9,218.1 1481.5,222.8L1483.1,227.5 M1609,271.5Q1617.4,277 1621.5,279.8Q1625.7,282.6 1630,285.1Q1634.3,287.6 1638.8,289.8Q1643.3,291.9 1648,293.6Q1652.7,295.3 1657.6,296.5Q1662.5,297.7 1667.4,298.5Q1672.3,299.3 1677.3,299.4L1682.3,299.5 M1511.9,91.6Q1502.6,95.4 1498,97.2Q1493.3,99 1488.5,100.1Q1483.6,101.3 1478.7,102.2Q1473.7,103.1 1468.8,103.7Q1463.8,104.4 1458.8,104.7Q1453.9,105.1 1448.9,105.7Q1443.9,106.2 1439.1,107.5L1434.2,108.7 M1403,146.9Q1412.2,143 1417.1,141.8Q1421.9,140.6 1426.9,140.4Q1431.9,140.2 1436.9,141.2Q1441.8,142.1 1446.5,143.7Q1451.2,145.3 1455.7,147.6Q1460.2,149.8 1464.4,152.4Q1468.7,155 1472.8,157.9Q1476.8,160.9 1480.6,164.1L1484.5,167.3 M1554.4,30.2Q1560.2,38.4 1563.1,42.5Q1565.9,46.6 1568.7,50.8Q1571.4,54.9 1574.2,59.1Q1577,63.2 1579.9,67.3Q1582.7,71.5 1585.6,75.6Q1588.4,79.7 1591.4,83.7Q1594.4,87.7 1597.8,91.4Q1601.1,95.1 1604.9,98.4Q1608.7,101.6 1612.7,104.6Q1616.7,107.6 1620.9,110.2Q1625.2,112.9 1629.5,115.4L1633.9,117.9 M1233.1,354.1Q1240,361.3 1243.1,365.3Q1246.1,369.3 1248.9,373.4Q1251.7,377.5 1254.4,381.8Q1257.1,386 1259.3,390.5Q1261.5,395 1263.7,399.5Q1265.9,404 1268,408.5Q1270.2,413 1272.2,417.6Q1274.1,422.2 1276.1,426.8Q1278.1,431.4 1280.5,435.7Q1283,440.1 1285.8,444.2Q1288.6,448.3 1291.8,452.1Q1295.1,456 1298.5,459.6Q1301.9,463.3 1305.5,466.7Q1309.2,470.1 1313.2,473.1L1317.2,476.1 M1197.4,353.9Q1191.4,361.9 1188.5,366Q1185.6,370.1 1183.3,374.5Q1180.9,378.9 1179.1,383.6Q1177.3,388.2 1176.1,393.1Q1174.8,397.9 1173.9,402.8Q1173,407.7 1172.1,412.7Q1171.2,417.6 1170.6,422.5Q1170.1,427.5 1170.4,432.5Q1170.8,437.5 1171.4,442.5Q1172,447.4 1172.7,452.4Q1173.4,457.3 1174,462.3L1174.5,467.3 M1570.9,55.9Q1567.9,65.4 1566.4,70.2Q1564.9,75 1563.3,79.7Q1561.8,84.5 1560.3,89.2Q1558.8,94 1557.3,98.8Q1555.9,103.6 1554.7,108.4Q1553.5,113.3 1553.3,118.3Q1553,123.3 1553.5,128.3L1554,133.2 M1393.1,236.1Q1392.4,226.1 1392.2,221.1Q1392,216.1 1391.2,211.2Q1390.5,206.2 1389.4,201.3Q1388.3,196.5 1386.7,191.7Q1385.1,187 1383,182.4Q1381,177.9 1378.1,173.7Q1375.3,169.6 1371.9,166L1368.4,162.4 M1448.9,108Q1451.7,98.4 1453.2,93.7Q1454.8,88.9 1456.4,84.2Q1458,79.5 1459.5,74.7Q1460.9,69.9 1462.1,65.1Q1463.4,60.2 1464.6,55.4Q1465.8,50.5 1467.2,45.7Q1468.6,40.9 1470.1,36.1Q1471.6,31.4 1472.9,26.5Q1474.1,21.7 1474.9,16.8Q1475.8,11.8 1475.9,6.8Q1476.1,1.8 1475.7,-3.1Q1475.2,-8.1 1474.1,-13L1473,-17.9 M1349.2,256.9Q1349.7,266.9 1349.8,271.9Q1349.9,276.9 1350.1,281.9Q1350.4,286.9 1350.7,291.9Q1350.9,296.9 1351.4,301.9Q1351.9,306.8 1352.5,311.8Q1353.1,316.8 1354.2,321.6Q1355.3,326.5 1357.1,331.2Q1358.8,335.9 1360.9,340.4Q1363,345 1365.4,349.4Q1367.7,353.8 1370,358.2Q1372.4,362.6 1375,366.9Q1377.7,371.1 1380.5,375.2L1383.3,379.3 M1523.1,320.6Q1522.2,330.5 1521.8,335.5Q1521.3,340.5 1520.4,345.4Q1519.5,350.3 1518,355.1Q1516.6,359.9 1514.4,364.4Q1512.3,368.9 1510.2,373.5Q1508.2,378 1506,382.6Q1503.9,387.1 1501.5,391.5Q1499,395.8 1496.4,400.1Q1493.7,404.3 1490.5,408.1Q1487.3,412 1483.7,415.4Q1480.1,418.9 1476.1,422Q1472.2,425 1468.2,428.1Q1464.3,431.1 1460.5,434.4L1456.8,437.8" fill="none" stroke-linecap="round" stroke-linejoin="round" stroke="#c8c8c8" stroke-width="1.53" opacity="0.95"/>
<path d="M1426.7,274.2Q1427.3,264.2 1427.8,259.2Q1428.3,254.3 1429,249.3Q1429.7,244.4 1430,239.4Q1430.3,234.4 1430.5,229.4Q1430.8,224.4 1430.8,219.4Q1430.9,214.4 1430.5,209.4Q1430.1,204.4 1429.7,199.4L1429.3,194.4 M1515.3,138.8Q1513.8,129 1513.1,124Q1512.4,119.1 1511.7,114.1Q1511,109.2 1510.3,104.2Q1509.5,99.3 1508.9,94.3Q1508.4,89.3 1507.9,84.3Q1507.5,79.4 1507.3,74.4Q1507.1,69.4 1507.1,64.4Q1507.2,59.4 1507.3,54.4Q1507.5,49.4 1507.8,44.4Q1508.1,39.4 1508.6,34.4Q1509.1,29.5 1510.1,24.6L1511.1,19.7 M1612.8,184.7Q1615.5,194.4 1616.6,199.2Q1617.7,204.1 1618.7,209Q1619.7,213.9 1621.1,218.7Q1622.5,223.5 1624.1,228.3Q1625.6,233 1627.7,237.6Q1629.8,242.1 1632.3,246.4Q1634.9,250.7 1637.8,254.8Q1640.8,258.8 1644.3,262.3Q1647.9,265.8 1651.6,269.2Q1655.3,272.5 1659.4,275.3L1663.5,278.2 M1441.8,88Q1444.3,78.3 1445.7,73.5Q1447,68.7 1448.3,63.9Q1449.5,59 1450.9,54.2Q1452.3,49.4 1453.7,44.6L1455.2,39.8 M1577.7,226.6Q1576.6,236.5 1576.5,241.5Q1576.3,246.5 1576.4,251.5Q1576.5,256.5 1576.5,261.5Q1576.4,266.5 1576.2,271.5Q1576,276.5 1576,281.5Q1576.1,286.5 1576.4,291.5Q1576.7,296.5 1577.4,301.4L1578.2,306.4 M1313.1,326.6Q1321.3,332.3 1325.5,334.9Q1329.8,337.5 1334.2,339.8Q1338.7,342.1 1343.4,343.8Q1348.1,345.4 1353,346.7L1357.8,347.9 M1187.3,321Q1191.2,330.1 1193.4,334.6Q1195.6,339.1 1197.7,343.7Q1199.8,348.2 1201.8,352.8Q1203.9,357.4 1205.3,362.2Q1206.7,367 1207.7,371.8Q1208.7,376.7 1209.1,381.7Q1209.6,386.7 1209.3,391.7Q1209,396.7 1208.1,401.6Q1207.2,406.5 1206.2,411.4Q1205.3,416.3 1204.3,421.2Q1203.2,426.1 1201.8,430.9Q1200.4,435.7 1198.4,440.3Q1196.3,444.8 1193.7,449.1L1191.2,453.5 M1570.8,45.6Q1575.1,54.6 1577,59.3Q1578.9,63.9 1580.6,68.6Q1582.2,73.3 1583.6,78.1Q1584.9,83 1586.1,87.8Q1587.4,92.6 1588.4,97.5Q1589.5,102.4 1590.3,107.4Q1591.1,112.3 1591.4,117.3Q1591.7,122.3 1591.8,127.3Q1592,132.3 1592,137.3Q1592.1,142.3 1592,147.3Q1591.9,152.3 1592,157.3L1592,162.3 M1380,225.2Q1373.8,233 1370.8,237.1Q1367.8,241.1 1365.1,245.3Q1362.3,249.4 1359.6,253.6Q1357,257.9 1354.6,262.3Q1352.3,266.7 1350.4,271.3Q1348.5,276 1346.8,280.7Q1345.1,285.4 1343.3,290Q1341.4,294.7 1339.4,299.2L1337.4,303.8 M1238.7,147.8Q1245.8,154.8 1249.6,158Q1253.4,161.3 1257.4,164.3Q1261.3,167.4 1265.4,170.3Q1269.4,173.2 1273.7,175.9Q1277.9,178.5 1282.4,180.8Q1286.8,183.1 1291.4,185.1Q1295.9,187.2 1300.6,189Q1305.2,190.8 1310.1,192.1L1314.9,193.4 M1442.9,42.6Q1442.5,32.6 1441.4,27.7Q1440.4,22.8 1438.8,18Q1437.3,13.3 1435.1,8.8Q1432.9,4.3 1430.6,-0.1Q1428.2,-4.6 1425.9,-9Q1423.6,-13.4 1421.4,-17.9Q1419.1,-22.4 1417,-26.9L1414.8,-31.4 M1273.7,159.5Q1278.5,168.3 1280.9,172.7Q1283.2,177.2 1285.1,181.8Q1287,186.4 1287.9,191.3Q1288.9,196.2 1289.1,201.2L1289.3,206.2 M1217,176.9Q1219.3,167.1 1220.1,162.2Q1221,157.3 1221.5,152.3Q1222.1,147.3 1222.5,142.4Q1222.9,137.4 1223.3,132.4Q1223.6,127.4 1224.3,122.4Q1224.9,117.5 1226,112.6Q1227,107.7 1228.4,102.9Q1229.8,98.1 1231.6,93.4Q1233.4,88.8 1235.6,84.3Q1237.7,79.7 1240.2,75.4Q1242.7,71.1 1245.9,67.2Q1249.1,63.4 1252.7,60Q1256.4,56.6 1260.6,53.8L1264.8,51.1 M1403.3,27.3Q1396.8,34.9 1393.7,38.8Q1390.7,42.8 1388,47Q1385.2,51.2 1382.8,55.6Q1380.4,60 1377.8,64.2Q1375.1,68.4 1372.2,72.5Q1369.2,76.5 1366.1,80.4Q1363,84.3 1359.7,88.1Q1356.4,91.9 1352.6,95.1Q1348.7,98.3 1344.4,100.8Q1340.1,103.4 1335.5,105.2Q1330.9,107.1 1326,108.3Q1321.2,109.5 1316.2,110Q1311.2,110.4 1306.2,110.4L1301.2,110.3 M1618.2,177.8Q1617.8,187.7 1617.6,192.7Q1617.5,197.7 1617.5,202.7Q1617.5,207.7 1617.9,212.7Q1618.2,217.7 1618.8,222.7Q1619.3,227.7 1620,232.6Q1620.8,237.6 1622.1,242.4Q1623.5,247.2 1625.5,251.7Q1627.6,256.3 1630.6,260.3Q1633.6,264.3 1637.7,267.2Q1641.7,270.2 1646.1,272.6L1650.5,274.9 M1594.4,186.9Q1593.9,176.9 1594,171.9Q1594,166.9 1594.3,161.9Q1594.6,156.9 1594.9,151.9Q1595.3,146.9 1595.7,141.9Q1596,136.9 1596.8,132Q1597.6,127.1 1599.1,122.3L1600.6,117.5 M1388.7,67.8Q1383,76 1380,80Q1377,84 1373.9,87.9Q1370.7,91.8 1367.5,95.6Q1364.2,99.4 1361.2,103.3Q1358.2,107.3 1355.3,111.4Q1352.5,115.5 1349.8,119.7Q1347.1,124 1344.2,128.1Q1341.3,132.2 1338.6,136.3Q1335.8,140.5 1333.2,144.7L1330.5,149 M1430.1,132.4Q1420.7,135.9 1416.2,138Q1411.7,140.1 1407.3,142.6Q1403,145.1 1399,148.1Q1394.9,151 1391,154.1Q1387,157.2 1383.4,160.5Q1379.7,163.9 1376.1,167.4Q1372.6,171 1369.4,174.8Q1366.1,178.6 1363.2,182.6Q1360.3,186.7 1358,191.2Q1355.7,195.6 1353.7,200.2L1351.7,204.8 M1426.9,337.5Q1433.1,345.3 1435.9,349.4Q1438.8,353.5 1441.4,357.8Q1443.9,362.1 1446.5,366.4Q1449.2,370.6 1452,374.7Q1454.9,378.8 1458,382.8Q1461.1,386.7 1464.8,390.1Q1468.5,393.4 1472.7,396.2L1476.8,399 M1391.2,281.5Q1391.1,271.5 1390.8,266.5Q1390.6,261.5 1390.1,256.5Q1389.7,251.6 1389.1,246.6Q1388.5,241.6 1387.8,236.7Q1387.2,231.7 1386.3,226.8Q1385.3,221.9 1384.1,217.1Q1382.8,212.2 1381.4,207.4Q1379.9,202.6 1378.3,197.9Q1376.7,193.2 1374.5,188.7Q1372.3,184.2 1369.5,180Q1366.8,175.8 1363.9,171.8Q1361,167.7 1358.3,163.5L1355.7,159.2 M1452.2,264.6Q1458.4,256.8 1461.6,252.9Q1464.8,249.1 1467.8,245.1Q1470.8,241.1 1474,237.2Q1477.1,233.3 1480.6,229.8Q1484.1,226.2 1487.9,222.9Q1491.6,219.6 1495.3,216.2Q1498.9,212.8 1502.3,209.1Q1505.8,205.5 1509.1,201.7L1512.3,198 M1544.2,304.6Q1547.7,313.9 1549.7,318.5Q1551.7,323.1 1553.7,327.7Q1555.8,332.3 1557.5,337Q1559.2,341.7 1560.6,346.4Q1562.1,351.2 1562.6,356.2L1563.1,361.2 M1596.2,358.4Q1598,348.5 1599.1,343.6Q1600.1,338.7 1600.8,333.8Q1601.4,328.8 1601.4,323.8Q1601.3,318.8 1600.4,313.9Q1599.5,309 1598.1,304.2Q1596.8,299.4 1595.3,294.6Q1593.8,289.8 1591.8,285.2Q1589.9,280.6 1587.5,276.2Q1585.2,271.8 1582.4,267.6L1579.7,263.4 M1197.2,232.6Q1203.1,224.6 1206.4,220.8Q1209.7,217.1 1213.2,213.5Q1216.8,210 1220.6,206.7Q1224.3,203.4 1228.1,200.2Q1231.9,196.9 1235.6,193.5Q1239.2,190.1 1242.7,186.5Q1246.2,183 1249.3,179Q1252.3,175 1255.3,171Q1258.2,166.9 1261.1,162.9Q1264,158.8 1266.9,154.7Q1269.9,150.7 1273.1,146.8L1276.2,143 M1297,169.3Q1287.3,166.9 1282.4,165.8Q1277.5,164.6 1272.6,163.7Q1267.7,162.7 1262.7,162.3Q1257.8,161.8 1252.8,162Q1247.8,162.1 1242.9,163.2L1238,164.3 M1476.2,194.7Q1471,186.2 1468.4,181.9Q1465.9,177.6 1463.7,173.2Q1461.4,168.7 1459.4,164.1Q1457.4,159.5 1455.5,154.9Q1453.6,150.3 1451.1,145.9Q1448.7,141.6 1446,137.3Q1443.3,133.1 1440.9,128.8Q1438.4,124.4 1436.2,119.9L1434,115.5 M1216.1,60.1Q1226.1,59.3 1231.1,58.7Q1236,58.1 1241,57.7Q1246,57.3 1251,56.8Q1255.9,56.2 1260.8,54.9Q1265.6,53.6 1270.2,51.7Q1274.8,49.7 1278.9,46.9Q1283.1,44.1 1287,41.1Q1291,38 1295.2,35.2Q1299.3,32.4 1303.7,30.1L1308.1,27.7 M1191,288.1Q1193.5,297.7 1194.8,302.6Q1196.1,307.4 1197.3,312.3Q1198.6,317.1 1199.8,322Q1200.9,326.8 1202.5,331.6Q1204,336.3 1205.9,341Q1207.8,345.6 1210.2,350Q1212.5,354.4 1215.2,358.6Q1217.9,362.8 1221.2,366.6Q1224.5,370.3 1228.2,373.7Q1231.9,377.1 1235.7,380.3L1239.5,383.6 M1408.7,350.1Q1409,360.1 1408.9,365.1Q1408.8,370.1 1408.7,375.1Q1408.6,380.1 1408.7,385.1Q1408.7,390.1 1408.5,395.1Q1408.4,400.1 1407.8,405Q1407.3,410 1406.3,414.9L1405.4,419.8 M1382.8,122.7Q1389.9,129.8 1393.3,133.5Q1396.6,137.2 1399.8,141.1Q1403,145 1405.9,149Q1408.8,153.1 1411.5,157.3Q1414.1,161.5 1416.3,166Q1418.5,170.5 1420.1,175.3Q1421.7,180 1422.1,185Q1422.6,190 1422.2,194.9Q1421.9,199.9 1420.5,204.8Q1419.2,209.6 1416.7,213.9Q1414.3,218.3 1411.5,222.4Q1408.7,226.6 1405.9,230.7Q1403,234.8 1400.4,239.1L1397.8,243.3 M1404,136.6Q1403.7,146.6 1403.4,151.6Q1403.2,156.5 1402.4,161.5Q1401.7,166.4 1400.2,171.2Q1398.7,176 1396.5,180.5Q1394.3,185 1391.7,189.2Q1389.1,193.5 1385.9,197.4Q1382.7,201.2 1378.8,204.3Q1374.9,207.4 1370.6,210Q1366.3,212.6 1361.7,214.4Q1357,216.3 1352.1,216.9L1347.1,217.5 M1406.8,302.8Q1415.9,306.9 1420.8,308.1Q1425.6,309.3 1430.6,310Q1435.5,310.7 1440.5,311.1Q1445.5,311.5 1450.5,311.9L1455.5,312.4 M1364.7,174.5Q1355,171.9 1350.3,170.4Q1345.5,169 1340.8,167.3Q1336,165.7 1331.3,163.9Q1326.7,162.2 1322.1,160.2L1317.5,158.2 M1526.7,328.8Q1516.8,330.4 1511.9,330.9Q1506.9,331.4 1501.9,331.8Q1496.9,332.2 1492,332.8Q1487,333.5 1482,333.9Q1477,334.3 1472.1,333.8Q1467.1,333.3 1462.3,332Q1457.4,330.6 1453,328.4Q1448.5,326.2 1444.7,322.9Q1441,319.6 1437.9,315.6Q1434.9,311.6 1432.9,307L1431,302.4 M1558.5,136.8Q1563.3,145.6 1565.9,149.8Q1568.5,154.1 1571.5,158.2Q1574.4,162.2 1577.8,165.8Q1581.2,169.5 1585.3,172.5Q1589.3,175.4 1593.8,177.6Q1598.2,179.9 1603.1,181Q1608,182.2 1612.9,182.6Q1617.9,183 1622.9,183.2Q1627.9,183.4 1632.9,183.5Q1637.9,183.5 1642.9,183.2Q1647.9,182.9 1652.9,182.9Q1657.9,182.9 1662.9,182.6Q1667.9,182.2 1672.8,181.6Q1677.8,181 1682.7,179.8L1687.5,178.7 M1623.2,83.2Q1622.8,93.2 1621.8,98.1Q1620.8,103 1618.9,107.6Q1616.9,112.2 1614.4,116.6Q1612,120.9 1609,124.9Q1606,128.9 1602.5,132.5Q1599,136.1 1595.1,139.2Q1591.2,142.3 1586.9,144.9Q1582.6,147.5 1578.2,149.8Q1573.7,152.1 1569.1,154Q1564.5,155.9 1559.9,157.7Q1555.2,159.5 1550.6,161.5Q1546,163.4 1541.3,165.3Q1536.7,167.2 1532.3,169.5L1527.8,171.7 M1312.5,72.8Q1320.6,67 1324.6,64Q1328.5,60.9 1332.5,57.8Q1336.4,54.7 1340.4,51.7Q1344.4,48.7 1348.3,45.6Q1352.2,42.5 1355.8,39Q1359.4,35.6 1362.6,31.7Q1365.8,27.8 1368.6,23.7L1371.3,19.5 M1421,79.7Q1417.3,88.9 1415.1,93.5Q1413,98 1410.7,102.4Q1408.3,106.8 1405.9,111.2Q1403.5,115.6 1401.1,120Q1398.8,124.4 1395.8,128.4Q1392.9,132.5 1389.6,136.3Q1386.3,140 1383,143.8Q1379.7,147.5 1376.3,151.2L1373,154.9 M1484,80.1Q1492.7,75 1496.9,72.4Q1501.2,69.8 1505.4,67.1Q1509.6,64.4 1513.8,61.8Q1518.1,59.1 1522.1,56.2Q1526.2,53.3 1530.3,50.4L1534.4,47.6 M1498.6,233.5Q1488.6,234.3 1483.7,235.1Q1478.8,235.9 1473.8,236.7Q1468.9,237.4 1464,238.5Q1459.1,239.5 1454.2,240.6Q1449.3,241.6 1444.4,242.3Q1439.4,243.1 1434.5,243.7Q1429.5,244.3 1424.5,244.9Q1419.6,245.4 1414.6,245.5Q1409.6,245.7 1404.6,245.3Q1399.6,244.9 1394.7,244Q1389.8,243 1385.1,241.2Q1380.4,239.5 1376.1,237Q1371.7,234.6 1367.8,231.5Q1363.8,228.4 1360.3,224.9L1356.7,221.4 M1554.7,42.8Q1550.4,51.9 1548.2,56.4Q1546,60.8 1543.6,65.3Q1541.3,69.7 1538.8,74Q1536.3,78.3 1534,82.7Q1531.7,87.2 1529.5,91.7Q1527.3,96.2 1525.1,100.7L1523,105.2 M1222.5,310.3Q1216.5,318.3 1213.5,322.4Q1210.6,326.4 1208.2,330.8Q1205.8,335.2 1203.4,339.6Q1201.1,344 1199.3,348.7Q1197.6,353.4 1197.2,358.4Q1196.7,363.4 1197.2,368.3Q1197.6,373.3 1199,378.1Q1200.5,382.9 1202.5,387.5Q1204.6,392 1207.1,396.3L1209.7,400.6 M1506.9,131.8Q1512.5,140.1 1515,144.5Q1517.5,148.8 1519.7,153.3Q1522,157.7 1524.3,162.2Q1526.6,166.6 1528.6,171.2Q1530.6,175.7 1532.4,180.4Q1534.1,185.1 1535.5,189.9Q1536.9,194.7 1538,199.6Q1539.1,204.5 1539.5,209.5L1539.9,214.5 M1471.4,43.1Q1464.2,50.1 1460.5,53.4Q1456.7,56.7 1452.8,59.9Q1449,63 1445,66.1Q1441.1,69.2 1437,72.1Q1433,75 1429,78Q1425,81 1420.9,84Q1416.9,86.9 1413,90Q1409,93.1 1405,96.1Q1401.1,99.2 1397.1,102.2Q1393.1,105.2 1389,108.1Q1384.9,111 1380.6,113.4L1376.2,115.8 M1615.4,15Q1614.2,5.1 1613.9,0.1Q1613.7,-4.9 1614.2,-9.8Q1614.7,-14.8 1615.4,-19.8Q1616.1,-24.7 1617.4,-29.5Q1618.7,-34.4 1620.7,-38.9Q1622.7,-43.5 1625.6,-47.6Q1628.5,-51.7 1632,-55.3L1635.5,-58.9 M1380.6,270.6Q1376.6,261.4 1375,256.7Q1373.4,251.9 1372.3,247Q1371.2,242.2 1370.5,237.2Q1369.7,232.3 1369.2,227.3Q1368.7,222.3 1368.4,217.3Q1368.2,212.3 1368.2,207.3Q1368.1,202.3 1368.4,197.3L1368.6,192.4 M1393.9,141.5Q1388.9,132.8 1386.6,128.4Q1384.2,124 1382.2,119.4Q1380.2,114.9 1378.5,110.1Q1376.9,105.4 1375.7,100.6Q1374.5,95.7 1374,90.7Q1373.5,85.8 1373.6,80.8Q1373.6,75.8 1373.9,70.8Q1374.1,65.8 1374.3,60.8L1374.5,55.8 M1392.6,291.5Q1390.9,281.7 1389.4,276.9Q1387.8,272.1 1385.9,267.5Q1384,262.9 1382.1,258.3Q1380.1,253.7 1378,249.2Q1375.9,244.6 1373.8,240.1Q1371.6,235.6 1369.4,231.1Q1367.2,226.6 1364.8,222.2Q1362.5,217.8 1360.5,213.2L1358.6,208.6 M1337.4,247.2Q1339.1,257 1340.2,261.9Q1341.3,266.8 1342.8,271.6Q1344.3,276.3 1346.1,281Q1347.9,285.7 1350,290.2Q1352.1,294.7 1354.4,299.2L1356.7,303.6 M1490.1,184.7Q1482.7,178 1479.1,174.6Q1475.5,171.1 1472.1,167.5Q1468.6,163.8 1465.4,160Q1462.2,156.2 1458.9,152.4Q1455.6,148.6 1452.6,144.7Q1449.5,140.7 1446.4,136.8Q1443.3,132.8 1440.6,128.6Q1437.9,124.4 1435.5,120.1L1433.1,115.7 M1290.3,342.7Q1280.3,342.2 1275.3,342.1Q1270.3,342 1265.4,342.8Q1260.4,343.6 1255.8,345.5Q1251.1,347.3 1247.1,350.2Q1243,353.1 1239.7,356.9Q1236.3,360.6 1233.8,364.9L1231.2,369.2 M1600.5,72.1Q1602.1,82 1603.4,86.8Q1604.8,91.7 1606.3,96.4Q1607.9,101.2 1609.6,105.9Q1611.3,110.6 1613.3,115.2Q1615.3,119.7 1618,123.9Q1620.8,128.1 1624.5,131.4Q1628.3,134.7 1632.3,137.6Q1636.4,140.5 1640.6,143.3Q1644.7,146.1 1649,148.7Q1653.2,151.4 1657.5,154Q1661.8,156.5 1666.2,158.9Q1670.6,161.3 1675,163.5Q1679.5,165.8 1684.1,167.8L1688.6,169.8 M1339.6,99Q1339.4,109 1338.7,113.9Q1338.1,118.9 1337.4,123.8Q1336.7,128.8 1335.7,133.7Q1334.7,138.6 1333.6,143.5Q1332.4,148.3 1331,153.1Q1329.7,157.9 1328,162.7Q1326.4,167.4 1324.5,172Q1322.5,176.6 1320.1,181Q1317.7,185.4 1315,189.6Q1312.3,193.8 1309.6,198Q1306.8,202.2 1303.9,206.2Q1300.9,210.2 1298.2,214.4Q1295.4,218.6 1292.9,222.9Q1290.4,227.2 1288.3,231.8L1286.3,236.3 M1569.3,120.9Q1566.2,130.5 1564.5,135.2Q1562.8,139.9 1560.7,144.4Q1558.6,148.9 1556.2,153.3Q1553.8,157.7 1551,161.9Q1548.2,166 1545,169.8Q1541.8,173.6 1538.1,177Q1534.4,180.4 1530.4,183.3Q1526.3,186.2 1521.8,188.4Q1517.2,190.5 1512.5,191.9Q1507.7,193.4 1502.7,193.9L1497.7,194.3 M1189.9,290.3Q1188.2,300.1 1186.9,305Q1185.6,309.8 1184,314.5Q1182.5,319.3 1180.3,323.8Q1178.2,328.3 1175.7,332.7Q1173.3,337.1 1171.1,341.6Q1168.9,346 1166.9,350.6Q1164.9,355.2 1162.9,359.8Q1161,364.4 1158.8,368.9Q1156.6,373.4 1154.1,377.7Q1151.6,382.1 1149.2,386.4Q1146.7,390.8 1144.3,395.2Q1142,399.6 1139.7,404Q1137.5,408.5 1135.9,413.2Q1134.2,418 1133.4,422.9L1132.5,427.8 M1415.9,284.1Q1421.6,292.3 1424.1,296.6Q1426.6,301 1428.7,305.5Q1430.9,310 1433,314.5Q1435.1,319 1437.1,323.6Q1439.1,328.2 1441.4,332.7Q1443.6,337.1 1445.8,341.7Q1447.9,346.2 1449.8,350.8Q1451.8,355.4 1453.4,360.1Q1455,364.9 1456.3,369.7L1457.5,374.5 M1492.3,112Q1491.3,121.9 1489.8,126.7Q1488.3,131.5 1486.4,136.1Q1484.5,140.7 1482.6,145.4Q1480.8,150 1479.1,154.7Q1477.5,159.5 1476,164.2Q1474.4,169 1473.6,173.9Q1472.9,178.8 1473.1,183.8Q1473.3,188.8 1474.1,193.8Q1474.9,198.7 1476.1,203.6Q1477.2,208.4 1478.5,213.3Q1479.9,218.1 1481.5,222.8L1483.1,227.5 M1609,271.5Q1617.4,277 1621.5,279.8Q1625.7,282.6 1630,285.1Q1634.3,287.6 1638.8,289.8Q1643.3,291.9 1648,293.6Q1652.7,295.3 1657.6,296.5Q1662.5,297.7 1667.4,298.5Q1672.3,299.3 1677.3,299.4L1682.3,299.5 M1511.9,91.6Q1502.6,95.4 1498,97.2Q1493.3,99 1488.5,100.1Q1483.6,101.3 1478.7,102.2Q1473.7,103.1 1468.8,103.7Q1463.8,104.4 1458.8,104.7Q1453.9,105.1 1448.9,105.7Q1443.9,106.2 1439.1,107.5L1434.2,108.7 M1403,146.9Q1412.2,143 1417.1,141.8Q1421.9,140.6 1426.9,140.4Q1431.9,140.2 1436.9,141.2Q1441.8,142.1 1446.5,143.7Q1451.2,145.3 1455.7,147.6Q1460.2,149.8 1464.4,152.4Q1468.7,155 1472.8,157.9Q1476.8,160.9 1480.6,164.1L1484.5,167.3 M1554.4,30.2Q1560.2,38.4 1563.1,42.5Q1565.9,46.6 1568.7,50.8Q1571.4,54.9 1574.2,59.1Q1577,63.2 1579.9,67.3Q1582.7,71.5 1585.6,75.6Q1588.4,79.7 1591.4,83.7Q1594.4,87.7 1597.8,91.4Q1601.1,95.1 1604.9,98.4Q1608.7,101.6 1612.7,104.6Q1616.7,107.6 1620.9,110.2Q1625.2,112.9 1629.5,115.4L1633.9,117.9 M1233.1,354.1Q1240,361.3 1243.1,365.3Q1246.1,369.3 1248.9,373.4Q1251.7,377.5 1254.4,381.8Q1257.1,386 1259.3,390.5Q1261.5,395 1263.7,399.5Q1265.9,404 1268,408.5Q1270.2,413 1272.2,417.6Q1274.1,422.2 1276.1,426.8Q1278.1,431.4 1280.5,435.7Q1283,440.1 1285.8,444.2Q1288.6,448.3 1291.8,452.1Q1295.1,456 1298.5,459.6Q1301.9,463.3 1305.5,466.7Q1309.2,470.1 1313.2,473.1L1317.2,476.1 M1197.4,353.9Q1191.4,361.9 1188.5,366Q1185.6,370.1 1183.3,374.5Q1180.9,378.9 1179.1,383.6Q1177.3,388.2 1176.1,393.1Q1174.8,397.9 1173.9,402.8Q1173,407.7 1172.1,412.7Q1171.2,417.6 1170.6,422.5Q1170.1,427.5 1170.4,432.5Q1170.8,437.5 1171.4,442.5Q1172,447.4 1172.7,452.4Q1173.4,457.3 1174,462.3L1174.5,467.3 M1570.9,55.9Q1567.9,65.4 1566.4,70.2Q1564.9,75 1563.3,79.7Q1561.8,84.5 1560.3,89.2Q1558.8,94 1557.3,98.8Q1555.9,103.6 1554.7,108.4Q1553.5,113.3 1553.3,118.3Q1553,123.3 1553.5,128.3L1554,133.2 M1393.1,236.1Q1392.4,226.1 1392.2,221.1Q1392,216.1 1391.2,211.2Q1390.5,206.2 1389.4,201.3Q1388.3,196.5 1386.7,191.7Q1385.1,187 1383,182.4Q1381,177.9 1378.1,173.7Q1375.3,169.6 1371.9,166L1368.4,162.4 M1448.9,108Q1451.7,98.4 1453.2,93.7Q1454.8,88.9 1456.4,84.2Q1458,79.5 1459.5,74.7Q1460.9,69.9 1462.1,65.1Q1463.4,60.2 1464.6,55.4Q1465.8,50.5 1467.2,45.7Q1468.6,40.9 1470.1,36.1Q1471.6,31.4 1472.9,26.5Q1474.1,21.7 1474.9,16.8Q1475.8,11.8 1475.9,6.8Q1476.1,1.8 1475.7,-3.1Q1475.2,-8.1 1474.1,-13L1473,-17.9 M1349.2,256.9Q1349.7,266.9 1349.8,271.9Q1349.9,276.9 1350.1,281.9Q1350.4,286.9 1350.7,291.9Q1350.9,296.9 1351.4,301.9Q1351.9,306.8 1352.5,311.8Q1353.1,316.8 1354.2,321.6Q1355.3,326.5 1357.1,331.2Q1358.8,335.9 1360.9,340.4Q1363,345 1365.4,349.4Q1367.7,353.8 1370,358.2Q1372.4,362.6 1375,366.9Q1377.7,371.1 1380.5,375.2L1383.3,379.3 M1523.1,320.6Q1522.2,330.5 1521.8,335.5Q1521.3,340.5 1520.4,345.4Q1519.5,350.3 1518,355.1Q1516.6,359.9 1514.4,364.4Q1512.3,368.9 1510.2,373.5Q1508.2,378 1506,382.6Q1503.9,387.1 1501.5,391.5Q1499,395.8 1496.4,400.1Q1493.7,404.3 1490.5,408.1Q1487.3,412 1483.7,415.4Q1480.1,418.9 1476.1,422Q1472.2,425 1468.2,428.1Q1464.3,431.1 1460.5,434.4L1456.8,437.8" fill="none" stroke-linecap="round" stroke-linejoin="round" stroke="#e6e6e6" stroke-width="0.68" opacity="0.6" transform="translate(-0.5 -0.5)"/>
<circle cx="1426.7" cy="274.2" r="4.5" fill="#bcbcbc" stroke="#3e3e3e" stroke-width="1.8"/>
<circle cx="1425.9" cy="273.4" r="5.7" fill="none" stroke="#e4e4e4" stroke-width="0.8" opacity="0.7"/>
<circle cx="1612.8" cy="184.7" r="4.5" fill="#bcbcbc" stroke="#3e3e3e" stroke-width="1.8"/>
<circle cx="1612.0" cy="183.9" r="5.7" fill="none" stroke="#e4e4e4" stroke-width="0.8" opacity="0.7"/>
<circle cx="1441.8" cy="88.0" r="4.5" fill="#bcbcbc" stroke="#3e3e3e" stroke-width="1.8"/>
<circle cx="1441.0" cy="87.2" r="5.7" fill="none" stroke="#e4e4e4" stroke-width="0.8" opacity="0.7"/>
<circle cx="1577.7" cy="226.6" r="4.5" fill="#bcbcbc" stroke="#3e3e3e" stroke-width="1.8"/>
<circle cx="1576.9" cy="225.8" r="5.7" fill="none" stroke="#e4e4e4" stroke-width="0.8" opacity="0.7"/>
<circle cx="1313.1" cy="326.6" r="4.5" fill="#bcbcbc" stroke="#3e3e3e" stroke-width="1.8"/>
<circle cx="1312.3" cy="325.8" r="5.7" fill="none" stroke="#e4e4e4" stroke-width="0.8" opacity="0.7"/>
<circle cx="1187.3" cy="321.0" r="4.5" fill="#bcbcbc" stroke="#3e3e3e" stroke-width="1.8"/>
<circle cx="1186.5" cy="320.2" r="5.7" fill="none" stroke="#e4e4e4" stroke-width="0.8" opacity="0.7"/>
<circle cx="1570.8" cy="45.6" r="4.5" fill="#bcbcbc" stroke="#3e3e3e" stroke-width="1.8"/>
<circle cx="1570.0" cy="44.8" r="5.7" fill="none" stroke="#e4e4e4" stroke-width="0.8" opacity="0.7"/>
<circle cx="1238.7" cy="147.8" r="4.5" fill="#bcbcbc" stroke="#3e3e3e" stroke-width="1.8"/>
<circle cx="1237.9" cy="147.0" r="5.7" fill="none" stroke="#e4e4e4" stroke-width="0.8" opacity="0.7"/>
<circle cx="1442.9" cy="42.6" r="4.5" fill="#bcbcbc" stroke="#3e3e3e" stroke-width="1.8"/>
<circle cx="1442.1" cy="41.8" r="5.7" fill="none" stroke="#e4e4e4" stroke-width="0.8" opacity="0.7"/>
<circle cx="1273.7" cy="159.5" r="4.5" fill="#bcbcbc" stroke="#3e3e3e" stroke-width="1.8"/>
<circle cx="1272.9" cy="158.7" r="5.7" fill="none" stroke="#e4e4e4" stroke-width="0.8" opacity="0.7"/>
<circle cx="1217.0" cy="176.9" r="4.5" fill="#bcbcbc" stroke="#3e3e3e" stroke-width="1.8"/>
<circle cx="1216.2" cy="176.1" r="5.7" fill="none" stroke="#e4e4e4" stroke-width="0.8" opacity="0.7"/>
<circle cx="1403.3" cy="27.3" r="4.5" fill="#bcbcbc" stroke="#3e3e3e" stroke-width="1.8"/>
<circle cx="1402.5" cy="26.5" r="5.7" fill="none" stroke="#e4e4e4" stroke-width="0.8" opacity="0.7"/>
<circle cx="1618.2" cy="177.8" r="4.5" fill="#bcbcbc" stroke="#3e3e3e" stroke-width="1.8"/>
<circle cx="1617.4" cy="177.0" r="5.7" fill="none" stroke="#e4e4e4" stroke-width="0.8" opacity="0.7"/>
<circle cx="1594.4" cy="186.9" r="4.5" fill="#bcbcbc" stroke="#3e3e3e" stroke-width="1.8"/>
<circle cx="1593.6" cy="186.1" r="5.7" fill="none" stroke="#e4e4e4" stroke-width="0.8" opacity="0.7"/>
<circle cx="1388.7" cy="67.8" r="4.5" fill="#bcbcbc" stroke="#3e3e3e" stroke-width="1.8"/>
<circle cx="1387.9" cy="67.0" r="5.7" fill="none" stroke="#e4e4e4" stroke-width="0.8" opacity="0.7"/>
<circle cx="1426.9" cy="337.5" r="4.5" fill="#bcbcbc" stroke="#3e3e3e" stroke-width="1.8"/>
<circle cx="1426.1" cy="336.7" r="5.7" fill="none" stroke="#e4e4e4" stroke-width="0.8" opacity="0.7"/>
<circle cx="1452.2" cy="264.6" r="4.5" fill="#bcbcbc" stroke="#3e3e3e" stroke-width="1.8"/>
<circle cx="1451.4" cy="263.8" r="5.7" fill="none" stroke="#e4e4e4" stroke-width="0.8" opacity="0.7"/>
<circle cx="1596.2" cy="358.4" r="4.5" fill="#bcbcbc" stroke="#3e3e3e" stroke-width="1.8"/>
<circle cx="1595.4" cy="357.6" r="5.7" fill="none" stroke="#e4e4e4" stroke-width="0.8" opacity="0.7"/>
<circle cx="1197.2" cy="232.6" r="4.5" fill="#bcbcbc" stroke="#3e3e3e" stroke-width="1.8"/>
<circle cx="1196.4" cy="231.8" r="5.7" fill="none" stroke="#e4e4e4" stroke-width="0.8" opacity="0.7"/>
<circle cx="1297.0" cy="169.3" r="4.5" fill="#bcbcbc" stroke="#3e3e3e" stroke-width="1.8"/>
<circle cx="1296.2" cy="168.5" r="5.7" fill="none" stroke="#e4e4e4" stroke-width="0.8" opacity="0.7"/>
<circle cx="1476.2" cy="194.7" r="4.5" fill="#bcbcbc" stroke="#3e3e3e" stroke-width="1.8"/>
<circle cx="1475.4" cy="193.9" r="5.7" fill="none" stroke="#e4e4e4" stroke-width="0.8" opacity="0.7"/>
<circle cx="1216.1" cy="60.1" r="4.5" fill="#bcbcbc" stroke="#3e3e3e" stroke-width="1.8"/>
<circle cx="1215.3" cy="59.3" r="5.7" fill="none" stroke="#e4e4e4" stroke-width="0.8" opacity="0.7"/>
<circle cx="1191.0" cy="288.1" r="4.5" fill="#bcbcbc" stroke="#3e3e3e" stroke-width="1.8"/>
<circle cx="1190.2" cy="287.3" r="5.7" fill="none" stroke="#e4e4e4" stroke-width="0.8" opacity="0.7"/>
<circle cx="1408.7" cy="350.1" r="4.5" fill="#bcbcbc" stroke="#3e3e3e" stroke-width="1.8"/>
<circle cx="1407.9" cy="349.3" r="5.7" fill="none" stroke="#e4e4e4" stroke-width="0.8" opacity="0.7"/>
<circle cx="1382.8" cy="122.7" r="4.5" fill="#bcbcbc" stroke="#3e3e3e" stroke-width="1.8"/>
<circle cx="1382.0" cy="121.9" r="5.7" fill="none" stroke="#e4e4e4" stroke-width="0.8" opacity="0.7"/>
<circle cx="1404.0" cy="136.6" r="4.5" fill="#bcbcbc" stroke="#3e3e3e" stroke-width="1.8"/>
<circle cx="1403.2" cy="135.8" r="5.7" fill="none" stroke="#e4e4e4" stroke-width="0.8" opacity="0.7"/>
<circle cx="1406.8" cy="302.8" r="4.5" fill="#bcbcbc" stroke="#3e3e3e" stroke-width="1.8"/>
<circle cx="1406.0" cy="302.0" r="5.7" fill="none" stroke="#e4e4e4" stroke-width="0.8" opacity="0.7"/>
<circle cx="1364.7" cy="174.5" r="4.5" fill="#bcbcbc" stroke="#3e3e3e" stroke-width="1.8"/>
<circle cx="1363.9" cy="173.7" r="5.7" fill="none" stroke="#e4e4e4" stroke-width="0.8" opacity="0.7"/>
<circle cx="1526.7" cy="328.8" r="4.5" fill="#bcbcbc" stroke="#3e3e3e" stroke-width="1.8"/>
<circle cx="1525.9" cy="328.0" r="5.7" fill="none" stroke="#e4e4e4" stroke-width="0.8" opacity="0.7"/>
<circle cx="1558.5" cy="136.8" r="4.5" fill="#bcbcbc" stroke="#3e3e3e" stroke-width="1.8"/>
<circle cx="1557.7" cy="136.0" r="5.7" fill="none" stroke="#e4e4e4" stroke-width="0.8" opacity="0.7"/>
<circle cx="1623.2" cy="83.2" r="4.5" fill="#bcbcbc" stroke="#3e3e3e" stroke-width="1.8"/>
<circle cx="1622.4" cy="82.4" r="5.7" fill="none" stroke="#e4e4e4" stroke-width="0.8" opacity="0.7"/>
<circle cx="1421.0" cy="79.7" r="4.5" fill="#bcbcbc" stroke="#3e3e3e" stroke-width="1.8"/>
<circle cx="1420.2" cy="78.9" r="5.7" fill="none" stroke="#e4e4e4" stroke-width="0.8" opacity="0.7"/>
<circle cx="1484.0" cy="80.1" r="4.5" fill="#bcbcbc" stroke="#3e3e3e" stroke-width="1.8"/>
<circle cx="1483.2" cy="79.3" r="5.7" fill="none" stroke="#e4e4e4" stroke-width="0.8" opacity="0.7"/>
<circle cx="1498.6" cy="233.5" r="4.5" fill="#bcbcbc" stroke="#3e3e3e" stroke-width="1.8"/>
<circle cx="1497.8" cy="232.7" r="5.7" fill="none" stroke="#e4e4e4" stroke-width="0.8" opacity="0.7"/>
<circle cx="1554.7" cy="42.8" r="4.5" fill="#bcbcbc" stroke="#3e3e3e" stroke-width="1.8"/>
<circle cx="1553.9" cy="42.0" r="5.7" fill="none" stroke="#e4e4e4" stroke-width="0.8" opacity="0.7"/>
<circle cx="1222.5" cy="310.3" r="4.5" fill="#bcbcbc" stroke="#3e3e3e" stroke-width="1.8"/>
<circle cx="1221.7" cy="309.5" r="5.7" fill="none" stroke="#e4e4e4" stroke-width="0.8" opacity="0.7"/>
<circle cx="1506.9" cy="131.8" r="4.5" fill="#bcbcbc" stroke="#3e3e3e" stroke-width="1.8"/>
<circle cx="1506.1" cy="131.0" r="5.7" fill="none" stroke="#e4e4e4" stroke-width="0.8" opacity="0.7"/>
<circle cx="1615.4" cy="15.0" r="4.5" fill="#bcbcbc" stroke="#3e3e3e" stroke-width="1.8"/>
<circle cx="1614.6" cy="14.2" r="5.7" fill="none" stroke="#e4e4e4" stroke-width="0.8" opacity="0.7"/>
<circle cx="1380.6" cy="270.6" r="4.5" fill="#bcbcbc" stroke="#3e3e3e" stroke-width="1.8"/>
<circle cx="1379.8" cy="269.8" r="5.7" fill="none" stroke="#e4e4e4" stroke-width="0.8" opacity="0.7"/>
<circle cx="1393.9" cy="141.5" r="4.5" fill="#bcbcbc" stroke="#3e3e3e" stroke-width="1.8"/>
<circle cx="1393.1" cy="140.7" r="5.7" fill="none" stroke="#e4e4e4" stroke-width="0.8" opacity="0.7"/>
<circle cx="1337.4" cy="247.2" r="4.5" fill="#bcbcbc" stroke="#3e3e3e" stroke-width="1.8"/>
<circle cx="1336.6" cy="246.4" r="5.7" fill="none" stroke="#e4e4e4" stroke-width="0.8" opacity="0.7"/>
<circle cx="1490.1" cy="184.7" r="4.5" fill="#bcbcbc" stroke="#3e3e3e" stroke-width="1.8"/>
<circle cx="1489.3" cy="183.9" r="5.7" fill="none" stroke="#e4e4e4" stroke-width="0.8" opacity="0.7"/>
<circle cx="1290.3" cy="342.7" r="4.5" fill="#bcbcbc" stroke="#3e3e3e" stroke-width="1.8"/>
<circle cx="1289.5" cy="341.9" r="5.7" fill="none" stroke="#e4e4e4" stroke-width="0.8" opacity="0.7"/>
<circle cx="1600.5" cy="72.1" r="4.5" fill="#bcbcbc" stroke="#3e3e3e" stroke-width="1.8"/>
<circle cx="1599.7" cy="71.3" r="5.7" fill="none" stroke="#e4e4e4" stroke-width="0.8" opacity="0.7"/>
<circle cx="1339.6" cy="99.0" r="4.5" fill="#bcbcbc" stroke="#3e3e3e" stroke-width="1.8"/>
<circle cx="1338.8" cy="98.2" r="5.7" fill="none" stroke="#e4e4e4" stroke-width="0.8" opacity="0.7"/>
<circle cx="1189.9" cy="290.3" r="4.5" fill="#bcbcbc" stroke="#3e3e3e" stroke-width="1.8"/>
<circle cx="1189.1" cy="289.5" r="5.7" fill="none" stroke="#e4e4e4" stroke-width="0.8" opacity="0.7"/>
<circle cx="1492.3" cy="112.0" r="4.5" fill="#bcbcbc" stroke="#3e3e3e" stroke-width="1.8"/>
<circle cx="1491.5" cy="111.2" r="5.7" fill="none" stroke="#e4e4e4" stroke-width="0.8" opacity="0.7"/>
<circle cx="1609.0" cy="271.5" r="4.5" fill="#bcbcbc" stroke="#3e3e3e" stroke-width="1.8"/>
<circle cx="1608.2" cy="270.7" r="5.7" fill="none" stroke="#e4e4e4" stroke-width="0.8" opacity="0.7"/>
<circle cx="1511.9" cy="91.6" r="4.5" fill="#bcbcbc" stroke="#3e3e3e" stroke-width="1.8"/>
<circle cx="1511.1" cy="90.8" r="5.7" fill="none" stroke="#e4e4e4" stroke-width="0.8" opacity="0.7"/>
<circle cx="1403.0" cy="146.9" r="4.5" fill="#bcbcbc" stroke="#3e3e3e" stroke-width="1.8"/>
<circle cx="1402.2" cy="146.1" r="5.7" fill="none" stroke="#e4e4e4" stroke-width="0.8" opacity="0.7"/>
<circle cx="1554.4" cy="30.2" r="4.5" fill="#bcbcbc" stroke="#3e3e3e" stroke-width="1.8"/>
<circle cx="1553.6" cy="29.4" r="5.7" fill="none" stroke="#e4e4e4" stroke-width="0.8" opacity="0.7"/>
<circle cx="1197.4" cy="353.9" r="4.5" fill="#bcbcbc" stroke="#3e3e3e" stroke-width="1.8"/>
<circle cx="1196.6" cy="353.1" r="5.7" fill="none" stroke="#e4e4e4" stroke-width="0.8" opacity="0.7"/>
<circle cx="1570.9" cy="55.9" r="4.5" fill="#bcbcbc" stroke="#3e3e3e" stroke-width="1.8"/>
<circle cx="1570.1" cy="55.1" r="5.7" fill="none" stroke="#e4e4e4" stroke-width="0.8" opacity="0.7"/>
<circle cx="1393.1" cy="236.1" r="4.5" fill="#bcbcbc" stroke="#3e3e3e" stroke-width="1.8"/>
<circle cx="1392.3" cy="235.3" r="5.7" fill="none" stroke="#e4e4e4" stroke-width="0.8" opacity="0.7"/>
<circle cx="1448.9" cy="108.0" r="4.5" fill="#bcbcbc" stroke="#3e3e3e" stroke-width="1.8"/>
<circle cx="1448.1" cy="107.2" r="5.7" fill="none" stroke="#e4e4e4" stroke-width="0.8" opacity="0.7"/>
<circle cx="1349.2" cy="256.9" r="4.5" fill="#bcbcbc" stroke="#3e3e3e" stroke-width="1.8"/>
<circle cx="1348.4" cy="256.1" r="5.7" fill="none" stroke="#e4e4e4" stroke-width="0.8" opacity="0.7"/>
<circle cx="1523.1" cy="320.6" r="4.5" fill="#bcbcbc" stroke="#3e3e3e" stroke-width="1.8"/>
<circle cx="1522.3" cy="319.8" r="5.7" fill="none" stroke="#e4e4e4" stroke-width="0.8" opacity="0.7"/>
</g>
<rect x="1222.3" y="40.4" width="366.0" height="292.0" fill="none" stroke="#111" stroke-width="2.2"/>
<text x="474.0" y="321.0" fill="#fff" stroke="#000" stroke-width="2.6" paint-order="stroke" word-spacing="2">5 h</text>
<rect x="716.7" y="307.3" width="104.3" height="5.5" fill="#fff"/>
<text transform="translate(3.2 431.5) scale(1.14 1)" font-size="34" font-weight="bold">b</text>
<rect x="48.1" y="414.9" width="18.8" height="18.8" fill="#8080ff" stroke="#888" stroke-width="1.5"/>
<text transform="translate(80.6 431.0) scale(1.007 1)">Matched control patients</text>
<rect x="48.1" y="447.3" width="18.8" height="18.8" fill="#e8e8e8" stroke="#888" stroke-width="1.5"/>
<text transform="translate(80.6 463.9) scale(0.98 1)">Pulmonary aspergillosis</text>
<rect x="48.1" y="482.1" width="18.8" height="18.8" fill="#ff8080" stroke="#888" stroke-width="1.5"/>
<text transform="translate(80.6 499.0) scale(0.993 1)">Pulmonary mucormycosis</text>
<line x1="76.9" y1="636.0" x2="76.9" y2="839.6" stroke="#333" stroke-width="1.6"/>
<line x1="76.1" y1="839.6" x2="281.0" y2="839.6" stroke="#333" stroke-width="1.6"/>
<line x1="68.5" y1="636.6" x2="76.9" y2="636.6" stroke="#000" stroke-width="1.6"/>
<text x="58.5" y="644.9" text-anchor="end">5</text>
<line x1="68.5" y1="677.2" x2="76.9" y2="677.2" stroke="#000" stroke-width="1.6"/>
<text x="58.5" y="685.5" text-anchor="end">4</text>
<line x1="68.5" y1="717.8" x2="76.9" y2="717.8" stroke="#000" stroke-width="1.6"/>
<text x="58.5" y="726.1" text-anchor="end">3</text>
<line x1="68.5" y1="758.4" x2="76.9" y2="758.4" stroke="#000" stroke-width="1.6"/>
<text x="58.5" y="766.7" text-anchor="end">2</text>
<line x1="68.5" y1="799.0" x2="76.9" y2="799.0" stroke="#000" stroke-width="1.6"/>
<text x="58.5" y="807.3" text-anchor="end">1</text>
<text transform="translate(23.5 742.4) rotate(-90) scale(0.971 1)" text-anchor="middle">Serum albumin (g dl<tspan font-size="15" dy="-10">−1</tspan><tspan dy="10">)</tspan></text>
<path d="M123.3,653.0 L124.6,655.1 L126.4,658.2 L128.4,661.6 L130.3,665.0 L132.2,668.1 L134.2,671.2 L136.0,674.5 L137.3,678.0 L137.9,681.9 L137.9,686.0 L137.8,690.1 L137.6,694.0 L137.5,697.6 L137.5,700.9 L137.2,704.1 L136.8,707.0 L136.1,709.5 L135.2,711.7 L134.2,713.7 L133.0,716.0 L131.7,718.5 L130.2,721.1 L128.6,723.8 L127.1,726.5 L125.6,729.3 L124.1,732.1 L122.7,734.9 L121.6,737.3 L120.9,739.1 L120.5,740.4 L120.2,741.8 L120.0,744.0 L119.8,747.3 L119.7,751.4 L119.6,755.5 L119.5,759.0 L119.4,761.7 L119.3,763.9 L119.2,765.7 L119.1,767.0 L116.1,767.0 L116.0,765.7 L115.9,763.9 L115.8,761.7 L115.7,759.0 L115.6,755.5 L115.5,751.4 L115.4,747.3 L115.2,744.0 L115.0,741.8 L114.7,740.4 L114.3,739.1 L113.6,737.3 L112.5,734.9 L111.1,732.1 L109.6,729.3 L108.1,726.5 L106.6,723.8 L105.0,721.1 L103.5,718.5 L102.2,716.0 L101.0,713.7 L100.0,711.7 L99.1,709.5 L98.4,707.0 L98.0,704.1 L97.7,700.9 L97.7,697.6 L97.6,694.0 L97.4,690.1 L97.3,686.0 L97.3,681.9 L97.9,678.0 L99.2,674.5 L101.0,671.2 L103.0,668.1 L104.9,665.0 L106.8,661.6 L108.8,658.2 L110.6,655.1 L111.9,653.0Z" fill="#8080ff" stroke="#000" stroke-width="1.5" stroke-linejoin="round"/>
<line x1="98.0" y1="677.8" x2="137.2" y2="677.8" stroke="#000" stroke-width="1.3"/>
<line x1="97.6" y1="694.0" x2="137.6" y2="694.0" stroke="#000" stroke-width="1.3"/>
<line x1="101.4" y1="714.4" x2="133.8" y2="714.4" stroke="#000" stroke-width="1.3"/>
<path d="M179.9,649.2 L180.2,650.2 L180.6,651.6 L181.2,653.5 L181.9,656.0 L182.8,659.4 L183.9,663.6 L185.1,668.1 L186.2,672.4 L187.1,676.4 L187.9,680.2 L188.8,684.2 L190.0,688.6 L191.9,693.8 L194.2,699.5 L196.4,704.9 L197.9,709.2 L198.6,711.7 L198.8,713.1 L198.5,714.1 L197.9,715.7 L196.9,718.1 L195.4,720.8 L193.7,723.7 L191.9,726.5 L189.8,729.2 L187.5,731.9 L185.2,734.6 L183.4,737.3 L182.1,740.0 L181.1,742.6 L180.4,745.3 L179.9,748.0 L179.6,751.0 L179.5,754.2 L179.6,757.0 L179.6,759.0 L177.2,759.0 L177.2,757.0 L177.3,754.2 L177.2,751.0 L176.9,748.0 L176.4,745.3 L175.7,742.6 L174.7,740.0 L173.4,737.3 L171.6,734.6 L169.3,731.9 L167.0,729.2 L164.9,726.5 L163.1,723.7 L161.4,720.8 L159.9,718.1 L158.9,715.7 L158.3,714.1 L158.0,713.1 L158.2,711.7 L158.9,709.2 L160.4,704.9 L162.6,699.5 L164.9,693.8 L166.8,688.6 L168.0,684.2 L168.9,680.2 L169.7,676.4 L170.6,672.4 L171.7,668.1 L172.9,663.6 L174.0,659.4 L174.9,656.0 L175.6,653.5 L176.2,651.6 L176.6,650.2 L176.9,649.2Z" fill="#e8e8e8" stroke="#000" stroke-width="1.5" stroke-linejoin="round"/>
<line x1="166.8" y1="688.6" x2="190.0" y2="688.6" stroke="#000" stroke-width="1.3"/>
<line x1="158.6" y1="710.3" x2="198.2" y2="710.3" stroke="#000" stroke-width="1.3"/>
<line x1="159.8" y1="717.8" x2="197.0" y2="717.8" stroke="#000" stroke-width="1.3"/>
<path d="M240.0,669.2 L240.1,670.7 L240.1,672.8 L240.3,675.3 L240.7,677.8 L241.3,680.4 L242.1,683.2 L243.1,686.0 L244.2,688.6 L245.5,690.8 L247.0,692.9 L248.6,694.9 L250.2,697.3 L252.0,700.0 L253.9,703.0 L255.8,706.1 L257.2,709.2 L258.2,712.3 L258.9,715.5 L259.2,718.8 L259.2,722.2 L258.7,725.8 L257.8,729.5 L256.6,733.4 L255.2,737.3 L253.6,741.3 L251.8,745.3 L249.9,749.4 L248.2,753.5 L246.5,757.8 L244.9,762.2 L243.4,766.3 L242.2,769.7 L241.4,771.7 L241.0,772.8 L240.7,774.0 L240.5,776.2 L240.3,780.4 L240.1,785.8 L240.1,791.0 L240.0,794.6 L238.4,794.6 L238.3,791.0 L238.3,785.8 L238.1,780.4 L237.9,776.2 L237.7,774.0 L237.4,772.8 L237.0,771.7 L236.2,769.7 L235.0,766.3 L233.5,762.2 L231.9,757.8 L230.2,753.5 L228.4,749.4 L226.6,745.3 L224.8,741.3 L223.2,737.3 L221.8,733.4 L220.6,729.5 L219.7,725.8 L219.2,722.2 L219.2,718.8 L219.5,715.5 L220.2,712.3 L221.2,709.2 L222.6,706.1 L224.4,703.0 L226.4,700.0 L228.2,697.3 L229.8,694.9 L231.4,692.9 L232.9,690.8 L234.2,688.6 L235.3,686.0 L236.3,683.2 L237.1,680.4 L237.7,677.8 L238.1,675.3 L238.3,672.8 L238.3,670.7 L238.4,669.2Z" fill="#ff8080" stroke="#000" stroke-width="1.5" stroke-linejoin="round"/>
<line x1="220.9" y1="710.3" x2="257.5" y2="710.3" stroke="#000" stroke-width="1.3"/>
<line x1="219.2" y1="722.2" x2="259.2" y2="722.2" stroke="#000" stroke-width="1.3"/>
<line x1="225.4" y1="742.7" x2="253.0" y2="742.7" stroke="#000" stroke-width="1.3"/>
<circle cx="117.6" cy="653.5" r="2.3" fill="#fff" stroke="#000" stroke-width="1.0"/>
<circle cx="128.4" cy="665.6" r="2.3" fill="#fff" stroke="#000" stroke-width="1.0"/>
<circle cx="113.8" cy="669.2" r="2.3" fill="#fff" stroke="#000" stroke-width="1.0"/>
<circle cx="121.4" cy="669.2" r="2.3" fill="#fff" stroke="#000" stroke-width="1.0"/>
<circle cx="113.8" cy="673.5" r="2.3" fill="#fff" stroke="#000" stroke-width="1.0"/>
<circle cx="121.4" cy="673.5" r="2.3" fill="#fff" stroke="#000" stroke-width="1.0"/>
<circle cx="99.2" cy="677.8" r="2.3" fill="#fff" stroke="#000" stroke-width="1.0"/>
<circle cx="106.2" cy="677.8" r="2.3" fill="#fff" stroke="#000" stroke-width="1.0"/>
<circle cx="135.9" cy="677.8" r="2.3" fill="#fff" stroke="#000" stroke-width="1.0"/>
<circle cx="113.8" cy="681.6" r="2.3" fill="#fff" stroke="#000" stroke-width="1.0"/>
<circle cx="121.4" cy="681.6" r="2.3" fill="#fff" stroke="#000" stroke-width="1.0"/>
<circle cx="128.4" cy="681.6" r="2.3" fill="#fff" stroke="#000" stroke-width="1.0"/>
<circle cx="117.6" cy="685.9" r="2.3" fill="#fff" stroke="#000" stroke-width="1.0"/>
<circle cx="106.2" cy="689.9" r="2.3" fill="#fff" stroke="#000" stroke-width="1.0"/>
<circle cx="128.4" cy="689.9" r="2.3" fill="#fff" stroke="#000" stroke-width="1.0"/>
<circle cx="113.8" cy="694.1" r="2.3" fill="#fff" stroke="#000" stroke-width="1.0"/>
<circle cx="121.4" cy="694.1" r="2.3" fill="#fff" stroke="#000" stroke-width="1.0"/>
<circle cx="106.2" cy="698.1" r="2.3" fill="#fff" stroke="#000" stroke-width="1.0"/>
<circle cx="113.8" cy="701.8" r="2.3" fill="#fff" stroke="#000" stroke-width="1.0"/>
<circle cx="121.4" cy="701.8" r="2.3" fill="#fff" stroke="#000" stroke-width="1.0"/>
<circle cx="106.2" cy="705.9" r="2.3" fill="#fff" stroke="#000" stroke-width="1.0"/>
<circle cx="113.8" cy="705.9" r="2.3" fill="#fff" stroke="#000" stroke-width="1.0"/>
<circle cx="121.4" cy="705.9" r="2.3" fill="#fff" stroke="#000" stroke-width="1.0"/>
<circle cx="128.4" cy="705.9" r="2.3" fill="#fff" stroke="#000" stroke-width="1.0"/>
<circle cx="110.0" cy="714.4" r="2.3" fill="#fff" stroke="#000" stroke-width="1.0"/>
<circle cx="117.6" cy="714.4" r="2.3" fill="#fff" stroke="#000" stroke-width="1.0"/>
<circle cx="125.1" cy="714.4" r="2.3" fill="#fff" stroke="#000" stroke-width="1.0"/>
<circle cx="113.8" cy="718.4" r="2.3" fill="#fff" stroke="#000" stroke-width="1.0"/>
<circle cx="121.4" cy="718.4" r="2.3" fill="#fff" stroke="#000" stroke-width="1.0"/>
<circle cx="121.4" cy="722.7" r="2.3" fill="#fff" stroke="#000" stroke-width="1.0"/>
<circle cx="113.8" cy="726.5" r="2.3" fill="#fff" stroke="#000" stroke-width="1.0"/>
<circle cx="117.6" cy="742.5" r="2.3" fill="#fff" stroke="#000" stroke-width="1.0"/>
<circle cx="117.6" cy="767.0" r="2.3" fill="#fff" stroke="#000" stroke-width="1.0"/>
<circle cx="178.4" cy="649.2" r="2.3" fill="#fff" stroke="#000" stroke-width="1.0"/>
<circle cx="178.4" cy="653.5" r="2.3" fill="#fff" stroke="#000" stroke-width="1.0"/>
<circle cx="174.7" cy="669.2" r="2.3" fill="#fff" stroke="#000" stroke-width="1.0"/>
<circle cx="178.4" cy="669.2" r="2.3" fill="#fff" stroke="#000" stroke-width="1.0"/>
<circle cx="182.1" cy="669.2" r="2.3" fill="#fff" stroke="#000" stroke-width="1.0"/>
<circle cx="174.7" cy="673.5" r="2.3" fill="#fff" stroke="#000" stroke-width="1.0"/>
<circle cx="178.4" cy="673.5" r="2.3" fill="#fff" stroke="#000" stroke-width="1.0"/>
<circle cx="182.1" cy="673.5" r="2.3" fill="#fff" stroke="#000" stroke-width="1.0"/>
<circle cx="176.6" cy="681.6" r="2.3" fill="#fff" stroke="#000" stroke-width="1.0"/>
<circle cx="180.2" cy="681.6" r="2.3" fill="#fff" stroke="#000" stroke-width="1.0"/>
<circle cx="176.6" cy="685.9" r="2.3" fill="#fff" stroke="#000" stroke-width="1.0"/>
<circle cx="180.2" cy="685.9" r="2.3" fill="#fff" stroke="#000" stroke-width="1.0"/>
<circle cx="172.8" cy="689.9" r="2.3" fill="#fff" stroke="#000" stroke-width="1.0"/>
<circle cx="176.6" cy="689.9" r="2.3" fill="#fff" stroke="#000" stroke-width="1.0"/>
<circle cx="180.2" cy="689.9" r="2.3" fill="#fff" stroke="#000" stroke-width="1.0"/>
<circle cx="184.0" cy="689.9" r="2.3" fill="#fff" stroke="#000" stroke-width="1.0"/>
<circle cx="176.6" cy="694.1" r="2.3" fill="#fff" stroke="#000" stroke-width="1.0"/>
<circle cx="180.2" cy="694.1" r="2.3" fill="#fff" stroke="#000" stroke-width="1.0"/>
<circle cx="172.8" cy="698.1" r="2.3" fill="#fff" stroke="#000" stroke-width="1.0"/>
<circle cx="176.6" cy="698.1" r="2.3" fill="#fff" stroke="#000" stroke-width="1.0"/>
<circle cx="180.2" cy="698.1" r="2.3" fill="#fff" stroke="#000" stroke-width="1.0"/>
<circle cx="184.0" cy="698.1" r="2.3" fill="#fff" stroke="#000" stroke-width="1.0"/>
<circle cx="178.4" cy="702.2" r="2.3" fill="#fff" stroke="#000" stroke-width="1.0"/>
<circle cx="172.8" cy="705.9" r="2.3" fill="#fff" stroke="#000" stroke-width="1.0"/>
<circle cx="176.6" cy="705.9" r="2.3" fill="#fff" stroke="#000" stroke-width="1.0"/>
<circle cx="180.2" cy="705.9" r="2.3" fill="#fff" stroke="#000" stroke-width="1.0"/>
<circle cx="184.0" cy="705.9" r="2.3" fill="#fff" stroke="#000" stroke-width="1.0"/>
<circle cx="161.8" cy="710.3" r="2.3" fill="#fff" stroke="#000" stroke-width="1.0"/>
<circle cx="165.5" cy="710.3" r="2.3" fill="#fff" stroke="#000" stroke-width="1.0"/>
<circle cx="169.2" cy="710.3" r="2.3" fill="#fff" stroke="#000" stroke-width="1.0"/>
<circle cx="172.8" cy="710.3" r="2.3" fill="#fff" stroke="#000" stroke-width="1.0"/>
<circle cx="176.6" cy="710.3" r="2.3" fill="#fff" stroke="#000" stroke-width="1.0"/>
<circle cx="180.2" cy="710.3" r="2.3" fill="#fff" stroke="#000" stroke-width="1.0"/>
<circle cx="184.0" cy="710.3" r="2.3" fill="#fff" stroke="#000" stroke-width="1.0"/>
<circle cx="187.7" cy="710.3" r="2.3" fill="#fff" stroke="#000" stroke-width="1.0"/>
<circle cx="191.3" cy="710.3" r="2.3" fill="#fff" stroke="#000" stroke-width="1.0"/>
<circle cx="195.1" cy="710.3" r="2.3" fill="#fff" stroke="#000" stroke-width="1.0"/>
<circle cx="163.6" cy="714.4" r="2.3" fill="#fff" stroke="#000" stroke-width="1.0"/>
<circle cx="167.3" cy="714.4" r="2.3" fill="#fff" stroke="#000" stroke-width="1.0"/>
<circle cx="171.0" cy="714.4" r="2.3" fill="#fff" stroke="#000" stroke-width="1.0"/>
<circle cx="174.7" cy="714.4" r="2.3" fill="#fff" stroke="#000" stroke-width="1.0"/>
<circle cx="178.4" cy="714.4" r="2.3" fill="#fff" stroke="#000" stroke-width="1.0"/>
<circle cx="182.1" cy="714.4" r="2.3" fill="#fff" stroke="#000" stroke-width="1.0"/>
<circle cx="185.8" cy="714.4" r="2.3" fill="#fff" stroke="#000" stroke-width="1.0"/>
<circle cx="189.5" cy="714.4" r="2.3" fill="#fff" stroke="#000" stroke-width="1.0"/>
<circle cx="193.2" cy="714.4" r="2.3" fill="#fff" stroke="#000" stroke-width="1.0"/>
<circle cx="172.8" cy="718.4" r="2.3" fill="#fff" stroke="#000" stroke-width="1.0"/>
<circle cx="176.6" cy="718.4" r="2.3" fill="#fff" stroke="#000" stroke-width="1.0"/>
<circle cx="180.2" cy="718.4" r="2.3" fill="#fff" stroke="#000" stroke-width="1.0"/>
<circle cx="184.0" cy="718.4" r="2.3" fill="#fff" stroke="#000" stroke-width="1.0"/>
<circle cx="169.2" cy="722.4" r="2.3" fill="#fff" stroke="#000" stroke-width="1.0"/>
<circle cx="172.8" cy="722.4" r="2.3" fill="#fff" stroke="#000" stroke-width="1.0"/>
<circle cx="176.6" cy="722.4" r="2.3" fill="#fff" stroke="#000" stroke-width="1.0"/>
<circle cx="180.2" cy="722.4" r="2.3" fill="#fff" stroke="#000" stroke-width="1.0"/>
<circle cx="184.0" cy="722.4" r="2.3" fill="#fff" stroke="#000" stroke-width="1.0"/>
<circle cx="187.7" cy="722.4" r="2.3" fill="#fff" stroke="#000" stroke-width="1.0"/>
<circle cx="174.7" cy="726.5" r="2.3" fill="#fff" stroke="#000" stroke-width="1.0"/>
<circle cx="178.4" cy="726.5" r="2.3" fill="#fff" stroke="#000" stroke-width="1.0"/>
<circle cx="182.1" cy="726.5" r="2.3" fill="#fff" stroke="#000" stroke-width="1.0"/>
<circle cx="178.4" cy="730.3" r="2.3" fill="#fff" stroke="#000" stroke-width="1.0"/>
<circle cx="178.4" cy="734.6" r="2.3" fill="#fff" stroke="#000" stroke-width="1.0"/>
<circle cx="178.4" cy="758.9" r="2.3" fill="#fff" stroke="#000" stroke-width="1.0"/>
<circle cx="239.2" cy="669.2" r="2.3" fill="#fff" stroke="#000" stroke-width="1.0"/>
<circle cx="239.2" cy="681.6" r="2.3" fill="#fff" stroke="#000" stroke-width="1.0"/>
<circle cx="239.2" cy="693.7" r="2.3" fill="#fff" stroke="#000" stroke-width="1.0"/>
<circle cx="232.8" cy="698.1" r="2.3" fill="#fff" stroke="#000" stroke-width="1.0"/>
<circle cx="237.0" cy="698.1" r="2.3" fill="#fff" stroke="#000" stroke-width="1.0"/>
<circle cx="241.3" cy="698.1" r="2.3" fill="#fff" stroke="#000" stroke-width="1.0"/>
<circle cx="245.6" cy="698.1" r="2.3" fill="#fff" stroke="#000" stroke-width="1.0"/>
<circle cx="232.8" cy="702.2" r="2.3" fill="#fff" stroke="#000" stroke-width="1.0"/>
<circle cx="237.0" cy="702.2" r="2.3" fill="#fff" stroke="#000" stroke-width="1.0"/>
<circle cx="241.3" cy="702.2" r="2.3" fill="#fff" stroke="#000" stroke-width="1.0"/>
<circle cx="245.6" cy="702.2" r="2.3" fill="#fff" stroke="#000" stroke-width="1.0"/>
<circle cx="237.0" cy="705.9" r="2.3" fill="#fff" stroke="#000" stroke-width="1.0"/>
<circle cx="241.3" cy="705.9" r="2.3" fill="#fff" stroke="#000" stroke-width="1.0"/>
<circle cx="224.1" cy="710.3" r="2.3" fill="#fff" stroke="#000" stroke-width="1.0"/>
<circle cx="228.4" cy="710.3" r="2.3" fill="#fff" stroke="#000" stroke-width="1.0"/>
<circle cx="232.8" cy="710.3" r="2.3" fill="#fff" stroke="#000" stroke-width="1.0"/>
<circle cx="237.0" cy="710.3" r="2.3" fill="#fff" stroke="#000" stroke-width="1.0"/>
<circle cx="241.3" cy="710.3" r="2.3" fill="#fff" stroke="#000" stroke-width="1.0"/>
<circle cx="245.6" cy="710.3" r="2.3" fill="#fff" stroke="#000" stroke-width="1.0"/>
<circle cx="249.9" cy="710.3" r="2.3" fill="#fff" stroke="#000" stroke-width="1.0"/>
<circle cx="254.2" cy="710.3" r="2.3" fill="#fff" stroke="#000" stroke-width="1.0"/>
<circle cx="228.4" cy="714.4" r="2.3" fill="#fff" stroke="#000" stroke-width="1.0"/>
<circle cx="232.8" cy="714.4" r="2.3" fill="#fff" stroke="#000" stroke-width="1.0"/>
<circle cx="237.0" cy="714.4" r="2.3" fill="#fff" stroke="#000" stroke-width="1.0"/>
<circle cx="241.3" cy="714.4" r="2.3" fill="#fff" stroke="#000" stroke-width="1.0"/>
<circle cx="245.6" cy="714.4" r="2.3" fill="#fff" stroke="#000" stroke-width="1.0"/>
<circle cx="249.9" cy="714.4" r="2.3" fill="#fff" stroke="#000" stroke-width="1.0"/>
<circle cx="228.4" cy="718.4" r="2.3" fill="#fff" stroke="#000" stroke-width="1.0"/>
<circle cx="232.8" cy="718.4" r="2.3" fill="#fff" stroke="#000" stroke-width="1.0"/>
<circle cx="237.0" cy="718.4" r="2.3" fill="#fff" stroke="#000" stroke-width="1.0"/>
<circle cx="241.3" cy="718.4" r="2.3" fill="#fff" stroke="#000" stroke-width="1.0"/>
<circle cx="245.6" cy="718.4" r="2.3" fill="#fff" stroke="#000" stroke-width="1.0"/>
<circle cx="249.9" cy="718.4" r="2.3" fill="#fff" stroke="#000" stroke-width="1.0"/>
<circle cx="222.0" cy="722.4" r="2.3" fill="#fff" stroke="#000" stroke-width="1.0"/>
<circle cx="226.3" cy="722.4" r="2.3" fill="#fff" stroke="#000" stroke-width="1.0"/>
<circle cx="230.6" cy="722.4" r="2.3" fill="#fff" stroke="#000" stroke-width="1.0"/>
<circle cx="234.9" cy="722.4" r="2.3" fill="#fff" stroke="#000" stroke-width="1.0"/>
<circle cx="239.2" cy="722.4" r="2.3" fill="#fff" stroke="#000" stroke-width="1.0"/>
<circle cx="243.5" cy="722.4" r="2.3" fill="#fff" stroke="#000" stroke-width="1.0"/>
<circle cx="247.8" cy="722.4" r="2.3" fill="#fff" stroke="#000" stroke-width="1.0"/>
<circle cx="252.1" cy="722.4" r="2.3" fill="#fff" stroke="#000" stroke-width="1.0"/>
<circle cx="256.4" cy="722.4" r="2.3" fill="#fff" stroke="#000" stroke-width="1.0"/>
<circle cx="228.4" cy="726.5" r="2.3" fill="#fff" stroke="#000" stroke-width="1.0"/>
<circle cx="232.8" cy="726.5" r="2.3" fill="#fff" stroke="#000" stroke-width="1.0"/>
<circle cx="237.0" cy="726.5" r="2.3" fill="#fff" stroke="#000" stroke-width="1.0"/>
<circle cx="241.3" cy="726.5" r="2.3" fill="#fff" stroke="#000" stroke-width="1.0"/>
<circle cx="245.6" cy="726.5" r="2.3" fill="#fff" stroke="#000" stroke-width="1.0"/>
<circle cx="249.9" cy="726.5" r="2.3" fill="#fff" stroke="#000" stroke-width="1.0"/>
<circle cx="230.6" cy="730.3" r="2.3" fill="#fff" stroke="#000" stroke-width="1.0"/>
<circle cx="234.9" cy="730.3" r="2.3" fill="#fff" stroke="#000" stroke-width="1.0"/>
<circle cx="239.2" cy="730.3" r="2.3" fill="#fff" stroke="#000" stroke-width="1.0"/>
<circle cx="243.5" cy="730.3" r="2.3" fill="#fff" stroke="#000" stroke-width="1.0"/>
<circle cx="247.8" cy="730.3" r="2.3" fill="#fff" stroke="#000" stroke-width="1.0"/>
<circle cx="228.4" cy="734.6" r="2.3" fill="#fff" stroke="#000" stroke-width="1.0"/>
<circle cx="232.8" cy="734.6" r="2.3" fill="#fff" stroke="#000" stroke-width="1.0"/>
<circle cx="237.0" cy="734.6" r="2.3" fill="#fff" stroke="#000" stroke-width="1.0"/>
<circle cx="241.3" cy="734.6" r="2.3" fill="#fff" stroke="#000" stroke-width="1.0"/>
<circle cx="245.6" cy="734.6" r="2.3" fill="#fff" stroke="#000" stroke-width="1.0"/>
<circle cx="249.9" cy="734.6" r="2.3" fill="#fff" stroke="#000" stroke-width="1.0"/>
<circle cx="230.6" cy="738.6" r="2.3" fill="#fff" stroke="#000" stroke-width="1.0"/>
<circle cx="234.9" cy="738.6" r="2.3" fill="#fff" stroke="#000" stroke-width="1.0"/>
<circle cx="239.2" cy="738.6" r="2.3" fill="#fff" stroke="#000" stroke-width="1.0"/>
<circle cx="243.5" cy="738.6" r="2.3" fill="#fff" stroke="#000" stroke-width="1.0"/>
<circle cx="247.8" cy="738.6" r="2.3" fill="#fff" stroke="#000" stroke-width="1.0"/>
<circle cx="226.3" cy="742.5" r="2.3" fill="#fff" stroke="#000" stroke-width="1.0"/>
<circle cx="230.6" cy="742.5" r="2.3" fill="#fff" stroke="#000" stroke-width="1.0"/>
<circle cx="234.9" cy="742.5" r="2.3" fill="#fff" stroke="#000" stroke-width="1.0"/>
<circle cx="239.2" cy="742.5" r="2.3" fill="#fff" stroke="#000" stroke-width="1.0"/>
<circle cx="243.5" cy="742.5" r="2.3" fill="#fff" stroke="#000" stroke-width="1.0"/>
<circle cx="247.8" cy="742.5" r="2.3" fill="#fff" stroke="#000" stroke-width="1.0"/>
<circle cx="252.1" cy="742.5" r="2.3" fill="#fff" stroke="#000" stroke-width="1.0"/>
<circle cx="228.4" cy="746.5" r="2.3" fill="#fff" stroke="#000" stroke-width="1.0"/>
<circle cx="232.8" cy="746.5" r="2.3" fill="#fff" stroke="#000" stroke-width="1.0"/>
<circle cx="237.0" cy="746.5" r="2.3" fill="#fff" stroke="#000" stroke-width="1.0"/>
<circle cx="241.3" cy="746.5" r="2.3" fill="#fff" stroke="#000" stroke-width="1.0"/>
<circle cx="245.6" cy="746.5" r="2.3" fill="#fff" stroke="#000" stroke-width="1.0"/>
<circle cx="249.9" cy="746.5" r="2.3" fill="#fff" stroke="#000" stroke-width="1.0"/>
<circle cx="234.9" cy="750.8" r="2.3" fill="#fff" stroke="#000" stroke-width="1.0"/>
<circle cx="239.2" cy="750.8" r="2.3" fill="#fff" stroke="#000" stroke-width="1.0"/>
<circle cx="243.5" cy="750.8" r="2.3" fill="#fff" stroke="#000" stroke-width="1.0"/>
<circle cx="239.2" cy="754.6" r="2.3" fill="#fff" stroke="#000" stroke-width="1.0"/>
<circle cx="237.0" cy="758.9" r="2.3" fill="#fff" stroke="#000" stroke-width="1.0"/>
<circle cx="241.3" cy="758.9" r="2.3" fill="#fff" stroke="#000" stroke-width="1.0"/>
<circle cx="237.0" cy="762.9" r="2.3" fill="#fff" stroke="#000" stroke-width="1.0"/>
<circle cx="241.3" cy="762.9" r="2.3" fill="#fff" stroke="#000" stroke-width="1.0"/>
<circle cx="239.2" cy="767.0" r="2.3" fill="#fff" stroke="#000" stroke-width="1.0"/>
<circle cx="239.2" cy="775.1" r="2.3" fill="#fff" stroke="#000" stroke-width="1.0"/>
<circle cx="239.2" cy="795.7" r="2.3" fill="#fff" stroke="#000" stroke-width="1.0"/>
<polyline points="117.7,612.6 117.7,541.3 239.5,541.3 239.5,553.8" fill="none" stroke="#333" stroke-width="1.5"/>
<text x="178.9" y="545.3" font-size="27" text-anchor="middle" letter-spacing="1.2">****</text>
<polyline points="182.6,612.6 182.6,594.6 239.5,594.6 239.5,657.0" fill="none" stroke="#333" stroke-width="1.5"/>
<text x="211.3" y="596.3" font-size="27" text-anchor="middle" letter-spacing="1.2">****</text>
<polyline points="117.7,641.4 117.7,624.6 174.4,624.6 174.4,636.6" fill="none" stroke="#333" stroke-width="1.5"/>
<text x="146.5" y="614.5" text-anchor="middle">NS</text>
<text transform="translate(392.0 431.6) scale(1.14 1)" font-size="34" font-weight="bold">c</text>
<text transform="translate(637.6 457.6) scale(0.946 1)" text-anchor="middle">The MDACC,</text>
<text transform="translate(634.0 485.0) scale(0.958 1)" text-anchor="middle">USA (<tspan font-style="italic">n</tspan> = 81)</text>
<line x1="516.5" y1="530.5" x2="540.0" y2="530.5" stroke="#f00" stroke-width="2.2"/>
<line x1="528.2" y1="527.0" x2="528.2" y2="530.5" stroke="#f00" stroke-width="1.5"/>
<text transform="translate(554.3 537.8) scale(0.977 1)">Albumin, &gt;2.5 g dl<tspan font-size="15" dy="-10">−1</tspan></text>
<line x1="516.5" y1="564.3" x2="540.0" y2="564.3" stroke="#000" stroke-width="2.2"/>
<line x1="528.2" y1="560.8" x2="528.2" y2="564.3" stroke="#000" stroke-width="1.5"/>
<text transform="translate(554.3 571.6) scale(0.977 1)">Albumin, ≤2.5 g dl<tspan font-size="15" dy="-10">−1</tspan></text>
<line x1="482.5" y1="551.4" x2="482.5" y2="759.8" stroke="#222" stroke-width="1.6"/>
<line x1="474.5" y1="759.8" x2="792.5" y2="759.8" stroke="#222" stroke-width="1.6"/>
<line x1="474.5" y1="759.8" x2="482.5" y2="759.8" stroke="#222" stroke-width="1.6"/>
<text x="466.5" y="767.4" text-anchor="end">0</text>
<line x1="474.5" y1="722.2" x2="482.5" y2="722.2" stroke="#222" stroke-width="1.6"/>
<text x="466.5" y="729.8" text-anchor="end">0.2</text>
<line x1="474.5" y1="684.6" x2="482.5" y2="684.6" stroke="#222" stroke-width="1.6"/>
<text x="466.5" y="692.2" text-anchor="end">0.4</text>
<line x1="474.5" y1="647.0" x2="482.5" y2="647.0" stroke="#222" stroke-width="1.6"/>
<text x="466.5" y="654.6" text-anchor="end">0.6</text>
<line x1="474.5" y1="609.4" x2="482.5" y2="609.4" stroke="#222" stroke-width="1.6"/>
<text x="466.5" y="617.0" text-anchor="end">0.8</text>
<line x1="474.5" y1="571.8" x2="482.5" y2="571.8" stroke="#222" stroke-width="1.6"/>
<text x="466.5" y="579.4" text-anchor="end">1.0</text>
<line x1="482.5" y1="759.8" x2="482.5" y2="767.8" stroke="#222" stroke-width="1.6"/>
<text x="482.5" y="793.0" text-anchor="middle">0</text>
<line x1="544.0" y1="759.8" x2="544.0" y2="767.8" stroke="#222" stroke-width="1.6"/>
<text x="544.0" y="793.0" text-anchor="middle">20</text>
<line x1="605.8" y1="759.8" x2="605.8" y2="767.8" stroke="#222" stroke-width="1.6"/>
<text x="605.8" y="793.0" text-anchor="middle">40</text>
<line x1="667.6" y1="759.8" x2="667.6" y2="767.8" stroke="#222" stroke-width="1.6"/>
<text x="667.6" y="793.0" text-anchor="middle">60</text>
<line x1="729.3" y1="759.8" x2="729.3" y2="767.8" stroke="#222" stroke-width="1.6"/>
<text x="729.3" y="793.0" text-anchor="middle">80</text>
<line x1="791.5" y1="759.8" x2="791.5" y2="767.8" stroke="#222" stroke-width="1.6"/>
<text x="791.5" y="793.0" text-anchor="middle">100</text>
<text transform="translate(412.4 656.0) rotate(-90) scale(0.972 1)" text-anchor="middle">Survival</text>
<text transform="translate(637.2 829.7) scale(0.949 1)" text-anchor="middle">Time (days)</text>
<text x="488.6" y="727.6"><tspan font-style="italic">P</tspan> = 0.0294</text>
<polyline points="482.4,571.8 491.8,571.8 491.8,574.8 498.5,574.8 498.5,577.7 501.1,577.7 501.1,581.5 504.4,581.5 504.4,592.0 506.6,592.0 506.6,599.0 535.0,599.0 535.0,602.0 562.8,602.0 562.8,609.1 572.0,609.1 572.0,619.2 574.7,619.2 574.7,622.6 581.3,622.6 581.3,625.9 584.3,625.9 584.3,629.3 596.9,629.3 596.9,643.2 609.0,643.2 609.0,650.0 614.6,650.0 614.6,653.3 618.0,653.3 618.0,657.2 630.6,657.2 630.6,660.6 633.1,660.6 633.1,663.9 646.5,663.9 646.5,666.8 649.1,666.8 649.1,670.2 655.8,670.2 655.8,674.4 664.7,674.4 664.7,677.4 713.8,677.4 713.8,680.6 736.5,680.6 736.5,684.5 742.4,684.5" fill="none" stroke="#f00" stroke-width="2.2"/>
<line x1="742.4" y1="683.6" x2="742.4" y2="687.8" stroke="#f00" stroke-width="2"/>
<polyline points="482.4,571.8 483.1,571.8 483.1,578.2 491.8,578.2 491.8,585.6 494.8,585.6 494.8,593.6 497.7,593.6 497.7,607.9 501.1,607.9 501.1,614.7 504.4,614.7 504.4,629.0 507.0,629.0 507.0,637.0 529.2,637.0 529.2,643.6 547.7,643.6 547.7,658.4 557.1,658.4 557.1,665.6 569.2,665.6 569.2,672.7 587.7,672.7 587.7,687.3 603.7,687.3 603.7,694.5 628.0,694.5 628.0,701.3 637.3,701.3 637.3,708.8 736.5,708.8 736.5,716.1 742.7,716.1" fill="none" stroke="#000" stroke-width="2.2"/>
<line x1="742.7" y1="711.9" x2="742.7" y2="716.4" stroke="#000" stroke-width="2"/>
<text transform="translate(1064.0 457.6) scale(0.979 1)" text-anchor="middle">PGIMER, Chandigarh,</text>
<text transform="translate(1064.5 485.0) scale(0.951 1)" text-anchor="middle">India (<tspan font-style="italic">n</tspan> =101)</text>
<line x1="956.0" y1="527.8" x2="980.3" y2="527.8" stroke="#f00" stroke-width="2.2"/>
<line x1="968.1" y1="524.3" x2="968.1" y2="527.8" stroke="#f00" stroke-width="1.5"/>
<text transform="translate(992.4 534.6) scale(0.977 1)">Albumin, &gt;2.5 g dl<tspan font-size="15" dy="-10">−1</tspan></text>
<line x1="956.0" y1="562.7" x2="980.3" y2="562.7" stroke="#000" stroke-width="2.2"/>
<text transform="translate(992.4 569.7) scale(0.977 1)">Albumin, ≤2.5 g dl<tspan font-size="15" dy="-10">−1</tspan></text>
<line x1="912.3" y1="555.4" x2="912.3" y2="758.7" stroke="#222" stroke-width="1.6"/>
<line x1="904.3" y1="758.7" x2="1216.8" y2="758.7" stroke="#222" stroke-width="1.6"/>
<line x1="904.3" y1="758.7" x2="912.3" y2="758.7" stroke="#222" stroke-width="1.6"/>
<text x="892.0" y="766.3" text-anchor="end">0</text>
<line x1="904.3" y1="721.9" x2="912.3" y2="721.9" stroke="#222" stroke-width="1.6"/>
<text x="892.0" y="729.5" text-anchor="end">0.2</text>
<line x1="904.3" y1="685.1" x2="912.3" y2="685.1" stroke="#222" stroke-width="1.6"/>
<text x="892.0" y="692.7" text-anchor="end">0.4</text>
<line x1="904.3" y1="648.2" x2="912.3" y2="648.2" stroke="#222" stroke-width="1.6"/>
<text x="892.0" y="655.8" text-anchor="end">0.6</text>
<line x1="904.3" y1="611.4" x2="912.3" y2="611.4" stroke="#222" stroke-width="1.6"/>
<text x="892.0" y="619.0" text-anchor="end">0.8</text>
<line x1="904.3" y1="574.6" x2="912.3" y2="574.6" stroke="#222" stroke-width="1.6"/>
<text x="892.0" y="582.2" text-anchor="end">1.0</text>
<line x1="912.3" y1="758.7" x2="912.3" y2="766.7" stroke="#222" stroke-width="1.6"/>
<text x="912.3" y="793.0" text-anchor="middle">0</text>
<line x1="972.9" y1="758.7" x2="972.9" y2="766.7" stroke="#222" stroke-width="1.6"/>
<text x="972.9" y="793.0" text-anchor="middle">20</text>
<line x1="1033.9" y1="758.7" x2="1033.9" y2="766.7" stroke="#222" stroke-width="1.6"/>
<text x="1033.9" y="793.0" text-anchor="middle">40</text>
<line x1="1094.5" y1="758.7" x2="1094.5" y2="766.7" stroke="#222" stroke-width="1.6"/>
<text x="1094.5" y="793.0" text-anchor="middle">60</text>
<line x1="1155.5" y1="758.7" x2="1155.5" y2="766.7" stroke="#222" stroke-width="1.6"/>
<text x="1155.5" y="793.0" text-anchor="middle">80</text>
<line x1="1216.3" y1="758.7" x2="1216.3" y2="766.7" stroke="#222" stroke-width="1.6"/>
<text x="1216.3" y="793.0" text-anchor="middle">100</text>
<text transform="translate(838.4 657.3) rotate(-90) scale(0.972 1)" text-anchor="middle">Survival</text>
<text transform="translate(1066.8 829.7) scale(0.949 1)" text-anchor="middle">Time (days)</text>
<text x="923.5" y="731.0"><tspan font-style="italic">P</tspan> = 0.0002</text>
<polyline points="912.3,574.6 919.8,574.6 919.8,577.2 932.9,577.2 932.9,579.8 936.4,579.8 936.4,582.4 939.0,582.4 939.0,586.8 948.5,586.8 948.5,592.0 951.2,592.0 951.2,595.0 954.6,595.0 954.6,598.1 957.3,598.1 957.3,604.7 970.3,604.7 970.3,607.7 972.9,607.7 972.9,610.6 979.0,610.6 979.0,613.4 985.1,613.4 985.1,616.4 1003.4,616.4 1003.4,619.3 1006.6,619.3 1006.6,622.1 1012.6,622.1 1012.6,625.1 1185.8,625.1" fill="none" stroke="#f00" stroke-width="2.2"/>
<line x1="1185.8" y1="624.2" x2="1185.8" y2="629.4" stroke="#f00" stroke-width="2"/>
<polyline points="912.3,574.6 917.5,574.6 917.5,584.5 921.0,584.5 921.0,598.4 927.3,598.4 927.3,607.7 930.3,607.7 930.3,617.3 933.2,617.3 933.2,621.6 936.4,621.6 936.4,626.3 940.4,626.3 940.4,631.2 942.4,631.2 942.4,640.8 951.7,640.8 951.7,645.5 961.1,645.5 961.1,650.4 963.7,650.4 963.7,654.7 970.3,654.7 970.3,659.9 973.3,659.9 973.3,664.6 997.7,664.6 997.7,669.2 1025.2,669.2 1025.2,673.9 1049.2,673.9 1049.2,679.1 1076.6,679.1 1076.6,683.8 1091.7,683.8 1091.7,688.3 1185.8,688.3" fill="none" stroke="#000" stroke-width="2.2"/>
<line x1="1185.8" y1="686.9" x2="1185.8" y2="693.9" stroke="#000" stroke-width="2"/>
<text x="1500.4" y="457.5" text-anchor="middle">The Ambizygo Study,</text>
<text transform="translate(1496.2 485.4) scale(0.951 1)" text-anchor="middle">France (<tspan font-style="italic">n</tspan> = 26)</text>
<line x1="1403.7" y1="522.0" x2="1427.8" y2="522.0" stroke="#f00" stroke-width="2.2"/>
<line x1="1415.8" y1="518.5" x2="1415.8" y2="522.0" stroke="#f00" stroke-width="1.5"/>
<text transform="translate(1442.1 528.5) scale(0.977 1)">Albumin, &gt;2.5 g dl<tspan font-size="15" dy="-10">−1</tspan></text>
<line x1="1403.7" y1="560.0" x2="1427.8" y2="560.0" stroke="#000" stroke-width="2.2"/>
<text transform="translate(1442.1 567.2) scale(0.977 1)">Albumin, ≤2.5 g dl<tspan font-size="15" dy="-10">−1</tspan></text>
<line x1="1348.0" y1="558.6" x2="1348.0" y2="763.0" stroke="#222" stroke-width="1.6"/>
<line x1="1340.0" y1="763.0" x2="1653.5" y2="763.0" stroke="#222" stroke-width="1.6"/>
<line x1="1340.0" y1="763.0" x2="1348.0" y2="763.0" stroke="#222" stroke-width="1.6"/>
<text x="1329.0" y="770.6" text-anchor="end">0</text>
<line x1="1340.0" y1="726.1" x2="1348.0" y2="726.1" stroke="#222" stroke-width="1.6"/>
<text x="1329.0" y="733.7" text-anchor="end">0.2</text>
<line x1="1340.0" y1="689.2" x2="1348.0" y2="689.2" stroke="#222" stroke-width="1.6"/>
<text x="1329.0" y="696.8" text-anchor="end">0.4</text>
<line x1="1340.0" y1="652.2" x2="1348.0" y2="652.2" stroke="#222" stroke-width="1.6"/>
<text x="1329.0" y="659.8" text-anchor="end">0.6</text>
<line x1="1340.0" y1="615.3" x2="1348.0" y2="615.3" stroke="#222" stroke-width="1.6"/>
<text x="1329.0" y="622.9" text-anchor="end">0.8</text>
<line x1="1340.0" y1="578.4" x2="1348.0" y2="578.4" stroke="#222" stroke-width="1.6"/>
<text x="1329.0" y="586.0" text-anchor="end">1.0</text>
<line x1="1348.0" y1="763.0" x2="1348.0" y2="771.0" stroke="#222" stroke-width="1.6"/>
<text x="1348.0" y="797.0" text-anchor="middle"></text>
<line x1="1423.9" y1="763.0" x2="1423.9" y2="771.0" stroke="#222" stroke-width="1.6"/>
<text x="1423.9" y="797.0" text-anchor="middle"></text>
<line x1="1500.4" y1="763.0" x2="1500.4" y2="771.0" stroke="#222" stroke-width="1.6"/>
<text x="1500.4" y="797.0" text-anchor="middle"></text>
<line x1="1576.6" y1="763.0" x2="1576.6" y2="771.0" stroke="#222" stroke-width="1.6"/>
<text x="1576.6" y="797.0" text-anchor="middle"></text>
<line x1="1652.7" y1="763.0" x2="1652.7" y2="771.0" stroke="#222" stroke-width="1.6"/>
<text x="1652.7" y="797.0" text-anchor="middle"></text>
<text x="1347.5" y="797.7" text-anchor="middle">0</text>
<text x="1423.0" y="797.7" text-anchor="middle">10</text>
<text x="1491.6" y="797.7" text-anchor="middle">20</text>
<text x="1560.8" y="797.7" text-anchor="middle">30</text>
<text x="1629.8" y="797.7" text-anchor="middle">40</text>
<text transform="translate(1275.7 662.0) rotate(-90) scale(0.972 1)" text-anchor="middle">Survival</text>
<text transform="translate(1492.0 832.5) scale(0.956 1)" text-anchor="middle">Time (weeks)</text>
<text x="1497.8" y="709.0"><tspan font-style="italic">P</tspan> = 0.0013</text>
<polyline points="1348.0,578.4 1417.7,578.4 1417.7,590.8 1421.8,590.8 1421.8,603.2 1439.3,603.2 1439.3,615.4 1466.3,615.4 1466.3,627.6 1480.6,627.6 1480.6,639.7 1583.1,639.7" fill="none" stroke="#f00" stroke-width="2.2"/>
<line x1="1512.6" y1="637.3" x2="1512.6" y2="640.7" stroke="#f00" stroke-width="1.6"/>
<line x1="1529.6" y1="637.3" x2="1529.6" y2="640.7" stroke="#f00" stroke-width="1.6"/>
<line x1="1532.0" y1="637.3" x2="1532.0" y2="640.7" stroke="#f00" stroke-width="1.6"/>
<line x1="1545.8" y1="637.3" x2="1545.8" y2="640.7" stroke="#f00" stroke-width="1.6"/>
<line x1="1547.4" y1="637.3" x2="1547.4" y2="640.7" stroke="#f00" stroke-width="1.6"/>
<line x1="1554.7" y1="637.3" x2="1554.7" y2="640.7" stroke="#f00" stroke-width="1.6"/>
<line x1="1564.4" y1="637.3" x2="1564.4" y2="640.7" stroke="#f00" stroke-width="1.6"/>
<line x1="1575.0" y1="637.3" x2="1575.0" y2="640.7" stroke="#f00" stroke-width="1.6"/>
<line x1="1582.3" y1="637.3" x2="1582.3" y2="640.7" stroke="#f00" stroke-width="1.6"/>
<polyline points="1348.0,578.4 1353.2,578.4 1353.2,595.1 1355.3,595.1 1355.3,612.2 1356.6,612.2 1356.6,629.2 1365.8,629.2 1365.8,645.4 1370.7,645.4 1370.7,662.4 1372.8,662.4 1372.8,679.0 1389.3,679.0 1389.3,695.7 1418.5,695.7 1418.5,712.7 1469.6,712.7 1469.6,729.4 1578.2,729.4" fill="none" stroke="#000" stroke-width="2.2"/>
<text transform="translate(3.0 907.8) scale(1.14 1)" font-size="34" font-weight="bold">d</text>
<line x1="51.7" y1="1024.4" x2="74.9" y2="1024.4" stroke="#222" stroke-width="1.6"/>
<circle cx="63.1" cy="1024.4" r="4.3" fill="#5555ff" stroke="#000" stroke-width="1.3"/>
<text x="86.5" y="1031.5">Healthy control serum</text>
<line x1="51.7" y1="1058.0" x2="74.9" y2="1058.0" stroke="#222" stroke-width="1.6"/>
<circle cx="63.1" cy="1058.0" r="4.3" fill="#f44040" stroke="#000" stroke-width="1.3"/>
<text x="86.5" y="1065.0">Albumin-depleted serum</text>
<line x1="91.1" y1="1122.8" x2="91.1" y2="1310.5" stroke="#333" stroke-width="1.6"/>
<line x1="84.3" y1="1123.8" x2="91.1" y2="1123.8" stroke="#000" stroke-width="1.6"/>
<text x="72.0" y="1131.2" text-anchor="end">100</text>
<line x1="84.3" y1="1160.9" x2="91.1" y2="1160.9" stroke="#000" stroke-width="1.6"/>
<text x="72.0" y="1168.3" text-anchor="end">80</text>
<line x1="84.3" y1="1198.0" x2="91.1" y2="1198.0" stroke="#000" stroke-width="1.6"/>
<text x="72.0" y="1205.4" text-anchor="end">60</text>
<line x1="84.3" y1="1235.1" x2="91.1" y2="1235.1" stroke="#000" stroke-width="1.6"/>
<text x="72.0" y="1242.5" text-anchor="end">40</text>
<line x1="84.3" y1="1272.2" x2="91.1" y2="1272.2" stroke="#000" stroke-width="1.6"/>
<text x="72.0" y="1279.6" text-anchor="end">20</text>
<text transform="translate(17.2 1216.5) rotate(-90)" text-anchor="middle">Inhibition of growth (%)</text>
<line x1="110.3" y1="1330.0" x2="229.9" y2="1330.0" stroke="#333" stroke-width="1.6"/>
<line x1="259.8" y1="1330.0" x2="398.6" y2="1330.0" stroke="#333" stroke-width="1.6"/>
<text transform="translate(168.9 1359.5) scale(0.957 1)" text-anchor="middle" font-style="italic">R. delemar</text>
<text transform="translate(330.1 1359.5) scale(0.971 1)" text-anchor="middle" font-style="italic">A. fumigatus</text>
<line x1="146.3" y1="1163.9" x2="193.2" y2="1180.2" stroke="#000" stroke-width="1.1"/>
<line x1="146.3" y1="1170.4" x2="193.2" y2="1200.2" stroke="#000" stroke-width="1.1"/>
<line x1="146.3" y1="1178.2" x2="193.2" y2="1219.3" stroke="#000" stroke-width="1.1"/>
<line x1="146.3" y1="1185.9" x2="193.2" y2="1227.1" stroke="#000" stroke-width="1.1"/>
<line x1="146.3" y1="1187.8" x2="193.2" y2="1231.9" stroke="#000" stroke-width="1.1"/>
<line x1="146.3" y1="1191.0" x2="193.2" y2="1242.1" stroke="#000" stroke-width="1.1"/>
<line x1="146.3" y1="1193.4" x2="193.2" y2="1236.8" stroke="#000" stroke-width="1.1"/>
<line x1="146.3" y1="1195.2" x2="193.2" y2="1250.5" stroke="#000" stroke-width="1.1"/>
<line x1="146.3" y1="1197.1" x2="193.2" y2="1247.2" stroke="#000" stroke-width="1.1"/>
<line x1="146.3" y1="1199.5" x2="193.2" y2="1262.6" stroke="#000" stroke-width="1.1"/>
<line x1="146.3" y1="1201.3" x2="193.2" y2="1267.9" stroke="#000" stroke-width="1.1"/>
<line x1="146.3" y1="1203.6" x2="193.2" y2="1242.1" stroke="#000" stroke-width="1.1"/>
<line x1="146.3" y1="1205.4" x2="193.2" y2="1280.9" stroke="#000" stroke-width="1.1"/>
<line x1="146.3" y1="1207.3" x2="193.2" y2="1287.4" stroke="#000" stroke-width="1.1"/>
<line x1="146.3" y1="1208.2" x2="193.2" y2="1264.8" stroke="#000" stroke-width="1.1"/>
<circle cx="146.3" cy="1208.2" r="4.3" fill="#5555ff" stroke="#000" stroke-width="1.2"/>
<circle cx="146.3" cy="1207.3" r="4.3" fill="#5555ff" stroke="#000" stroke-width="1.2"/>
<circle cx="146.3" cy="1205.4" r="4.3" fill="#5555ff" stroke="#000" stroke-width="1.2"/>
<circle cx="146.3" cy="1203.6" r="4.3" fill="#5555ff" stroke="#000" stroke-width="1.2"/>
<circle cx="146.3" cy="1201.3" r="4.3" fill="#5555ff" stroke="#000" stroke-width="1.2"/>
<circle cx="146.3" cy="1199.5" r="4.3" fill="#5555ff" stroke="#000" stroke-width="1.2"/>
<circle cx="146.3" cy="1197.1" r="4.3" fill="#5555ff" stroke="#000" stroke-width="1.2"/>
<circle cx="146.3" cy="1195.2" r="4.3" fill="#5555ff" stroke="#000" stroke-width="1.2"/>
<circle cx="146.3" cy="1193.4" r="4.3" fill="#5555ff" stroke="#000" stroke-width="1.2"/>
<circle cx="146.3" cy="1191.0" r="4.3" fill="#5555ff" stroke="#000" stroke-width="1.2"/>
<circle cx="146.3" cy="1187.8" r="4.3" fill="#5555ff" stroke="#000" stroke-width="1.2"/>
<circle cx="146.3" cy="1185.9" r="4.3" fill="#5555ff" stroke="#000" stroke-width="1.2"/>
<circle cx="146.3" cy="1178.2" r="4.3" fill="#5555ff" stroke="#000" stroke-width="1.2"/>
<circle cx="146.3" cy="1170.4" r="4.3" fill="#5555ff" stroke="#000" stroke-width="1.2"/>
<circle cx="146.3" cy="1163.9" r="4.3" fill="#5555ff" stroke="#000" stroke-width="1.2"/>
<circle cx="193.2" cy="1180.2" r="4.3" fill="#f44040" stroke="#000" stroke-width="1.2"/>
<circle cx="193.2" cy="1200.2" r="4.3" fill="#f44040" stroke="#000" stroke-width="1.2"/>
<circle cx="193.2" cy="1219.3" r="4.3" fill="#f44040" stroke="#000" stroke-width="1.2"/>
<circle cx="193.2" cy="1227.1" r="4.3" fill="#f44040" stroke="#000" stroke-width="1.2"/>
<circle cx="193.2" cy="1231.9" r="4.3" fill="#f44040" stroke="#000" stroke-width="1.2"/>
<circle cx="193.2" cy="1242.1" r="4.3" fill="#f44040" stroke="#000" stroke-width="1.2"/>
<circle cx="193.2" cy="1236.8" r="4.3" fill="#f44040" stroke="#000" stroke-width="1.2"/>
<circle cx="193.2" cy="1250.5" r="4.3" fill="#f44040" stroke="#000" stroke-width="1.2"/>
<circle cx="193.2" cy="1247.2" r="4.3" fill="#f44040" stroke="#000" stroke-width="1.2"/>
<circle cx="193.2" cy="1262.6" r="4.3" fill="#f44040" stroke="#000" stroke-width="1.2"/>
<circle cx="193.2" cy="1267.9" r="4.3" fill="#f44040" stroke="#000" stroke-width="1.2"/>
<circle cx="193.2" cy="1242.1" r="4.3" fill="#f44040" stroke="#000" stroke-width="1.2"/>
<circle cx="193.2" cy="1280.9" r="4.3" fill="#f44040" stroke="#000" stroke-width="1.2"/>
<circle cx="193.2" cy="1287.4" r="4.3" fill="#f44040" stroke="#000" stroke-width="1.2"/>
<circle cx="193.2" cy="1264.8" r="4.3" fill="#f44040" stroke="#000" stroke-width="1.2"/>
<line x1="301.5" y1="1129.0" x2="356.2" y2="1129.0" stroke="#000" stroke-width="1.1"/>
<line x1="301.5" y1="1131.2" x2="356.2" y2="1132.7" stroke="#000" stroke-width="1.1"/>
<line x1="301.5" y1="1134.0" x2="356.2" y2="1136.8" stroke="#000" stroke-width="1.1"/>
<line x1="301.5" y1="1142.3" x2="356.2" y2="1142.3" stroke="#000" stroke-width="1.1"/>
<line x1="301.5" y1="1143.8" x2="356.2" y2="1147.0" stroke="#000" stroke-width="1.1"/>
<circle cx="301.5" cy="1129.0" r="4.3" fill="#5555ff" stroke="#000" stroke-width="1.2"/>
<circle cx="301.5" cy="1131.2" r="4.3" fill="#5555ff" stroke="#000" stroke-width="1.2"/>
<circle cx="301.5" cy="1134.0" r="4.3" fill="#5555ff" stroke="#000" stroke-width="1.2"/>
<circle cx="301.5" cy="1142.3" r="4.3" fill="#5555ff" stroke="#000" stroke-width="1.2"/>
<circle cx="301.5" cy="1143.8" r="4.3" fill="#5555ff" stroke="#000" stroke-width="1.2"/>
<circle cx="356.2" cy="1129.0" r="4.3" fill="#f44040" stroke="#000" stroke-width="1.2"/>
<circle cx="356.2" cy="1132.7" r="4.3" fill="#f44040" stroke="#000" stroke-width="1.2"/>
<circle cx="356.2" cy="1136.8" r="4.3" fill="#f44040" stroke="#000" stroke-width="1.2"/>
<circle cx="356.2" cy="1142.3" r="4.3" fill="#f44040" stroke="#000" stroke-width="1.2"/>
<circle cx="356.2" cy="1147.0" r="4.3" fill="#f44040" stroke="#000" stroke-width="1.2"/>
<polyline points="146.3,1152.0 146.3,1139.4 193.2,1139.4 193.2,1167.8" fill="none" stroke="#333" stroke-width="1.5"/>
<text x="170.6" y="1143.5" font-size="27" text-anchor="middle" letter-spacing="1.2">****</text>
<text transform="translate(503.0 908.2) scale(1.14 1)" font-size="34" font-weight="bold">e</text>
<rect x="842.0" y="1049.8" width="246.6" height="68.6" fill="#e3f4fc" stroke="#1f7fc0" stroke-width="2"/>
<text x="503.0" y="1111.0">kDa</text>
<line x1="554.5" y1="1156.2" x2="563.0" y2="1156.2" stroke="#000" stroke-width="1.6"/>
<text x="543.5" y="1164.2" text-anchor="end">245</text>
<line x1="554.5" y1="1177.8" x2="563.0" y2="1177.8" stroke="#000" stroke-width="1.6"/>
<text x="543.5" y="1185.8" text-anchor="end">135</text>
<line x1="554.5" y1="1199.7" x2="563.0" y2="1199.7" stroke="#000" stroke-width="1.6"/>
<text x="543.5" y="1207.7" text-anchor="end">100</text>
<line x1="554.5" y1="1221.7" x2="563.0" y2="1221.7" stroke="#000" stroke-width="1.6"/>
<text x="543.5" y="1229.7" text-anchor="end">75</text>
<line x1="554.5" y1="1247.0" x2="563.0" y2="1247.0" stroke="#000" stroke-width="1.6"/>
<text x="543.5" y="1255.0" text-anchor="end">63</text>
<line x1="554.5" y1="1283.0" x2="563.0" y2="1283.0" stroke="#000" stroke-width="1.6"/>
<text x="543.5" y="1291.0" text-anchor="end">48</text>
<line x1="554.5" y1="1318.1" x2="563.0" y2="1318.1" stroke="#000" stroke-width="1.6"/>
<text x="543.5" y="1326.1" text-anchor="end">35</text>
<line x1="554.5" y1="1362.8" x2="563.0" y2="1362.8" stroke="#000" stroke-width="1.6"/>
<text x="543.5" y="1370.8" text-anchor="end">25</text>
<line x1="554.5" y1="1420.3" x2="563.0" y2="1420.3" stroke="#000" stroke-width="1.6"/>
<text x="543.5" y="1428.3" text-anchor="end">11</text>
<text transform="translate(637.6 1108.0) rotate(-90)">Marker</text>
<text transform="translate(687.5 1108.0) rotate(-90)">Serum</text>
<text transform="translate(721.5 1108.0) rotate(-90)">Albumin-depleted</text>
<text transform="translate(744.3 1108.0) rotate(-90)">serum</text>
<text transform="translate(784.0 1108.0) rotate(-90)">Wash</text>
<text transform="translate(828.6 1108.0) rotate(-90)">E1</text>
<text transform="translate(875.9 1108.0) rotate(-90)">E2</text>
<text transform="translate(919.4 1108.0) rotate(-90)">E3</text>
<text transform="translate(969.8 1108.0) rotate(-90)">E4</text>
<text transform="translate(1018.6 1108.0) rotate(-90)">E5</text>
<text transform="translate(1070.8 1108.0) rotate(-90)">E6</text>
<defs><filter id="gb" x="-20%" y="-50%" width="140%" height="200%"><feGaussianBlur stdDeviation="2.0 1.9"/></filter><filter id="gb2" x="-20%" y="-20%" width="140%" height="140%"><feGaussianBlur stdDeviation="4"/></filter><linearGradient id="gelg" x1="0" y1="0" x2="0" y2="1"><stop offset="0" stop-color="#c2c2c3"/><stop offset="0.15" stop-color="#b6b6b8"/><stop offset="1" stop-color="#a9a9ab"/></linearGradient><linearGradient id="gelh" x1="0" y1="0" x2="1" y2="0"><stop offset="0" stop-color="#fff" stop-opacity="0.3"/><stop offset="0.05" stop-color="#fff" stop-opacity="0.12"/><stop offset="0.09" stop-color="#fff" stop-opacity="0.0"/><stop offset="0.95" stop-color="#fff" stop-opacity="0"/><stop offset="1" stop-color="#fff" stop-opacity="0.1"/></linearGradient><clipPath id="gelc"><rect x="563" y="1117.6" width="543" height="309.4"/></clipPath></defs>
<rect x="563.0" y="1117.6" width="543.0" height="309.4" fill="url(#gelg)"/>
<rect x="563.0" y="1117.6" width="543.0" height="309.4" fill="url(#gelh)"/>
<g clip-path="url(#gelc)"><g filter="url(#gb2)">
<rect x="608.5" y="1140.0" width="36.0" height="270.0" fill="#000" opacity="0.05"/>
<rect x="655.5" y="1140.0" width="39.0" height="270.0" fill="#000" opacity="0.22"/>
<rect x="704.7" y="1140.0" width="36.0" height="270.0" fill="#000" opacity="0.07"/>
<rect x="753.3" y="1140.0" width="33.0" height="270.0" fill="#000" opacity="0.05"/>
<rect x="798.6" y="1140.0" width="34.0" height="270.0" fill="#000" opacity="0.07"/>
<rect x="843.6" y="1140.0" width="40.0" height="270.0" fill="#000" opacity="0.06"/>
<rect x="891.0" y="1140.0" width="40.0" height="270.0" fill="#000" opacity="0.03"/>
<rect x="940.0" y="1140.0" width="40.0" height="270.0" fill="#000" opacity="0.02"/>
<rect x="989.0" y="1140.0" width="38.0" height="270.0" fill="#000" opacity="0.02"/>
<rect x="1038.5" y="1140.0" width="40.0" height="270.0" fill="#000" opacity="0.02"/>
</g><g filter="url(#gb)">
<rect x="610.5" y="1143.8" width="32.0" height="4.5" rx="3" fill="#1a1a1a" opacity="0.1"/>
<rect x="610.5" y="1170.0" width="32.0" height="4.5" rx="3" fill="#1a1a1a" opacity="0.25"/>
<rect x="610.5" y="1181.8" width="32.0" height="4.5" rx="3" fill="#1a1a1a" opacity="0.3"/>
<rect x="610.5" y="1199.5" width="32.0" height="4.5" rx="3" fill="#1a1a1a" opacity="0.4"/>
<rect x="610.5" y="1213.3" width="32.0" height="4.5" rx="3" fill="#1a1a1a" opacity="0.6"/>
<rect x="610.5" y="1241.5" width="32.0" height="4.5" rx="3" fill="#1a1a1a" opacity="0.5"/>
<rect x="610.5" y="1277.7" width="32.0" height="4.5" rx="3" fill="#1a1a1a" opacity="0.65"/>
<rect x="610.5" y="1307.0" width="32.0" height="4.5" rx="3" fill="#1a1a1a" opacity="0.7"/>
<rect x="610.5" y="1355.8" width="32.0" height="4.5" rx="3" fill="#1a1a1a" opacity="0.7"/>
<rect x="610.5" y="1360.0" width="32.0" height="4.5" rx="3" fill="#1a1a1a" opacity="0.6"/>
<rect x="610.5" y="1371.8" width="32.0" height="4.5" rx="3" fill="#1a1a1a" opacity="0.6"/>
<rect x="610.5" y="1375.2" width="32.0" height="4.5" rx="3" fill="#1a1a1a" opacity="0.5"/>
<rect x="610.5" y="1420.5" width="32.0" height="4.5" rx="3" fill="#1a1a1a" opacity="0.6"/>
<rect x="657" y="1141" width="36" height="122" rx="4" fill="#1a1a1a" opacity="0.55"/>
<rect x="656.0" y="1143.0" width="38.0" height="6.0" rx="3" fill="#1a1a1a" opacity="0.48"/>
<rect x="656.0" y="1150.0" width="38.0" height="6.0" rx="3" fill="#1a1a1a" opacity="0.48"/>
<rect x="656.0" y="1169.0" width="38.0" height="6.0" rx="3" fill="#1a1a1a" opacity="0.48"/>
<rect x="656.0" y="1180.0" width="38.0" height="6.0" rx="3" fill="#1a1a1a" opacity="0.36"/>
<rect x="656.0" y="1190.0" width="38.0" height="6.0" rx="3" fill="#1a1a1a" opacity="0.42"/>
<rect x="656.0" y="1200.0" width="38.0" height="6.0" rx="3" fill="#1a1a1a" opacity="0.44999999999999996"/>
<rect x="656.0" y="1210.0" width="38.0" height="6.0" rx="3" fill="#1a1a1a" opacity="0.48"/>
<rect x="656.0" y="1219.0" width="38.0" height="6.0" rx="3" fill="#1a1a1a" opacity="0.44999999999999996"/>
<rect x="656.0" y="1227.0" width="38.0" height="6.0" rx="3" fill="#1a1a1a" opacity="0.48"/>
<rect x="654.5" y="1232.0" width="41.0" height="28.0" rx="3" fill="#1a1a1a" opacity="1.0"/>
<rect x="657.0" y="1251.0" width="36.0" height="12.0" rx="3" fill="#1a1a1a" opacity="1.0"/>
<rect x="665" y="1262" width="20" height="150" rx="3" fill="#1a1a1a" opacity="0.18"/>
<rect x="664.0" y="1263.7" width="22.0" height="5.5" rx="3" fill="#1a1a1a" opacity="0.6"/>
<rect x="664.0" y="1278.8" width="22.0" height="5.5" rx="3" fill="#1a1a1a" opacity="0.55"/>
<rect x="664.0" y="1292.2" width="22.0" height="5.5" rx="3" fill="#1a1a1a" opacity="0.45"/>
<rect x="664.0" y="1310.8" width="22.0" height="5.5" rx="3" fill="#1a1a1a" opacity="0.3"/>
<rect x="664.0" y="1351.2" width="22.0" height="5.5" rx="3" fill="#1a1a1a" opacity="0.9"/>
<rect x="664.0" y="1357.2" width="22.0" height="5.5" rx="3" fill="#1a1a1a" opacity="0.6"/>
<rect x="664.0" y="1365.2" width="22.0" height="5.5" rx="3" fill="#1a1a1a" opacity="0.45"/>
<rect x="664.0" y="1373.2" width="22.0" height="5.5" rx="3" fill="#1a1a1a" opacity="0.3"/>
<rect x="664.0" y="1393.2" width="22.0" height="5.5" rx="3" fill="#1a1a1a" opacity="0.55"/>
<rect x="664.0" y="1411.7" width="22.0" height="5.5" rx="3" fill="#1a1a1a" opacity="0.55"/>
<rect x="705.2" y="1151.2" width="35.0" height="5.0" rx="3" fill="#1a1a1a" opacity="0.2"/>
<rect x="705.2" y="1169.7" width="35.0" height="5.0" rx="3" fill="#1a1a1a" opacity="0.4"/>
<rect x="705.2" y="1191.5" width="35.0" height="5.0" rx="3" fill="#1a1a1a" opacity="0.3"/>
<rect x="705.2" y="1205.0" width="35.0" height="5.0" rx="3" fill="#1a1a1a" opacity="0.4"/>
<rect x="705.2" y="1221.9" width="35.0" height="5.0" rx="3" fill="#1a1a1a" opacity="0.35"/>
<rect x="705.2" y="1260.2" width="35.0" height="5.0" rx="3" fill="#1a1a1a" opacity="0.45"/>
<rect x="705.2" y="1283.2" width="35.0" height="5.0" rx="3" fill="#1a1a1a" opacity="0.22"/>
<rect x="705.2" y="1353.9" width="35.0" height="5.0" rx="3" fill="#1a1a1a" opacity="0.55"/>
<rect x="705.2" y="1397.5" width="35.0" height="5.0" rx="3" fill="#1a1a1a" opacity="0.12"/>
<rect x="705.2" y="1234.8" width="35.0" height="11.0" rx="3" fill="#1a1a1a" opacity="0.7"/>
<rect x="753.8" y="1151.2" width="32.0" height="5.0" rx="3" fill="#1a1a1a" opacity="0.16000000000000003"/>
<rect x="753.8" y="1169.7" width="32.0" height="5.0" rx="3" fill="#1a1a1a" opacity="0.32000000000000006"/>
<rect x="753.8" y="1191.5" width="32.0" height="5.0" rx="3" fill="#1a1a1a" opacity="0.24"/>
<rect x="753.8" y="1205.0" width="32.0" height="5.0" rx="3" fill="#1a1a1a" opacity="0.32000000000000006"/>
<rect x="753.8" y="1221.9" width="32.0" height="5.0" rx="3" fill="#1a1a1a" opacity="0.27999999999999997"/>
<rect x="753.8" y="1260.2" width="32.0" height="5.0" rx="3" fill="#1a1a1a" opacity="0.36000000000000004"/>
<rect x="753.8" y="1283.2" width="32.0" height="5.0" rx="3" fill="#1a1a1a" opacity="0.17600000000000002"/>
<rect x="753.8" y="1353.9" width="32.0" height="5.0" rx="3" fill="#1a1a1a" opacity="0.44000000000000006"/>
<rect x="753.8" y="1397.5" width="32.0" height="5.0" rx="3" fill="#1a1a1a" opacity="0.096"/>
<rect x="753.8" y="1234.8" width="32.0" height="11.0" rx="3" fill="#1a1a1a" opacity="0.5599999999999999"/>
<rect x="799.1" y="1151.2" width="33.0" height="5.0" rx="3" fill="#1a1a1a" opacity="0.2"/>
<rect x="799.1" y="1169.7" width="33.0" height="5.0" rx="3" fill="#1a1a1a" opacity="0.4"/>
<rect x="799.1" y="1191.5" width="33.0" height="5.0" rx="3" fill="#1a1a1a" opacity="0.3"/>
<rect x="799.1" y="1205.0" width="33.0" height="5.0" rx="3" fill="#1a1a1a" opacity="0.4"/>
<rect x="799.1" y="1221.9" width="33.0" height="5.0" rx="3" fill="#1a1a1a" opacity="0.35"/>
<rect x="799.1" y="1260.2" width="33.0" height="5.0" rx="3" fill="#1a1a1a" opacity="0.45"/>
<rect x="799.1" y="1283.2" width="33.0" height="5.0" rx="3" fill="#1a1a1a" opacity="0.22"/>
<rect x="799.1" y="1353.9" width="33.0" height="5.0" rx="3" fill="#1a1a1a" opacity="0.55"/>
<rect x="799.1" y="1397.5" width="33.0" height="5.0" rx="3" fill="#1a1a1a" opacity="0.12"/>
<rect x="799.1" y="1234.8" width="33.0" height="11.0" rx="3" fill="#1a1a1a" opacity="0.9"/>
<rect x="843.6" y="1158.9" width="40.0" height="3.2" rx="3" fill="#1a1a1a" opacity="0.9"/>
<rect x="843.6" y="1236.0" width="40.0" height="29.0" rx="3" fill="#1a1a1a" opacity="1.0"/>
<rect x="845" y="1150" width="38" height="85" rx="4" fill="#1a1a1a" opacity="0.14"/>
<rect x="844.6" y="1171.5" width="38.0" height="7.0" rx="3" fill="#1a1a1a" opacity="0.15"/>
<rect x="844.6" y="1186.5" width="38.0" height="7.0" rx="3" fill="#1a1a1a" opacity="0.18"/>
<rect x="844.6" y="1201.5" width="38.0" height="7.0" rx="3" fill="#1a1a1a" opacity="0.15"/>
<rect x="844.6" y="1216.5" width="38.0" height="7.0" rx="3" fill="#1a1a1a" opacity="0.2"/>
<rect x="891.0" y="1158.9" width="40.0" height="3.2" rx="3" fill="#1a1a1a" opacity="0.8"/>
<rect x="891.0" y="1236.0" width="40.0" height="20.0" rx="3" fill="#1a1a1a" opacity="0.92"/>
<rect x="940.0" y="1159.0" width="40.0" height="3.0" rx="3" fill="#1a1a1a" opacity="0.6"/>
<rect x="940.0" y="1235.5" width="40.0" height="14.0" rx="3" fill="#1a1a1a" opacity="0.85"/>
<rect x="989.0" y="1159.0" width="38.0" height="3.0" rx="3" fill="#1a1a1a" opacity="0.7"/>
<rect x="989.0" y="1236.5" width="38.0" height="17.0" rx="3" fill="#1a1a1a" opacity="0.88"/>
<rect x="1038.5" y="1160.0" width="40.0" height="3.0" rx="3" fill="#1a1a1a" opacity="0.7"/>
<rect x="1038.5" y="1236.0" width="40.0" height="15.0" rx="3" fill="#1a1a1a" opacity="0.88"/>
</g></g>
<path d="M572.6,1234.1 L583.5,1234.1 L583.5,1227.7 L596.7,1240.2 L583.5,1253 L583.5,1246.2 L572.6,1246.2 Z" fill="#fff" stroke="#000" stroke-width="2"/>
<text transform="translate(1211.0 907.0) scale(1.14 1)" font-size="34" font-weight="bold">f</text>
<g transform="translate(0.0,0)">
<g transform="translate(1285.5 900.9) rotate(41.6)">
<rect x="6" y="-9.5" width="24" height="9.5" rx="2.5" fill="#e9f0f1" stroke="#7a8a90" stroke-width="0.9"/>
<rect x="0" y="-1.8" width="33" height="3.6" rx="1.8" fill="#f2f6f7" stroke="#7a8a90" stroke-width="0.9"/>
<path d="M32,0 Q36,1 40,-1" fill="none" stroke="#7a8a90" stroke-width="0.9"/>
</g>
<path d="M1317.6,928.3 L1317.6,966 Q1318,972 1322,986 L1328.2,1005.5 Q1330.3,1009 1332.4,1005.5 L1338.6,986 Q1342.6,972 1342.9,966 L1342.9,928.3 Z" fill="#e6eef0" stroke="#6e7e84" stroke-width="1"/>
<path d="M1319.2,950.1 L1319.2,966 Q1319.6,972 1323.4,985.5 L1329.2,1003.5 Q1330.3,1005.5 1331.4,1003.5 L1337.2,985.5 Q1341,972 1341.4,966 L1341.4,950.1 Z" fill="#f6e8c4" stroke="#d4aa55" stroke-width="1"/>
<line x1="1335" y1="934" x2="1340" y2="934" stroke="#888" stroke-width="0.8"/>
<line x1="1335" y1="966.5" x2="1341" y2="966.5" stroke="#999" stroke-width="0.6"/>
<rect x="1316.6" y="925.2" width="27.7" height="3.4" rx="1.2" fill="#f4f8f9" stroke="#6e7e84" stroke-width="0.9"/>
</g>
<text transform="translate(1335.7 967.0) rotate(-90)" font-size="15.5" text-anchor="middle">E2</text>
<g transform="translate(64.2,0)">
<g transform="translate(1285.5 900.9) rotate(41.6)">
<rect x="6" y="-9.5" width="24" height="9.5" rx="2.5" fill="#e9f0f1" stroke="#7a8a90" stroke-width="0.9"/>
<rect x="0" y="-1.8" width="33" height="3.6" rx="1.8" fill="#f2f6f7" stroke="#7a8a90" stroke-width="0.9"/>
<path d="M32,0 Q36,1 40,-1" fill="none" stroke="#7a8a90" stroke-width="0.9"/>
</g>
<path d="M1317.6,928.3 L1317.6,966 Q1318,972 1322,986 L1328.2,1005.5 Q1330.3,1009 1332.4,1005.5 L1338.6,986 Q1342.6,972 1342.9,966 L1342.9,928.3 Z" fill="#e6eef0" stroke="#6e7e84" stroke-width="1"/>
<path d="M1319.2,950.1 L1319.2,966 Q1319.6,972 1323.4,985.5 L1329.2,1003.5 Q1330.3,1005.5 1331.4,1003.5 L1337.2,985.5 Q1341,972 1341.4,966 L1341.4,950.1 Z" fill="#f6e8c4" stroke="#d4aa55" stroke-width="1"/>
<line x1="1335" y1="934" x2="1340" y2="934" stroke="#888" stroke-width="0.8"/>
<line x1="1335" y1="966.5" x2="1341" y2="966.5" stroke="#999" stroke-width="0.6"/>
<rect x="1316.6" y="925.2" width="27.7" height="3.4" rx="1.2" fill="#f4f8f9" stroke="#6e7e84" stroke-width="0.9"/>
</g>
<text transform="translate(1399.9 967.0) rotate(-90)" font-size="15.5" text-anchor="middle">E3</text>
<g transform="translate(128.4,0)">
<g transform="translate(1285.5 900.9) rotate(41.6)">
<rect x="6" y="-9.5" width="24" height="9.5" rx="2.5" fill="#e9f0f1" stroke="#7a8a90" stroke-width="0.9"/>
<rect x="0" y="-1.8" width="33" height="3.6" rx="1.8" fill="#f2f6f7" stroke="#7a8a90" stroke-width="0.9"/>
<path d="M32,0 Q36,1 40,-1" fill="none" stroke="#7a8a90" stroke-width="0.9"/>
</g>
<path d="M1317.6,928.3 L1317.6,966 Q1318,972 1322,986 L1328.2,1005.5 Q1330.3,1009 1332.4,1005.5 L1338.6,986 Q1342.6,972 1342.9,966 L1342.9,928.3 Z" fill="#e6eef0" stroke="#6e7e84" stroke-width="1"/>
<path d="M1319.2,950.1 L1319.2,966 Q1319.6,972 1323.4,985.5 L1329.2,1003.5 Q1330.3,1005.5 1331.4,1003.5 L1337.2,985.5 Q1341,972 1341.4,966 L1341.4,950.1 Z" fill="#f6e8c4" stroke="#d4aa55" stroke-width="1"/>
<line x1="1335" y1="934" x2="1340" y2="934" stroke="#888" stroke-width="0.8"/>
<line x1="1335" y1="966.5" x2="1341" y2="966.5" stroke="#999" stroke-width="0.6"/>
<rect x="1316.6" y="925.2" width="27.7" height="3.4" rx="1.2" fill="#f4f8f9" stroke="#6e7e84" stroke-width="0.9"/>
</g>
<text transform="translate(1464.1 967.0) rotate(-90)" font-size="15.5" text-anchor="middle">E4</text>
<g transform="translate(192.6,0)">
<g transform="translate(1285.5 900.9) rotate(41.6)">
<rect x="6" y="-9.5" width="24" height="9.5" rx="2.5" fill="#e9f0f1" stroke="#7a8a90" stroke-width="0.9"/>
<rect x="0" y="-1.8" width="33" height="3.6" rx="1.8" fill="#f2f6f7" stroke="#7a8a90" stroke-width="0.9"/>
<path d="M32,0 Q36,1 40,-1" fill="none" stroke="#7a8a90" stroke-width="0.9"/>
</g>
<path d="M1317.6,928.3 L1317.6,966 Q1318,972 1322,986 L1328.2,1005.5 Q1330.3,1009 1332.4,1005.5 L1338.6,986 Q1342.6,972 1342.9,966 L1342.9,928.3 Z" fill="#e6eef0" stroke="#6e7e84" stroke-width="1"/>
<path d="M1319.2,950.1 L1319.2,966 Q1319.6,972 1323.4,985.5 L1329.2,1003.5 Q1330.3,1005.5 1331.4,1003.5 L1337.2,985.5 Q1341,972 1341.4,966 L1341.4,950.1 Z" fill="#f6e8c4" stroke="#d4aa55" stroke-width="1"/>
<line x1="1335" y1="934" x2="1340" y2="934" stroke="#888" stroke-width="0.8"/>
<line x1="1335" y1="966.5" x2="1341" y2="966.5" stroke="#999" stroke-width="0.6"/>
<rect x="1316.6" y="925.2" width="27.7" height="3.4" rx="1.2" fill="#f4f8f9" stroke="#6e7e84" stroke-width="0.9"/>
</g>
<text transform="translate(1528.3 967.0) rotate(-90)" font-size="15.5" text-anchor="middle">E5</text>
<g transform="translate(256.8,0)">
<g transform="translate(1285.5 900.9) rotate(41.6)">
<rect x="6" y="-9.5" width="24" height="9.5" rx="2.5" fill="#e9f0f1" stroke="#7a8a90" stroke-width="0.9"/>
<rect x="0" y="-1.8" width="33" height="3.6" rx="1.8" fill="#f2f6f7" stroke="#7a8a90" stroke-width="0.9"/>
<path d="M32,0 Q36,1 40,-1" fill="none" stroke="#7a8a90" stroke-width="0.9"/>
</g>
<path d="M1317.6,928.3 L1317.6,966 Q1318,972 1322,986 L1328.2,1005.5 Q1330.3,1009 1332.4,1005.5 L1338.6,986 Q1342.6,972 1342.9,966 L1342.9,928.3 Z" fill="#e6eef0" stroke="#6e7e84" stroke-width="1"/>
<path d="M1319.2,950.1 L1319.2,966 Q1319.6,972 1323.4,985.5 L1329.2,1003.5 Q1330.3,1005.5 1331.4,1003.5 L1337.2,985.5 Q1341,972 1341.4,966 L1341.4,950.1 Z" fill="#f6e8c4" stroke="#d4aa55" stroke-width="1"/>
<line x1="1335" y1="934" x2="1340" y2="934" stroke="#888" stroke-width="0.8"/>
<line x1="1335" y1="966.5" x2="1341" y2="966.5" stroke="#999" stroke-width="0.6"/>
<rect x="1316.6" y="925.2" width="27.7" height="3.4" rx="1.2" fill="#f4f8f9" stroke="#6e7e84" stroke-width="0.9"/>
</g>
<text transform="translate(1592.5 967.0) rotate(-90)" font-size="15.5" text-anchor="middle">E6</text>
<path d="M1317,1001 L1317,1008 Q1317,1015.5 1324.5,1015.5 L1450.5,1015.5 Q1457.8,1015.5 1458.6,1029.8 Q1459.4,1015.5 1466.7,1015.5 L1593.3,1015.5 Q1600.8,1015.5 1600.8,1008 L1600.8,1001" fill="none" stroke="#333" stroke-width="1.6"/>
<text transform="translate(1289.0 1062.6) scale(0.971 1)">Concentrated albumin (3.1 g dl<tspan font-size="15" dy="-10">−1</tspan><tspan dy="10">)</tspan></text>
<line x1="1292.1" y1="1095.4" x2="1315.0" y2="1095.4" stroke="#222" stroke-width="1.6"/>
<circle cx="1303.5" cy="1095.4" r="4.4" fill="#5555ff" stroke="#000" stroke-width="1.3"/>
<text transform="translate(1326.0 1102.5) scale(1.028 1)">Medium</text>
<line x1="1292.1" y1="1126.8" x2="1315.0" y2="1126.8" stroke="#222" stroke-width="1.6"/>
<circle cx="1303.5" cy="1126.8" r="4.4" fill="#f44040" stroke="#000" stroke-width="1.3"/>
<text transform="translate(1326.0 1134.0) scale(1.0 1)">Medium + isolated albumin</text>
<line x1="1340.4" y1="1166.0" x2="1340.4" y2="1369.3" stroke="#333" stroke-width="1.6"/>
<line x1="1340.4" y1="1369.3" x2="1545.0" y2="1369.3" stroke="#333" stroke-width="1.6"/>
<line x1="1330.7" y1="1166.7" x2="1340.4" y2="1166.7" stroke="#000" stroke-width="1.6"/>
<text x="1322.0" y="1174.2" text-anchor="end">160</text>
<line x1="1330.7" y1="1192.0" x2="1340.4" y2="1192.0" stroke="#000" stroke-width="1.6"/>
<text x="1322.0" y="1199.5" text-anchor="end">140</text>
<line x1="1330.7" y1="1217.3" x2="1340.4" y2="1217.3" stroke="#000" stroke-width="1.6"/>
<text x="1322.0" y="1224.8" text-anchor="end">120</text>
<line x1="1330.7" y1="1242.6" x2="1340.4" y2="1242.6" stroke="#000" stroke-width="1.6"/>
<text x="1322.0" y="1250.1" text-anchor="end">100</text>
<line x1="1330.7" y1="1268.0" x2="1340.4" y2="1268.0" stroke="#000" stroke-width="1.6"/>
<text x="1322.0" y="1275.5" text-anchor="end">80</text>
<line x1="1330.7" y1="1293.3" x2="1340.4" y2="1293.3" stroke="#000" stroke-width="1.6"/>
<text x="1322.0" y="1300.8" text-anchor="end">60</text>
<line x1="1330.7" y1="1318.6" x2="1340.4" y2="1318.6" stroke="#000" stroke-width="1.6"/>
<text x="1322.0" y="1326.1" text-anchor="end">40</text>
<line x1="1330.7" y1="1344.0" x2="1340.4" y2="1344.0" stroke="#000" stroke-width="1.6"/>
<text x="1322.0" y="1351.5" text-anchor="end">20</text>
<line x1="1366.0" y1="1369.3" x2="1366.0" y2="1377.8" stroke="#000" stroke-width="1.6"/>
<text transform="translate(1374.3 1386.5) rotate(-90)" text-anchor="end">60</text>
<line x1="1391.6" y1="1369.3" x2="1391.6" y2="1377.8" stroke="#000" stroke-width="1.6"/>
<text transform="translate(1399.9 1386.5) rotate(-90)" text-anchor="end">120</text>
<line x1="1417.2" y1="1369.3" x2="1417.2" y2="1377.8" stroke="#000" stroke-width="1.6"/>
<text transform="translate(1425.5 1386.5) rotate(-90)" text-anchor="end">180</text>
<line x1="1442.8" y1="1369.3" x2="1442.8" y2="1377.8" stroke="#000" stroke-width="1.6"/>
<text transform="translate(1451.1 1386.5) rotate(-90)" text-anchor="end">240</text>
<line x1="1468.4" y1="1369.3" x2="1468.4" y2="1377.8" stroke="#000" stroke-width="1.6"/>
<text transform="translate(1476.7 1386.5) rotate(-90)" text-anchor="end">300</text>
<line x1="1494.0" y1="1369.3" x2="1494.0" y2="1377.8" stroke="#000" stroke-width="1.6"/>
<text transform="translate(1502.3 1386.5) rotate(-90)" text-anchor="end">360</text>
<line x1="1519.6" y1="1369.3" x2="1519.6" y2="1377.8" stroke="#000" stroke-width="1.6"/>
<text transform="translate(1527.9 1386.5) rotate(-90)" text-anchor="end">420</text>
<line x1="1545.2" y1="1369.3" x2="1545.2" y2="1377.8" stroke="#000" stroke-width="1.6"/>
<text transform="translate(1553.5 1386.5) rotate(-90)" text-anchor="end">480</text>
<text transform="translate(1443.2 1463.4) scale(0.955 1)" text-anchor="middle">Time (min)</text>
<text transform="translate(1232.5 1269.4) rotate(-90)" text-anchor="middle">Length of germinating</text>
<text transform="translate(1261.0 1269.2) rotate(-90) scale(0.971 1)" text-anchor="middle"><tspan font-style="italic">R. delemar</tspan> spores (μm)</text>
<polyline points="1551.0,1208.0 1569.5,1208.0 1569.5,1328.5 1551.0,1328.5" fill="none" stroke="#333" stroke-width="1.5"/>
<text transform="translate(1571.5 1269.4) rotate(90)" font-size="27" text-anchor="middle" letter-spacing="1.2">****</text>
<line x1="1430.0" y1="1357.9" x2="1430.0" y2="1350.3" stroke="#000" stroke-width="1.5"/>
<line x1="1425.5" y1="1350.3" x2="1434.5" y2="1350.3" stroke="#000" stroke-width="1.5"/>
<line x1="1425.5" y1="1357.9" x2="1434.5" y2="1357.9" stroke="#000" stroke-width="1.5"/>
<line x1="1442.8" y1="1356.0" x2="1442.8" y2="1340.8" stroke="#000" stroke-width="1.5"/>
<line x1="1438.3" y1="1340.8" x2="1447.3" y2="1340.8" stroke="#000" stroke-width="1.5"/>
<line x1="1438.3" y1="1356.0" x2="1447.3" y2="1356.0" stroke="#000" stroke-width="1.5"/>
<line x1="1455.6" y1="1357.9" x2="1455.6" y2="1332.6" stroke="#000" stroke-width="1.5"/>
<line x1="1451.1" y1="1332.6" x2="1460.1" y2="1332.6" stroke="#000" stroke-width="1.5"/>
<line x1="1451.1" y1="1357.9" x2="1460.1" y2="1357.9" stroke="#000" stroke-width="1.5"/>
<line x1="1468.4" y1="1344.0" x2="1468.4" y2="1300.9" stroke="#000" stroke-width="1.5"/>
<line x1="1463.9" y1="1300.9" x2="1472.9" y2="1300.9" stroke="#000" stroke-width="1.5"/>
<line x1="1463.9" y1="1344.0" x2="1472.9" y2="1344.0" stroke="#000" stroke-width="1.5"/>
<line x1="1481.2" y1="1328.8" x2="1481.2" y2="1275.6" stroke="#000" stroke-width="1.5"/>
<line x1="1476.7" y1="1275.6" x2="1485.7" y2="1275.6" stroke="#000" stroke-width="1.5"/>
<line x1="1476.7" y1="1328.8" x2="1485.7" y2="1328.8" stroke="#000" stroke-width="1.5"/>
<line x1="1494.0" y1="1311.0" x2="1494.0" y2="1250.2" stroke="#000" stroke-width="1.5"/>
<line x1="1489.5" y1="1250.2" x2="1498.5" y2="1250.2" stroke="#000" stroke-width="1.5"/>
<line x1="1489.5" y1="1311.0" x2="1498.5" y2="1311.0" stroke="#000" stroke-width="1.5"/>
<line x1="1506.8" y1="1294.6" x2="1506.8" y2="1218.6" stroke="#000" stroke-width="1.5"/>
<line x1="1502.3" y1="1218.6" x2="1511.3" y2="1218.6" stroke="#000" stroke-width="1.5"/>
<line x1="1502.3" y1="1294.6" x2="1511.3" y2="1294.6" stroke="#000" stroke-width="1.5"/>
<line x1="1519.6" y1="1268.0" x2="1519.6" y2="1199.6" stroke="#000" stroke-width="1.5"/>
<line x1="1515.1" y1="1199.6" x2="1524.1" y2="1199.6" stroke="#000" stroke-width="1.5"/>
<line x1="1515.1" y1="1268.0" x2="1524.1" y2="1268.0" stroke="#000" stroke-width="1.5"/>
<line x1="1532.4" y1="1262.9" x2="1532.4" y2="1176.8" stroke="#000" stroke-width="1.5"/>
<line x1="1527.9" y1="1176.8" x2="1536.9" y2="1176.8" stroke="#000" stroke-width="1.5"/>
<line x1="1527.9" y1="1262.9" x2="1536.9" y2="1262.9" stroke="#000" stroke-width="1.5"/>
<line x1="1506.8" y1="1360.4" x2="1506.8" y2="1347.8" stroke="#000" stroke-width="1.5"/>
<line x1="1502.3" y1="1347.8" x2="1511.3" y2="1347.8" stroke="#000" stroke-width="1.5"/>
<line x1="1502.3" y1="1360.4" x2="1511.3" y2="1360.4" stroke="#000" stroke-width="1.5"/>
<line x1="1519.6" y1="1356.6" x2="1519.6" y2="1333.8" stroke="#000" stroke-width="1.5"/>
<line x1="1515.1" y1="1333.8" x2="1524.1" y2="1333.8" stroke="#000" stroke-width="1.5"/>
<line x1="1515.1" y1="1356.6" x2="1524.1" y2="1356.6" stroke="#000" stroke-width="1.5"/>
<line x1="1532.4" y1="1351.6" x2="1532.4" y2="1316.1" stroke="#000" stroke-width="1.5"/>
<line x1="1527.9" y1="1316.1" x2="1536.9" y2="1316.1" stroke="#000" stroke-width="1.5"/>
<line x1="1527.9" y1="1351.6" x2="1536.9" y2="1351.6" stroke="#000" stroke-width="1.5"/>
<defs><clipPath id="fclip"><rect x="1340.4" y="1150" width="220" height="219.3"/></clipPath></defs><g clip-path="url(#fclip)">
<polyline points="1340.4,1363.0 1353.2,1363.0 1366.0,1363.0 1378.8,1362.3 1391.6,1361.7 1404.4,1361.7 1417.2,1361.7 1430.0,1360.4 1442.8,1359.8 1455.6,1359.2 1468.4,1358.5 1481.2,1357.9 1494.0,1357.9 1506.8,1354.1 1519.6,1345.2 1532.4,1333.8" fill="none" stroke="#000" stroke-width="1.5"/>
<circle cx="1404.4" cy="1361.7" r="5.4" fill="#f44040" stroke="#000" stroke-width="1.3"/>
<circle cx="1417.2" cy="1361.7" r="5.4" fill="#f44040" stroke="#000" stroke-width="1.3"/>
<circle cx="1430.0" cy="1360.4" r="5.4" fill="#f44040" stroke="#000" stroke-width="1.3"/>
<circle cx="1442.8" cy="1359.8" r="5.4" fill="#f44040" stroke="#000" stroke-width="1.3"/>
<circle cx="1455.6" cy="1359.2" r="5.4" fill="#f44040" stroke="#000" stroke-width="1.3"/>
<circle cx="1468.4" cy="1358.5" r="5.4" fill="#f44040" stroke="#000" stroke-width="1.3"/>
<circle cx="1481.2" cy="1357.9" r="5.4" fill="#f44040" stroke="#000" stroke-width="1.3"/>
<circle cx="1494.0" cy="1357.9" r="5.4" fill="#f44040" stroke="#000" stroke-width="1.3"/>
<circle cx="1506.8" cy="1354.1" r="5.4" fill="#f44040" stroke="#000" stroke-width="1.3"/>
<circle cx="1519.6" cy="1345.2" r="5.4" fill="#f44040" stroke="#000" stroke-width="1.3"/>
<circle cx="1532.4" cy="1333.8" r="5.4" fill="#f44040" stroke="#000" stroke-width="1.3"/>
<polyline points="1340.4,1363.0 1353.2,1363.0 1366.0,1363.0 1378.8,1361.7 1391.6,1361.1 1404.4,1360.4 1417.2,1360.4 1430.0,1354.1 1442.8,1348.4 1455.6,1345.2 1468.4,1322.4 1481.2,1302.2 1494.0,1280.6 1506.8,1256.6 1519.6,1233.8 1532.4,1219.9" fill="none" stroke="#000" stroke-width="1.5"/>
<circle cx="1340.4" cy="1363.0" r="5.4" fill="#5555ff" stroke="#000" stroke-width="1.3"/>
<circle cx="1353.2" cy="1363.0" r="5.4" fill="#5555ff" stroke="#000" stroke-width="1.3"/>
<circle cx="1366.0" cy="1363.0" r="5.4" fill="#5555ff" stroke="#000" stroke-width="1.3"/>
<circle cx="1378.8" cy="1361.7" r="5.4" fill="#5555ff" stroke="#000" stroke-width="1.3"/>
<circle cx="1391.6" cy="1361.1" r="5.4" fill="#5555ff" stroke="#000" stroke-width="1.3"/>
<circle cx="1404.4" cy="1360.4" r="5.4" fill="#5555ff" stroke="#000" stroke-width="1.3"/>
<circle cx="1417.2" cy="1360.4" r="5.4" fill="#5555ff" stroke="#000" stroke-width="1.3"/>
<circle cx="1430.0" cy="1354.1" r="5.4" fill="#5555ff" stroke="#000" stroke-width="1.3"/>
<circle cx="1442.8" cy="1348.4" r="5.4" fill="#5555ff" stroke="#000" stroke-width="1.3"/>
<circle cx="1455.6" cy="1345.2" r="5.4" fill="#5555ff" stroke="#000" stroke-width="1.3"/>
<circle cx="1468.4" cy="1322.4" r="5.4" fill="#5555ff" stroke="#000" stroke-width="1.3"/>
<circle cx="1481.2" cy="1302.2" r="5.4" fill="#5555ff" stroke="#000" stroke-width="1.3"/>
<circle cx="1494.0" cy="1280.6" r="5.4" fill="#5555ff" stroke="#000" stroke-width="1.3"/>
<circle cx="1506.8" cy="1256.6" r="5.4" fill="#5555ff" stroke="#000" stroke-width="1.3"/>
<circle cx="1519.6" cy="1233.8" r="5.4" fill="#5555ff" stroke="#000" stroke-width="1.3"/>
<circle cx="1532.4" cy="1219.9" r="5.4" fill="#5555ff" stroke="#000" stroke-width="1.3"/>
</g>
<text transform="translate(3.2 1495.5) scale(1.14 1)" font-size="34" font-weight="bold">g</text>
<rect x="78.1" y="1555.2" width="244.7" height="224.1" fill="#030808"/>
<path d="M115.5,1594.7 Q126.6,1594.0 133.2,1595.8 Q139.8,1597.7 145.7,1599.1 L151.6,1600.6 M151.6,1600.6 Q166.3,1616.8 173.6,1616.8 Q181.0,1616.8 195.7,1618.3 Q210.4,1619.7 221.5,1621.2 Q232.5,1622.7 239.9,1625.6 Q247.2,1628.6 254.6,1631.5 Q261.9,1634.5 266.3,1636.7 L270.8,1638.9 M305.3,1630.8 Q284.0,1637.4 276.6,1638.9 Q269.3,1640.3 258.3,1643.3 Q247.2,1646.2 232.5,1648.4 Q217.8,1650.6 206.8,1652.9 Q195.7,1655.1 188.4,1659.5 Q181.0,1663.9 173.6,1672.0 Q166.3,1680.1 161.1,1686.0 L156.0,1691.8 M92.7,1655.1 Q114.8,1649.2 125.8,1647.0 Q136.9,1644.8 151.6,1643.3 Q166.3,1641.8 182.5,1641.8 Q198.7,1641.8 203.1,1644.0 Q207.5,1646.2 209.0,1652.1 Q210.4,1658.0 210.4,1665.4 Q210.4,1672.7 206.8,1676.4 L203.1,1680.1 M104.5,1672.7 Q122.1,1677.1 133.2,1680.8 Q144.2,1684.5 150.8,1688.2 L157.5,1691.8 M100.1,1700.7 Q122.1,1698.5 133.2,1698.1 Q144.2,1697.7 150.8,1696.3 L157.5,1694.8 M160.4,1684.5 Q188.4,1669.8 203.1,1668.3 Q217.8,1666.8 228.8,1663.9 Q239.9,1660.9 250.9,1655.1 Q261.9,1649.2 273.0,1643.3 L284.0,1637.4 M195.7,1628.6 Q204.5,1637.4 207.5,1641.8 L210.4,1646.2 M247.2,1646.2 Q239.9,1665.4 236.2,1671.2 Q232.5,1677.1 225.1,1680.1 Q217.8,1683.0 206.8,1686.7 Q195.7,1690.4 192.0,1694.8 L188.4,1699.2 M181.0,1716.9 Q166.3,1738.9 156.0,1751.4 L145.7,1763.9 M210.4,1713.9 Q239.9,1724.2 250.9,1733.8 Q261.9,1743.3 272.2,1747.4 L282.5,1751.4 M188.4,1700.7 Q217.8,1702.1 237.7,1702.1 Q257.5,1702.1 259.7,1706.6 Q261.9,1711.0 254.6,1715.4 Q247.2,1719.8 228.8,1721.3 Q210.4,1722.7 199.4,1724.2 L188.4,1725.7 M141.3,1619.7 Q147.2,1631.5 156.7,1635.2 L166.3,1638.9 M169.2,1619.7 L166.3,1638.9 M179.5,1580.8 Q173.6,1599.1 172.9,1606.5 L172.2,1613.9 M157.5,1569.7 Q156.0,1581.5 155.3,1586.6 L154.5,1591.8" fill="none" stroke="#00c4c4" stroke-width="6.6" stroke-linecap="round" stroke-linejoin="round"/>
<path d="M115.5,1594.7 Q126.6,1594.0 133.2,1595.8 Q139.8,1597.7 145.7,1599.1 L151.6,1600.6 M151.6,1600.6 Q166.3,1616.8 173.6,1616.8 Q181.0,1616.8 195.7,1618.3 Q210.4,1619.7 221.5,1621.2 Q232.5,1622.7 239.9,1625.6 Q247.2,1628.6 254.6,1631.5 Q261.9,1634.5 266.3,1636.7 L270.8,1638.9 M305.3,1630.8 Q284.0,1637.4 276.6,1638.9 Q269.3,1640.3 258.3,1643.3 Q247.2,1646.2 232.5,1648.4 Q217.8,1650.6 206.8,1652.9 Q195.7,1655.1 188.4,1659.5 Q181.0,1663.9 173.6,1672.0 Q166.3,1680.1 161.1,1686.0 L156.0,1691.8 M92.7,1655.1 Q114.8,1649.2 125.8,1647.0 Q136.9,1644.8 151.6,1643.3 Q166.3,1641.8 182.5,1641.8 Q198.7,1641.8 203.1,1644.0 Q207.5,1646.2 209.0,1652.1 Q210.4,1658.0 210.4,1665.4 Q210.4,1672.7 206.8,1676.4 L203.1,1680.1 M104.5,1672.7 Q122.1,1677.1 133.2,1680.8 Q144.2,1684.5 150.8,1688.2 L157.5,1691.8 M100.1,1700.7 Q122.1,1698.5 133.2,1698.1 Q144.2,1697.7 150.8,1696.3 L157.5,1694.8 M160.4,1684.5 Q188.4,1669.8 203.1,1668.3 Q217.8,1666.8 228.8,1663.9 Q239.9,1660.9 250.9,1655.1 Q261.9,1649.2 273.0,1643.3 L284.0,1637.4 M195.7,1628.6 Q204.5,1637.4 207.5,1641.8 L210.4,1646.2 M247.2,1646.2 Q239.9,1665.4 236.2,1671.2 Q232.5,1677.1 225.1,1680.1 Q217.8,1683.0 206.8,1686.7 Q195.7,1690.4 192.0,1694.8 L188.4,1699.2 M181.0,1716.9 Q166.3,1738.9 156.0,1751.4 L145.7,1763.9 M210.4,1713.9 Q239.9,1724.2 250.9,1733.8 Q261.9,1743.3 272.2,1747.4 L282.5,1751.4 M188.4,1700.7 Q217.8,1702.1 237.7,1702.1 Q257.5,1702.1 259.7,1706.6 Q261.9,1711.0 254.6,1715.4 Q247.2,1719.8 228.8,1721.3 Q210.4,1722.7 199.4,1724.2 L188.4,1725.7 M141.3,1619.7 Q147.2,1631.5 156.7,1635.2 L166.3,1638.9 M169.2,1619.7 L166.3,1638.9 M179.5,1580.8 Q173.6,1599.1 172.9,1606.5 L172.2,1613.9 M157.5,1569.7 Q156.0,1581.5 155.3,1586.6 L154.5,1591.8" fill="none" stroke="#10e8e8" stroke-width="3.4" stroke-linecap="round" opacity="0.7"/>
<circle cx="157.5" cy="1596.2" r="7.6" fill="#18f4f4" stroke="#00c8c8" stroke-width="1.2"/>
<circle cx="169.2" cy="1603.6" r="7.6" fill="#18f4f4" stroke="#00c8c8" stroke-width="1.2"/>
<circle cx="139.8" cy="1613.9" r="8.5" fill="#18f4f4" stroke="#00c8c8" stroke-width="1.2"/>
<circle cx="139.8" cy="1606.5" r="6.8" fill="#18f4f4" stroke="#00c8c8" stroke-width="1.2"/>
<circle cx="178.1" cy="1608.0" r="6.8" fill="#18f4f4" stroke="#00c8c8" stroke-width="1.2"/>
<circle cx="98.6" cy="1656.5" r="8.5" fill="#18f4f4" stroke="#00c8c8" stroke-width="1.2"/>
<circle cx="111.8" cy="1660.9" r="7.6" fill="#18f4f4" stroke="#00c8c8" stroke-width="1.2"/>
<circle cx="158.9" cy="1696.3" r="9.3" fill="#18f4f4" stroke="#00c8c8" stroke-width="1.2"/>
<circle cx="173.6" cy="1708.0" r="5.4" fill="#18f4f4" stroke="#00c8c8" stroke-width="1.2"/>
<circle cx="186.9" cy="1703.6" r="8.5" fill="#18f4f4" stroke="#00c8c8" stroke-width="1.2"/>
<circle cx="203.1" cy="1708.0" r="9.3" fill="#18f4f4" stroke="#00c8c8" stroke-width="1.2"/>
<circle cx="204.5" cy="1718.3" r="8.5" fill="#18f4f4" stroke="#00c8c8" stroke-width="1.2"/>
<circle cx="200.1" cy="1672.7" r="7.6" fill="#18f4f4" stroke="#00c8c8" stroke-width="1.2"/>
<circle cx="173.6" cy="1581.5" r="4.2" fill="#18f4f4" stroke="#00c8c8" stroke-width="1.2"/>
<circle cx="154.5" cy="1584.4" r="3.7" fill="#18f4f4" stroke="#00c8c8" stroke-width="1.2"/>
<text x="306.0" y="1588.5" text-anchor="end" fill="#fff">Medium</text>
<text x="100.8" y="1767.0" fill="#fff" word-spacing="2">8 h</text>
<rect x="267.1" y="1765.4" width="44.9" height="5.6" fill="#fff"/>
<rect x="78.1" y="1783.8" width="244.7" height="227.6" fill="#010404"/>
<defs><clipPath id="g2c"><rect x="78.1" y="1783.8" width="244.7" height="227.6"/></clipPath></defs><g clip-path="url(#g2c)">
<ellipse cx="93.2" cy="1795.4" rx="4.6" ry="3.9" fill="#0b9a9a"/>
<ellipse cx="151.8" cy="1797.6" rx="4.6" ry="3.9" fill="#0b9a9a"/>
<ellipse cx="175.2" cy="1810.5" rx="4.6" ry="3.9" fill="#00f4f4"/>
<ellipse cx="181.7" cy="1818.5" rx="4.6" ry="3.9" fill="#00f4f4"/>
<ellipse cx="184.9" cy="1807.3" rx="4.6" ry="3.9" fill="#0b9a9a"/>
<ellipse cx="149.5" cy="1886.0" rx="4.6" ry="3.9" fill="#00f4f4"/>
<ellipse cx="159.2" cy="1889.3" rx="4.6" ry="3.9" fill="#00f4f4"/>
<ellipse cx="141.5" cy="1895.7" rx="4.6" ry="3.9" fill="#0b9a9a"/>
<ellipse cx="149.5" cy="1897.3" rx="4.6" ry="3.9" fill="#00f4f4"/>
<ellipse cx="160.8" cy="1897.3" rx="4.6" ry="3.9" fill="#0b9a9a"/>
<ellipse cx="155.9" cy="1905.3" rx="4.6" ry="3.9" fill="#0b9a9a"/>
<ellipse cx="164.0" cy="1905.3" rx="4.6" ry="3.9" fill="#0b9a9a"/>
<ellipse cx="194.5" cy="1871.6" rx="4.6" ry="3.9" fill="#00f4f4"/>
<ellipse cx="202.6" cy="1865.1" rx="4.6" ry="3.9" fill="#0b9a9a"/>
<ellipse cx="190.4" cy="1882.8" rx="4.6" ry="3.9" fill="#00f4f4"/>
<ellipse cx="195.5" cy="1894.1" rx="4.6" ry="3.9" fill="#0b9a9a"/>
<ellipse cx="218.6" cy="1889.3" rx="4.6" ry="3.9" fill="#0b9a9a"/>
<ellipse cx="244.4" cy="1898.9" rx="4.6" ry="3.9" fill="#0b9a9a"/>
<ellipse cx="261.1" cy="1918.2" rx="4.6" ry="3.9" fill="#0b9a9a"/>
<ellipse cx="82.0" cy="1929.5" rx="4.6" ry="3.9" fill="#0b9a9a"/>
<ellipse cx="161.4" cy="1944.9" rx="4.6" ry="3.9" fill="#00f4f4"/>
<ellipse cx="242.8" cy="1948.1" rx="4.6" ry="3.9" fill="#00f4f4"/>
<ellipse cx="218.6" cy="1955.2" rx="4.6" ry="3.9" fill="#00f4f4"/>
<ellipse cx="221.9" cy="1963.2" rx="4.6" ry="3.9" fill="#0b9a9a"/>
<ellipse cx="268.5" cy="1969.0" rx="4.6" ry="3.9" fill="#00f4f4"/>
<ellipse cx="255.6" cy="1977.0" rx="4.6" ry="3.9" fill="#00f4f4"/>
<ellipse cx="265.3" cy="1975.4" rx="4.6" ry="3.9" fill="#0b9a9a"/>
<ellipse cx="319.9" cy="1948.7" rx="4.6" ry="3.9" fill="#00f4f4"/>
<ellipse cx="154.3" cy="2011.4" rx="4.6" ry="3.9" fill="#00f4f4"/>
</g>
<text x="306.0" y="1816.3" text-anchor="end" fill="#fff">+Albumin</text>
<text x="100.8" y="1995.4" fill="#fff" word-spacing="2">8 h</text>
<rect x="264.6" y="1997.6" width="46.7" height="5.2" fill="#fff"/>
<text transform="translate(502.0 1495.7) scale(1.14 1)" font-size="34" font-weight="bold">h</text>
<line x1="580.0" y1="1627.8" x2="604.3" y2="1627.8" stroke="#222" stroke-width="1.6"/>
<circle cx="592.4" cy="1627.8" r="4.6" fill="#5555ff" stroke="#000" stroke-width="1.3"/>
<text transform="translate(614.5 1635.0) scale(0.97 1)">HSA</text>
<line x1="580.0" y1="1663.5" x2="604.3" y2="1663.5" stroke="#222" stroke-width="1.6"/>
<circle cx="592.4" cy="1663.5" r="4.6" fill="#f44040" stroke="#000" stroke-width="1.3"/>
<text transform="translate(614.5 1670.5) scale(0.97 1)">BSA</text>
<line x1="651.1" y1="1720.7" x2="651.1" y2="1924.2" stroke="#333" stroke-width="1.6"/>
<line x1="648.1" y1="1924.2" x2="855.0" y2="1924.2" stroke="#333" stroke-width="1.6"/>
<line x1="642.0" y1="1740.2" x2="651.1" y2="1740.2" stroke="#000" stroke-width="1.6"/>
<text x="632.0" y="1748.0" text-anchor="end">100</text>
<line x1="642.0" y1="1777.0" x2="651.1" y2="1777.0" stroke="#000" stroke-width="1.6"/>
<text x="632.0" y="1784.8" text-anchor="end">80</text>
<line x1="642.0" y1="1813.8" x2="651.1" y2="1813.8" stroke="#000" stroke-width="1.6"/>
<text x="632.0" y="1821.6" text-anchor="end">60</text>
<line x1="642.0" y1="1850.6" x2="651.1" y2="1850.6" stroke="#000" stroke-width="1.6"/>
<text x="632.0" y="1858.4" text-anchor="end">40</text>
<line x1="642.0" y1="1887.4" x2="651.1" y2="1887.4" stroke="#000" stroke-width="1.6"/>
<text x="632.0" y="1895.2" text-anchor="end">20</text>
<line x1="691.7" y1="1924.2" x2="691.7" y2="1932.2" stroke="#000" stroke-width="1.6"/>
<text x="691.7" y="1959.2" text-anchor="middle">1</text>
<line x1="732.3" y1="1924.2" x2="732.3" y2="1932.2" stroke="#000" stroke-width="1.6"/>
<text x="732.3" y="1959.2" text-anchor="middle">2</text>
<line x1="772.9" y1="1924.2" x2="772.9" y2="1932.2" stroke="#000" stroke-width="1.6"/>
<text x="772.9" y="1959.2" text-anchor="middle">3</text>
<line x1="813.5" y1="1924.2" x2="813.5" y2="1932.2" stroke="#000" stroke-width="1.6"/>
<text x="813.5" y="1959.2" text-anchor="middle">4</text>
<line x1="854.1" y1="1924.2" x2="854.1" y2="1932.2" stroke="#000" stroke-width="1.6"/>
<text x="854.1" y="1959.2" text-anchor="middle">5</text>
<text transform="translate(642.0 1996.7) scale(0.979 1)">Concentration (g dl<tspan font-size="15" dy="-10">−1</tspan><tspan dy="10">)</tspan></text>
<text transform="translate(543.5 1822.4) rotate(-90)" text-anchor="middle">Inhibition of</text>
<text transform="translate(573.0 1822.4) rotate(-90) scale(0.986 1)" text-anchor="middle"><tspan font-style="italic">R. delemar</tspan> growth (%)</text>
<defs><clipPath id="hclip"><rect x="651" y="1700" width="220" height="224.2"/></clipPath></defs>
<path d="M651.1,1921.4 Q657.3,1917.8 660.1,1915.8 Q662.8,1913.9 668.4,1909.3 Q674.0,1904.7 679.6,1897.7 Q685.1,1890.7 690.7,1881.7 Q696.3,1872.6 700.5,1864.2 Q704.7,1855.9 708.8,1846.1 Q713.0,1836.4 717.2,1828.0 Q721.4,1819.6 727.0,1812.0 Q732.5,1804.3 737.4,1800.1 Q742.3,1795.9 748.6,1792.5 Q754.8,1789.0 761.8,1786.6 Q768.8,1784.2 777.1,1783.1 Q785.5,1782.0 798.1,1781.3 Q810.6,1780.6 822.0,1780.3 L833.5,1780.0" fill="none" stroke="#000" stroke-width="2.2"/>
<path d="M671.2,1924.5 Q685.1,1922.8 690.7,1921.4 Q696.3,1920.0 701.9,1917.2 Q707.5,1914.4 713.0,1910.2 Q718.6,1906.1 724.2,1899.1 Q729.8,1892.1 735.3,1881.0 Q740.9,1869.8 745.1,1858.7 Q749.3,1847.5 753.5,1836.4 Q757.6,1825.2 763.2,1814.1 Q768.8,1802.9 775.8,1793.8 Q782.7,1784.8 789.7,1779.9 Q796.7,1775.0 803.6,1772.7 Q810.6,1770.3 817.6,1769.5 Q824.5,1768.6 829.0,1768.3 L833.5,1768.1" fill="none" stroke="#000" stroke-width="2.2"/>
<line x1="742.3" y1="1790.4" x2="742.3" y2="1804.3" stroke="#000" stroke-width="1.5"/>
<line x1="737.8" y1="1790.4" x2="746.8" y2="1790.4" stroke="#000" stroke-width="1.5"/>
<line x1="737.8" y1="1804.3" x2="746.8" y2="1804.3" stroke="#000" stroke-width="1.5"/>
<line x1="742.3" y1="1841.9" x2="742.3" y2="1870.4" stroke="#000" stroke-width="1.5"/>
<line x1="737.8" y1="1841.9" x2="746.8" y2="1841.9" stroke="#000" stroke-width="1.5"/>
<line x1="737.8" y1="1870.4" x2="746.8" y2="1870.4" stroke="#000" stroke-width="1.5"/>
<line x1="833.5" y1="1759.7" x2="833.5" y2="1778.4" stroke="#000" stroke-width="1.5"/>
<line x1="829.0" y1="1759.7" x2="838.0" y2="1759.7" stroke="#000" stroke-width="1.5"/>
<line x1="829.0" y1="1778.4" x2="838.0" y2="1778.4" stroke="#000" stroke-width="1.5"/>
<circle cx="673.4" cy="1895.5" r="4.8" fill="#f44040" stroke="#000" stroke-width="1.3"/>
<circle cx="696.3" cy="1867.6" r="4.8" fill="#f44040" stroke="#000" stroke-width="1.3"/>
<circle cx="742.3" cy="1797.3" r="4.8" fill="#f44040" stroke="#000" stroke-width="1.3"/>
<circle cx="833.5" cy="1778.4" r="4.8" fill="#f44040" stroke="#000" stroke-width="1.3"/>
<circle cx="651.1" cy="1924.5" r="4.8" fill="#f44040" stroke="#000" stroke-width="1.3" clip-path="url(#hclip)"/>
<circle cx="696.3" cy="1921.9" r="4.8" fill="#5555ff" stroke="#000" stroke-width="1.3" clip-path="url(#hclip)"/>
<circle cx="742.3" cy="1856.4" r="4.8" fill="#5555ff" stroke="#000" stroke-width="1.3" clip-path="url(#hclip)"/>
<circle cx="833.5" cy="1768.6" r="4.8" fill="#5555ff" stroke="#000" stroke-width="1.3" clip-path="url(#hclip)"/>
<text transform="translate(1020.2 1495.6) scale(1.38 1)" font-size="34" font-weight="bold">i</text>
<rect x="1299.8" y="1496.1" width="30.9" height="35.1" fill="#ffbdbd"/>
<rect x="1330.4" y="1496.1" width="31.3" height="35.1" fill="#ffbdbd"/>
<rect x="1361.4" y="1496.1" width="28.9" height="35.1" fill="#ffbdbd"/>
<rect x="1390.0" y="1496.1" width="30.8" height="35.1" fill="#6464ff"/>
<rect x="1420.5" y="1496.1" width="30.8" height="35.1" fill="#6464ff"/>
<rect x="1451.0" y="1496.1" width="33.2" height="35.1" fill="#6262ff"/>
<rect x="1299.8" y="1530.9" width="30.9" height="35.1" fill="#ffbdbd"/>
<rect x="1330.4" y="1530.9" width="31.3" height="35.1" fill="#ffbdbd"/>
<rect x="1361.4" y="1530.9" width="28.9" height="35.1" fill="#ffbdbd"/>
<rect x="1390.0" y="1530.9" width="30.8" height="35.1" fill="#4040ff"/>
<rect x="1420.5" y="1530.9" width="30.8" height="35.1" fill="#4040ff"/>
<rect x="1451.0" y="1530.9" width="33.2" height="35.1" fill="#4040ff"/>
<rect x="1299.8" y="1565.6" width="30.9" height="35.1" fill="#ffbdbd"/>
<rect x="1330.4" y="1565.6" width="31.3" height="35.1" fill="#ffbdbd"/>
<rect x="1361.4" y="1565.6" width="28.9" height="35.1" fill="#ffbdbd"/>
<rect x="1390.0" y="1565.6" width="30.8" height="35.1" fill="#4444ff"/>
<rect x="1420.5" y="1565.6" width="30.8" height="35.1" fill="#4040ff"/>
<rect x="1451.0" y="1565.6" width="33.2" height="35.1" fill="#4242ff"/>
<rect x="1299.8" y="1600.4" width="30.9" height="35.1" fill="#ffbdbd"/>
<rect x="1330.4" y="1600.4" width="31.3" height="35.1" fill="#ffbdbd"/>
<rect x="1361.4" y="1600.4" width="28.9" height="35.1" fill="#ffbdbd"/>
<rect x="1390.0" y="1600.4" width="30.8" height="35.1" fill="#4d4dff"/>
<rect x="1420.5" y="1600.4" width="30.8" height="35.1" fill="#6363ff"/>
<rect x="1451.0" y="1600.4" width="33.2" height="35.1" fill="#5858ff"/>
<rect x="1299.8" y="1635.2" width="30.9" height="35.1" fill="#ffbdbd"/>
<rect x="1330.4" y="1635.2" width="31.3" height="35.1" fill="#ffbdbd"/>
<rect x="1361.4" y="1635.2" width="28.9" height="35.1" fill="#ffbdbd"/>
<rect x="1390.0" y="1635.2" width="30.8" height="35.1" fill="#9494fb"/>
<rect x="1420.5" y="1635.2" width="30.8" height="35.1" fill="#a2a2ff"/>
<rect x="1451.0" y="1635.2" width="33.2" height="35.1" fill="#9696fb"/>
<rect x="1299.8" y="1669.9" width="30.9" height="35.1" fill="#ffbdbd"/>
<rect x="1330.4" y="1669.9" width="31.3" height="35.1" fill="#ffbdbd"/>
<rect x="1361.4" y="1669.9" width="28.9" height="35.1" fill="#ffbdbd"/>
<rect x="1390.0" y="1669.9" width="30.8" height="35.1" fill="#8888ff"/>
<rect x="1420.5" y="1669.9" width="30.8" height="35.1" fill="#9c9cff"/>
<rect x="1451.0" y="1669.9" width="33.2" height="35.1" fill="#a8a8ff"/>
<rect x="1299.8" y="1704.7" width="30.9" height="35.1" fill="#ffbdbd"/>
<rect x="1330.4" y="1704.7" width="31.3" height="35.1" fill="#ffbdbd"/>
<rect x="1361.4" y="1704.7" width="28.9" height="35.1" fill="#ffbdbd"/>
<rect x="1390.0" y="1704.7" width="30.8" height="35.1" fill="#ffbaba"/>
<rect x="1420.5" y="1704.7" width="30.8" height="35.1" fill="#ffbaba"/>
<rect x="1451.0" y="1704.7" width="33.2" height="35.1" fill="#ffbdbd"/>
<rect x="1299.8" y="1739.5" width="30.9" height="35.1" fill="#ffbdbd"/>
<rect x="1330.4" y="1739.5" width="31.3" height="35.1" fill="#ffbdbd"/>
<rect x="1361.4" y="1739.5" width="28.9" height="35.1" fill="#ffbdbd"/>
<rect x="1390.0" y="1739.5" width="30.8" height="35.1" fill="#ffbdbd"/>
<rect x="1420.5" y="1739.5" width="30.8" height="35.1" fill="#ffcaca"/>
<rect x="1451.0" y="1739.5" width="33.2" height="35.1" fill="#ffc0c0"/>
<rect x="1299.8" y="1774.2" width="30.9" height="35.1" fill="#ffbdbd"/>
<rect x="1330.4" y="1774.2" width="31.3" height="35.1" fill="#ffbdbd"/>
<rect x="1361.4" y="1774.2" width="28.9" height="35.1" fill="#ffbdbd"/>
<rect x="1390.0" y="1774.2" width="30.8" height="35.1" fill="#ffcbcb"/>
<rect x="1420.5" y="1774.2" width="30.8" height="35.1" fill="#ffcaca"/>
<rect x="1451.0" y="1774.2" width="33.2" height="35.1" fill="#ffd7d7"/>
<rect x="1299.8" y="1809.0" width="30.9" height="35.1" fill="#ffbdbd"/>
<rect x="1330.4" y="1809.0" width="31.3" height="35.1" fill="#ffbdbd"/>
<rect x="1361.4" y="1809.0" width="28.9" height="35.1" fill="#ffbdbd"/>
<rect x="1390.0" y="1809.0" width="30.8" height="35.1" fill="#ff4848"/>
<rect x="1420.5" y="1809.0" width="30.8" height="35.1" fill="#ff5a5a"/>
<rect x="1451.0" y="1809.0" width="33.2" height="35.1" fill="#ff3c3c"/>
<rect x="1299.8" y="1843.8" width="30.9" height="35.1" fill="#ffbdbd"/>
<rect x="1330.4" y="1843.8" width="31.3" height="35.1" fill="#ffbdbd"/>
<rect x="1361.4" y="1843.8" width="28.9" height="35.1" fill="#ffbdbd"/>
<rect x="1390.0" y="1843.8" width="30.8" height="35.1" fill="#ffa0a0"/>
<rect x="1420.5" y="1843.8" width="30.8" height="35.1" fill="#ffbaba"/>
<rect x="1451.0" y="1843.8" width="33.2" height="35.1" fill="#ff5c5c"/>
<rect x="1299.8" y="1878.6" width="30.9" height="35.1" fill="#ffbdbd"/>
<rect x="1330.4" y="1878.6" width="31.3" height="35.1" fill="#ffbdbd"/>
<rect x="1361.4" y="1878.6" width="28.9" height="35.1" fill="#ffbdbd"/>
<rect x="1390.0" y="1878.6" width="30.8" height="35.1" fill="#ffb9b9"/>
<rect x="1420.5" y="1878.6" width="30.8" height="35.1" fill="#ffbaba"/>
<rect x="1451.0" y="1878.6" width="33.2" height="35.1" fill="#ffbaba"/>
<rect x="1299.8" y="1913.3" width="30.9" height="35.1" fill="#ffbaba"/>
<rect x="1330.4" y="1913.3" width="31.3" height="35.1" fill="#ffbaba"/>
<rect x="1361.4" y="1913.3" width="28.9" height="35.1" fill="#ffc0c0"/>
<rect x="1390.0" y="1913.3" width="30.8" height="35.1" fill="#ffc5c5"/>
<rect x="1420.5" y="1913.3" width="30.8" height="35.1" fill="#ffbdbd"/>
<rect x="1451.0" y="1913.3" width="33.2" height="35.1" fill="#ffb0b0"/>
<rect x="1299.8" y="1948.1" width="30.9" height="35.1" fill="#ffcccc"/>
<rect x="1330.4" y="1948.1" width="31.3" height="35.1" fill="#ffb0b0"/>
<rect x="1361.4" y="1948.1" width="28.9" height="35.1" fill="#ffbaba"/>
<rect x="1390.0" y="1948.1" width="30.8" height="35.1" fill="#ffc0c0"/>
<rect x="1420.5" y="1948.1" width="30.8" height="35.1" fill="#ffc2c2"/>
<rect x="1451.0" y="1948.1" width="33.2" height="35.1" fill="#ffacac"/>
<rect x="1299.8" y="1982.9" width="30.9" height="35.1" fill="#ffd5d5"/>
<rect x="1330.4" y="1982.9" width="31.3" height="35.1" fill="#ffb0b0"/>
<rect x="1361.4" y="1982.9" width="28.9" height="35.1" fill="#ffb0b0"/>
<rect x="1390.0" y="1982.9" width="30.8" height="35.1" fill="#ffb8b8"/>
<rect x="1420.5" y="1982.9" width="30.8" height="35.1" fill="#ffecec"/>
<rect x="1451.0" y="1982.9" width="33.2" height="35.1" fill="#ff9090"/>
<rect x="1299.8" y="2017.6" width="30.9" height="35.1" fill="#ffbdbd"/>
<rect x="1330.4" y="2017.6" width="31.3" height="35.1" fill="#ffb5b5"/>
<rect x="1361.4" y="2017.6" width="28.9" height="35.1" fill="#ffb8b8"/>
<rect x="1390.0" y="2017.6" width="30.8" height="35.1" fill="#ffd5d5"/>
<rect x="1420.5" y="2017.6" width="30.8" height="35.1" fill="#ffd5d5"/>
<rect x="1451.0" y="2017.6" width="33.2" height="35.1" fill="#ff9090"/>
<line x1="1330.4" y1="1496.1" x2="1330.4" y2="2052.4" stroke="#ffffff" stroke-width="0.8" opacity="0.25"/>
<line x1="1361.4" y1="1496.1" x2="1361.4" y2="2052.4" stroke="#ffffff" stroke-width="0.8" opacity="0.25"/>
<line x1="1390.0" y1="1496.1" x2="1390.0" y2="2052.4" stroke="#ffffff" stroke-width="0.8" opacity="0.25"/>
<line x1="1420.5" y1="1496.1" x2="1420.5" y2="2052.4" stroke="#ffffff" stroke-width="0.8" opacity="0.25"/>
<line x1="1451.0" y1="1496.1" x2="1451.0" y2="2052.4" stroke="#ffffff" stroke-width="0.8" opacity="0.25"/>
<line x1="1299.8" y1="1530.9" x2="1483.9" y2="1530.9" stroke="#ffffff" stroke-width="0.8" opacity="0.15"/>
<line x1="1299.8" y1="1565.6" x2="1483.9" y2="1565.6" stroke="#ffffff" stroke-width="0.8" opacity="0.15"/>
<line x1="1299.8" y1="1600.4" x2="1483.9" y2="1600.4" stroke="#ffffff" stroke-width="0.8" opacity="0.15"/>
<line x1="1299.8" y1="1635.2" x2="1483.9" y2="1635.2" stroke="#ffffff" stroke-width="0.8" opacity="0.15"/>
<line x1="1299.8" y1="1669.9" x2="1483.9" y2="1669.9" stroke="#ffffff" stroke-width="0.8" opacity="0.15"/>
<line x1="1299.8" y1="1704.7" x2="1483.9" y2="1704.7" stroke="#ffffff" stroke-width="0.8" opacity="0.15"/>
<line x1="1299.8" y1="1739.5" x2="1483.9" y2="1739.5" stroke="#ffffff" stroke-width="0.8" opacity="0.15"/>
<line x1="1299.8" y1="1774.2" x2="1483.9" y2="1774.2" stroke="#ffffff" stroke-width="0.8" opacity="0.15"/>
<line x1="1299.8" y1="1809.0" x2="1483.9" y2="1809.0" stroke="#ffffff" stroke-width="0.8" opacity="0.15"/>
<line x1="1299.8" y1="1843.8" x2="1483.9" y2="1843.8" stroke="#ffffff" stroke-width="0.8" opacity="0.15"/>
<line x1="1299.8" y1="1878.6" x2="1483.9" y2="1878.6" stroke="#ffffff" stroke-width="0.8" opacity="0.15"/>
<line x1="1299.8" y1="1913.3" x2="1483.9" y2="1913.3" stroke="#ffffff" stroke-width="0.8" opacity="0.15"/>
<line x1="1299.8" y1="1948.1" x2="1483.9" y2="1948.1" stroke="#ffffff" stroke-width="0.8" opacity="0.15"/>
<line x1="1299.8" y1="1982.9" x2="1483.9" y2="1982.9" stroke="#ffffff" stroke-width="0.8" opacity="0.15"/>
<line x1="1299.8" y1="2017.6" x2="1483.9" y2="2017.6" stroke="#ffffff" stroke-width="0.8" opacity="0.15"/>
<line x1="1420.5" y1="1497.1" x2="1420.5" y2="1530.9" stroke="#4545ff" stroke-width="2.6"/>
<line x1="1451.0" y1="1497.1" x2="1451.0" y2="1530.9" stroke="#4545ff" stroke-width="2.6"/>
<line x1="1420.5" y1="1531.9" x2="1420.5" y2="1565.6" stroke="#1515ff" stroke-width="2.6"/>
<line x1="1451.0" y1="1531.9" x2="1451.0" y2="1565.6" stroke="#1515ff" stroke-width="2.6"/>
<line x1="1420.5" y1="1566.6" x2="1420.5" y2="1600.4" stroke="#1515ff" stroke-width="2.6"/>
<line x1="1451.0" y1="1566.6" x2="1451.0" y2="1600.4" stroke="#1515ff" stroke-width="2.6"/>
<line x1="1420.5" y1="1601.4" x2="1420.5" y2="1635.2" stroke="#4545ff" stroke-width="2.6"/>
<line x1="1451.0" y1="1601.4" x2="1451.0" y2="1635.2" stroke="#4545ff" stroke-width="2.6"/>
<line x1="1390.0" y1="1530.9" x2="1483.9" y2="1530.9" stroke="#1515ff" stroke-width="2.6"/>
<line x1="1390.0" y1="1565.6" x2="1483.9" y2="1565.6" stroke="#1515ff" stroke-width="2.6"/>
<line x1="1390.0" y1="1600.4" x2="1483.9" y2="1600.4" stroke="#1515ff" stroke-width="2.6"/>
<line x1="1420.5" y1="1636.2" x2="1420.5" y2="1669.9" stroke="#8a8aff" stroke-width="2"/>
<line x1="1451.0" y1="1636.2" x2="1451.0" y2="1669.9" stroke="#8a8aff" stroke-width="2"/>
<line x1="1420.5" y1="1670.9" x2="1420.5" y2="1704.7" stroke="#8a8aff" stroke-width="2"/>
<line x1="1451.0" y1="1670.9" x2="1451.0" y2="1704.7" stroke="#8a8aff" stroke-width="2"/>
<rect x="1299.8" y="1496.1" width="184.1" height="556.3" fill="none" stroke="#333" stroke-width="1.8"/>
<line x1="1294.0" y1="1514.5" x2="1305.0" y2="1514.5" stroke="#000" stroke-width="1.6"/>
<text x="1284.3" y="1522.0" text-anchor="end" font-style="italic">R. arrhizus</text>
<line x1="1294.0" y1="1549.3" x2="1305.0" y2="1549.3" stroke="#000" stroke-width="1.6"/>
<text x="1284.3" y="1556.8" text-anchor="end" font-style="italic">M. circinelloides</text>
<line x1="1294.0" y1="1584.0" x2="1305.0" y2="1584.0" stroke="#000" stroke-width="1.6"/>
<text x="1284.3" y="1591.5" text-anchor="end" font-style="italic">C. bertholletia</text>
<line x1="1294.0" y1="1618.8" x2="1305.0" y2="1618.8" stroke="#000" stroke-width="1.6"/>
<text x="1284.3" y="1626.3" text-anchor="end" font-style="italic">R. delemar</text>
<line x1="1294.0" y1="1653.6" x2="1305.0" y2="1653.6" stroke="#000" stroke-width="1.6"/>
<text x="1284.3" y="1661.1" text-anchor="end" font-style="italic">R. pusillus</text>
<line x1="1294.0" y1="1688.3" x2="1305.0" y2="1688.3" stroke="#000" stroke-width="1.6"/>
<text x="1284.3" y="1695.8" text-anchor="end" font-style="italic">R. microsporus</text>
<line x1="1294.0" y1="1723.1" x2="1305.0" y2="1723.1" stroke="#000" stroke-width="1.6"/>
<text x="1284.3" y="1730.6" text-anchor="end" font-style="italic">A. fumigatus</text>
<line x1="1294.0" y1="1757.9" x2="1305.0" y2="1757.9" stroke="#000" stroke-width="1.6"/>
<text x="1284.3" y="1765.4" text-anchor="end" font-style="italic">A. flavus</text>
<line x1="1294.0" y1="1792.6" x2="1305.0" y2="1792.6" stroke="#000" stroke-width="1.6"/>
<text x="1284.3" y="1800.1" text-anchor="end" font-style="italic">A. terreus</text>
<line x1="1294.0" y1="1827.4" x2="1305.0" y2="1827.4" stroke="#000" stroke-width="1.6"/>
<text x="1284.3" y="1834.9" text-anchor="end" font-style="italic">C. albicans</text>
<line x1="1294.0" y1="1862.2" x2="1305.0" y2="1862.2" stroke="#000" stroke-width="1.6"/>
<text x="1284.3" y="1869.7" text-anchor="end" font-style="italic">C. glabrata</text>
<line x1="1294.0" y1="1896.9" x2="1305.0" y2="1896.9" stroke="#000" stroke-width="1.6"/>
<text x="1284.3" y="1904.4" text-anchor="end" font-style="italic">F. proliferatum</text>
<line x1="1294.0" y1="1931.7" x2="1305.0" y2="1931.7" stroke="#000" stroke-width="1.6"/>
<text x="1284.3" y="1939.2" text-anchor="end" font-style="italic">E. coli</text>
<line x1="1294.0" y1="1966.5" x2="1305.0" y2="1966.5" stroke="#000" stroke-width="1.6"/>
<text x="1284.3" y="1974.0" text-anchor="end" font-style="italic">K. pneumoniae</text>
<line x1="1294.0" y1="2001.2" x2="1305.0" y2="2001.2" stroke="#000" stroke-width="1.6"/>
<text x="1284.3" y="2008.7" text-anchor="end" font-style="italic">P. aeruginosa</text>
<line x1="1294.0" y1="2036.0" x2="1305.0" y2="2036.0" stroke="#000" stroke-width="1.6"/>
<text x="1284.3" y="2043.5" text-anchor="end" font-style="italic">S. aureus</text>
<line x1="1316.4" y1="2047.4" x2="1316.4" y2="2058.9" stroke="#000" stroke-width="1.6"/>
<line x1="1346.5" y1="2047.4" x2="1346.5" y2="2058.9" stroke="#000" stroke-width="1.6"/>
<line x1="1376.5" y1="2047.4" x2="1376.5" y2="2058.9" stroke="#000" stroke-width="1.6"/>
<line x1="1406.7" y1="2047.4" x2="1406.7" y2="2058.9" stroke="#000" stroke-width="1.6"/>
<line x1="1437.0" y1="2047.4" x2="1437.0" y2="2058.9" stroke="#000" stroke-width="1.6"/>
<line x1="1467.0" y1="2047.4" x2="1467.0" y2="2058.9" stroke="#000" stroke-width="1.6"/>
<line x1="1313.0" y1="2068.0" x2="1377.2" y2="2068.0" stroke="#333" stroke-width="1.6"/>
<line x1="1404.6" y1="2068.0" x2="1468.7" y2="2068.0" stroke="#333" stroke-width="1.6"/>
<text transform="translate(1355.0 2088.0) rotate(-45)" text-anchor="end">Medium</text>
<text transform="translate(1450.5 2086.0) rotate(-45)" text-anchor="end">+Albumin</text>
<polyline points="1088.0,1505.1 1083.9,1505.1 1083.9,1697.6 1088.0,1697.6" fill="none" stroke="#333" stroke-width="1.5"/>
<polyline points="1088.0,1714.0 1083.9,1714.0 1083.9,1902.1 1088.0,1902.1" fill="none" stroke="#333" stroke-width="1.5"/>
<polyline points="1088.0,1919.3 1083.9,1919.3 1083.9,2037.1 1088.0,2037.1" fill="none" stroke="#333" stroke-width="1.5"/>
<text transform="translate(1040.0 1600.8) rotate(-90) scale(1.026 1)" text-anchor="middle">Mucorales</text>
<text transform="translate(1066.5 1599.8) rotate(-90)" text-anchor="middle">spp.</text>
<text transform="translate(1067.3 1807.4) rotate(-90)" text-anchor="middle">Other fungi</text>
<text transform="translate(1067.9 1978.2) rotate(-90)" text-anchor="middle">Bacteria</text>
<defs><linearGradient id="cbar" x1="0" y1="0" x2="0" y2="1"><stop offset="0" stop-color="#ff2e2e"/><stop offset="0.113" stop-color="#ff4f4f"/><stop offset="0.241" stop-color="#ff8888"/><stop offset="0.367" stop-color="#ffc0c0"/><stop offset="0.494" stop-color="#ffffff"/><stop offset="0.62" stop-color="#c8c8ff"/><stop offset="0.746" stop-color="#9090ff"/><stop offset="0.874" stop-color="#5858ff"/><stop offset="1" stop-color="#3333ff"/></linearGradient></defs>
<rect x="1540.2" y="1663.2" width="29.5" height="282.0" fill="url(#cbar)" stroke="#222" stroke-width="1.6"/>
<line x1="1535.8" y1="1695.4" x2="1540.2" y2="1695.4" stroke="#000" stroke-width="1.6"/>
<line x1="1569.7" y1="1695.4" x2="1574.0" y2="1695.4" stroke="#000" stroke-width="1.6"/>
<text x="1585.0" y="1703.4">140</text>
<line x1="1535.8" y1="1731.1" x2="1540.2" y2="1731.1" stroke="#000" stroke-width="1.6"/>
<line x1="1569.7" y1="1731.1" x2="1574.0" y2="1731.1" stroke="#000" stroke-width="1.6"/>
<text x="1585.0" y="1739.1">120</text>
<line x1="1535.8" y1="1766.8" x2="1540.2" y2="1766.8" stroke="#000" stroke-width="1.6"/>
<line x1="1569.7" y1="1766.8" x2="1574.0" y2="1766.8" stroke="#000" stroke-width="1.6"/>
<text x="1585.0" y="1774.8">100</text>
<line x1="1535.8" y1="1802.5" x2="1540.2" y2="1802.5" stroke="#000" stroke-width="1.6"/>
<line x1="1569.7" y1="1802.5" x2="1574.0" y2="1802.5" stroke="#000" stroke-width="1.6"/>
<text x="1585.0" y="1810.5">80</text>
<line x1="1535.8" y1="1838.1" x2="1540.2" y2="1838.1" stroke="#000" stroke-width="1.6"/>
<line x1="1569.7" y1="1838.1" x2="1574.0" y2="1838.1" stroke="#000" stroke-width="1.6"/>
<text x="1585.0" y="1846.1">60</text>
<line x1="1535.8" y1="1873.8" x2="1540.2" y2="1873.8" stroke="#000" stroke-width="1.6"/>
<line x1="1569.7" y1="1873.8" x2="1574.0" y2="1873.8" stroke="#000" stroke-width="1.6"/>
<text x="1585.0" y="1881.8">40</text>
<line x1="1535.8" y1="1909.5" x2="1540.2" y2="1909.5" stroke="#000" stroke-width="1.6"/>
<line x1="1569.7" y1="1909.5" x2="1574.0" y2="1909.5" stroke="#000" stroke-width="1.6"/>
<text x="1585.0" y="1917.5">20</text>
<text transform="translate(1660.4 1804.4) rotate(-90)" text-anchor="middle">Growth (%)</text>
</svg>
</body></html>
